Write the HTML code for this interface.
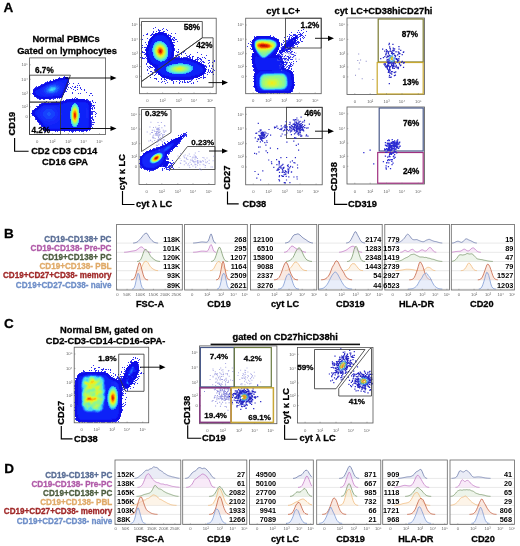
<!DOCTYPE html>
<html><head><meta charset="utf-8"><style>
html,body{margin:0;padding:0;background:#fff;}
svg{display:block;font-family:"Liberation Sans", sans-serif;will-change:transform;}
</style></head><body>
<svg width="520" height="546" viewBox="0 0 520 546">
<rect width="520" height="546" fill="#fff"/>
<text x="3.40" y="12.20" font-size="13.5" text-anchor="start" fill="#000" stroke="#000" stroke-width="0.28" font-weight="bold">A</text>
<text x="66.00" y="42.30" font-size="9.3" text-anchor="middle" fill="#000" stroke="#000" stroke-width="0.28" font-weight="bold">Normal PBMCs</text>
<text x="67.00" y="53.60" font-size="9.3" text-anchor="middle" fill="#000" stroke="#000" stroke-width="0.28" font-weight="bold">Gated on lymphocytes</text>
<defs><clipPath id="d1"><rect x="29.6" y="57.9" width="76.0" height="76.5"/></clipPath><filter id="blurd1" x="-5%" y="-5%" width="110%" height="110%"><feGaussianBlur stdDeviation="0.35"/></filter></defs><g clip-path="url(#d1)"><g filter="url(#blurd1)"><path fill="#3030ee" d="M64 76h1v1h-1zM59 77h1v1h-1zM53 79h1v1h-1zM55 79h1v1h-1zM50 80h1v1h-1zM47 81h1v1h-1zM49 81h1v1h-1zM45 82h2v1h-2zM44 83h1v1h-1zM69 83h1v1h-1zM73 83h1v1h-1zM78 83h1v1h-1zM41 84h2v1h-2zM68 84h1v1h-1zM40 85h1v1h-1zM77 85h1v1h-1zM79 85h1v1h-1zM36 86h1v1h-1zM38 86h1v1h-1zM67 86h1v1h-1zM72 86h1v1h-1zM75 86h1v1h-1zM35 87h2v1h-2zM68 87h1v1h-1zM70 87h1v1h-1zM74 87h2v1h-2zM77 87h1v1h-1zM80 87h1v1h-1zM34 88h1v1h-1zM71 88h1v1h-1zM80 88h1v1h-1zM33 89h1v1h-1zM67 89h1v1h-1zM73 89h1v1h-1zM77 89h1v1h-1zM81 89h1v1h-1zM84 89h1v1h-1zM75 90h1v1h-1zM84 90h1v1h-1zM65 91h2v1h-2zM72 92h1v1h-1zM86 92h1v1h-1zM32 93h1v1h-1zM72 93h1v1h-1zM78 93h1v1h-1zM80 93h1v1h-1zM90 93h2v1h-2zM89 95h1v1h-1zM92 95h1v1h-1zM34 96h1v1h-1zM36 97h1v1h-1zM75 97h1v1h-1zM37 98h2v1h-2zM52 98h4v1h-4zM57 98h1v1h-1zM59 98h1v1h-1zM72 98h1v1h-1zM74 98h1v1h-1zM76 98h2v1h-2zM39 99h2v1h-2zM43 99h2v1h-2zM49 99h2v1h-2zM53 99h1v1h-1zM66 99h3v1h-3zM86 99h2v1h-2zM63 100h1v1h-1zM87 100h2v1h-2zM92 100h1v1h-1zM46 101h1v1h-1zM56 101h1v1h-1zM60 101h2v1h-2zM89 101h2v1h-2zM92 101h1v1h-1zM44 102h2v1h-2zM48 102h1v1h-1zM90 102h1v1h-1zM93 102h1v1h-1zM95 102h1v1h-1zM41 103h1v1h-1zM91 103h1v1h-1zM39 104h1v1h-1zM91 104h1v1h-1zM91 105h4v1h-4zM36 106h2v1h-2zM91 106h1v1h-1zM93 106h1v1h-1zM92 107h1v1h-1zM94 107h1v1h-1zM91 108h2v1h-2zM94 108h1v1h-1zM92 109h1v1h-1zM32 110h1v1h-1zM91 111h4v1h-4zM91 112h2v1h-2zM95 112h1v1h-1zM31 113h1v1h-1zM91 113h2v1h-2zM96 113h1v1h-1zM91 114h2v1h-2zM95 114h1v1h-1zM32 115h1v1h-1zM92 116h1v1h-1zM95 116h1v1h-1zM91 117h2v1h-2zM35 118h1v1h-1zM91 118h2v1h-2zM35 119h1v1h-1zM92 119h2v1h-2zM91 120h1v1h-1zM93 120h1v1h-1zM37 121h1v1h-1zM91 121h1v1h-1zM38 122h1v1h-1zM91 122h4v1h-4zM39 123h1v1h-1zM91 123h1v1h-1zM39 124h2v1h-2zM91 124h3v1h-3zM91 125h1v1h-1zM41 126h1v1h-1zM91 126h1v1h-1zM92 127h1v1h-1zM42 128h1v1h-1zM91 128h1v1h-1zM43 129h1v1h-1zM90 129h1v1h-1zM89 130h1v1h-1zM44 131h2v1h-2zM47 131h1v1h-1zM55 131h1v1h-1zM57 131h1v1h-1zM64 131h1v1h-1zM69 131h1v1h-1zM71 131h3v1h-3zM75 131h1v1h-1zM79 131h1v1h-1zM81 131h3v1h-3zM86 131h1v1h-1zM72 132h1v1h-1z"/><path fill="#0c0ce8" d="M63 77h5v1h-5zM58 78h11v1h-11zM56 79h13v1h-13zM53 80h16v1h-16zM50 81h19v1h-19zM47 82h22v1h-22zM45 83h23v1h-23zM43 84h25v1h-25zM41 85h27v1h-27zM39 86h28v1h-28zM37 87h30v1h-30zM35 88h32v1h-32zM34 89h32v1h-32zM33 90h33v1h-33zM33 91h32v1h-32zM33 92h32v1h-32zM33 93h31v1h-31zM33 94h31v1h-31zM34 95h29v1h-29zM35 96h28v1h-28zM37 97h25v1h-25zM39 98h13v1h-13zM69 99h16v1h-16zM65 100h22v1h-22zM62 101h27v1h-27zM51 102h39v1h-39zM42 103h49v1h-49zM40 104h51v1h-51zM39 105h52v1h-52zM38 106h53v1h-53zM37 107h54v1h-54zM35 108h56v1h-56zM34 109h57v1h-57zM33 110h58v1h-58zM32 111h59v1h-59zM32 112h59v1h-59zM32 113h59v1h-59zM32 114h59v1h-59zM33 115h58v1h-58zM34 116h57v1h-57zM35 117h56v1h-56zM36 118h55v1h-55zM36 119h55v1h-55zM37 120h54v1h-54zM38 121h53v1h-53zM39 122h52v1h-52zM40 123h51v1h-51zM41 124h50v1h-50zM41 125h50v1h-50zM42 126h49v1h-49zM43 127h48v1h-48zM43 128h48v1h-48zM44 129h46v1h-46zM45 130h43v1h-43z"/><path fill="#101af6" d="M65 79h1v1h-1zM59 80h8v1h-8zM56 81h11v1h-11zM53 82h13v1h-13zM50 83h16v1h-16zM47 84h19v1h-19zM45 85h20v1h-20zM43 86h22v1h-22zM41 87h24v1h-24zM40 88h24v1h-24zM38 89h26v1h-26zM36 90h27v1h-27zM35 91h28v1h-28zM35 92h27v1h-27zM36 93h26v1h-26zM36 94h25v1h-25zM38 95h22v1h-22zM40 96h13v1h-13zM67 102h19v1h-19zM63 103h25v1h-25zM59 104h29v1h-29zM43 105h46v1h-46zM41 106h48v1h-48zM40 107h49v1h-49zM39 108h50v1h-50zM38 109h51v1h-51zM36 110h53v1h-53zM35 111h54v1h-54zM35 112h54v1h-54zM35 113h54v1h-54zM35 114h54v1h-54zM36 115h53v1h-53zM37 116h52v1h-52zM38 117h51v1h-51zM38 118h51v1h-51zM39 119h50v1h-50zM40 120h49v1h-49zM41 121h48v1h-48zM42 122h47v1h-47zM43 123h46v1h-46zM43 124h46v1h-46zM44 125h45v1h-45zM45 126h44v1h-44zM45 127h43v1h-43zM47 128h14v1h-14zM64 128h23v1h-23z"/><path fill="#1121f8" d="M62 80h4v1h-4zM57 81h9v1h-9zM54 82h12v1h-12zM51 83h15v1h-15zM48 84h17v1h-17zM46 85h19v1h-19zM44 86h21v1h-21zM42 87h22v1h-22zM40 88h24v1h-24zM39 89h25v1h-25zM37 90h26v1h-26zM36 91h27v1h-27zM36 92h26v1h-26zM36 93h25v1h-25zM37 94h24v1h-24zM39 95h19v1h-19zM44 96h4v1h-4zM66 103h21v1h-21zM63 104h25v1h-25zM44 105h44v1h-44zM42 106h46v1h-46zM41 107h47v1h-47zM39 108h49v1h-49zM38 109h50v1h-50zM37 110h52v1h-52zM36 111h53v1h-53zM35 112h54v1h-54zM35 113h54v1h-54zM36 114h53v1h-53zM37 115h52v1h-52zM37 116h52v1h-52zM38 117h51v1h-51zM39 118h50v1h-50zM40 119h48v1h-48zM41 120h47v1h-47zM42 121h46v1h-46zM42 122h46v1h-46zM43 123h45v1h-45zM44 124h44v1h-44zM45 125h43v1h-43zM46 126h42v1h-42zM47 127h16v1h-16zM65 127h22v1h-22z"/><path fill="#1228fa" d="M56 82h6v1h-6zM52 83h12v1h-12zM49 84h15v1h-15zM46 85h18v1h-18zM45 86h19v1h-19zM43 87h21v1h-21zM42 88h21v1h-21zM41 89h22v1h-22zM40 90h22v1h-22zM40 91h22v1h-22zM40 92h21v1h-21zM40 93h20v1h-20zM41 94h17v1h-17zM43 95h10v1h-10zM74 103h2v1h-2zM73 104h4v1h-4zM72 105h6v1h-6zM43 106h14v1h-14zM72 106h6v1h-6zM42 107h17v1h-17zM71 107h8v1h-8zM41 108h19v1h-19zM71 108h8v1h-8zM86 108h1v1h-1zM39 109h21v1h-21zM71 109h8v1h-8zM86 109h1v1h-1zM38 110h23v1h-23zM71 110h8v1h-8zM86 110h2v1h-2zM38 111h23v1h-23zM70 111h9v1h-9zM86 111h2v1h-2zM37 112h24v1h-24zM70 112h9v1h-9zM86 112h2v1h-2zM37 113h25v1h-25zM70 113h10v1h-10zM86 113h2v1h-2zM37 114h25v1h-25zM70 114h10v1h-10zM86 114h2v1h-2zM38 115h23v1h-23zM70 115h10v1h-10zM86 115h2v1h-2zM38 116h23v1h-23zM70 116h10v1h-10zM86 116h2v1h-2zM39 117h22v1h-22zM70 117h10v1h-10zM86 117h2v1h-2zM40 118h20v1h-20zM70 118h9v1h-9zM41 119h19v1h-19zM71 119h8v1h-8zM42 120h17v1h-17zM71 120h8v1h-8zM43 121h15v1h-15zM71 121h8v1h-8zM44 122h13v1h-13zM71 122h8v1h-8zM45 123h10v1h-10zM71 123h7v1h-7zM47 124h5v1h-5zM72 124h6v1h-6zM72 125h5v1h-5zM73 126h4v1h-4z"/><path fill="#142ffc" d="M54 83h4v1h-4zM50 84h10v1h-10zM48 85h13v1h-13zM46 86h16v1h-16zM44 87h18v1h-18zM43 88h19v1h-19zM43 89h19v1h-19zM42 90h19v1h-19zM42 91h18v1h-18zM43 92h16v1h-16zM44 93h13v1h-13zM45 94h9v1h-9zM74 103h2v1h-2zM73 104h4v1h-4zM72 105h6v1h-6zM72 106h6v1h-6zM45 107h9v1h-9zM71 107h8v1h-8zM43 108h12v1h-12zM71 108h8v1h-8zM42 109h14v1h-14zM71 109h8v1h-8zM41 110h16v1h-16zM71 110h8v1h-8zM41 111h16v1h-16zM70 111h9v1h-9zM40 112h18v1h-18zM70 112h9v1h-9zM40 113h18v1h-18zM70 113h10v1h-10zM40 114h18v1h-18zM70 114h10v1h-10zM40 115h18v1h-18zM70 115h10v1h-10zM41 116h16v1h-16zM70 116h10v1h-10zM41 117h16v1h-16zM70 117h10v1h-10zM42 118h14v1h-14zM70 118h9v1h-9zM43 119h12v1h-12zM71 119h8v1h-8zM44 120h10v1h-10zM71 120h8v1h-8zM48 121h2v1h-2zM71 121h8v1h-8zM71 122h8v1h-8zM71 123h7v1h-7zM72 124h6v1h-6zM72 125h5v1h-5zM73 126h4v1h-4z"/><path fill="#1742fd" d="M53 84h3v1h-3zM49 85h10v1h-10zM47 86h13v1h-13zM46 87h14v1h-14zM45 88h15v1h-15zM44 89h16v1h-16zM44 90h15v1h-15zM44 91h14v1h-14zM45 92h12v1h-12zM46 93h8v1h-8zM74 103h2v1h-2zM73 104h4v1h-4zM72 105h6v1h-6zM72 106h6v1h-6zM71 107h8v1h-8zM71 108h8v1h-8zM46 109h6v1h-6zM71 109h8v1h-8zM45 110h8v1h-8zM71 110h8v1h-8zM44 111h10v1h-10zM70 111h9v1h-9zM43 112h12v1h-12zM70 112h9v1h-9zM43 113h12v1h-12zM70 113h10v1h-10zM43 114h12v1h-12zM70 114h10v1h-10zM43 115h12v1h-12zM70 115h10v1h-10zM44 116h10v1h-10zM70 116h10v1h-10zM45 117h8v1h-8zM70 117h10v1h-10zM46 118h6v1h-6zM70 118h9v1h-9zM71 119h8v1h-8zM71 120h8v1h-8zM71 121h8v1h-8zM71 122h8v1h-8zM71 123h7v1h-7zM72 124h6v1h-6zM72 125h5v1h-5zM73 126h4v1h-4z"/><path fill="#1c58fe" d="M51 85h5v1h-5zM49 86h9v1h-9zM47 87h12v1h-12zM46 88h13v1h-13zM46 89h12v1h-12zM46 90h12v1h-12zM46 91h11v1h-11zM47 92h8v1h-8zM74 103h2v1h-2zM73 104h4v1h-4zM72 105h6v1h-6zM72 106h6v1h-6zM71 107h8v1h-8zM71 108h8v1h-8zM71 109h8v1h-8zM71 110h8v1h-8zM70 111h9v1h-9zM48 112h2v1h-2zM70 112h9v1h-9zM47 113h4v1h-4zM70 113h10v1h-10zM47 114h4v1h-4zM70 114h10v1h-10zM48 115h2v1h-2zM70 115h10v1h-10zM70 116h10v1h-10zM70 117h10v1h-10zM70 118h9v1h-9zM71 119h8v1h-8zM71 120h8v1h-8zM71 121h8v1h-8zM71 122h8v1h-8zM71 123h7v1h-7zM72 124h6v1h-6zM72 125h5v1h-5zM73 126h4v1h-4z"/><path fill="#206eff" d="M50 86h6v1h-6zM49 87h8v1h-8zM48 88h10v1h-10zM47 89h10v1h-10zM47 90h9v1h-9zM47 91h8v1h-8zM49 92h4v1h-4zM74 103h2v1h-2zM73 104h4v1h-4zM72 105h6v1h-6zM72 106h6v1h-6zM71 107h8v1h-8zM71 108h8v1h-8zM71 109h8v1h-8zM71 110h8v1h-8zM70 111h9v1h-9zM70 112h9v1h-9zM70 113h10v1h-10zM70 114h10v1h-10zM70 115h10v1h-10zM70 116h10v1h-10zM70 117h10v1h-10zM70 118h9v1h-9zM71 119h8v1h-8zM71 120h8v1h-8zM71 121h8v1h-8zM71 122h8v1h-8zM71 123h7v1h-7zM72 124h6v1h-6zM72 125h5v1h-5zM73 126h4v1h-4z"/><path fill="#278dfe" d="M50 87h6v1h-6zM49 88h7v1h-7zM48 89h8v1h-8zM48 90h7v1h-7zM49 91h5v1h-5zM74 103h2v1h-2zM73 104h4v1h-4zM72 105h6v1h-6zM72 106h6v1h-6zM71 107h8v1h-8zM71 108h8v1h-8zM71 109h8v1h-8zM71 110h8v1h-8zM70 111h9v1h-9zM70 112h9v1h-9zM70 113h10v1h-10zM70 114h10v1h-10zM70 115h10v1h-10zM70 116h10v1h-10zM70 117h10v1h-10zM70 118h9v1h-9zM71 119h8v1h-8zM71 120h8v1h-8zM71 121h8v1h-8zM71 122h8v1h-8zM71 123h7v1h-7zM72 124h6v1h-6zM72 125h5v1h-5zM73 126h4v1h-4z"/><path fill="#2facfc" d="M51 87h4v1h-4zM50 88h6v1h-6zM49 89h6v1h-6zM49 90h5v1h-5zM74 103h2v1h-2zM73 104h4v1h-4zM72 105h6v1h-6zM72 106h6v1h-6zM71 107h8v1h-8zM71 108h8v1h-8zM71 109h8v1h-8zM71 110h8v1h-8zM70 111h9v1h-9zM70 112h9v1h-9zM70 113h10v1h-10zM70 114h10v1h-10zM70 115h10v1h-10zM70 116h10v1h-10zM70 117h10v1h-10zM70 118h9v1h-9zM71 119h8v1h-8zM71 120h8v1h-8zM71 121h8v1h-8zM71 122h8v1h-8zM71 123h7v1h-7zM72 124h6v1h-6zM72 125h5v1h-5zM73 126h4v1h-4z"/><path fill="#3bc6f7" d="M51 88h4v1h-4zM50 89h5v1h-5zM50 90h3v1h-3zM74 103h1v1h-1zM73 104h4v1h-4zM72 105h5v1h-5zM72 106h6v1h-6zM72 107h6v1h-6zM71 108h8v1h-8zM71 109h8v1h-8zM71 110h8v1h-8zM71 111h8v1h-8zM71 112h8v1h-8zM70 113h9v1h-9zM70 114h9v1h-9zM70 115h9v1h-9zM70 116h9v1h-9zM71 117h8v1h-8zM71 118h8v1h-8zM71 119h8v1h-8zM71 120h8v1h-8zM71 121h8v1h-8zM71 122h7v1h-7zM72 123h6v1h-6zM72 124h6v1h-6zM73 125h4v1h-4zM74 126h2v1h-2z"/><path fill="#4adbef" d="M51 89h2v1h-2zM74 104h2v1h-2zM73 105h4v1h-4zM72 106h6v1h-6zM72 107h6v1h-6zM71 108h7v1h-7zM71 109h8v1h-8zM71 110h8v1h-8zM71 111h8v1h-8zM71 112h8v1h-8zM71 113h8v1h-8zM71 114h8v1h-8zM71 115h8v1h-8zM71 116h8v1h-8zM71 117h8v1h-8zM71 118h8v1h-8zM71 119h8v1h-8zM71 120h8v1h-8zM71 121h7v1h-7zM72 122h6v1h-6zM72 123h6v1h-6zM73 124h4v1h-4zM73 125h3v1h-3z"/><path fill="#5be8dc" d="M73 105h4v1h-4zM73 106h4v1h-4zM72 107h6v1h-6zM72 108h6v1h-6zM71 109h7v1h-7zM71 110h8v1h-8zM71 111h8v1h-8zM71 112h8v1h-8zM71 113h8v1h-8zM71 114h8v1h-8zM71 115h8v1h-8zM71 116h8v1h-8zM71 117h8v1h-8zM71 118h8v1h-8zM71 119h8v1h-8zM71 120h7v1h-7zM72 121h6v1h-6zM72 122h6v1h-6zM72 123h5v1h-5zM73 124h4v1h-4zM74 125h2v1h-2z"/><path fill="#6deec1" d="M74 105h2v1h-2zM73 106h4v1h-4zM72 107h5v1h-5zM72 108h6v1h-6zM72 109h6v1h-6zM72 110h6v1h-6zM71 111h7v1h-7zM71 112h8v1h-8zM71 113h8v1h-8zM71 114h8v1h-8zM71 115h8v1h-8zM71 116h8v1h-8zM71 117h8v1h-8zM71 118h8v1h-8zM71 119h7v1h-7zM72 120h6v1h-6zM72 121h6v1h-6zM72 122h6v1h-6zM73 123h4v1h-4zM74 124h2v1h-2z"/><path fill="#7ef4a5" d="M73 106h3v1h-3zM73 107h4v1h-4zM72 108h5v1h-5zM72 109h6v1h-6zM72 110h6v1h-6zM72 111h6v1h-6zM71 112h7v1h-7zM71 113h7v1h-7zM71 114h8v1h-8zM71 115h8v1h-8zM71 116h7v1h-7zM71 117h7v1h-7zM72 118h6v1h-6zM72 119h6v1h-6zM72 120h6v1h-6zM72 121h6v1h-6zM73 122h4v1h-4zM73 123h4v1h-4zM74 124h1v1h-1z"/><path fill="#92f68c" d="M74 106h2v1h-2zM73 107h4v1h-4zM73 108h4v1h-4zM72 109h6v1h-6zM72 110h6v1h-6zM72 111h6v1h-6zM72 112h6v1h-6zM72 113h6v1h-6zM72 114h6v1h-6zM72 115h6v1h-6zM72 116h6v1h-6zM72 117h6v1h-6zM72 118h6v1h-6zM72 119h6v1h-6zM72 120h6v1h-6zM73 121h4v1h-4zM73 122h4v1h-4zM74 123h2v1h-2z"/><path fill="#a5f873" d="M74 107h2v1h-2zM73 108h4v1h-4zM73 109h4v1h-4zM72 110h6v1h-6zM72 111h6v1h-6zM72 112h6v1h-6zM72 113h6v1h-6zM72 114h6v1h-6zM72 115h6v1h-6zM72 116h6v1h-6zM72 117h6v1h-6zM72 118h6v1h-6zM72 119h6v1h-6zM72 120h5v1h-5zM73 121h4v1h-4zM73 122h3v1h-3z"/><path fill="#b9fa5a" d="M73 108h3v1h-3zM73 109h4v1h-4zM73 110h4v1h-4zM72 111h5v1h-5zM72 112h6v1h-6zM72 113h6v1h-6zM72 114h6v1h-6zM72 115h6v1h-6zM72 116h6v1h-6zM72 117h6v1h-6zM72 118h6v1h-6zM72 119h5v1h-5zM73 120h4v1h-4zM73 121h4v1h-4zM74 122h2v1h-2z"/><path fill="#cdf645" d="M74 108h2v1h-2zM73 109h4v1h-4zM73 110h4v1h-4zM73 111h4v1h-4zM72 112h5v1h-5zM72 113h6v1h-6zM72 114h6v1h-6zM72 115h6v1h-6zM72 116h6v1h-6zM72 117h5v1h-5zM72 118h5v1h-5zM73 119h4v1h-4zM73 120h4v1h-4zM74 121h2v1h-2z"/><path fill="#e0f32f" d="M74 109h2v1h-2zM73 110h4v1h-4zM73 111h4v1h-4zM73 112h4v1h-4zM72 113h5v1h-5zM72 114h5v1h-5zM72 115h5v1h-5zM72 116h5v1h-5zM73 117h4v1h-4zM73 118h4v1h-4zM73 119h4v1h-4zM73 120h3v1h-3zM74 121h2v1h-2z"/><path fill="#f1eb1c" d="M74 109h2v1h-2zM74 110h2v1h-2zM73 111h4v1h-4zM73 112h4v1h-4zM73 113h4v1h-4zM73 114h4v1h-4zM73 115h4v1h-4zM73 116h4v1h-4zM73 117h4v1h-4zM73 118h4v1h-4zM73 119h3v1h-3zM74 120h2v1h-2z"/><path fill="#f6d213" d="M74 110h2v1h-2zM73 111h3v1h-3zM73 112h4v1h-4zM73 113h4v1h-4zM73 114h4v1h-4zM73 115h4v1h-4zM73 116h4v1h-4zM73 117h4v1h-4zM73 118h4v1h-4zM74 119h2v1h-2z"/><path fill="#fab909" d="M74 111h2v1h-2zM73 112h3v1h-3zM73 113h4v1h-4zM73 114h4v1h-4zM73 115h4v1h-4zM73 116h4v1h-4zM73 117h3v1h-3zM74 118h2v1h-2zM74 119h2v1h-2z"/><path fill="#ffa000" d="M74 111h2v1h-2zM74 112h2v1h-2zM73 113h3v1h-3zM73 114h3v1h-3zM73 115h3v1h-3zM73 116h3v1h-3zM74 117h2v1h-2zM74 118h2v1h-2z"/><path fill="#fa7c00" d="M74 112h2v1h-2zM74 113h2v1h-2zM74 114h2v1h-2zM74 115h2v1h-2zM74 116h2v1h-2zM74 117h2v1h-2zM74 118h1v1h-1z"/><path fill="#f45900" d="M74 113h2v1h-2zM74 114h2v1h-2zM74 115h2v1h-2zM74 116h2v1h-2zM74 117h2v1h-2z"/><path fill="#ed3900" d="M74 113h1v1h-1zM74 114h2v1h-2zM74 115h2v1h-2zM74 116h2v1h-2z"/><path fill="#db2b00" d="M74 114h1v1h-1zM74 115h1v1h-1z"/></g></g>
<defs><clipPath id="d2"><rect x="139.6" y="18.2" width="76.6" height="75.5"/></clipPath><filter id="blurd2" x="-5%" y="-5%" width="110%" height="110%"><feGaussianBlur stdDeviation="0.35"/></filter></defs><g clip-path="url(#d2)"><g filter="url(#blurd2)"><path fill="#3030ee" d="M155 27h1v1h-1zM153 28h1v1h-1zM163 28h1v1h-1zM158 29h1v1h-1zM162 29h1v1h-1zM166 29h1v1h-1zM158 30h3v1h-3zM167 30h1v1h-1zM153 31h1v1h-1zM156 31h1v1h-1zM159 31h1v1h-1zM163 31h2v1h-2zM153 32h1v1h-1zM163 32h1v1h-1zM147 33h1v1h-1zM152 33h1v1h-1zM166 33h1v1h-1zM171 33h1v1h-1zM175 33h1v1h-1zM146 34h2v1h-2zM151 34h3v1h-3zM168 34h1v1h-1zM143 35h1v1h-1zM150 35h2v1h-2zM168 35h3v1h-3zM170 36h2v1h-2zM170 37h1v1h-1zM173 37h2v1h-2zM147 38h1v1h-1zM172 38h1v1h-1zM174 38h1v1h-1zM142 39h1v1h-1zM149 39h1v1h-1zM171 39h3v1h-3zM175 39h2v1h-2zM173 40h2v1h-2zM148 41h1v1h-1zM177 41h1v1h-1zM145 42h1v1h-1zM173 42h2v1h-2zM146 44h1v1h-1zM173 44h1v1h-1zM142 45h1v1h-1zM174 45h1v1h-1zM142 47h1v1h-1zM144 47h3v1h-3zM141 48h1v1h-1zM174 48h1v1h-1zM145 49h1v1h-1zM174 49h1v1h-1zM178 49h1v1h-1zM145 50h1v1h-1zM174 50h1v1h-1zM142 51h1v1h-1zM176 51h1v1h-1zM178 51h1v1h-1zM184 51h1v1h-1zM142 52h3v1h-3zM177 52h2v1h-2zM181 52h1v1h-1zM183 52h1v1h-1zM197 52h1v1h-1zM145 53h1v1h-1zM181 53h1v1h-1zM185 53h1v1h-1zM144 54h2v1h-2zM177 54h1v1h-1zM181 54h1v1h-1zM190 54h1v1h-1zM201 54h1v1h-1zM141 55h1v1h-1zM175 55h2v1h-2zM186 55h1v1h-1zM189 55h1v1h-1zM206 55h1v1h-1zM146 56h1v1h-1zM173 56h1v1h-1zM178 56h2v1h-2zM187 56h3v1h-3zM192 56h2v1h-2zM140 57h1v1h-1zM142 57h1v1h-1zM145 57h1v1h-1zM173 57h7v1h-7zM181 57h1v1h-1zM183 57h5v1h-5zM189 57h2v1h-2zM192 57h1v1h-1zM197 57h2v1h-2zM202 57h1v1h-1zM204 57h1v1h-1zM142 58h3v1h-3zM146 58h1v1h-1zM189 58h2v1h-2zM192 58h1v1h-1zM197 58h1v1h-1zM199 58h2v1h-2zM205 58h1v1h-1zM195 59h4v1h-4zM200 59h2v1h-2zM147 60h1v1h-1zM197 60h1v1h-1zM201 60h1v1h-1zM208 60h2v1h-2zM214 60h1v1h-1zM147 61h1v1h-1zM200 61h1v1h-1zM202 61h2v1h-2zM214 61h1v1h-1zM147 62h2v1h-2zM201 62h1v1h-1zM203 62h2v1h-2zM209 62h1v1h-1zM212 62h1v1h-1zM146 63h1v1h-1zM149 63h1v1h-1zM201 63h1v1h-1zM208 63h1v1h-1zM146 64h1v1h-1zM150 64h1v1h-1zM203 64h1v1h-1zM204 65h2v1h-2zM209 65h1v1h-1zM212 65h1v1h-1zM147 66h1v1h-1zM149 66h2v1h-2zM205 66h2v1h-2zM209 66h1v1h-1zM212 66h1v1h-1zM148 67h1v1h-1zM150 67h3v1h-3zM154 67h1v1h-1zM206 67h1v1h-1zM149 68h1v1h-1zM211 68h1v1h-1zM147 69h1v1h-1zM154 69h1v1h-1zM206 69h1v1h-1zM208 69h1v1h-1zM213 69h1v1h-1zM147 70h1v1h-1zM154 70h1v1h-1zM208 70h1v1h-1zM210 70h1v1h-1zM214 70h1v1h-1zM150 71h2v1h-2zM208 71h1v1h-1zM210 71h1v1h-1zM212 71h1v1h-1zM152 72h1v1h-1zM155 72h2v1h-2zM207 72h1v1h-1zM209 72h1v1h-1zM211 72h2v1h-2zM148 73h1v1h-1zM156 73h1v1h-1zM204 73h2v1h-2zM151 74h2v1h-2zM155 74h1v1h-1zM158 74h1v1h-1zM203 74h1v1h-1zM207 74h1v1h-1zM213 74h1v1h-1zM150 75h1v1h-1zM154 75h1v1h-1zM203 75h1v1h-1zM203 76h1v1h-1zM150 77h1v1h-1zM162 77h1v1h-1zM200 77h2v1h-2zM203 77h3v1h-3zM154 78h3v1h-3zM161 78h1v1h-1zM164 78h1v1h-1zM166 78h1v1h-1zM198 78h2v1h-2zM203 78h1v1h-1zM156 79h1v1h-1zM161 79h1v1h-1zM164 79h2v1h-2zM169 79h2v1h-2zM190 79h3v1h-3zM196 79h1v1h-1zM166 80h1v1h-1zM171 80h2v1h-2zM179 80h1v1h-1zM184 80h1v1h-1zM191 80h1v1h-1zM158 81h1v1h-1zM162 81h1v1h-1zM164 81h1v1h-1zM173 81h1v1h-1zM176 81h1v1h-1zM180 81h1v1h-1zM182 81h1v1h-1zM184 81h1v1h-1zM187 81h1v1h-1zM189 81h2v1h-2zM197 81h1v1h-1zM161 82h1v1h-1zM167 82h1v1h-1zM173 82h1v1h-1zM179 82h1v1h-1zM182 82h1v1h-1zM184 82h2v1h-2zM187 82h2v1h-2zM193 82h1v1h-1zM165 83h1v1h-1zM173 83h1v1h-1zM179 83h1v1h-1zM191 83h1v1h-1zM193 83h1v1h-1z"/><path fill="#0c0ce8" d="M158 32h5v1h-5zM155 33h11v1h-11zM154 34h13v1h-13zM153 35h15v1h-15zM152 36h17v1h-17zM151 37h19v1h-19zM150 38h21v1h-21zM150 39h21v1h-21zM149 40h23v1h-23zM149 41h23v1h-23zM148 42h25v1h-25zM148 43h25v1h-25zM148 44h25v1h-25zM147 45h27v1h-27zM147 46h27v1h-27zM147 47h27v1h-27zM146 48h28v1h-28zM146 49h28v1h-28zM146 50h28v1h-28zM146 51h28v1h-28zM146 52h28v1h-28zM146 53h28v1h-28zM146 54h28v1h-28zM146 55h28v1h-28zM147 56h26v1h-26zM147 57h26v1h-26zM147 58h42v1h-42zM147 59h46v1h-46zM148 60h48v1h-48zM148 61h50v1h-50zM149 62h51v1h-51zM150 63h51v1h-51zM151 64h52v1h-52zM152 65h52v1h-52zM153 66h52v1h-52zM155 67h50v1h-50zM155 68h51v1h-51zM155 69h51v1h-51zM155 70h51v1h-51zM156 71h50v1h-50zM157 72h48v1h-48zM158 73h46v1h-46zM159 74h44v1h-44zM160 75h42v1h-42zM161 76h39v1h-39zM163 77h35v1h-35zM167 78h27v1h-27zM171 79h19v1h-19z"/><path fill="#101af6" d="M157 35h7v1h-7zM155 36h11v1h-11zM154 37h13v1h-13zM153 38h15v1h-15zM152 39h17v1h-17zM152 40h17v1h-17zM152 41h18v1h-18zM151 42h19v1h-19zM151 43h19v1h-19zM150 44h21v1h-21zM150 45h21v1h-21zM150 46h21v1h-21zM149 47h23v1h-23zM149 48h23v1h-23zM149 49h23v1h-23zM149 50h23v1h-23zM148 51h24v1h-24zM148 52h23v1h-23zM148 53h23v1h-23zM149 54h22v1h-22zM149 55h22v1h-22zM149 56h22v1h-22zM149 57h21v1h-21zM150 58h19v1h-19zM150 59h18v1h-18zM151 60h17v1h-17zM170 60h17v1h-17zM151 61h40v1h-40zM152 62h42v1h-42zM153 63h44v1h-44zM156 64h42v1h-42zM158 65h42v1h-42zM158 66h43v1h-43zM158 67h44v1h-44zM158 68h45v1h-45zM158 69h45v1h-45zM158 70h45v1h-45zM159 71h44v1h-44zM160 72h42v1h-42zM161 73h39v1h-39zM162 74h37v1h-37zM165 75h30v1h-30zM169 76h22v1h-22z"/><path fill="#1121f8" d="M157 36h7v1h-7zM156 37h9v1h-9zM155 38h11v1h-11zM154 39h13v1h-13zM153 40h15v1h-15zM153 41h15v1h-15zM152 42h17v1h-17zM152 43h17v1h-17zM151 44h18v1h-18zM151 45h19v1h-19zM151 46h19v1h-19zM150 47h20v1h-20zM150 48h21v1h-21zM150 49h21v1h-21zM150 50h21v1h-21zM149 51h21v1h-21zM149 52h21v1h-21zM150 53h20v1h-20zM150 54h20v1h-20zM150 55h20v1h-20zM150 56h19v1h-19zM150 57h19v1h-19zM151 58h17v1h-17zM151 59h16v1h-16zM152 60h14v1h-14zM153 61h12v1h-12zM171 61h16v1h-16zM154 62h9v1h-9zM166 62h24v1h-24zM157 63h2v1h-2zM163 63h31v1h-31zM161 64h35v1h-35zM160 65h38v1h-38zM159 66h40v1h-40zM159 67h42v1h-42zM159 68h43v1h-43zM159 69h43v1h-43zM160 70h42v1h-42zM161 71h40v1h-40zM162 72h38v1h-38zM163 73h35v1h-35zM165 74h30v1h-30zM169 75h22v1h-22z"/><path fill="#1228fa" d="M157 41h5v1h-5zM155 42h9v1h-9zM154 43h11v1h-11zM154 44h12v1h-12zM153 45h14v1h-14zM153 46h14v1h-14zM153 47h15v1h-15zM152 48h16v1h-16zM152 49h16v1h-16zM152 50h16v1h-16zM152 51h16v1h-16zM153 52h15v1h-15zM153 53h15v1h-15zM153 54h15v1h-15zM153 55h15v1h-15zM154 56h14v1h-14zM154 57h13v1h-13zM155 58h12v1h-12zM156 59h10v1h-10zM158 60h7v1h-7zM160 61h2v1h-2zM178 63h5v1h-5zM172 64h17v1h-17zM169 65h22v1h-22zM167 66h26v1h-26zM166 67h27v1h-27zM166 68h27v1h-27zM166 69h27v1h-27zM166 70h26v1h-26zM167 71h24v1h-24zM169 72h20v1h-20zM172 73h14v1h-14z"/><path fill="#142ffc" d="M157 41h5v1h-5zM155 42h9v1h-9zM154 43h11v1h-11zM154 44h12v1h-12zM153 45h14v1h-14zM153 46h14v1h-14zM153 47h15v1h-15zM152 48h16v1h-16zM152 49h16v1h-16zM152 50h16v1h-16zM152 51h16v1h-16zM153 52h15v1h-15zM153 53h15v1h-15zM153 54h15v1h-15zM153 55h15v1h-15zM154 56h14v1h-14zM154 57h13v1h-13zM155 58h12v1h-12zM156 59h10v1h-10zM158 60h7v1h-7zM160 61h2v1h-2zM178 63h5v1h-5zM172 64h17v1h-17zM169 65h22v1h-22zM167 66h26v1h-26zM166 67h27v1h-27zM166 68h27v1h-27zM166 69h27v1h-27zM166 70h26v1h-26zM167 71h24v1h-24zM169 72h20v1h-20zM172 73h14v1h-14z"/><path fill="#1742fd" d="M157 41h5v1h-5zM155 42h9v1h-9zM154 43h11v1h-11zM154 44h12v1h-12zM153 45h14v1h-14zM153 46h14v1h-14zM153 47h15v1h-15zM152 48h16v1h-16zM152 49h16v1h-16zM152 50h16v1h-16zM152 51h16v1h-16zM153 52h15v1h-15zM153 53h15v1h-15zM153 54h15v1h-15zM153 55h15v1h-15zM154 56h14v1h-14zM154 57h13v1h-13zM155 58h12v1h-12zM156 59h10v1h-10zM158 60h7v1h-7zM160 61h2v1h-2zM178 63h5v1h-5zM172 64h17v1h-17zM169 65h22v1h-22zM167 66h26v1h-26zM166 67h27v1h-27zM166 68h27v1h-27zM166 69h27v1h-27zM166 70h26v1h-26zM167 71h24v1h-24zM169 72h20v1h-20zM172 73h14v1h-14z"/><path fill="#1c58fe" d="M157 41h5v1h-5zM155 42h9v1h-9zM154 43h11v1h-11zM154 44h12v1h-12zM153 45h14v1h-14zM153 46h14v1h-14zM153 47h15v1h-15zM152 48h16v1h-16zM152 49h16v1h-16zM152 50h16v1h-16zM152 51h16v1h-16zM153 52h15v1h-15zM153 53h15v1h-15zM153 54h15v1h-15zM153 55h15v1h-15zM154 56h14v1h-14zM154 57h13v1h-13zM155 58h12v1h-12zM156 59h10v1h-10zM158 60h7v1h-7zM160 61h2v1h-2zM178 63h5v1h-5zM172 64h17v1h-17zM169 65h22v1h-22zM167 66h26v1h-26zM166 67h27v1h-27zM166 68h27v1h-27zM166 69h27v1h-27zM166 70h26v1h-26zM167 71h24v1h-24zM169 72h20v1h-20zM172 73h14v1h-14z"/><path fill="#206eff" d="M157 41h5v1h-5zM155 42h9v1h-9zM154 43h11v1h-11zM154 44h12v1h-12zM153 45h14v1h-14zM153 46h14v1h-14zM153 47h15v1h-15zM152 48h16v1h-16zM152 49h16v1h-16zM152 50h16v1h-16zM152 51h16v1h-16zM153 52h15v1h-15zM153 53h15v1h-15zM153 54h15v1h-15zM153 55h15v1h-15zM154 56h14v1h-14zM154 57h13v1h-13zM155 58h12v1h-12zM156 59h10v1h-10zM158 60h7v1h-7zM160 61h2v1h-2zM178 63h5v1h-5zM172 64h17v1h-17zM169 65h22v1h-22zM167 66h26v1h-26zM166 67h27v1h-27zM166 68h27v1h-27zM166 69h27v1h-27zM166 70h26v1h-26zM167 71h24v1h-24zM169 72h20v1h-20zM172 73h14v1h-14z"/><path fill="#278dfe" d="M157 41h5v1h-5zM155 42h9v1h-9zM154 43h11v1h-11zM154 44h12v1h-12zM153 45h14v1h-14zM153 46h14v1h-14zM153 47h15v1h-15zM152 48h16v1h-16zM152 49h16v1h-16zM152 50h16v1h-16zM152 51h16v1h-16zM153 52h15v1h-15zM153 53h15v1h-15zM153 54h15v1h-15zM153 55h15v1h-15zM154 56h14v1h-14zM154 57h13v1h-13zM155 58h12v1h-12zM156 59h10v1h-10zM158 60h7v1h-7zM160 61h2v1h-2zM178 63h5v1h-5zM172 64h17v1h-17zM169 65h22v1h-22zM167 66h26v1h-26zM166 67h27v1h-27zM166 68h27v1h-27zM166 69h27v1h-27zM166 70h26v1h-26zM167 71h24v1h-24zM169 72h20v1h-20zM172 73h14v1h-14z"/><path fill="#2facfc" d="M157 41h5v1h-5zM155 42h9v1h-9zM154 43h11v1h-11zM154 44h12v1h-12zM153 45h14v1h-14zM153 46h14v1h-14zM153 47h15v1h-15zM152 48h16v1h-16zM152 49h16v1h-16zM152 50h16v1h-16zM152 51h16v1h-16zM153 52h15v1h-15zM153 53h15v1h-15zM153 54h15v1h-15zM153 55h15v1h-15zM154 56h14v1h-14zM154 57h13v1h-13zM155 58h12v1h-12zM156 59h10v1h-10zM158 60h7v1h-7zM160 61h2v1h-2zM178 63h5v1h-5zM172 64h17v1h-17zM169 65h22v1h-22zM167 66h26v1h-26zM166 67h27v1h-27zM166 68h27v1h-27zM166 69h27v1h-27zM166 70h26v1h-26zM167 71h24v1h-24zM169 72h20v1h-20zM172 73h14v1h-14z"/><path fill="#3bc6f7" d="M158 41h3v1h-3zM156 42h7v1h-7zM155 43h10v1h-10zM154 44h12v1h-12zM154 45h12v1h-12zM153 46h14v1h-14zM153 47h14v1h-14zM153 48h15v1h-15zM153 49h15v1h-15zM153 50h15v1h-15zM153 51h15v1h-15zM153 52h15v1h-15zM153 53h15v1h-15zM153 54h15v1h-15zM154 55h14v1h-14zM154 56h13v1h-13zM155 57h12v1h-12zM156 58h10v1h-10zM157 59h8v1h-8zM159 60h5v1h-5zM174 64h13v1h-13zM170 65h20v1h-20zM169 66h22v1h-22zM167 67h25v1h-25zM167 68h25v1h-25zM167 69h25v1h-25zM167 70h24v1h-24zM168 71h22v1h-22zM170 72h17v1h-17zM174 73h9v1h-9z"/><path fill="#4adbef" d="M157 42h5v1h-5zM156 43h8v1h-8zM155 44h10v1h-10zM154 45h12v1h-12zM154 46h12v1h-12zM153 47h14v1h-14zM153 48h14v1h-14zM153 49h14v1h-14zM153 50h15v1h-15zM153 51h15v1h-15zM153 52h15v1h-15zM154 53h14v1h-14zM154 54h13v1h-13zM154 55h13v1h-13zM155 56h12v1h-12zM155 57h11v1h-11zM156 58h9v1h-9zM158 59h6v1h-6zM160 60h2v1h-2zM176 64h8v1h-8zM172 65h16v1h-16zM170 66h20v1h-20zM168 67h23v1h-23zM168 68h23v1h-23zM168 69h23v1h-23zM168 70h22v1h-22zM169 71h20v1h-20zM172 72h14v1h-14z"/><path fill="#5be8dc" d="M159 42h2v1h-2zM156 43h7v1h-7zM155 44h9v1h-9zM155 45h10v1h-10zM154 46h12v1h-12zM154 47h12v1h-12zM154 48h13v1h-13zM154 49h13v1h-13zM153 50h14v1h-14zM154 51h13v1h-13zM154 52h13v1h-13zM154 53h13v1h-13zM154 54h13v1h-13zM155 55h12v1h-12zM155 56h11v1h-11zM156 57h10v1h-10zM157 58h8v1h-8zM159 59h4v1h-4zM174 65h13v1h-13zM171 66h18v1h-18zM170 67h20v1h-20zM169 68h21v1h-21zM169 69h21v1h-21zM169 70h20v1h-20zM171 71h16v1h-16zM174 72h10v1h-10z"/><path fill="#6deec1" d="M157 43h5v1h-5zM156 44h8v1h-8zM155 45h10v1h-10zM155 46h10v1h-10zM154 47h12v1h-12zM154 48h12v1h-12zM154 49h13v1h-13zM154 50h13v1h-13zM154 51h13v1h-13zM154 52h13v1h-13zM154 53h13v1h-13zM155 54h12v1h-12zM155 55h11v1h-11zM156 56h10v1h-10zM157 57h8v1h-8zM158 58h6v1h-6zM160 59h2v1h-2zM176 65h9v1h-9zM172 66h16v1h-16zM171 67h18v1h-18zM170 68h19v1h-19zM170 69h19v1h-19zM171 70h17v1h-17zM172 71h14v1h-14zM177 72h3v1h-3z"/><path fill="#7ef4a5" d="M159 43h2v1h-2zM157 44h6v1h-6zM156 45h8v1h-8zM155 46h10v1h-10zM155 47h11v1h-11zM154 48h12v1h-12zM154 49h12v1h-12zM154 50h12v1h-12zM154 51h13v1h-13zM154 52h13v1h-13zM155 53h11v1h-11zM155 54h11v1h-11zM156 55h10v1h-10zM156 56h9v1h-9zM157 57h7v1h-7zM159 58h4v1h-4zM179 65h2v1h-2zM174 66h12v1h-12zM172 67h16v1h-16zM171 68h17v1h-17zM171 69h17v1h-17zM172 70h15v1h-15zM174 71h10v1h-10z"/><path fill="#92f68c" d="M158 44h4v1h-4zM156 45h8v1h-8zM156 46h8v1h-8zM155 47h10v1h-10zM155 48h11v1h-11zM155 49h11v1h-11zM155 50h11v1h-11zM155 51h11v1h-11zM155 52h11v1h-11zM155 53h11v1h-11zM156 54h10v1h-10zM156 55h9v1h-9zM157 56h8v1h-8zM158 57h6v1h-6zM160 58h2v1h-2zM175 66h9v1h-9zM173 67h13v1h-13zM172 68h15v1h-15zM172 69h15v1h-15zM173 70h12v1h-12zM176 71h6v1h-6z"/><path fill="#a5f873" d="M159 44h2v1h-2zM157 45h6v1h-6zM156 46h8v1h-8zM156 47h9v1h-9zM155 48h10v1h-10zM155 49h10v1h-10zM155 50h11v1h-11zM155 51h11v1h-11zM155 52h11v1h-11zM156 53h10v1h-10zM156 54h9v1h-9zM157 55h8v1h-8zM157 56h7v1h-7zM159 57h4v1h-4zM178 66h4v1h-4zM174 67h11v1h-11zM173 68h13v1h-13zM173 69h12v1h-12zM175 70h9v1h-9z"/><path fill="#b9fa5a" d="M158 45h4v1h-4zM157 46h6v1h-6zM156 47h8v1h-8zM156 48h9v1h-9zM156 49h9v1h-9zM155 50h10v1h-10zM155 51h10v1h-10zM156 52h9v1h-9zM156 53h9v1h-9zM156 54h9v1h-9zM157 55h7v1h-7zM158 56h6v1h-6zM160 57h2v1h-2zM176 67h8v1h-8zM174 68h11v1h-11zM175 69h9v1h-9zM176 70h6v1h-6z"/><path fill="#cdf645" d="M159 45h2v1h-2zM157 46h6v1h-6zM157 47h7v1h-7zM156 48h8v1h-8zM156 49h9v1h-9zM156 50h9v1h-9zM156 51h9v1h-9zM156 52h9v1h-9zM156 53h9v1h-9zM157 54h7v1h-7zM158 55h6v1h-6zM159 56h4v1h-4zM178 67h4v1h-4zM176 68h7v1h-7zM176 69h7v1h-7z"/><path fill="#e0f32f" d="M158 46h4v1h-4zM157 47h6v1h-6zM157 48h7v1h-7zM156 49h8v1h-8zM156 50h8v1h-8zM156 51h9v1h-9zM156 52h9v1h-9zM157 53h7v1h-7zM157 54h7v1h-7zM158 55h5v1h-5zM160 56h1v1h-1zM177 68h5v1h-5zM177 69h4v1h-4z"/><path fill="#f1eb1c" d="M159 46h2v1h-2zM158 47h5v1h-5zM157 48h6v1h-6zM157 49h7v1h-7zM157 50h7v1h-7zM157 51h7v1h-7zM157 52h7v1h-7zM157 53h7v1h-7zM158 54h5v1h-5zM159 55h3v1h-3zM178 68h3v1h-3z"/><path fill="#f6d213" d="M158 47h4v1h-4zM158 48h5v1h-5zM157 49h6v1h-6zM157 50h7v1h-7zM157 51h7v1h-7zM157 52h7v1h-7zM158 53h5v1h-5zM158 54h5v1h-5zM160 55h1v1h-1z"/><path fill="#fab909" d="M159 47h2v1h-2zM158 48h4v1h-4zM158 49h5v1h-5zM157 50h6v1h-6zM157 51h6v1h-6zM158 52h5v1h-5zM158 53h5v1h-5zM159 54h3v1h-3z"/><path fill="#ffa000" d="M159 48h3v1h-3zM158 49h5v1h-5zM158 50h5v1h-5zM158 51h5v1h-5zM158 52h5v1h-5zM159 53h3v1h-3zM160 54h1v1h-1z"/><path fill="#fa7c00" d="M159 48h2v1h-2zM158 49h4v1h-4zM158 50h5v1h-5zM158 51h5v1h-5zM158 52h4v1h-4zM159 53h3v1h-3z"/><path fill="#f45900" d="M159 49h3v1h-3zM159 50h3v1h-3zM159 51h3v1h-3zM159 52h3v1h-3zM160 53h1v1h-1z"/><path fill="#ed3900" d="M160 49h1v1h-1zM159 50h3v1h-3zM159 51h3v1h-3zM159 52h3v1h-3z"/><path fill="#db2b00" d="M159 50h2v1h-2zM159 51h2v1h-2zM160 52h1v1h-1z"/><path fill="#ca1d00" d="M160 50h1v1h-1zM160 51h1v1h-1z"/><path fill="#b90f00" d="M160 51h1v1h-1z"/></g></g>
<defs><clipPath id="d3"><rect x="139.0" y="107.5" width="76.0" height="77.0"/></clipPath><filter id="blurd3" x="-5%" y="-5%" width="110%" height="110%"><feGaussianBlur stdDeviation="0.35"/></filter></defs><g clip-path="url(#d3)"><g filter="url(#blurd3)"><path fill="#3030ee" d="M186 132h1v1h-1zM183 133h3v1h-3zM181 134h1v1h-1zM183 134h4v1h-4zM178 135h1v1h-1zM180 135h1v1h-1zM184 135h3v1h-3zM183 136h2v1h-2zM186 136h1v1h-1zM183 137h1v1h-1zM175 138h1v1h-1zM182 138h1v1h-1zM171 139h1v1h-1zM173 139h1v1h-1zM181 139h1v1h-1zM171 140h1v1h-1zM180 140h1v1h-1zM167 141h1v1h-1zM180 141h1v1h-1zM164 142h1v1h-1zM179 142h1v1h-1zM164 143h2v1h-2zM178 143h2v1h-2zM162 144h1v1h-1zM162 145h1v1h-1zM160 146h1v1h-1zM176 146h2v1h-2zM156 147h2v1h-2zM153 148h2v1h-2zM150 149h1v1h-1zM172 150h1v1h-1zM146 151h1v1h-1zM170 151h2v1h-2zM169 152h1v1h-1zM143 153h1v1h-1zM168 153h2v1h-2zM168 154h1v1h-1zM140 156h1v1h-1zM167 156h1v1h-1zM166 157h2v1h-2zM166 158h3v1h-3zM139 159h1v1h-1zM166 159h3v1h-3zM172 160h1v1h-1zM168 161h1v1h-1zM169 162h2v1h-2zM173 162h1v1h-1zM139 163h1v1h-1zM168 163h1v1h-1zM170 163h3v1h-3zM174 163h1v1h-1zM171 164h1v1h-1zM173 164h1v1h-1zM140 165h1v1h-1zM162 165h1v1h-1zM167 165h1v1h-1zM169 165h4v1h-4zM140 166h2v1h-2zM161 166h2v1h-2zM166 166h1v1h-1zM168 166h3v1h-3zM172 166h1v1h-1zM140 167h2v1h-2zM165 167h5v1h-5zM171 167h2v1h-2zM141 168h1v1h-1zM143 168h1v1h-1zM157 168h1v1h-1zM162 168h1v1h-1zM164 168h1v1h-1zM166 168h1v1h-1zM169 168h2v1h-2zM173 168h1v1h-1zM144 169h2v1h-2zM155 169h1v1h-1zM162 169h1v1h-1zM166 169h3v1h-3zM147 170h1v1h-1zM149 170h5v1h-5zM162 170h1v1h-1zM169 170h1v1h-1zM149 171h1v1h-1z"/><path fill="#0c0ce8" d="M182 135h2v1h-2zM180 136h3v1h-3zM178 137h4v1h-4zM176 138h6v1h-6zM174 139h7v1h-7zM172 140h8v1h-8zM170 141h10v1h-10zM168 142h11v1h-11zM167 143h11v1h-11zM165 144h13v1h-13zM163 145h14v1h-14zM161 146h15v1h-15zM158 147h17v1h-17zM155 148h19v1h-19zM152 149h21v1h-21zM149 150h22v1h-22zM147 151h23v1h-23zM145 152h24v1h-24zM144 153h24v1h-24zM143 154h24v1h-24zM142 155h25v1h-25zM141 156h26v1h-26zM140 157h26v1h-26zM140 158h26v1h-26zM140 159h26v1h-26zM140 160h26v1h-26zM140 161h28v1h-28zM140 162h29v1h-29zM140 163h28v1h-28zM140 164h28v1h-28zM141 165h21v1h-21zM163 165h4v1h-4zM142 166h19v1h-19zM163 166h3v1h-3zM142 167h17v1h-17zM144 168h13v1h-13zM146 169h9v1h-9z"/><path fill="#101af6" d="M171 143h3v1h-3zM169 144h5v1h-5zM167 145h6v1h-6zM165 146h7v1h-7zM163 147h8v1h-8zM161 148h9v1h-9zM158 149h11v1h-11zM155 150h13v1h-13zM152 151h14v1h-14zM149 152h16v1h-16zM147 153h18v1h-18zM145 154h20v1h-20zM144 155h21v1h-21zM143 156h22v1h-22zM142 157h22v1h-22zM142 158h22v1h-22zM142 159h22v1h-22zM142 160h21v1h-21zM142 161h21v1h-21zM142 162h20v1h-20zM142 163h19v1h-19zM143 164h17v1h-17zM143 165h16v1h-16zM144 166h13v1h-13zM146 167h9v1h-9z"/><path fill="#1121f8" d="M172 143h1v1h-1zM170 144h3v1h-3zM168 145h5v1h-5zM166 146h6v1h-6zM164 147h7v1h-7zM162 148h8v1h-8zM159 149h10v1h-10zM156 150h11v1h-11zM153 151h13v1h-13zM150 152h15v1h-15zM148 153h17v1h-17zM146 154h19v1h-19zM145 155h19v1h-19zM144 156h20v1h-20zM143 157h21v1h-21zM142 158h22v1h-22zM142 159h22v1h-22zM142 160h21v1h-21zM142 161h20v1h-20zM142 162h19v1h-19zM143 163h18v1h-18zM143 164h17v1h-17zM144 165h14v1h-14zM145 166h11v1h-11zM148 167h6v1h-6z"/><path fill="#1228fa" d="M170 144h2v1h-2zM168 145h4v1h-4zM167 146h4v1h-4zM165 147h6v1h-6zM164 148h6v1h-6zM161 149h7v1h-7zM158 150h9v1h-9zM155 151h10v1h-10zM152 152h12v1h-12zM149 153h15v1h-15zM147 154h17v1h-17zM146 155h18v1h-18zM145 156h19v1h-19zM144 157h19v1h-19zM143 158h20v1h-20zM143 159h20v1h-20zM143 160h19v1h-19zM143 161h18v1h-18zM143 162h18v1h-18zM143 163h17v1h-17zM144 164h15v1h-15zM144 165h13v1h-13zM146 166h8v1h-8z"/><path fill="#142ffc" d="M169 145h2v1h-2zM167 146h4v1h-4zM166 147h4v1h-4zM165 148h4v1h-4zM164 149h4v1h-4zM163 150h4v1h-4zM162 151h3v1h-3zM158 152h4v1h-4zM155 153h8v1h-8zM154 154h9v1h-9zM152 155h11v1h-11zM151 156h12v1h-12zM151 157h12v1h-12zM150 158h12v1h-12zM149 159h12v1h-12zM149 160h11v1h-11zM149 161h10v1h-10zM149 162h8v1h-8zM151 163h4v1h-4z"/><path fill="#1742fd" d="M168 146h2v1h-2zM166 147h4v1h-4zM165 148h4v1h-4zM164 149h3v1h-3zM164 150h2v1h-2zM158 152h3v1h-3zM156 153h7v1h-7zM154 154h9v1h-9zM153 155h10v1h-10zM152 156h11v1h-11zM151 157h11v1h-11zM150 158h12v1h-12zM150 159h11v1h-11zM149 160h11v1h-11zM149 161h10v1h-10zM150 162h7v1h-7zM151 163h4v1h-4z"/><path fill="#1c58fe" d="M167 147h2v1h-2zM166 148h2v1h-2zM165 149h2v1h-2zM159 152h1v1h-1zM156 153h6v1h-6zM154 154h9v1h-9zM153 155h10v1h-10zM152 156h11v1h-11zM151 157h11v1h-11zM150 158h12v1h-12zM150 159h11v1h-11zM150 160h10v1h-10zM150 161h9v1h-9zM150 162h7v1h-7zM152 163h2v1h-2z"/><path fill="#206eff" d="M156 153h6v1h-6zM154 154h9v1h-9zM153 155h10v1h-10zM152 156h11v1h-11zM151 157h11v1h-11zM150 158h11v1h-11zM150 159h11v1h-11zM150 160h10v1h-10zM150 161h8v1h-8zM150 162h6v1h-6z"/><path fill="#278dfe" d="M157 153h5v1h-5zM155 154h7v1h-7zM153 155h10v1h-10zM152 156h10v1h-10zM151 157h11v1h-11zM151 158h10v1h-10zM150 159h10v1h-10zM150 160h9v1h-9zM150 161h8v1h-8zM151 162h5v1h-5z"/><path fill="#2facfc" d="M157 153h4v1h-4zM155 154h7v1h-7zM153 155h9v1h-9zM152 156h10v1h-10zM151 157h11v1h-11zM151 158h10v1h-10zM150 159h10v1h-10zM150 160h9v1h-9zM150 161h8v1h-8zM151 162h5v1h-5z"/><path fill="#3bc6f7" d="M157 153h4v1h-4zM155 154h7v1h-7zM154 155h8v1h-8zM153 156h9v1h-9zM152 157h10v1h-10zM151 158h10v1h-10zM151 159h9v1h-9zM150 160h9v1h-9zM151 161h7v1h-7zM152 162h3v1h-3z"/><path fill="#4adbef" d="M158 153h2v1h-2zM155 154h7v1h-7zM154 155h8v1h-8zM153 156h9v1h-9zM152 157h9v1h-9zM151 158h10v1h-10zM151 159h9v1h-9zM151 160h8v1h-8zM151 161h6v1h-6zM152 162h3v1h-3z"/><path fill="#5be8dc" d="M156 154h5v1h-5zM154 155h8v1h-8zM153 156h9v1h-9zM152 157h9v1h-9zM151 158h10v1h-10zM151 159h9v1h-9zM151 160h7v1h-7zM151 161h6v1h-6z"/><path fill="#6deec1" d="M156 154h5v1h-5zM154 155h7v1h-7zM153 156h8v1h-8zM152 157h9v1h-9zM152 158h8v1h-8zM151 159h8v1h-8zM151 160h7v1h-7zM152 161h5v1h-5z"/><path fill="#7ef4a5" d="M156 154h5v1h-5zM155 155h6v1h-6zM153 156h8v1h-8zM152 157h9v1h-9zM152 158h8v1h-8zM151 159h8v1h-8zM151 160h7v1h-7zM152 161h4v1h-4z"/><path fill="#92f68c" d="M157 154h3v1h-3zM155 155h6v1h-6zM154 156h7v1h-7zM153 157h8v1h-8zM152 158h8v1h-8zM152 159h7v1h-7zM152 160h6v1h-6zM152 161h4v1h-4z"/><path fill="#a5f873" d="M157 154h2v1h-2zM155 155h6v1h-6zM154 156h7v1h-7zM153 157h7v1h-7zM152 158h8v1h-8zM152 159h7v1h-7zM152 160h5v1h-5zM153 161h2v1h-2z"/><path fill="#b9fa5a" d="M155 155h5v1h-5zM154 156h6v1h-6zM153 157h7v1h-7zM152 158h7v1h-7zM152 159h7v1h-7zM152 160h5v1h-5z"/><path fill="#cdf645" d="M156 155h4v1h-4zM154 156h6v1h-6zM153 157h7v1h-7zM153 158h6v1h-6zM152 159h6v1h-6zM153 160h4v1h-4z"/><path fill="#e0f32f" d="M156 155h4v1h-4zM155 156h5v1h-5zM154 157h6v1h-6zM153 158h6v1h-6zM153 159h5v1h-5zM153 160h4v1h-4z"/><path fill="#f1eb1c" d="M157 155h2v1h-2zM155 156h5v1h-5zM154 157h5v1h-5zM153 158h6v1h-6zM153 159h5v1h-5zM153 160h3v1h-3z"/><path fill="#f6d213" d="M157 155h1v1h-1zM155 156h4v1h-4zM154 157h5v1h-5zM153 158h6v1h-6zM153 159h5v1h-5zM154 160h2v1h-2z"/><path fill="#fab909" d="M155 156h4v1h-4zM154 157h5v1h-5zM154 158h4v1h-4zM153 159h4v1h-4z"/><path fill="#ffa000" d="M156 156h3v1h-3zM154 157h5v1h-5zM154 158h4v1h-4zM154 159h3v1h-3z"/><path fill="#fa7c00" d="M156 156h2v1h-2zM155 157h3v1h-3zM154 158h4v1h-4zM154 159h3v1h-3z"/><path fill="#f45900" d="M157 156h1v1h-1zM155 157h3v1h-3zM154 158h4v1h-4zM155 159h1v1h-1z"/><path fill="#ed3900" d="M155 157h3v1h-3zM155 158h2v1h-2z"/><path fill="#db2b00" d="M156 157h2v1h-2zM155 158h2v1h-2z"/><path fill="#ca1d00" d="M156 157h1v1h-1zM155 158h2v1h-2z"/></g></g>
<defs><clipPath id="d4"><rect x="245.7" y="18.2" width="75.5" height="75.5"/></clipPath><filter id="blurd4" x="-5%" y="-5%" width="110%" height="110%"><feGaussianBlur stdDeviation="0.35"/></filter></defs><g clip-path="url(#d4)"><g filter="url(#blurd4)"><path fill="#3030ee" d="M303 29h1v1h-1zM298 30h1v1h-1zM301 30h1v1h-1zM306 31h1v1h-1zM291 32h1v1h-1zM297 32h1v1h-1zM299 32h1v1h-1zM303 32h1v1h-1zM300 33h1v1h-1zM302 33h1v1h-1zM289 34h1v1h-1zM293 34h3v1h-3zM298 34h4v1h-4zM270 35h1v1h-1zM290 35h2v1h-2zM293 35h5v1h-5zM300 35h3v1h-3zM305 35h1v1h-1zM254 36h1v1h-1zM256 36h1v1h-1zM270 36h1v1h-1zM273 36h1v1h-1zM287 36h1v1h-1zM289 36h1v1h-1zM292 36h1v1h-1zM297 36h1v1h-1zM299 36h2v1h-2zM303 36h1v1h-1zM254 37h1v1h-1zM273 37h2v1h-2zM284 37h1v1h-1zM289 37h1v1h-1zM291 37h1v1h-1zM297 37h2v1h-2zM302 37h1v1h-1zM304 37h1v1h-1zM276 38h1v1h-1zM288 38h2v1h-2zM291 38h1v1h-1zM297 38h1v1h-1zM300 38h1v1h-1zM303 38h1v1h-1zM278 39h1v1h-1zM288 39h3v1h-3zM297 39h1v1h-1zM300 39h1v1h-1zM283 40h1v1h-1zM286 40h3v1h-3zM296 40h1v1h-1zM300 40h1v1h-1zM250 41h1v1h-1zM284 41h1v1h-1zM286 41h2v1h-2zM297 41h2v1h-2zM301 41h2v1h-2zM251 42h1v1h-1zM283 42h1v1h-1zM286 42h1v1h-1zM295 42h5v1h-5zM248 43h1v1h-1zM281 43h1v1h-1zM285 43h1v1h-1zM295 43h2v1h-2zM298 43h1v1h-1zM250 44h2v1h-2zM281 44h2v1h-2zM284 44h1v1h-1zM295 44h3v1h-3zM251 45h1v1h-1zM281 45h1v1h-1zM293 45h2v1h-2zM247 46h1v1h-1zM251 46h1v1h-1zM282 46h1v1h-1zM292 46h2v1h-2zM297 46h1v1h-1zM281 47h1v1h-1zM292 47h3v1h-3zM250 48h1v1h-1zM281 48h1v1h-1zM290 48h2v1h-2zM251 49h1v1h-1zM289 49h2v1h-2zM279 50h1v1h-1zM287 50h1v1h-1zM290 50h1v1h-1zM286 51h4v1h-4zM291 51h2v1h-2zM282 52h1v1h-1zM285 52h1v1h-1zM287 52h1v1h-1zM290 52h2v1h-2zM294 52h1v1h-1zM252 53h1v1h-1zM278 53h1v1h-1zM281 53h1v1h-1zM290 53h1v1h-1zM277 54h3v1h-3zM281 54h2v1h-2zM291 54h3v1h-3zM279 55h2v1h-2zM285 55h1v1h-1zM294 55h2v1h-2zM251 56h1v1h-1zM281 56h2v1h-2zM284 56h1v1h-1zM287 56h2v1h-2zM290 56h1v1h-1zM293 56h1v1h-1zM288 57h3v1h-3zM292 57h1v1h-1zM283 58h4v1h-4zM288 58h2v1h-2zM251 59h1v1h-1zM284 59h2v1h-2zM287 59h2v1h-2zM290 59h3v1h-3zM288 60h1v1h-1zM283 61h1v1h-1zM285 61h1v1h-1zM293 61h1v1h-1zM296 61h1v1h-1zM284 62h4v1h-4zM289 62h1v1h-1zM291 62h1v1h-1zM286 63h1v1h-1zM290 63h1v1h-1zM293 63h1v1h-1zM284 64h3v1h-3zM290 64h2v1h-2zM252 65h1v1h-1zM285 65h1v1h-1zM288 65h3v1h-3zM292 65h1v1h-1zM252 66h1v1h-1zM284 66h1v1h-1zM287 66h1v1h-1zM289 66h3v1h-3zM286 67h1v1h-1zM288 67h2v1h-2zM288 68h2v1h-2zM291 68h1v1h-1zM253 69h1v1h-1zM288 69h1v1h-1zM291 69h1v1h-1zM253 70h2v1h-2zM290 70h1v1h-1zM254 71h1v1h-1zM293 71h1v1h-1zM254 73h1v1h-1zM293 74h1v1h-1zM293 75h1v1h-1zM253 76h1v1h-1zM293 76h1v1h-1zM253 78h1v1h-1zM253 81h1v1h-1zM294 82h1v1h-1zM294 84h1v1h-1zM294 85h1v1h-1zM253 86h1v1h-1zM254 87h1v1h-1zM293 88h1v1h-1zM255 89h1v1h-1zM255 90h1v1h-1zM292 90h1v1h-1zM256 91h1v1h-1zM292 91h1v1h-1zM260 93h6v1h-6zM267 93h1v1h-1zM270 93h2v1h-2zM273 93h1v1h-1zM277 93h1v1h-1zM279 93h1v1h-1zM284 93h1v1h-1zM287 93h1v1h-1z"/><path fill="#0c0ce8" d="M257 36h13v1h-13zM295 36h2v1h-2zM255 37h18v1h-18zM293 37h4v1h-4zM254 38h22v1h-22zM292 38h5v1h-5zM253 39h25v1h-25zM291 39h5v1h-5zM252 40h27v1h-27zM289 40h7v1h-7zM252 41h27v1h-27zM288 41h8v1h-8zM252 42h28v1h-28zM287 42h8v1h-8zM252 43h28v1h-28zM286 43h9v1h-9zM252 44h28v1h-28zM285 44h9v1h-9zM252 45h28v1h-28zM284 45h9v1h-9zM252 46h28v1h-28zM283 46h9v1h-9zM252 47h27v1h-27zM282 47h9v1h-9zM252 48h27v1h-27zM282 48h8v1h-8zM252 49h27v1h-27zM281 49h8v1h-8zM253 50h25v1h-25zM280 50h7v1h-7zM253 51h25v1h-25zM279 51h6v1h-6zM254 52h23v1h-23zM279 52h3v1h-3zM253 53h24v1h-24zM280 53h1v1h-1zM252 54h24v1h-24zM252 55h27v1h-27zM252 56h29v1h-29zM252 57h30v1h-30zM252 58h31v1h-31zM252 59h31v1h-31zM252 60h31v1h-31zM252 61h31v1h-31zM252 62h32v1h-32zM252 63h32v1h-32zM253 64h31v1h-31zM253 65h31v1h-31zM253 66h31v1h-31zM253 67h31v1h-31zM254 68h32v1h-32zM254 69h34v1h-34zM255 70h35v1h-35zM255 71h37v1h-37zM255 72h38v1h-38zM255 73h38v1h-38zM254 74h39v1h-39zM254 75h39v1h-39zM254 76h39v1h-39zM254 77h40v1h-40zM254 78h40v1h-40zM254 79h40v1h-40zM254 80h40v1h-40zM254 81h40v1h-40zM254 82h40v1h-40zM254 83h40v1h-40zM254 84h40v1h-40zM254 85h40v1h-40zM254 86h40v1h-40zM255 87h39v1h-39zM255 88h38v1h-38zM256 89h37v1h-37zM256 90h36v1h-36zM257 91h35v1h-35zM258 92h33v1h-33z"/><path fill="#101af6" d="M259 38h11v1h-11zM256 39h18v1h-18zM255 40h21v1h-21zM254 41h23v1h-23zM254 42h23v1h-23zM254 43h24v1h-24zM254 44h24v1h-24zM254 45h24v1h-24zM254 46h23v1h-23zM254 47h23v1h-23zM254 48h22v1h-22zM255 49h21v1h-21zM255 50h21v1h-21zM256 51h19v1h-19zM256 52h18v1h-18zM257 53h16v1h-16zM258 54h14v1h-14zM258 55h13v1h-13zM256 56h1v1h-1zM259 56h11v1h-11zM255 57h13v1h-13zM255 58h23v1h-23zM255 59h24v1h-24zM255 60h25v1h-25zM255 61h25v1h-25zM255 62h25v1h-25zM255 63h26v1h-26zM256 64h25v1h-25zM256 65h25v1h-25zM256 66h25v1h-25zM257 67h24v1h-24zM257 68h23v1h-23zM258 69h22v1h-22zM272 70h13v1h-13zM260 71h27v1h-27zM259 72h30v1h-30zM258 73h32v1h-32zM257 74h34v1h-34zM256 75h35v1h-35zM256 76h35v1h-35zM256 77h35v1h-35zM256 78h35v1h-35zM256 79h35v1h-35zM256 80h36v1h-36zM256 81h36v1h-36zM256 82h36v1h-36zM256 83h36v1h-36zM256 84h36v1h-36zM256 85h36v1h-36zM257 86h34v1h-34zM257 87h34v1h-34zM258 88h33v1h-33zM258 89h32v1h-32zM259 90h30v1h-30z"/><path fill="#1121f8" d="M260 38h9v1h-9zM256 39h17v1h-17zM255 40h20v1h-20zM254 41h23v1h-23zM254 42h23v1h-23zM254 43h23v1h-23zM254 44h24v1h-24zM254 45h24v1h-24zM254 46h23v1h-23zM254 47h23v1h-23zM255 48h21v1h-21zM255 49h20v1h-20zM255 50h19v1h-19zM256 51h18v1h-18zM256 52h17v1h-17zM257 53h15v1h-15zM258 54h13v1h-13zM259 55h11v1h-11zM260 56h8v1h-8zM260 57h7v1h-7zM262 58h3v1h-3zM272 71h12v1h-12zM260 72h27v1h-27zM259 73h30v1h-30zM258 74h32v1h-32zM257 75h33v1h-33zM257 76h33v1h-33zM257 77h33v1h-33zM257 78h33v1h-33zM257 79h33v1h-33zM257 80h34v1h-34zM257 81h34v1h-34zM257 82h34v1h-34zM257 83h34v1h-34zM257 84h34v1h-34zM257 85h34v1h-34zM258 86h32v1h-32zM258 87h32v1h-32zM259 88h31v1h-31zM260 89h29v1h-29zM262 90h22v1h-22z"/><path fill="#1228fa" d="M256 39h17v1h-17zM255 40h20v1h-20zM254 41h22v1h-22zM254 42h23v1h-23zM254 43h23v1h-23zM254 44h23v1h-23zM254 45h23v1h-23zM254 46h23v1h-23zM254 47h23v1h-23zM255 48h21v1h-21zM255 49h20v1h-20zM255 50h19v1h-19zM256 51h17v1h-17zM257 52h15v1h-15zM257 53h14v1h-14zM258 54h12v1h-12zM259 55h10v1h-10zM260 56h8v1h-8zM261 57h6v1h-6zM263 58h2v1h-2zM274 72h8v1h-8zM262 73h23v1h-23zM261 74h25v1h-25zM260 75h27v1h-27zM260 76h28v1h-28zM259 77h29v1h-29zM259 78h29v1h-29zM259 79h29v1h-29zM259 80h29v1h-29zM259 81h29v1h-29zM259 82h29v1h-29zM259 83h29v1h-29zM259 84h29v1h-29zM259 85h29v1h-29zM259 86h29v1h-29zM260 87h27v1h-27zM260 88h27v1h-27zM261 89h24v1h-24zM263 90h20v1h-20z"/><path fill="#142ffc" d="M257 39h15v1h-15zM255 40h20v1h-20zM255 41h21v1h-21zM254 42h23v1h-23zM254 43h23v1h-23zM254 44h23v1h-23zM254 45h23v1h-23zM254 46h23v1h-23zM255 47h21v1h-21zM255 48h21v1h-21zM255 49h20v1h-20zM256 50h18v1h-18zM256 51h17v1h-17zM257 52h15v1h-15zM258 53h13v1h-13zM258 54h12v1h-12zM259 55h10v1h-10zM260 56h8v1h-8zM261 57h5v1h-5zM263 73h22v1h-22zM261 74h25v1h-25zM260 75h27v1h-27zM260 76h27v1h-27zM259 77h29v1h-29zM259 78h29v1h-29zM259 79h29v1h-29zM259 80h29v1h-29zM259 81h29v1h-29zM259 82h29v1h-29zM259 83h29v1h-29zM259 84h29v1h-29zM259 85h29v1h-29zM259 86h29v1h-29zM260 87h27v1h-27zM260 88h26v1h-26zM261 89h24v1h-24zM264 90h11v1h-11z"/><path fill="#1742fd" d="M257 39h15v1h-15zM256 40h18v1h-18zM255 41h21v1h-21zM254 42h23v1h-23zM254 43h23v1h-23zM254 44h23v1h-23zM254 45h23v1h-23zM254 46h23v1h-23zM255 47h21v1h-21zM255 48h20v1h-20zM255 49h20v1h-20zM256 50h18v1h-18zM256 51h17v1h-17zM257 52h15v1h-15zM258 53h13v1h-13zM259 54h11v1h-11zM259 55h10v1h-10zM260 56h7v1h-7zM261 57h5v1h-5zM263 73h21v1h-21zM262 74h24v1h-24zM261 75h26v1h-26zM260 76h27v1h-27zM260 77h27v1h-27zM259 78h29v1h-29zM259 79h29v1h-29zM259 80h29v1h-29zM259 81h29v1h-29zM259 82h29v1h-29zM259 83h29v1h-29zM259 84h29v1h-29zM259 85h29v1h-29zM260 86h27v1h-27zM260 87h27v1h-27zM261 88h25v1h-25zM262 89h23v1h-23z"/><path fill="#1c58fe" d="M258 39h13v1h-13zM256 40h18v1h-18zM255 41h21v1h-21zM255 42h21v1h-21zM254 43h23v1h-23zM254 44h23v1h-23zM254 45h23v1h-23zM255 46h22v1h-22zM255 47h21v1h-21zM255 48h20v1h-20zM256 49h18v1h-18zM256 50h18v1h-18zM257 51h16v1h-16zM257 52h15v1h-15zM258 53h13v1h-13zM259 54h11v1h-11zM260 55h8v1h-8zM260 56h7v1h-7zM262 57h4v1h-4zM264 73h20v1h-20zM262 74h23v1h-23zM261 75h25v1h-25zM260 76h27v1h-27zM260 77h27v1h-27zM259 78h28v1h-28zM259 79h29v1h-29zM259 80h29v1h-29zM259 81h29v1h-29zM259 82h29v1h-29zM259 83h29v1h-29zM259 84h29v1h-29zM259 85h29v1h-29zM260 86h27v1h-27zM260 87h27v1h-27zM261 88h25v1h-25zM262 89h22v1h-22z"/><path fill="#206eff" d="M258 39h13v1h-13zM256 40h18v1h-18zM255 41h20v1h-20zM255 42h21v1h-21zM255 43h22v1h-22zM255 44h22v1h-22zM255 45h22v1h-22zM255 46h21v1h-21zM255 47h21v1h-21zM255 48h20v1h-20zM256 49h18v1h-18zM256 50h17v1h-17zM257 51h16v1h-16zM257 52h15v1h-15zM258 53h13v1h-13zM259 54h10v1h-10zM260 55h8v1h-8zM261 56h6v1h-6zM262 57h3v1h-3zM266 73h17v1h-17zM262 74h23v1h-23zM261 75h25v1h-25zM260 76h27v1h-27zM260 77h27v1h-27zM260 78h27v1h-27zM260 79h27v1h-27zM259 80h28v1h-28zM259 81h29v1h-29zM259 82h29v1h-29zM259 83h29v1h-29zM260 84h28v1h-28zM260 85h27v1h-27zM260 86h27v1h-27zM260 87h26v1h-26zM261 88h24v1h-24zM263 89h20v1h-20z"/><path fill="#278dfe" d="M259 39h11v1h-11zM256 40h17v1h-17zM255 41h20v1h-20zM255 42h21v1h-21zM255 43h21v1h-21zM255 44h22v1h-22zM255 45h22v1h-22zM255 46h21v1h-21zM255 47h21v1h-21zM255 48h20v1h-20zM256 49h18v1h-18zM256 50h17v1h-17zM257 51h15v1h-15zM258 52h13v1h-13zM258 53h12v1h-12zM259 54h10v1h-10zM260 55h8v1h-8zM261 56h6v1h-6zM262 57h3v1h-3zM274 73h8v1h-8zM263 74h22v1h-22zM261 75h25v1h-25zM261 76h25v1h-25zM260 77h27v1h-27zM260 78h27v1h-27zM260 79h27v1h-27zM260 80h27v1h-27zM260 81h27v1h-27zM260 82h27v1h-27zM260 83h27v1h-27zM260 84h27v1h-27zM260 85h27v1h-27zM260 86h27v1h-27zM261 87h25v1h-25zM262 88h23v1h-23zM263 89h19v1h-19z"/><path fill="#2facfc" d="M261 39h5v1h-5zM257 40h16v1h-16zM255 41h20v1h-20zM255 42h21v1h-21zM255 43h21v1h-21zM255 44h21v1h-21zM255 45h21v1h-21zM255 46h21v1h-21zM255 47h20v1h-20zM256 48h19v1h-19zM256 49h18v1h-18zM257 50h16v1h-16zM257 51h15v1h-15zM258 52h13v1h-13zM259 53h11v1h-11zM259 54h10v1h-10zM260 55h8v1h-8zM261 56h5v1h-5zM263 74h21v1h-21zM262 75h23v1h-23zM261 76h25v1h-25zM260 77h27v1h-27zM260 78h27v1h-27zM260 79h27v1h-27zM260 80h27v1h-27zM260 81h27v1h-27zM260 82h27v1h-27zM260 83h27v1h-27zM260 84h27v1h-27zM260 85h27v1h-27zM260 86h26v1h-26zM261 87h25v1h-25zM262 88h23v1h-23zM264 89h11v1h-11z"/><path fill="#3bc6f7" d="M257 40h15v1h-15zM256 41h18v1h-18zM255 42h21v1h-21zM255 43h21v1h-21zM255 44h21v1h-21zM255 45h21v1h-21zM255 46h21v1h-21zM255 47h20v1h-20zM256 48h18v1h-18zM256 49h18v1h-18zM257 50h16v1h-16zM257 51h15v1h-15zM258 52h13v1h-13zM259 53h11v1h-11zM260 54h8v1h-8zM261 55h6v1h-6zM262 56h4v1h-4zM264 74h20v1h-20zM262 75h23v1h-23zM261 76h25v1h-25zM261 77h25v1h-25zM260 78h27v1h-27zM260 79h27v1h-27zM260 80h27v1h-27zM260 81h27v1h-27zM260 82h27v1h-27zM260 83h27v1h-27zM260 84h27v1h-27zM260 85h27v1h-27zM261 86h25v1h-25zM261 87h24v1h-24zM262 88h22v1h-22z"/><path fill="#4adbef" d="M257 40h15v1h-15zM256 41h18v1h-18zM255 42h20v1h-20zM255 43h21v1h-21zM255 44h21v1h-21zM255 45h21v1h-21zM255 46h21v1h-21zM256 47h19v1h-19zM256 48h18v1h-18zM256 49h17v1h-17zM257 50h15v1h-15zM258 51h13v1h-13zM258 52h12v1h-12zM259 53h10v1h-10zM260 54h8v1h-8zM261 55h6v1h-6zM262 56h3v1h-3zM266 74h17v1h-17zM263 75h22v1h-22zM262 76h23v1h-23zM261 77h25v1h-25zM261 78h25v1h-25zM261 79h25v1h-25zM260 80h26v1h-26zM260 81h27v1h-27zM260 82h27v1h-27zM260 83h27v1h-27zM260 84h26v1h-26zM261 85h25v1h-25zM261 86h25v1h-25zM262 87h23v1h-23zM263 88h20v1h-20z"/><path fill="#5be8dc" d="M258 40h13v1h-13zM256 41h18v1h-18zM256 42h19v1h-19zM255 43h21v1h-21zM255 44h21v1h-21zM255 45h21v1h-21zM255 46h20v1h-20zM256 47h19v1h-19zM256 48h18v1h-18zM257 49h16v1h-16zM257 50h15v1h-15zM258 51h13v1h-13zM259 52h11v1h-11zM260 53h9v1h-9zM260 54h8v1h-8zM261 55h5v1h-5zM263 56h2v1h-2zM263 75h21v1h-21zM262 76h23v1h-23zM261 77h25v1h-25zM261 78h25v1h-25zM261 79h25v1h-25zM261 80h25v1h-25zM261 81h25v1h-25zM261 82h25v1h-25zM261 83h25v1h-25zM261 84h25v1h-25zM261 85h25v1h-25zM261 86h24v1h-24zM262 87h22v1h-22zM264 88h17v1h-17z"/><path fill="#6deec1" d="M258 40h12v1h-12zM256 41h17v1h-17zM256 42h19v1h-19zM255 43h20v1h-20zM255 44h21v1h-21zM255 45h21v1h-21zM256 46h19v1h-19zM256 47h19v1h-19zM256 48h18v1h-18zM257 49h16v1h-16zM257 50h15v1h-15zM258 51h13v1h-13zM259 52h11v1h-11zM260 53h8v1h-8zM261 54h6v1h-6zM262 55h4v1h-4zM264 75h19v1h-19zM263 76h21v1h-21zM262 77h23v1h-23zM261 78h24v1h-24zM261 79h25v1h-25zM261 80h25v1h-25zM261 81h25v1h-25zM261 82h25v1h-25zM261 83h25v1h-25zM261 84h25v1h-25zM261 85h24v1h-24zM262 86h23v1h-23zM263 87h21v1h-21zM266 88h8v1h-8z"/><path fill="#7ef4a5" d="M260 40h6v1h-6zM257 41h15v1h-15zM256 42h18v1h-18zM256 43h19v1h-19zM256 44h19v1h-19zM256 45h19v1h-19zM256 46h19v1h-19zM256 47h18v1h-18zM256 48h17v1h-17zM257 49h15v1h-15zM258 50h13v1h-13zM259 51h11v1h-11zM260 52h9v1h-9zM261 53h6v1h-6zM262 54h4v1h-4zM274 75h6v1h-6zM263 76h21v1h-21zM263 77h21v1h-21zM262 78h23v1h-23zM262 79h23v1h-23zM262 80h23v1h-23zM262 81h23v1h-23zM261 82h24v1h-24zM262 83h23v1h-23zM262 84h23v1h-23zM262 85h23v1h-23zM262 86h22v1h-22zM264 87h18v1h-18z"/><path fill="#92f68c" d="M257 41h14v1h-14zM256 42h18v1h-18zM256 43h19v1h-19zM256 44h19v1h-19zM256 45h19v1h-19zM256 46h19v1h-19zM256 47h18v1h-18zM257 48h16v1h-16zM257 49h15v1h-15zM258 50h13v1h-13zM259 51h10v1h-10zM261 52h6v1h-6zM263 53h2v1h-2zM267 76h14v1h-14zM264 77h19v1h-19zM263 78h21v1h-21zM262 79h22v1h-22zM262 80h22v1h-22zM262 81h22v1h-22zM262 82h22v1h-22zM262 83h22v1h-22zM262 84h22v1h-22zM263 85h21v1h-21zM263 86h19v1h-19zM266 87h11v1h-11z"/><path fill="#a5f873" d="M258 41h12v1h-12zM256 42h17v1h-17zM256 43h18v1h-18zM256 44h19v1h-19zM256 45h19v1h-19zM256 46h18v1h-18zM256 47h18v1h-18zM257 48h16v1h-16zM258 49h13v1h-13zM259 50h11v1h-11zM260 51h7v1h-7zM269 77h6v1h-6zM265 78h14v1h-14zM264 79h16v1h-16zM264 80h17v1h-17zM263 81h19v1h-19zM263 82h19v1h-19zM263 83h19v1h-19zM263 84h19v1h-19zM264 85h17v1h-17zM265 86h13v1h-13z"/><path fill="#b9fa5a" d="M259 41h9v1h-9zM257 42h14v1h-14zM256 43h17v1h-17zM256 44h18v1h-18zM256 45h18v1h-18zM256 46h18v1h-18zM257 47h16v1h-16zM257 48h15v1h-15zM258 49h13v1h-13zM260 50h7v1h-7zM267 79h10v1h-10zM266 80h12v1h-12zM265 81h14v1h-14zM265 82h14v1h-14zM265 83h14v1h-14zM265 84h14v1h-14zM266 85h12v1h-12zM269 86h6v1h-6z"/><path fill="#cdf645" d="M261 41h3v1h-3zM257 42h13v1h-13zM256 43h16v1h-16zM256 44h17v1h-17zM256 45h18v1h-18zM256 46h18v1h-18zM257 47h16v1h-16zM257 48h15v1h-15zM259 49h10v1h-10zM268 80h8v1h-8zM267 81h10v1h-10zM267 82h10v1h-10zM267 83h10v1h-10zM267 84h10v1h-10zM269 85h6v1h-6z"/><path fill="#e0f32f" d="M258 42h10v1h-10zM257 43h14v1h-14zM256 44h17v1h-17zM256 45h17v1h-17zM257 46h16v1h-16zM257 47h15v1h-15zM258 48h13v1h-13zM260 49h7v1h-7zM269 81h6v1h-6zM268 82h8v1h-8zM268 83h8v1h-8zM269 84h6v1h-6z"/><path fill="#f1eb1c" d="M259 42h8v1h-8zM257 43h13v1h-13zM257 44h15v1h-15zM257 45h16v1h-16zM257 46h16v1h-16zM257 47h15v1h-15zM258 48h12v1h-12zM271 82h2v1h-2zM271 83h2v1h-2z"/><path fill="#f6d213" d="M261 42h3v1h-3zM258 43h11v1h-11zM257 44h14v1h-14zM257 45h15v1h-15zM257 46h15v1h-15zM258 47h13v1h-13zM259 48h9v1h-9z"/><path fill="#fab909" d="M258 43h10v1h-10zM257 44h13v1h-13zM257 45h14v1h-14zM257 46h15v1h-15zM258 47h12v1h-12zM261 48h5v1h-5z"/><path fill="#ffa000" d="M259 43h7v1h-7zM258 44h12v1h-12zM257 45h14v1h-14zM258 46h13v1h-13zM259 47h11v1h-11z"/><path fill="#fa7c00" d="M261 43h3v1h-3zM258 44h11v1h-11zM258 45h12v1h-12zM258 46h12v1h-12zM260 47h9v1h-9z"/><path fill="#f45900" d="M259 44h9v1h-9zM258 45h12v1h-12zM259 46h11v1h-11zM261 47h7v1h-7z"/><path fill="#ed3900" d="M260 44h7v1h-7zM259 45h10v1h-10zM260 46h9v1h-9z"/><path fill="#db2b00" d="M261 44h4v1h-4zM260 45h8v1h-8zM260 46h8v1h-8z"/><path fill="#ca1d00" d="M260 45h7v1h-7zM262 46h5v1h-5z"/><path fill="#b90f00" d="M261 45h4v1h-4z"/></g></g>
<defs><clipPath id="d5"><rect x="74.2" y="347.2" width="74.49999999999999" height="75.60000000000002"/></clipPath><filter id="blurd5" x="-5%" y="-5%" width="110%" height="110%"><feGaussianBlur stdDeviation="0.35"/></filter></defs><g clip-path="url(#d5)"><g filter="url(#blurd5)"><path fill="#3030ee" d="M133 357h1v1h-1zM135 357h1v1h-1zM135 358h1v1h-1zM137 358h1v1h-1zM132 359h2v1h-2zM139 359h1v1h-1zM131 360h1v1h-1zM138 360h1v1h-1zM130 361h2v1h-2zM128 362h1v1h-1zM130 362h1v1h-1zM138 362h1v1h-1zM129 364h2v1h-2zM138 364h1v1h-1zM93 365h1v1h-1zM127 365h1v1h-1zM138 365h1v1h-1zM91 367h1v1h-1zM98 367h2v1h-2zM122 367h1v1h-1zM124 367h1v1h-1zM140 367h1v1h-1zM94 368h2v1h-2zM103 368h1v1h-1zM94 369h1v1h-1zM101 369h3v1h-3zM105 369h2v1h-2zM108 369h1v1h-1zM110 369h1v1h-1zM124 369h1v1h-1zM83 370h1v1h-1zM89 370h1v1h-1zM91 370h1v1h-1zM95 370h2v1h-2zM98 370h1v1h-1zM102 370h1v1h-1zM110 370h1v1h-1zM125 370h1v1h-1zM139 370h1v1h-1zM83 371h2v1h-2zM95 371h1v1h-1zM98 371h1v1h-1zM101 371h1v1h-1zM104 371h2v1h-2zM121 371h1v1h-1zM124 371h2v1h-2zM138 371h1v1h-1zM81 372h4v1h-4zM105 372h1v1h-1zM110 372h1v1h-1zM121 372h1v1h-1zM125 372h1v1h-1zM138 372h1v1h-1zM141 372h1v1h-1zM79 373h1v1h-1zM113 373h1v1h-1zM123 373h2v1h-2zM140 373h2v1h-2zM143 373h1v1h-1zM115 374h1v1h-1zM118 374h1v1h-1zM120 374h1v1h-1zM137 374h2v1h-2zM77 375h1v1h-1zM111 375h1v1h-1zM115 375h1v1h-1zM113 376h1v1h-1zM117 376h1v1h-1zM120 376h3v1h-3zM138 376h2v1h-2zM112 377h1v1h-1zM117 377h2v1h-2zM121 377h1v1h-1zM136 377h2v1h-2zM75 378h1v1h-1zM114 378h1v1h-1zM116 378h7v1h-7zM138 378h1v1h-1zM118 379h4v1h-4zM137 379h1v1h-1zM75 380h1v1h-1zM133 380h1v1h-1zM135 380h2v1h-2zM133 381h2v1h-2zM135 382h1v1h-1zM133 383h2v1h-2zM137 383h1v1h-1zM131 384h1v1h-1zM134 384h1v1h-1zM74 385h1v1h-1zM74 386h1v1h-1zM130 386h1v1h-1zM122 387h3v1h-3zM133 387h1v1h-1zM74 388h1v1h-1zM122 388h1v1h-1zM124 388h4v1h-4zM130 388h1v1h-1zM122 389h3v1h-3zM127 389h1v1h-1zM122 390h1v1h-1zM125 390h1v1h-1zM127 390h1v1h-1zM74 391h1v1h-1zM123 391h1v1h-1zM74 392h1v1h-1zM122 392h1v1h-1zM74 393h1v1h-1zM122 393h2v1h-2zM125 393h1v1h-1zM122 394h1v1h-1zM74 395h1v1h-1zM122 395h2v1h-2zM126 397h1v1h-1zM122 398h1v1h-1zM125 399h1v1h-1zM74 402h1v1h-1zM125 402h1v1h-1zM123 403h1v1h-1zM122 404h1v1h-1zM125 404h1v1h-1zM124 405h1v1h-1zM122 406h2v1h-2zM74 407h1v1h-1zM122 409h1v1h-1zM74 410h1v1h-1zM122 410h1v1h-1zM120 416h1v1h-1zM75 418h1v1h-1zM75 419h1v1h-1zM76 420h1v1h-1zM115 421h2v1h-2zM118 421h1v1h-1zM79 422h1v1h-1zM82 422h1v1h-1zM84 422h1v1h-1zM87 422h6v1h-6zM94 422h4v1h-4zM99 422h1v1h-1zM101 422h4v1h-4zM107 422h4v1h-4zM112 422h1v1h-1zM115 422h1v1h-1z"/><path fill="#0c0ce8" d="M134 361h3v1h-3zM131 362h7v1h-7zM131 363h7v1h-7zM131 364h7v1h-7zM129 365h9v1h-9zM128 366h11v1h-11zM127 367h12v1h-12zM126 368h13v1h-13zM126 369h13v1h-13zM126 370h13v1h-13zM126 371h12v1h-12zM85 372h20v1h-20zM126 372h12v1h-12zM80 373h28v1h-28zM125 373h13v1h-13zM78 374h31v1h-31zM124 374h13v1h-13zM78 375h32v1h-32zM124 375h13v1h-13zM77 376h34v1h-34zM123 376h14v1h-14zM77 377h35v1h-35zM123 377h13v1h-13zM76 378h38v1h-38zM123 378h13v1h-13zM76 379h41v1h-41zM122 379h13v1h-13zM76 380h57v1h-57zM75 381h58v1h-58zM75 382h58v1h-58zM75 383h58v1h-58zM75 384h56v1h-56zM75 385h55v1h-55zM75 386h47v1h-47zM123 386h7v1h-7zM75 387h47v1h-47zM125 387h4v1h-4zM75 388h47v1h-47zM75 389h47v1h-47zM75 390h47v1h-47zM75 391h47v1h-47zM75 392h47v1h-47zM75 393h47v1h-47zM75 394h47v1h-47zM75 395h47v1h-47zM75 396h47v1h-47zM75 397h47v1h-47zM75 398h47v1h-47zM75 399h47v1h-47zM75 400h47v1h-47zM75 401h47v1h-47zM75 402h47v1h-47zM75 403h47v1h-47zM75 404h47v1h-47zM75 405h47v1h-47zM75 406h47v1h-47zM75 407h47v1h-47zM75 408h47v1h-47zM75 409h47v1h-47zM75 410h47v1h-47zM75 411h47v1h-47zM75 412h47v1h-47zM75 413h46v1h-46zM75 414h46v1h-46zM75 415h46v1h-46zM75 416h45v1h-45zM76 417h44v1h-44zM76 418h44v1h-44zM76 419h43v1h-43zM77 420h41v1h-41zM78 421h37v1h-37z"/><path fill="#101af6" d="M132 366h2v1h-2zM131 367h3v1h-3zM130 368h5v1h-5zM130 369h5v1h-5zM129 370h8v1h-8zM127 371h9v1h-9zM128 372h5v1h-5zM128 373h5v1h-5zM87 374h10v1h-10zM128 374h4v1h-4zM83 375h23v1h-23zM128 375h3v1h-3zM80 376h27v1h-27zM127 376h1v1h-1zM131 376h2v1h-2zM79 377h29v1h-29zM126 377h2v1h-2zM132 377h1v1h-1zM79 378h30v1h-30zM128 378h1v1h-1zM78 379h33v1h-33zM126 379h3v1h-3zM78 380h35v1h-35zM126 380h2v1h-2zM78 381h38v1h-38zM126 381h2v1h-2zM78 382h39v1h-39zM126 382h3v1h-3zM130 382h1v1h-1zM78 383h40v1h-40zM126 383h4v1h-4zM78 384h41v1h-41zM128 384h1v1h-1zM78 385h41v1h-41zM78 386h41v1h-41zM78 387h41v1h-41zM78 388h41v1h-41zM78 389h42v1h-42zM78 390h42v1h-42zM78 391h42v1h-42zM78 392h42v1h-42zM78 393h42v1h-42zM78 394h42v1h-42zM78 395h42v1h-42zM78 396h42v1h-42zM78 397h42v1h-42zM78 398h42v1h-42zM78 399h42v1h-42zM78 400h42v1h-42zM78 401h42v1h-42zM78 402h42v1h-42zM78 403h41v1h-41zM78 404h41v1h-41zM77 405h42v1h-42zM77 406h42v1h-42zM77 407h42v1h-42zM77 408h42v1h-42zM77 409h42v1h-42zM77 410h42v1h-42zM77 411h42v1h-42zM77 412h42v1h-42zM77 413h42v1h-42zM77 414h41v1h-41zM78 415h40v1h-40zM78 416h40v1h-40zM78 417h39v1h-39zM79 418h37v1h-37zM80 419h32v1h-32z"/><path fill="#1121f8" d="M132 366h1v1h-1zM131 367h3v1h-3zM131 368h3v1h-3zM130 369h5v1h-5zM129 370h7v1h-7zM129 371h7v1h-7zM129 372h4v1h-4zM129 373h3v1h-3zM90 374h2v1h-2zM128 374h3v1h-3zM85 375h17v1h-17zM128 375h3v1h-3zM83 376h23v1h-23zM81 377h26v1h-26zM127 377h1v1h-1zM132 377h1v1h-1zM80 378h28v1h-28zM80 379h30v1h-30zM127 379h1v1h-1zM79 380h33v1h-33zM126 380h2v1h-2zM79 381h36v1h-36zM126 381h2v1h-2zM79 382h38v1h-38zM126 382h3v1h-3zM130 382h1v1h-1zM79 383h39v1h-39zM126 383h4v1h-4zM79 384h39v1h-39zM128 384h1v1h-1zM79 385h39v1h-39zM79 386h40v1h-40zM79 387h40v1h-40zM79 388h40v1h-40zM79 389h40v1h-40zM79 390h40v1h-40zM79 391h41v1h-41zM79 392h41v1h-41zM79 393h41v1h-41zM79 394h40v1h-40zM79 395h40v1h-40zM79 396h40v1h-40zM79 397h40v1h-40zM79 398h40v1h-40zM79 399h40v1h-40zM79 400h40v1h-40zM79 401h40v1h-40zM79 402h40v1h-40zM79 403h39v1h-39zM79 404h39v1h-39zM79 405h39v1h-39zM79 406h39v1h-39zM78 407h40v1h-40zM78 408h40v1h-40zM78 409h40v1h-40zM78 410h40v1h-40zM78 411h40v1h-40zM78 412h40v1h-40zM78 413h40v1h-40zM79 414h38v1h-38zM79 415h38v1h-38zM79 416h37v1h-37zM80 417h36v1h-36zM80 418h31v1h-31z"/><path fill="#1228fa" d="M132 367h2v1h-2zM131 368h3v1h-3zM130 369h4v1h-4zM130 370h6v1h-6zM129 371h6v1h-6zM129 372h4v1h-4zM129 373h3v1h-3zM128 374h3v1h-3zM85 375h17v1h-17zM128 375h2v1h-2zM83 376h20v1h-20zM82 377h22v1h-22zM82 378h23v1h-23zM81 379h24v1h-24zM81 380h24v1h-24zM127 380h1v1h-1zM81 381h24v1h-24zM126 381h2v1h-2zM81 382h24v1h-24zM111 382h5v1h-5zM126 382h2v1h-2zM130 382h1v1h-1zM81 383h24v1h-24zM111 383h6v1h-6zM126 383h3v1h-3zM80 384h26v1h-26zM111 384h7v1h-7zM128 384h1v1h-1zM80 385h26v1h-26zM111 385h7v1h-7zM80 386h26v1h-26zM111 386h7v1h-7zM80 387h26v1h-26zM110 387h9v1h-9zM81 388h25v1h-25zM109 388h10v1h-10zM81 389h25v1h-25zM109 389h10v1h-10zM81 390h25v1h-25zM108 390h11v1h-11zM81 391h25v1h-25zM108 391h11v1h-11zM81 392h25v1h-25zM108 392h11v1h-11zM81 393h25v1h-25zM108 393h11v1h-11zM81 394h25v1h-25zM107 394h11v1h-11zM81 395h25v1h-25zM107 395h11v1h-11zM81 396h25v1h-25zM107 396h11v1h-11zM81 397h25v1h-25zM107 397h11v1h-11zM81 398h25v1h-25zM107 398h11v1h-11zM81 399h25v1h-25zM107 399h11v1h-11zM81 400h24v1h-24zM107 400h11v1h-11zM81 401h24v1h-24zM107 401h11v1h-11zM81 402h24v1h-24zM108 402h10v1h-10zM81 403h24v1h-24zM108 403h10v1h-10zM81 404h24v1h-24zM108 404h10v1h-10zM81 405h24v1h-24zM108 405h9v1h-9zM81 406h24v1h-24zM109 406h8v1h-8zM82 407h22v1h-22zM109 407h7v1h-7zM82 408h22v1h-22zM110 408h6v1h-6zM82 409h22v1h-22zM111 409h3v1h-3zM83 410h20v1h-20zM84 411h18v1h-18zM86 412h14v1h-14z"/><path fill="#142ffc" d="M132 367h2v1h-2zM131 368h3v1h-3zM131 369h3v1h-3zM130 370h3v1h-3zM130 371h3v1h-3zM129 372h3v1h-3zM129 373h3v1h-3zM128 374h2v1h-2zM86 375h15v1h-15zM84 376h19v1h-19zM83 377h21v1h-21zM82 378h23v1h-23zM81 379h24v1h-24zM81 380h24v1h-24zM81 381h24v1h-24zM127 381h1v1h-1zM81 382h24v1h-24zM126 382h2v1h-2zM81 383h24v1h-24zM114 383h3v1h-3zM127 383h2v1h-2zM81 384h24v1h-24zM114 384h3v1h-3zM128 384h1v1h-1zM81 385h25v1h-25zM114 385h4v1h-4zM81 386h25v1h-25zM111 386h7v1h-7zM81 387h25v1h-25zM110 387h8v1h-8zM81 388h25v1h-25zM109 388h9v1h-9zM81 389h25v1h-25zM109 389h9v1h-9zM81 390h25v1h-25zM108 390h9v1h-9zM81 391h25v1h-25zM108 391h10v1h-10zM81 392h25v1h-25zM108 392h10v1h-10zM81 393h25v1h-25zM108 393h10v1h-10zM81 394h25v1h-25zM107 394h11v1h-11zM81 395h25v1h-25zM107 395h11v1h-11zM81 396h25v1h-25zM107 396h11v1h-11zM81 397h25v1h-25zM107 397h11v1h-11zM81 398h25v1h-25zM107 398h11v1h-11zM81 399h24v1h-24zM107 399h11v1h-11zM81 400h24v1h-24zM107 400h11v1h-11zM81 401h24v1h-24zM107 401h11v1h-11zM81 402h24v1h-24zM108 402h10v1h-10zM81 403h24v1h-24zM108 403h10v1h-10zM81 404h24v1h-24zM108 404h10v1h-10zM81 405h23v1h-23zM108 405h9v1h-9zM81 406h23v1h-23zM109 406h8v1h-8zM82 407h22v1h-22zM109 407h7v1h-7zM82 408h22v1h-22zM110 408h6v1h-6zM83 409h20v1h-20zM111 409h3v1h-3zM83 410h20v1h-20zM84 411h18v1h-18zM87 412h13v1h-13z"/><path fill="#1742fd" d="M132 367h2v1h-2zM132 368h1v1h-1zM131 369h2v1h-2zM130 370h3v1h-3zM130 371h3v1h-3zM130 372h2v1h-2zM130 373h1v1h-1zM128 374h2v1h-2zM88 375h9v1h-9zM84 376h18v1h-18zM83 377h21v1h-21zM82 378h22v1h-22zM82 379h23v1h-23zM81 380h24v1h-24zM81 381h24v1h-24zM127 381h1v1h-1zM81 382h24v1h-24zM126 382h2v1h-2zM81 383h24v1h-24zM127 383h2v1h-2zM81 384h24v1h-24zM81 385h24v1h-24zM81 386h24v1h-24zM111 386h3v1h-3zM81 387h24v1h-24zM110 387h6v1h-6zM81 388h25v1h-25zM109 388h7v1h-7zM81 389h25v1h-25zM109 389h8v1h-8zM81 390h25v1h-25zM108 390h9v1h-9zM81 391h25v1h-25zM108 391h10v1h-10zM81 392h25v1h-25zM108 392h10v1h-10zM81 393h24v1h-24zM108 393h10v1h-10zM81 394h24v1h-24zM107 394h11v1h-11zM81 395h24v1h-24zM107 395h11v1h-11zM81 396h25v1h-25zM107 396h11v1h-11zM81 397h25v1h-25zM107 397h11v1h-11zM81 398h25v1h-25zM107 398h11v1h-11zM81 399h24v1h-24zM107 399h11v1h-11zM81 400h24v1h-24zM107 400h11v1h-11zM81 401h24v1h-24zM107 401h11v1h-11zM81 402h23v1h-23zM108 402h10v1h-10zM81 403h23v1h-23zM108 403h10v1h-10zM81 404h23v1h-23zM108 404h10v1h-10zM81 405h23v1h-23zM108 405h9v1h-9zM82 406h22v1h-22zM109 406h8v1h-8zM82 407h22v1h-22zM109 407h7v1h-7zM83 408h21v1h-21zM110 408h6v1h-6zM83 409h20v1h-20zM111 409h3v1h-3zM84 410h18v1h-18zM85 411h16v1h-16zM95 412h4v1h-4z"/><path fill="#1c58fe" d="M132 367h1v1h-1zM131 369h2v1h-2zM131 370h2v1h-2zM130 371h2v1h-2zM130 372h2v1h-2zM128 374h2v1h-2zM90 375h6v1h-6zM84 376h18v1h-18zM83 377h20v1h-20zM83 378h21v1h-21zM82 379h22v1h-22zM82 380h23v1h-23zM82 381h23v1h-23zM81 382h23v1h-23zM127 382h1v1h-1zM81 383h23v1h-23zM127 383h1v1h-1zM81 384h24v1h-24zM81 385h24v1h-24zM81 386h24v1h-24zM111 386h3v1h-3zM81 387h24v1h-24zM110 387h6v1h-6zM81 388h24v1h-24zM109 388h7v1h-7zM82 389h23v1h-23zM109 389h8v1h-8zM82 390h24v1h-24zM108 390h9v1h-9zM82 391h23v1h-23zM108 391h10v1h-10zM81 392h24v1h-24zM108 392h10v1h-10zM81 393h24v1h-24zM108 393h10v1h-10zM81 394h24v1h-24zM107 394h11v1h-11zM81 395h24v1h-24zM107 395h11v1h-11zM81 396h24v1h-24zM107 396h11v1h-11zM81 397h24v1h-24zM107 397h11v1h-11zM81 398h24v1h-24zM107 398h11v1h-11zM81 399h24v1h-24zM107 399h11v1h-11zM82 400h23v1h-23zM107 400h11v1h-11zM82 401h22v1h-22zM107 401h11v1h-11zM82 402h22v1h-22zM108 402h10v1h-10zM81 403h23v1h-23zM108 403h10v1h-10zM81 404h23v1h-23zM108 404h10v1h-10zM82 405h22v1h-22zM108 405h9v1h-9zM82 406h21v1h-21zM109 406h8v1h-8zM83 407h20v1h-20zM109 407h7v1h-7zM83 408h20v1h-20zM110 408h6v1h-6zM83 409h20v1h-20zM111 409h3v1h-3zM84 410h18v1h-18zM86 411h14v1h-14zM97 412h1v1h-1z"/><path fill="#206eff" d="M131 370h1v1h-1zM131 371h1v1h-1zM129 374h1v1h-1zM91 375h1v1h-1zM85 376h16v1h-16zM83 377h20v1h-20zM83 378h21v1h-21zM82 379h22v1h-22zM82 380h22v1h-22zM82 381h22v1h-22zM82 382h22v1h-22zM127 382h1v1h-1zM82 383h22v1h-22zM127 383h1v1h-1zM81 384h23v1h-23zM81 385h24v1h-24zM81 386h24v1h-24zM111 386h3v1h-3zM82 387h23v1h-23zM110 387h6v1h-6zM82 388h23v1h-23zM109 388h7v1h-7zM82 389h23v1h-23zM109 389h8v1h-8zM82 390h23v1h-23zM108 390h9v1h-9zM82 391h23v1h-23zM108 391h10v1h-10zM82 392h23v1h-23zM108 392h10v1h-10zM82 393h23v1h-23zM108 393h10v1h-10zM82 394h23v1h-23zM107 394h11v1h-11zM82 395h23v1h-23zM107 395h11v1h-11zM82 396h23v1h-23zM107 396h11v1h-11zM82 397h23v1h-23zM107 397h11v1h-11zM82 398h23v1h-23zM107 398h11v1h-11zM82 399h23v1h-23zM107 399h11v1h-11zM82 400h22v1h-22zM107 400h11v1h-11zM82 401h22v1h-22zM107 401h11v1h-11zM82 402h22v1h-22zM108 402h10v1h-10zM82 403h22v1h-22zM108 403h10v1h-10zM82 404h22v1h-22zM108 404h10v1h-10zM82 405h21v1h-21zM108 405h9v1h-9zM82 406h21v1h-21zM109 406h8v1h-8zM83 407h20v1h-20zM109 407h7v1h-7zM83 408h20v1h-20zM110 408h6v1h-6zM84 409h18v1h-18zM111 409h3v1h-3zM85 410h17v1h-17zM87 411h5v1h-5zM95 411h5v1h-5z"/><path fill="#278dfe" d="M129 374h1v1h-1zM88 376h10v1h-10zM99 376h2v1h-2zM84 377h18v1h-18zM83 378h20v1h-20zM83 379h21v1h-21zM82 380h22v1h-22zM82 381h22v1h-22zM82 382h22v1h-22zM127 382h1v1h-1zM82 383h22v1h-22zM82 384h22v1h-22zM82 385h22v1h-22zM82 386h22v1h-22zM111 386h3v1h-3zM82 387h22v1h-22zM110 387h6v1h-6zM82 388h22v1h-22zM110 388h6v1h-6zM82 389h23v1h-23zM109 389h8v1h-8zM82 390h23v1h-23zM109 390h8v1h-8zM82 391h23v1h-23zM108 391h10v1h-10zM82 392h23v1h-23zM108 392h10v1h-10zM82 393h22v1h-22zM108 393h10v1h-10zM82 394h22v1h-22zM108 394h10v1h-10zM82 395h22v1h-22zM108 395h10v1h-10zM82 396h23v1h-23zM107 396h11v1h-11zM82 397h23v1h-23zM107 397h11v1h-11zM82 398h23v1h-23zM107 398h11v1h-11zM82 399h22v1h-22zM107 399h11v1h-11zM82 400h22v1h-22zM108 400h10v1h-10zM82 401h22v1h-22zM108 401h10v1h-10zM82 402h22v1h-22zM108 402h10v1h-10zM82 403h21v1h-21zM108 403h10v1h-10zM82 404h21v1h-21zM108 404h9v1h-9zM82 405h21v1h-21zM109 405h8v1h-8zM83 406h20v1h-20zM109 406h7v1h-7zM83 407h20v1h-20zM110 407h6v1h-6zM84 408h19v1h-19zM111 408h4v1h-4zM84 409h18v1h-18zM85 410h16v1h-16zM96 411h3v1h-3z"/><path fill="#2facfc" d="M89 376h7v1h-7zM84 377h18v1h-18zM83 378h20v1h-20zM83 379h20v1h-20zM83 380h21v1h-21zM82 381h22v1h-22zM82 382h22v1h-22zM82 383h22v1h-22zM82 384h22v1h-22zM82 385h22v1h-22zM82 386h22v1h-22zM112 386h2v1h-2zM82 387h22v1h-22zM111 387h5v1h-5zM83 388h21v1h-21zM110 388h6v1h-6zM83 389h21v1h-21zM109 389h8v1h-8zM83 390h22v1h-22zM109 390h8v1h-8zM82 391h23v1h-23zM109 391h8v1h-8zM82 392h22v1h-22zM108 392h10v1h-10zM82 393h22v1h-22zM108 393h10v1h-10zM82 394h22v1h-22zM108 394h10v1h-10zM82 395h22v1h-22zM108 395h10v1h-10zM82 396h23v1h-23zM108 396h10v1h-10zM82 397h23v1h-23zM108 397h10v1h-10zM82 398h23v1h-23zM108 398h10v1h-10zM82 399h22v1h-22zM108 399h10v1h-10zM82 400h22v1h-22zM108 400h10v1h-10zM82 401h22v1h-22zM108 401h10v1h-10zM82 402h21v1h-21zM108 402h10v1h-10zM82 403h21v1h-21zM108 403h9v1h-9zM82 404h21v1h-21zM109 404h8v1h-8zM82 405h20v1h-20zM109 405h8v1h-8zM83 406h19v1h-19zM110 406h6v1h-6zM84 407h18v1h-18zM110 407h5v1h-5zM84 408h18v1h-18zM111 408h3v1h-3zM85 409h17v1h-17zM86 410h7v1h-7zM95 410h5v1h-5z"/><path fill="#3bc6f7" d="M90 376h6v1h-6zM85 377h16v1h-16zM84 378h18v1h-18zM83 379h20v1h-20zM83 380h20v1h-20zM83 381h20v1h-20zM82 382h21v1h-21zM82 383h21v1h-21zM82 384h21v1h-21zM82 385h21v1h-21zM82 386h21v1h-21zM83 387h20v1h-20zM111 387h4v1h-4zM83 388h20v1h-20zM110 388h6v1h-6zM83 389h21v1h-21zM110 389h6v1h-6zM83 390h21v1h-21zM109 390h8v1h-8zM83 391h21v1h-21zM109 391h8v1h-8zM82 392h22v1h-22zM109 392h8v1h-8zM82 393h22v1h-22zM108 393h9v1h-9zM82 394h21v1h-21zM108 394h10v1h-10zM82 395h22v1h-22zM108 395h10v1h-10zM82 396h22v1h-22zM108 396h10v1h-10zM82 397h22v1h-22zM108 397h10v1h-10zM82 398h22v1h-22zM108 398h10v1h-10zM82 399h22v1h-22zM108 399h10v1h-10zM82 400h22v1h-22zM108 400h10v1h-10zM83 401h20v1h-20zM108 401h9v1h-9zM82 402h21v1h-21zM108 402h9v1h-9zM82 403h21v1h-21zM109 403h8v1h-8zM82 404h20v1h-20zM109 404h8v1h-8zM83 405h19v1h-19zM109 405h7v1h-7zM84 406h18v1h-18zM110 406h6v1h-6zM84 407h18v1h-18zM111 407h4v1h-4zM85 408h17v1h-17zM85 409h16v1h-16zM88 410h4v1h-4zM96 410h4v1h-4z"/><path fill="#4adbef" d="M90 376h4v1h-4zM85 377h1v1h-1zM89 377h8v1h-8zM99 377h2v1h-2zM84 378h17v1h-17zM84 379h18v1h-18zM83 380h20v1h-20zM83 381h20v1h-20zM83 382h20v1h-20zM83 383h20v1h-20zM83 384h20v1h-20zM83 385h20v1h-20zM83 386h20v1h-20zM83 387h20v1h-20zM112 387h2v1h-2zM84 388h19v1h-19zM111 388h4v1h-4zM83 389h20v1h-20zM110 389h6v1h-6zM83 390h21v1h-21zM110 390h6v1h-6zM83 391h21v1h-21zM109 391h8v1h-8zM83 392h21v1h-21zM109 392h8v1h-8zM82 393h21v1h-21zM109 393h8v1h-8zM82 394h21v1h-21zM108 394h9v1h-9zM82 395h21v1h-21zM108 395h9v1h-9zM83 396h21v1h-21zM108 396h10v1h-10zM83 397h21v1h-21zM108 397h10v1h-10zM83 398h21v1h-21zM108 398h10v1h-10zM83 399h21v1h-21zM108 399h9v1h-9zM83 400h20v1h-20zM108 400h9v1h-9zM83 401h20v1h-20zM108 401h9v1h-9zM83 402h20v1h-20zM109 402h8v1h-8zM83 403h20v1h-20zM109 403h8v1h-8zM83 404h19v1h-19zM109 404h7v1h-7zM83 405h18v1h-18zM110 405h6v1h-6zM84 406h17v1h-17zM110 406h5v1h-5zM85 407h16v1h-16zM111 407h3v1h-3zM85 408h16v1h-16zM86 409h14v1h-14z"/><path fill="#5be8dc" d="M89 377h6v1h-6zM85 378h16v1h-16zM85 379h1v1h-1zM88 379h14v1h-14zM84 380h2v1h-2zM88 380h14v1h-14zM83 381h19v1h-19zM83 382h20v1h-20zM83 383h20v1h-20zM83 384h19v1h-19zM83 385h19v1h-19zM84 386h19v1h-19zM84 387h19v1h-19zM84 388h19v1h-19zM112 388h3v1h-3zM84 389h19v1h-19zM111 389h5v1h-5zM83 390h20v1h-20zM110 390h6v1h-6zM83 391h20v1h-20zM109 391h7v1h-7zM83 392h20v1h-20zM109 392h8v1h-8zM83 393h20v1h-20zM109 393h8v1h-8zM83 394h20v1h-20zM109 394h8v1h-8zM83 395h20v1h-20zM109 395h8v1h-8zM83 396h20v1h-20zM108 396h9v1h-9zM83 397h21v1h-21zM108 397h9v1h-9zM83 398h20v1h-20zM108 398h9v1h-9zM83 399h20v1h-20zM108 399h9v1h-9zM83 400h20v1h-20zM109 400h8v1h-8zM83 401h20v1h-20zM109 401h8v1h-8zM83 402h19v1h-19zM109 402h8v1h-8zM83 403h19v1h-19zM109 403h7v1h-7zM83 404h18v1h-18zM110 404h6v1h-6zM83 405h18v1h-18zM110 405h6v1h-6zM84 406h17v1h-17zM111 406h4v1h-4zM85 407h5v1h-5zM91 407h9v1h-9zM86 408h3v1h-3zM92 408h8v1h-8zM87 409h1v1h-1zM94 409h6v1h-6z"/><path fill="#6deec1" d="M90 377h4v1h-4zM89 378h6v1h-6zM98 378h2v1h-2zM88 379h13v1h-13zM88 380h13v1h-13zM84 381h18v1h-18zM83 382h19v1h-19zM83 383h19v1h-19zM84 384h18v1h-18zM85 385h17v1h-17zM85 386h17v1h-17zM85 387h17v1h-17zM84 388h18v1h-18zM113 388h1v1h-1zM84 389h18v1h-18zM111 389h4v1h-4zM84 390h19v1h-19zM110 390h6v1h-6zM84 391h19v1h-19zM110 391h6v1h-6zM83 392h20v1h-20zM109 392h7v1h-7zM83 393h20v1h-20zM109 393h8v1h-8zM83 394h19v1h-19zM109 394h8v1h-8zM83 395h20v1h-20zM109 395h8v1h-8zM83 396h20v1h-20zM109 396h8v1h-8zM83 397h20v1h-20zM109 397h8v1h-8zM83 398h20v1h-20zM109 398h8v1h-8zM83 399h20v1h-20zM109 399h8v1h-8zM83 400h20v1h-20zM109 400h8v1h-8zM83 401h19v1h-19zM109 401h8v1h-8zM83 402h19v1h-19zM109 402h7v1h-7zM83 403h19v1h-19zM109 403h7v1h-7zM83 404h18v1h-18zM110 404h6v1h-6zM84 405h16v1h-16zM110 405h5v1h-5zM85 406h15v1h-15zM111 406h3v1h-3zM86 407h3v1h-3zM92 407h7v1h-7zM87 408h1v1h-1zM93 408h6v1h-6zM96 409h2v1h-2z"/><path fill="#7ef4a5" d="M90 377h3v1h-3zM89 378h5v1h-5zM89 379h6v1h-6zM97 379h3v1h-3zM89 380h11v1h-11zM84 381h3v1h-3zM88 381h12v1h-12zM84 382h16v1h-16zM84 383h18v1h-18zM84 384h18v1h-18zM86 385h16v1h-16zM86 386h16v1h-16zM85 387h17v1h-17zM85 388h17v1h-17zM84 389h18v1h-18zM112 389h2v1h-2zM84 390h18v1h-18zM111 390h4v1h-4zM84 391h19v1h-19zM110 391h6v1h-6zM84 392h19v1h-19zM110 392h6v1h-6zM83 393h19v1h-19zM109 393h7v1h-7zM83 394h19v1h-19zM109 394h8v1h-8zM83 395h19v1h-19zM109 395h8v1h-8zM84 396h18v1h-18zM109 396h8v1h-8zM84 397h18v1h-18zM109 397h8v1h-8zM84 398h19v1h-19zM109 398h8v1h-8zM83 399h20v1h-20zM109 399h8v1h-8zM83 400h19v1h-19zM109 400h8v1h-8zM84 401h18v1h-18zM109 401h7v1h-7zM84 402h18v1h-18zM109 402h7v1h-7zM83 403h5v1h-5zM89 403h12v1h-12zM110 403h6v1h-6zM83 404h5v1h-5zM90 404h11v1h-11zM110 404h5v1h-5zM84 405h16v1h-16zM111 405h4v1h-4zM86 406h4v1h-4zM92 406h8v1h-8zM87 407h1v1h-1zM92 407h7v1h-7zM93 408h5v1h-5z"/><path fill="#92f68c" d="M91 377h1v1h-1zM90 378h4v1h-4zM89 379h6v1h-6zM89 380h11v1h-11zM85 381h1v1h-1zM89 381h11v1h-11zM84 382h15v1h-15zM84 383h14v1h-14zM85 384h12v1h-12zM99 384h2v1h-2zM87 385h14v1h-14zM86 386h15v1h-15zM86 387h15v1h-15zM85 388h16v1h-16zM85 389h7v1h-7zM95 389h6v1h-6zM85 390h3v1h-3zM94 390h8v1h-8zM111 390h4v1h-4zM84 391h3v1h-3zM90 391h12v1h-12zM111 391h4v1h-4zM84 392h18v1h-18zM110 392h6v1h-6zM84 393h18v1h-18zM110 393h6v1h-6zM83 394h18v1h-18zM109 394h7v1h-7zM84 395h15v1h-15zM109 395h7v1h-7zM84 396h15v1h-15zM109 396h8v1h-8zM85 397h15v1h-15zM109 397h8v1h-8zM84 398h18v1h-18zM109 398h8v1h-8zM84 399h18v1h-18zM109 399h7v1h-7zM84 400h18v1h-18zM109 400h7v1h-7zM84 401h17v1h-17zM109 401h7v1h-7zM84 402h17v1h-17zM110 402h6v1h-6zM84 403h2v1h-2zM90 403h11v1h-11zM110 403h5v1h-5zM84 404h1v1h-1zM90 404h10v1h-10zM111 404h4v1h-4zM87 405h1v1h-1zM93 405h7v1h-7zM112 405h2v1h-2zM87 406h1v1h-1zM93 406h6v1h-6zM93 407h5v1h-5zM94 408h4v1h-4z"/><path fill="#a5f873" d="M90 378h3v1h-3zM90 379h4v1h-4zM90 380h6v1h-6zM98 380h1v1h-1zM89 381h10v1h-10zM84 382h14v1h-14zM85 383h12v1h-12zM86 384h10v1h-10zM87 385h13v1h-13zM87 386h13v1h-13zM86 387h14v1h-14zM86 388h7v1h-7zM94 388h6v1h-6zM85 389h4v1h-4zM95 389h5v1h-5zM85 390h2v1h-2zM95 390h6v1h-6zM112 390h2v1h-2zM94 391h8v1h-8zM111 391h4v1h-4zM85 392h1v1h-1zM90 392h12v1h-12zM110 392h5v1h-5zM84 393h9v1h-9zM95 393h6v1h-6zM110 393h6v1h-6zM84 394h8v1h-8zM95 394h4v1h-4zM110 394h6v1h-6zM84 395h8v1h-8zM94 395h4v1h-4zM110 395h6v1h-6zM85 396h13v1h-13zM109 396h7v1h-7zM85 397h14v1h-14zM109 397h7v1h-7zM85 398h16v1h-16zM109 398h7v1h-7zM84 399h18v1h-18zM109 399h7v1h-7zM84 400h14v1h-14zM100 400h1v1h-1zM110 400h6v1h-6zM84 401h13v1h-13zM110 401h6v1h-6zM84 402h4v1h-4zM89 402h5v1h-5zM110 402h6v1h-6zM90 403h3v1h-3zM96 403h1v1h-1zM110 403h5v1h-5zM95 404h4v1h-4zM111 404h3v1h-3zM95 405h4v1h-4zM94 406h4v1h-4zM94 407h3v1h-3z"/><path fill="#b9fa5a" d="M91 379h3v1h-3zM90 380h5v1h-5zM89 381h9v1h-9zM85 382h3v1h-3zM89 382h8v1h-8zM85 383h12v1h-12zM86 384h10v1h-10zM87 385h8v1h-8zM87 386h13v1h-13zM87 387h13v1h-13zM86 388h6v1h-6zM95 388h4v1h-4zM95 389h4v1h-4zM96 390h5v1h-5zM95 391h6v1h-6zM111 391h3v1h-3zM95 392h6v1h-6zM111 392h4v1h-4zM85 393h1v1h-1zM95 393h4v1h-4zM110 393h5v1h-5zM85 394h4v1h-4zM95 394h3v1h-3zM110 394h6v1h-6zM85 395h6v1h-6zM95 395h2v1h-2zM110 395h6v1h-6zM86 396h11v1h-11zM110 396h6v1h-6zM86 397h12v1h-12zM110 397h6v1h-6zM85 398h14v1h-14zM110 398h6v1h-6zM85 399h13v1h-13zM110 399h6v1h-6zM85 400h12v1h-12zM110 400h6v1h-6zM85 401h10v1h-10zM110 401h6v1h-6zM90 402h3v1h-3zM110 402h5v1h-5zM91 403h1v1h-1zM111 403h4v1h-4zM112 404h2v1h-2zM96 405h2v1h-2zM95 406h2v1h-2z"/><path fill="#cdf645" d="M91 379h3v1h-3zM90 380h4v1h-4zM90 381h6v1h-6zM85 382h2v1h-2zM89 382h8v1h-8zM85 383h11v1h-11zM87 384h8v1h-8zM88 385h6v1h-6zM88 386h6v1h-6zM97 386h2v1h-2zM87 387h5v1h-5zM95 387h4v1h-4zM87 388h4v1h-4zM96 388h3v1h-3zM96 389h2v1h-2zM96 390h2v1h-2zM96 391h5v1h-5zM112 391h2v1h-2zM96 392h4v1h-4zM111 392h4v1h-4zM96 393h2v1h-2zM111 393h4v1h-4zM96 394h2v1h-2zM110 394h5v1h-5zM86 395h3v1h-3zM110 395h6v1h-6zM86 396h5v1h-5zM110 396h6v1h-6zM86 397h11v1h-11zM110 397h6v1h-6zM86 398h12v1h-12zM110 398h6v1h-6zM85 399h12v1h-12zM110 399h6v1h-6zM85 400h12v1h-12zM110 400h6v1h-6zM86 401h8v1h-8zM110 401h5v1h-5zM91 402h1v1h-1zM111 402h4v1h-4zM111 403h3v1h-3z"/><path fill="#e0f32f" d="M92 379h1v1h-1zM91 380h3v1h-3zM90 381h5v1h-5zM90 382h6v1h-6zM86 383h9v1h-9zM88 384h3v1h-3zM88 385h2v1h-2zM88 386h3v1h-3zM88 387h3v1h-3zM96 387h3v1h-3zM96 388h2v1h-2zM97 392h1v1h-1zM112 392h2v1h-2zM96 393h2v1h-2zM111 393h4v1h-4zM111 394h4v1h-4zM110 395h5v1h-5zM87 396h4v1h-4zM110 396h6v1h-6zM87 397h10v1h-10zM110 397h6v1h-6zM86 398h11v1h-11zM110 398h6v1h-6zM86 399h11v1h-11zM110 399h5v1h-5zM86 400h10v1h-10zM110 400h5v1h-5zM87 401h1v1h-1zM90 401h3v1h-3zM111 401h4v1h-4zM111 402h4v1h-4zM112 403h2v1h-2z"/><path fill="#f1eb1c" d="M92 380h2v1h-2zM91 381h3v1h-3zM90 382h5v1h-5zM90 383h3v1h-3zM88 384h1v1h-1zM89 386h1v1h-1zM89 387h1v1h-1zM112 392h1v1h-1zM111 393h3v1h-3zM111 394h4v1h-4zM111 395h4v1h-4zM110 396h5v1h-5zM87 397h5v1h-5zM94 397h2v1h-2zM110 397h5v1h-5zM86 398h11v1h-11zM110 398h5v1h-5zM86 399h10v1h-10zM110 399h5v1h-5zM86 400h8v1h-8zM111 400h4v1h-4zM111 401h4v1h-4zM111 402h3v1h-3z"/><path fill="#f6d213" d="M91 381h3v1h-3zM91 382h2v1h-2zM112 393h2v1h-2zM111 394h4v1h-4zM111 395h4v1h-4zM111 396h4v1h-4zM87 397h4v1h-4zM111 397h4v1h-4zM87 398h9v1h-9zM111 398h4v1h-4zM86 399h10v1h-10zM111 399h4v1h-4zM87 400h6v1h-6zM111 400h4v1h-4zM111 401h3v1h-3zM112 402h2v1h-2z"/><path fill="#fab909" d="M112 394h2v1h-2zM111 395h4v1h-4zM111 396h4v1h-4zM88 397h3v1h-3zM111 397h4v1h-4zM87 398h5v1h-5zM94 398h2v1h-2zM111 398h4v1h-4zM87 399h8v1h-8zM111 399h4v1h-4zM111 400h3v1h-3zM112 401h2v1h-2z"/><path fill="#ffa000" d="M112 394h2v1h-2zM111 395h3v1h-3zM111 396h3v1h-3zM111 397h4v1h-4zM87 398h4v1h-4zM111 398h4v1h-4zM87 399h5v1h-5zM111 399h3v1h-3zM112 400h2v1h-2zM112 401h1v1h-1z"/><path fill="#fa7c00" d="M112 395h2v1h-2zM111 396h3v1h-3zM111 397h3v1h-3zM88 398h3v1h-3zM111 398h3v1h-3zM88 399h3v1h-3zM112 399h2v1h-2zM112 400h2v1h-2z"/><path fill="#f45900" d="M112 395h1v1h-1zM112 396h2v1h-2zM112 397h2v1h-2zM88 398h2v1h-2zM112 398h2v1h-2zM112 399h2v1h-2z"/><path fill="#ed3900" d="M112 396h1v1h-1zM112 397h2v1h-2zM112 398h2v1h-2zM112 399h1v1h-1z"/><path fill="#db2b00" d="M112 397h1v1h-1zM112 398h1v1h-1z"/></g></g>
<rect x="29.60" y="57.90" width="76.00" height="76.50" fill="none" stroke="#555" stroke-width="0.8"/>
<rect x="139.60" y="18.20" width="76.60" height="75.50" fill="none" stroke="#555" stroke-width="0.8"/>
<rect x="139.00" y="107.50" width="76.00" height="77.00" fill="none" stroke="#555" stroke-width="0.8"/>
<rect x="245.70" y="18.20" width="75.50" height="75.50" fill="none" stroke="#555" stroke-width="0.8"/>
<rect x="245.70" y="107.30" width="76.50" height="77.50" fill="none" stroke="#555" stroke-width="0.8"/>
<rect x="347.00" y="18.00" width="77.50" height="76.50" fill="none" stroke="#555" stroke-width="0.8"/>
<rect x="347.00" y="107.00" width="77.50" height="77.00" fill="none" stroke="#555" stroke-width="0.8"/>
<text x="283.20" y="13.50" font-size="9.3" text-anchor="middle" fill="#000" stroke="#000" stroke-width="0.28" font-weight="bold">cyt LC+</text>
<text x="334.50" y="13.50" font-size="9.3" text-anchor="start" fill="#000" stroke="#000" stroke-width="0.28" font-weight="bold">cyt LC+CD38hiCD27hi</text>
<text x="14.90" y="123.60" font-size="9.3" text-anchor="middle" fill="#000" stroke="#000" stroke-width="0.28" font-weight="bold" transform="rotate(-90 14.9 123.6)">CD19</text>
<polyline points="14.60,138.00 14.60,151.20 28.60,151.20" fill="none" stroke="#000" stroke-width="1.15"/>
<text x="64.20" y="153.80" font-size="9.3" text-anchor="middle" fill="#000" stroke="#000" stroke-width="0.28" font-weight="bold">CD2 CD3 CD14</text>
<text x="65.00" y="164.90" font-size="9.3" text-anchor="middle" fill="#000" stroke="#000" stroke-width="0.28" font-weight="bold">CD16 GPA</text>
<text x="125.50" y="172.20" font-size="9.3" text-anchor="middle" fill="#000" stroke="#000" stroke-width="0.28" font-weight="bold" transform="rotate(-90 125.5 172.2)">cyt κ LC</text>
<polyline points="122.50,191.00 122.50,204.50 134.50,204.50" fill="none" stroke="#000" stroke-width="1.15"/>
<text x="136.00" y="207.10" font-size="9.3" text-anchor="start" fill="#000" stroke="#000" stroke-width="0.28" font-weight="bold">cyt λ LC</text>
<text x="230.00" y="177.50" font-size="9.3" text-anchor="middle" fill="#000" stroke="#000" stroke-width="0.28" font-weight="bold" transform="rotate(-90 230 177.5)">CD27</text>
<polyline points="227.50,191.50 227.50,203.80 238.70,203.80" fill="none" stroke="#000" stroke-width="1.15"/>
<text x="242.50" y="206.90" font-size="9.3" text-anchor="start" fill="#000" stroke="#000" stroke-width="0.28" font-weight="bold">CD38</text>
<text x="336.80" y="176.60" font-size="9.3" text-anchor="middle" fill="#000" stroke="#000" stroke-width="0.28" font-weight="bold" transform="rotate(-90 336.8 176.6)">CD138</text>
<polyline points="334.60,191.50 334.60,204.30 347.30,204.30" fill="none" stroke="#000" stroke-width="1.15"/>
<text x="348.00" y="206.90" font-size="9.3" text-anchor="start" fill="#000" stroke="#000" stroke-width="0.28" font-weight="bold">CD319</text>
<polygon points="29.60,75.20 70.40,75.20 60.40,102.10 29.60,102.10" fill="none" stroke="#333" stroke-width="0.8"/>
<rect x="29.60" y="102.10" width="30.80" height="32.30" fill="none" stroke="#333" stroke-width="0.8"/>
<text x="35.00" y="72.60" font-size="8.2" text-anchor="start" fill="#000" stroke="#000" stroke-width="0.28" font-weight="bold">6.7%</text>
<text x="31.40" y="133.00" font-size="8.2" text-anchor="start" fill="#000" stroke="#000" stroke-width="0.28" font-weight="bold">4.2%</text>
<line x1="65.20" y1="78.00" x2="112.50" y2="78.00" stroke="#000" stroke-width="0.9"/>
<polygon points="116.50,78.00 110.50,75.40 110.50,80.60" fill="#000"/>
<line x1="60.40" y1="128.50" x2="112.50" y2="128.50" stroke="#000" stroke-width="0.9"/>
<polygon points="116.50,128.50 110.50,125.90 110.50,131.10" fill="#000"/>
<polygon points="141.50,21.50 202.30,21.50 202.30,37.80 141.50,81.50" fill="none" stroke="#333" stroke-width="0.8"/>
<polygon points="202.30,37.80 213.10,37.80 213.10,87.20 141.50,87.20 141.50,81.50" fill="none" stroke="#333" stroke-width="0.8"/>
<text x="183.70" y="30.40" font-size="8.2" text-anchor="start" fill="#000" stroke="#000" stroke-width="0.28" font-weight="bold">58%</text>
<text x="196.20" y="47.50" font-size="8.2" text-anchor="start" fill="#000" stroke="#000" stroke-width="0.28" font-weight="bold">42%</text>
<line x1="208.50" y1="82.60" x2="224.00" y2="82.60" stroke="#000" stroke-width="0.9"/>
<polygon points="228.00,82.60 222.00,80.00 222.00,85.20" fill="#000"/>
<polygon points="141.50,109.50 171.00,109.50 171.00,132.50 141.50,151.50" fill="none" stroke="#333" stroke-width="0.8"/>
<polygon points="187.50,146.50 215.00,146.50 215.00,169.50 169.50,169.50" fill="none" stroke="#333" stroke-width="0.8"/>
<text x="145.00" y="115.50" font-size="8" text-anchor="start" fill="#000" stroke="#000" stroke-width="0.28" font-weight="bold">0.32%</text>
<text x="214.00" y="145.20" font-size="8" text-anchor="end" fill="#000" stroke="#000" stroke-width="0.28" font-weight="bold">0.23%</text>
<line x1="209.00" y1="151.00" x2="224.00" y2="151.00" stroke="#000" stroke-width="0.9"/>
<polygon points="228.00,151.00 222.00,148.40 222.00,153.60" fill="#000"/>
<rect x="285.40" y="18.20" width="35.80" height="29.80" fill="none" stroke="#333" stroke-width="0.8"/>
<text x="300.60" y="27.50" font-size="8.2" text-anchor="start" fill="#000" stroke="#000" stroke-width="0.28" font-weight="bold">1.2%</text>
<line x1="315.00" y1="38.30" x2="330.00" y2="38.30" stroke="#000" stroke-width="0.9"/>
<polygon points="334.00,38.30 328.00,35.70 328.00,40.90" fill="#000"/>
<rect x="286.40" y="107.30" width="35.80" height="31.10" fill="none" stroke="#333" stroke-width="0.8"/>
<text x="304.50" y="116.30" font-size="8.2" text-anchor="start" fill="#000" stroke="#000" stroke-width="0.28" font-weight="bold">46%</text>
<line x1="315.00" y1="131.20" x2="330.00" y2="131.20" stroke="#000" stroke-width="0.9"/>
<polygon points="334.00,131.20 328.00,128.60 328.00,133.80" fill="#000"/>
<rect x="378.20" y="19.00" width="45.00" height="43.00" fill="none" stroke="#7a7a30" stroke-width="1.2"/>
<rect x="377.20" y="62.50" width="46.00" height="31.50" fill="none" stroke="#c8a830" stroke-width="1.2"/>
<text x="401.70" y="37.00" font-size="8.2" text-anchor="start" fill="#000" stroke="#000" stroke-width="0.28" font-weight="bold">87%</text>
<text x="402.40" y="85.00" font-size="8.2" text-anchor="start" fill="#000" stroke="#000" stroke-width="0.28" font-weight="bold">13%</text>
<rect x="379.20" y="108.00" width="44.00" height="43.00" fill="none" stroke="#4a5a8a" stroke-width="1.2"/>
<rect x="377.70" y="152.50" width="45.50" height="30.70" fill="none" stroke="#a03080" stroke-width="1.2"/>
<text x="403.00" y="126.30" font-size="8.2" text-anchor="start" fill="#000" stroke="#000" stroke-width="0.28" font-weight="bold">76%</text>
<text x="403.00" y="173.70" font-size="8.2" text-anchor="start" fill="#000" stroke="#000" stroke-width="0.28" font-weight="bold">24%</text>
<text x="4.00" y="238.30" font-size="13.5" text-anchor="start" fill="#000" stroke="#000" stroke-width="0.28" font-weight="bold">B</text>
<text transform="translate(111.50 241.60) scale(1.0 1.15)" font-size="8.15" text-anchor="end" fill="#5a6e96" stroke="#5a6e96" stroke-width="0.28" font-weight="bold">CD19-CD138+ PC</text>
<text transform="translate(111.50 250.80) scale(1.0 1.15)" font-size="8.15" text-anchor="end" fill="#b05aa8" stroke="#b05aa8" stroke-width="0.28" font-weight="bold">CD19-CD138- Pre-PC</text>
<text transform="translate(111.50 260.00) scale(1.0 1.15)" font-size="8.15" text-anchor="end" fill="#4e5e40" stroke="#4e5e40" stroke-width="0.28" font-weight="bold">CD19+CD138+ PC</text>
<text transform="translate(111.50 269.20) scale(1.0 1.15)" font-size="8.15" text-anchor="end" fill="#e0aa68" stroke="#e0aa68" stroke-width="0.28" font-weight="bold">CD19+CD138- PBL</text>
<text transform="translate(111.50 278.40) scale(1.0 1.15)" font-size="8.15" text-anchor="end" fill="#a02828" stroke="#a02828" stroke-width="0.28" font-weight="bold">CD19+CD27+CD38- memory</text>
<text transform="translate(111.50 287.60) scale(1.0 1.15)" font-size="8.15" text-anchor="end" fill="#6e8ec8" stroke="#6e8ec8" stroke-width="0.28" font-weight="bold">CD19+CD27-CD38- naive</text>
<line x1="116.6" y1="243.10" x2="182.3" y2="243.10" stroke="#d8d8d8" stroke-width="0.6"/>
<line x1="116.6" y1="252.30" x2="182.3" y2="252.30" stroke="#d8d8d8" stroke-width="0.6"/>
<line x1="116.6" y1="261.50" x2="182.3" y2="261.50" stroke="#d8d8d8" stroke-width="0.6"/>
<line x1="116.6" y1="270.70" x2="182.3" y2="270.70" stroke="#d8d8d8" stroke-width="0.6"/>
<line x1="116.6" y1="279.90" x2="182.3" y2="279.90" stroke="#d8d8d8" stroke-width="0.6"/>
<line x1="116.6" y1="289.10" x2="182.3" y2="289.10" stroke="#d8d8d8" stroke-width="0.6"/>
<polygon points="133.1,243.10 133.1,243.05 134.1,242.98 135.1,242.81 136.1,242.51 137.1,242.04 138.1,241.30 139.1,240.26 140.1,239.18 141.1,238.13 142.1,236.83 143.1,235.43 144.1,234.29 145.1,233.58 146.1,233.12 147.1,233.51 148.1,235.15 149.1,236.95 150.1,238.34 151.1,239.48 152.1,240.59 153.1,241.55 154.1,242.21 155.1,242.59 156.1,242.83 157.1,242.97 158.1,243.05 158.1,243.10" fill="#d6daee" fill-opacity="0.5" stroke="none"/>
<polyline points="133.1,243.05 134.1,242.98 135.1,242.81 136.1,242.51 137.1,242.04 138.1,241.30 139.1,240.26 140.1,239.18 141.1,238.13 142.1,236.83 143.1,235.43 144.1,234.29 145.1,233.58 146.1,233.12 147.1,233.51 148.1,235.15 149.1,236.95 150.1,238.34 151.1,239.48 152.1,240.59 153.1,241.55 154.1,242.21 155.1,242.59 156.1,242.83 157.1,242.97 158.1,243.05" fill="none" stroke="#6a78a8" stroke-width="0.75"/>
<polygon points="124.1,252.30 124.1,252.24 125.1,252.19 126.1,252.11 127.1,252.00 128.1,251.86 129.1,251.68 130.1,251.47 131.1,251.28 132.1,251.10 133.1,250.96 134.1,250.81 135.1,250.61 136.1,250.26 137.1,249.66 138.1,248.93 139.1,248.09 140.1,247.29 141.1,246.89 142.1,247.08 143.1,247.86 144.1,248.87 145.1,249.94 146.1,250.88 147.1,251.51 148.1,251.89 149.1,252.11 150.1,252.22 151.1,252.27 151.1,252.30" fill="#f2d6f2" fill-opacity="0.5" stroke="none"/>
<polyline points="124.1,252.24 125.1,252.19 126.1,252.11 127.1,252.00 128.1,251.86 129.1,251.68 130.1,251.47 131.1,251.28 132.1,251.10 133.1,250.96 134.1,250.81 135.1,250.61 136.1,250.26 137.1,249.66 138.1,248.93 139.1,248.09 140.1,247.29 141.1,246.89 142.1,247.08 143.1,247.86 144.1,248.87 145.1,249.94 146.1,250.88 147.1,251.51 148.1,251.89 149.1,252.11 150.1,252.22 151.1,252.27" fill="none" stroke="#c27ac4" stroke-width="0.75"/>
<polygon points="137.1,261.50 137.1,261.46 138.1,261.36 139.1,261.09 140.1,260.41 141.1,258.95 142.1,256.53 143.1,253.59 144.1,250.84 145.1,249.40 146.1,249.52 147.1,250.49 148.1,251.69 149.1,253.36 150.1,255.34 151.1,256.80 152.1,257.82 153.1,258.62 154.1,259.40 155.1,260.11 156.1,260.64 157.1,261.00 158.1,261.23 159.1,261.37 160.1,261.44 160.1,261.50" fill="#dcead6" fill-opacity="0.5" stroke="none"/>
<polyline points="137.1,261.46 138.1,261.36 139.1,261.09 140.1,260.41 141.1,258.95 142.1,256.53 143.1,253.59 144.1,250.84 145.1,249.40 146.1,249.52 147.1,250.49 148.1,251.69 149.1,253.36 150.1,255.34 151.1,256.80 152.1,257.82 153.1,258.62 154.1,259.40 155.1,260.11 156.1,260.64 157.1,261.00 158.1,261.23 159.1,261.37 160.1,261.44" fill="none" stroke="#78966a" stroke-width="0.75"/>
<polygon points="137.1,270.70 137.1,270.64 138.1,270.50 139.1,270.14 140.1,269.42 141.1,268.19 142.1,266.27 143.1,263.92 144.1,262.11 145.1,261.34 146.1,261.26 147.1,261.73 148.1,262.74 149.1,264.48 150.1,266.22 151.1,267.41 152.1,268.32 153.1,269.02 154.1,269.58 155.1,270.06 156.1,270.39 157.1,270.57 158.1,270.65 158.1,270.70" fill="#fbe9d2" fill-opacity="0.5" stroke="none"/>
<polyline points="137.1,270.64 138.1,270.50 139.1,270.14 140.1,269.42 141.1,268.19 142.1,266.27 143.1,263.92 144.1,262.11 145.1,261.34 146.1,261.26 147.1,261.73 148.1,262.74 149.1,264.48 150.1,266.22 151.1,267.41 152.1,268.32 153.1,269.02 154.1,269.58 155.1,270.06 156.1,270.39 157.1,270.57 158.1,270.65" fill="none" stroke="#f0b878" stroke-width="0.75"/>
<polygon points="131.1,279.90 131.1,279.86 132.1,279.75 133.1,279.43 134.1,278.57 135.1,276.61 136.1,273.35 137.1,269.56 138.1,265.92 139.1,262.77 140.1,263.02 141.1,266.67 142.1,270.63 143.1,274.31 144.1,277.16 145.1,278.78 146.1,279.51 147.1,279.79 148.1,279.87 148.1,279.90" fill="#f5d3c6" fill-opacity="0.5" stroke="none"/>
<polyline points="131.1,279.86 132.1,279.75 133.1,279.43 134.1,278.57 135.1,276.61 136.1,273.35 137.1,269.56 138.1,265.92 139.1,262.77 140.1,263.02 141.1,266.67 142.1,270.63 143.1,274.31 144.1,277.16 145.1,278.78 146.1,279.51 147.1,279.79 148.1,279.87" fill="none" stroke="#c25a3a" stroke-width="0.75"/>
<polygon points="132.1,289.10 132.1,289.05 133.1,288.81 134.1,287.84 135.1,285.17 136.1,280.46 137.1,276.07 138.1,273.30 139.1,274.70 140.1,279.77 141.1,284.43 142.1,287.43 143.1,288.68 144.1,289.02 144.1,289.10" fill="#d3def5" fill-opacity="0.5" stroke="none"/>
<polyline points="132.1,289.05 133.1,288.81 134.1,287.84 135.1,285.17 136.1,280.46 137.1,276.07 138.1,273.30 139.1,274.70 140.1,279.77 141.1,284.43 142.1,287.43 143.1,288.68 144.1,289.02" fill="none" stroke="#7896d2" stroke-width="0.75"/>
<rect x="116.60" y="224.50" width="65.70" height="65.50" fill="none" stroke="#666" stroke-width="0.8"/>
<text x="180.30" y="241.50" font-size="7.3" font-weight="bold" text-anchor="end">118K</text>
<text x="180.30" y="250.70" font-size="7.3" font-weight="bold" text-anchor="end">101K</text>
<text x="180.30" y="259.90" font-size="7.3" font-weight="bold" text-anchor="end">120K</text>
<text x="180.30" y="269.10" font-size="7.3" font-weight="bold" text-anchor="end">113K</text>
<text x="180.30" y="278.30" font-size="7.3" font-weight="bold" text-anchor="end">93K</text>
<text x="180.30" y="287.50" font-size="7.3" font-weight="bold" text-anchor="end">89K</text>
<text x="150.00" y="307.30" font-size="9.2" font-weight="bold" text-anchor="middle" stroke="#000" stroke-width="0.28">FSC-A</text>
<text x="117.3" y="295.5" font-size="4.2" fill="#666" text-anchor="middle" font-weight="normal">0</text>
<line x1="117.3" y1="290.0" x2="117.3" y2="288.8" stroke="#777" stroke-width="0.5"/>
<text x="127.1" y="295.5" font-size="4.2" fill="#666" text-anchor="middle" font-weight="normal">50K</text>
<line x1="127.1" y1="290.0" x2="127.1" y2="288.8" stroke="#777" stroke-width="0.5"/>
<text x="140.3" y="295.5" font-size="4.2" fill="#666" text-anchor="middle" font-weight="normal">100K</text>
<line x1="140.3" y1="290.0" x2="140.3" y2="288.8" stroke="#777" stroke-width="0.5"/>
<text x="153.4" y="295.5" font-size="4.2" fill="#666" text-anchor="middle" font-weight="normal">150K</text>
<line x1="153.4" y1="290.0" x2="153.4" y2="288.8" stroke="#777" stroke-width="0.5"/>
<text x="165.2" y="295.5" font-size="4.2" fill="#666" text-anchor="middle" font-weight="normal">200K</text>
<line x1="165.2" y1="290.0" x2="165.2" y2="288.8" stroke="#777" stroke-width="0.5"/>
<text x="176.4" y="295.5" font-size="4.2" fill="#666" text-anchor="middle" font-weight="normal">250K</text>
<line x1="176.4" y1="290.0" x2="176.4" y2="288.8" stroke="#777" stroke-width="0.5"/>
<line x1="184.6" y1="243.10" x2="247.3" y2="243.10" stroke="#d8d8d8" stroke-width="0.6"/>
<line x1="184.6" y1="252.30" x2="247.3" y2="252.30" stroke="#d8d8d8" stroke-width="0.6"/>
<line x1="184.6" y1="261.50" x2="247.3" y2="261.50" stroke="#d8d8d8" stroke-width="0.6"/>
<line x1="184.6" y1="270.70" x2="247.3" y2="270.70" stroke="#d8d8d8" stroke-width="0.6"/>
<line x1="184.6" y1="279.90" x2="247.3" y2="279.90" stroke="#d8d8d8" stroke-width="0.6"/>
<line x1="184.6" y1="289.10" x2="247.3" y2="289.10" stroke="#d8d8d8" stroke-width="0.6"/>
<polygon points="193.1,243.10 193.1,243.04 194.1,243.00 195.1,242.93 196.1,242.82 197.1,242.69 198.1,242.53 199.1,242.35 200.1,242.18 201.1,242.02 202.1,241.94 203.1,241.99 204.1,242.07 205.1,242.17 206.1,242.28 207.1,242.15 208.1,241.24 209.1,238.89 210.1,235.60 211.1,233.90 212.1,236.09 213.1,239.72 214.1,242.02 215.1,242.88 216.1,243.07 216.1,243.10" fill="#d6daee" fill-opacity="0.5" stroke="none"/>
<polyline points="193.1,243.04 194.1,243.00 195.1,242.93 196.1,242.82 197.1,242.69 198.1,242.53 199.1,242.35 200.1,242.18 201.1,242.02 202.1,241.94 203.1,241.99 204.1,242.07 205.1,242.17 206.1,242.28 207.1,242.15 208.1,241.24 209.1,238.89 210.1,235.60 211.1,233.90 212.1,236.09 213.1,239.72 214.1,242.02 215.1,242.88 216.1,243.07" fill="none" stroke="#6a78a8" stroke-width="0.75"/>
<polygon points="193.1,252.30 193.1,252.24 194.1,252.20 195.1,252.15 196.1,252.06 197.1,251.93 198.1,251.76 199.1,251.54 200.1,251.30 201.1,251.17 202.1,251.14 203.1,251.11 204.1,251.16 205.1,251.26 206.1,251.35 207.1,251.27 208.1,250.42 209.1,248.23 210.1,245.69 211.1,244.52 212.1,246.24 213.1,249.49 214.1,251.46 215.1,252.13 216.1,252.28 216.1,252.30" fill="#f2d6f2" fill-opacity="0.5" stroke="none"/>
<polyline points="193.1,252.24 194.1,252.20 195.1,252.15 196.1,252.06 197.1,251.93 198.1,251.76 199.1,251.54 200.1,251.30 201.1,251.17 202.1,251.14 203.1,251.11 204.1,251.16 205.1,251.26 206.1,251.35 207.1,251.27 208.1,250.42 209.1,248.23 210.1,245.69 211.1,244.52 212.1,246.24 213.1,249.49 214.1,251.46 215.1,252.13 216.1,252.28" fill="none" stroke="#c27ac4" stroke-width="0.75"/>
<polygon points="211.1,261.50 211.1,261.44 212.1,261.29 213.1,260.86 214.1,259.90 215.1,258.14 216.1,255.37 217.1,252.12 218.1,249.27 219.1,247.28 220.1,247.64 221.1,250.32 222.1,253.79 223.1,256.84 224.1,259.12 225.1,260.52 226.1,261.16 227.1,261.40 228.1,261.47 228.1,261.50" fill="#dcead6" fill-opacity="0.5" stroke="none"/>
<polyline points="211.1,261.44 212.1,261.29 213.1,260.86 214.1,259.90 215.1,258.14 216.1,255.37 217.1,252.12 218.1,249.27 219.1,247.28 220.1,247.64 221.1,250.32 222.1,253.79 223.1,256.84 224.1,259.12 225.1,260.52 226.1,261.16 227.1,261.40 228.1,261.47" fill="none" stroke="#78966a" stroke-width="0.75"/>
<polygon points="210.1,270.70 210.1,270.64 211.1,270.50 212.1,270.16 213.1,269.44 214.1,268.04 215.1,266.00 216.1,264.06 217.1,262.61 218.1,261.58 219.1,261.53 220.1,262.27 221.1,263.30 222.1,264.56 223.1,266.36 224.1,268.07 225.1,269.33 226.1,270.16 227.1,270.53 228.1,270.66 228.1,270.70" fill="#fbe9d2" fill-opacity="0.5" stroke="none"/>
<polyline points="210.1,270.64 211.1,270.50 212.1,270.16 213.1,269.44 214.1,268.04 215.1,266.00 216.1,264.06 217.1,262.61 218.1,261.58 219.1,261.53 220.1,262.27 221.1,263.30 222.1,264.56 223.1,266.36 224.1,268.07 225.1,269.33 226.1,270.16 227.1,270.53 228.1,270.66" fill="none" stroke="#f0b878" stroke-width="0.75"/>
<polygon points="216.1,279.90 216.1,279.87 217.1,279.71 218.1,279.15 219.1,277.70 220.1,274.62 221.1,269.46 222.1,263.87 223.1,261.25 224.1,263.95 225.1,269.40 226.1,274.30 227.1,277.52 228.1,279.11 229.1,279.70 230.1,279.86 230.1,279.90" fill="#f5d3c6" fill-opacity="0.5" stroke="none"/>
<polyline points="216.1,279.87 217.1,279.71 218.1,279.15 219.1,277.70 220.1,274.62 221.1,269.46 222.1,263.87 223.1,261.25 224.1,263.95 225.1,269.40 226.1,274.30 227.1,277.52 228.1,279.11 229.1,279.70 230.1,279.86" fill="none" stroke="#c25a3a" stroke-width="0.75"/>
<polygon points="217.1,289.10 217.1,289.02 218.1,288.75 219.1,287.85 220.1,285.55 221.1,281.25 222.1,276.22 223.1,273.74 224.1,273.48 225.1,275.18 226.1,280.23 227.1,285.17 228.1,287.67 229.1,288.65 230.1,288.99 231.1,289.08 231.1,289.10" fill="#d3def5" fill-opacity="0.5" stroke="none"/>
<polyline points="217.1,289.02 218.1,288.75 219.1,287.85 220.1,285.55 221.1,281.25 222.1,276.22 223.1,273.74 224.1,273.48 225.1,275.18 226.1,280.23 227.1,285.17 228.1,287.67 229.1,288.65 230.1,288.99 231.1,289.08" fill="none" stroke="#7896d2" stroke-width="0.75"/>
<rect x="184.60" y="224.50" width="62.70" height="65.50" fill="none" stroke="#666" stroke-width="0.8"/>
<text x="246.50" y="241.50" font-size="7.3" font-weight="bold" text-anchor="end">268</text>
<text x="246.50" y="250.70" font-size="7.3" font-weight="bold" text-anchor="end">295</text>
<text x="246.50" y="259.90" font-size="7.3" font-weight="bold" text-anchor="end">1207</text>
<text x="246.50" y="269.10" font-size="7.3" font-weight="bold" text-anchor="end">1164</text>
<text x="246.50" y="278.30" font-size="7.3" font-weight="bold" text-anchor="end">2509</text>
<text x="246.50" y="287.50" font-size="7.3" font-weight="bold" text-anchor="end">2621</text>
<text x="219.00" y="307.30" font-size="9.2" font-weight="bold" text-anchor="middle" stroke="#000" stroke-width="0.28">CD19</text>
<text x="192.1" y="295.5" font-size="4.2" fill="#666" text-anchor="middle" font-weight="normal">0</text>
<line x1="192.1" y1="290.0" x2="192.1" y2="288.8" stroke="#777" stroke-width="0.5"/>
<text x="207.2" y="295.5" font-size="4.2" fill="#666" text-anchor="middle" font-weight="normal">10²</text>
<line x1="207.2" y1="290.0" x2="207.2" y2="288.8" stroke="#777" stroke-width="0.5"/>
<text x="221.0" y="295.5" font-size="4.2" fill="#666" text-anchor="middle" font-weight="normal">10³</text>
<line x1="221.0" y1="290.0" x2="221.0" y2="288.8" stroke="#777" stroke-width="0.5"/>
<text x="233.5" y="295.5" font-size="4.2" fill="#666" text-anchor="middle" font-weight="normal">10⁴</text>
<line x1="233.5" y1="290.0" x2="233.5" y2="288.8" stroke="#777" stroke-width="0.5"/>
<text x="244.8" y="295.5" font-size="4.2" fill="#666" text-anchor="middle" font-weight="normal">10⁵</text>
<line x1="244.8" y1="290.0" x2="244.8" y2="288.8" stroke="#777" stroke-width="0.5"/>
<line x1="250.5" y1="243.10" x2="316.8" y2="243.10" stroke="#d8d8d8" stroke-width="0.6"/>
<line x1="250.5" y1="252.30" x2="316.8" y2="252.30" stroke="#d8d8d8" stroke-width="0.6"/>
<line x1="250.5" y1="261.50" x2="316.8" y2="261.50" stroke="#d8d8d8" stroke-width="0.6"/>
<line x1="250.5" y1="270.70" x2="316.8" y2="270.70" stroke="#d8d8d8" stroke-width="0.6"/>
<line x1="250.5" y1="279.90" x2="316.8" y2="279.90" stroke="#d8d8d8" stroke-width="0.6"/>
<line x1="250.5" y1="289.10" x2="316.8" y2="289.10" stroke="#d8d8d8" stroke-width="0.6"/>
<polygon points="285.0,243.10 285.0,243.03 286.0,242.92 287.0,242.68 288.0,242.28 289.0,241.65 290.0,240.67 291.0,239.26 292.0,237.61 293.0,236.01 294.0,234.90 295.0,234.60 296.0,234.48 297.0,234.04 298.0,233.83 299.0,234.32 300.0,235.08 301.0,235.94 302.0,237.01 303.0,237.89 304.0,238.53 305.0,239.16 306.0,239.78 307.0,240.51 308.0,241.29 309.0,241.85 310.0,242.33 311.0,242.71 312.0,242.93 313.0,243.02 313.0,243.10" fill="#d6daee" fill-opacity="0.5" stroke="none"/>
<polyline points="285.0,243.03 286.0,242.92 287.0,242.68 288.0,242.28 289.0,241.65 290.0,240.67 291.0,239.26 292.0,237.61 293.0,236.01 294.0,234.90 295.0,234.60 296.0,234.48 297.0,234.04 298.0,233.83 299.0,234.32 300.0,235.08 301.0,235.94 302.0,237.01 303.0,237.89 304.0,238.53 305.0,239.16 306.0,239.78 307.0,240.51 308.0,241.29 309.0,241.85 310.0,242.33 311.0,242.71 312.0,242.93 313.0,243.02" fill="none" stroke="#6a78a8" stroke-width="0.75"/>
<polygon points="284.0,252.30 284.0,252.26 285.0,252.16 286.0,251.90 287.0,251.35 288.0,250.41 289.0,249.19 290.0,247.81 291.0,246.57 292.0,245.96 293.0,246.26 294.0,247.09 295.0,247.80 296.0,248.51 297.0,249.12 298.0,249.36 299.0,249.48 300.0,249.89 301.0,250.49 302.0,251.06 303.0,251.53 304.0,251.89 305.0,252.11 306.0,252.22 306.0,252.30" fill="#f2d6f2" fill-opacity="0.5" stroke="none"/>
<polyline points="284.0,252.26 285.0,252.16 286.0,251.90 287.0,251.35 288.0,250.41 289.0,249.19 290.0,247.81 291.0,246.57 292.0,245.96 293.0,246.26 294.0,247.09 295.0,247.80 296.0,248.51 297.0,249.12 298.0,249.36 299.0,249.48 300.0,249.89 301.0,250.49 302.0,251.06 303.0,251.53 304.0,251.89 305.0,252.11 306.0,252.22" fill="none" stroke="#c27ac4" stroke-width="0.75"/>
<polygon points="286.0,261.50 286.0,261.43 287.0,261.35 288.0,261.19 289.0,260.88 290.0,260.38 291.0,259.65 292.0,258.67 293.0,257.41 294.0,255.59 295.0,253.25 296.0,251.19 297.0,249.59 298.0,248.35 299.0,247.80 300.0,248.20 301.0,249.74 302.0,251.70 303.0,253.98 304.0,256.08 305.0,257.71 306.0,259.11 307.0,259.95 308.0,260.47 309.0,260.93 310.0,261.22 311.0,261.36 312.0,261.43 312.0,261.50" fill="#dcead6" fill-opacity="0.5" stroke="none"/>
<polyline points="286.0,261.43 287.0,261.35 288.0,261.19 289.0,260.88 290.0,260.38 291.0,259.65 292.0,258.67 293.0,257.41 294.0,255.59 295.0,253.25 296.0,251.19 297.0,249.59 298.0,248.35 299.0,247.80 300.0,248.20 301.0,249.74 302.0,251.70 303.0,253.98 304.0,256.08 305.0,257.71 306.0,259.11 307.0,259.95 308.0,260.47 309.0,260.93 310.0,261.22 311.0,261.36 312.0,261.43" fill="none" stroke="#78966a" stroke-width="0.75"/>
<polygon points="285.0,270.70 285.0,270.62 286.0,270.53 287.0,270.32 288.0,269.97 289.0,269.37 290.0,268.46 291.0,267.34 292.0,266.09 293.0,264.56 294.0,263.05 295.0,262.18 296.0,261.91 297.0,262.41 298.0,263.56 299.0,264.89 300.0,266.49 301.0,267.88 302.0,268.87 303.0,269.69 304.0,270.19 305.0,270.45 306.0,270.58 307.0,270.65 307.0,270.70" fill="#fbe9d2" fill-opacity="0.5" stroke="none"/>
<polyline points="285.0,270.62 286.0,270.53 287.0,270.32 288.0,269.97 289.0,269.37 290.0,268.46 291.0,267.34 292.0,266.09 293.0,264.56 294.0,263.05 295.0,262.18 296.0,261.91 297.0,262.41 298.0,263.56 299.0,264.89 300.0,266.49 301.0,267.88 302.0,268.87 303.0,269.69 304.0,270.19 305.0,270.45 306.0,270.58 307.0,270.65" fill="none" stroke="#f0b878" stroke-width="0.75"/>
<polygon points="274.0,279.90 274.0,279.85 275.0,279.78 276.0,279.62 277.0,279.25 278.0,278.57 279.0,277.55 280.0,275.87 281.0,273.54 282.0,270.88 283.0,267.90 284.0,265.24 285.0,263.13 286.0,262.22 287.0,263.10 288.0,265.17 289.0,268.17 290.0,271.34 291.0,273.96 292.0,275.90 293.0,277.47 294.0,278.63 295.0,279.29 296.0,279.63 297.0,279.78 298.0,279.86 298.0,279.90" fill="#f5d3c6" fill-opacity="0.5" stroke="none"/>
<polyline points="274.0,279.85 275.0,279.78 276.0,279.62 277.0,279.25 278.0,278.57 279.0,277.55 280.0,275.87 281.0,273.54 282.0,270.88 283.0,267.90 284.0,265.24 285.0,263.13 286.0,262.22 287.0,263.10 288.0,265.17 289.0,268.17 290.0,271.34 291.0,273.96 292.0,275.90 293.0,277.47 294.0,278.63 295.0,279.29 296.0,279.63 297.0,279.78 298.0,279.86" fill="none" stroke="#c25a3a" stroke-width="0.75"/>
<polygon points="278.0,289.10 278.0,289.07 279.0,289.00 280.0,288.83 281.0,288.45 282.0,287.66 283.0,286.24 284.0,283.88 285.0,280.57 286.0,277.43 287.0,275.38 288.0,274.35 289.0,273.84 290.0,274.76 291.0,277.10 292.0,280.07 293.0,283.21 294.0,285.67 295.0,287.35 296.0,288.31 297.0,288.77 298.0,288.97 299.0,289.06 299.0,289.10" fill="#d3def5" fill-opacity="0.5" stroke="none"/>
<polyline points="278.0,289.07 279.0,289.00 280.0,288.83 281.0,288.45 282.0,287.66 283.0,286.24 284.0,283.88 285.0,280.57 286.0,277.43 287.0,275.38 288.0,274.35 289.0,273.84 290.0,274.76 291.0,277.10 292.0,280.07 293.0,283.21 294.0,285.67 295.0,287.35 296.0,288.31 297.0,288.77 298.0,288.97 299.0,289.06" fill="none" stroke="#7896d2" stroke-width="0.75"/>
<rect x="250.50" y="224.50" width="66.30" height="65.50" fill="none" stroke="#666" stroke-width="0.8"/>
<text x="273.30" y="241.50" font-size="7.3" font-weight="bold" text-anchor="end">12100</text>
<text x="273.30" y="250.70" font-size="7.3" font-weight="bold" text-anchor="end">6510</text>
<text x="273.30" y="259.90" font-size="7.3" font-weight="bold" text-anchor="end">15800</text>
<text x="273.30" y="269.10" font-size="7.3" font-weight="bold" text-anchor="end">9088</text>
<text x="273.30" y="278.30" font-size="7.3" font-weight="bold" text-anchor="end">2337</text>
<text x="273.30" y="287.50" font-size="7.3" font-weight="bold" text-anchor="end">3276</text>
<text x="285.00" y="307.30" font-size="9.2" font-weight="bold" text-anchor="middle" stroke="#000" stroke-width="0.28">cyt LC</text>
<text x="258.5" y="295.5" font-size="4.2" fill="#666" text-anchor="middle" font-weight="normal">0</text>
<line x1="258.5" y1="290.0" x2="258.5" y2="288.8" stroke="#777" stroke-width="0.5"/>
<text x="274.4" y="295.5" font-size="4.2" fill="#666" text-anchor="middle" font-weight="normal">10²</text>
<line x1="274.4" y1="290.0" x2="274.4" y2="288.8" stroke="#777" stroke-width="0.5"/>
<text x="289.0" y="295.5" font-size="4.2" fill="#666" text-anchor="middle" font-weight="normal">10³</text>
<line x1="289.0" y1="290.0" x2="289.0" y2="288.8" stroke="#777" stroke-width="0.5"/>
<text x="302.2" y="295.5" font-size="4.2" fill="#666" text-anchor="middle" font-weight="normal">10⁴</text>
<line x1="302.2" y1="290.0" x2="302.2" y2="288.8" stroke="#777" stroke-width="0.5"/>
<text x="314.1" y="295.5" font-size="4.2" fill="#666" text-anchor="middle" font-weight="normal">10⁵</text>
<line x1="314.1" y1="290.0" x2="314.1" y2="288.8" stroke="#777" stroke-width="0.5"/>
<line x1="318.6" y1="243.10" x2="382.2" y2="243.10" stroke="#d8d8d8" stroke-width="0.6"/>
<line x1="318.6" y1="252.30" x2="382.2" y2="252.30" stroke="#d8d8d8" stroke-width="0.6"/>
<line x1="318.6" y1="261.50" x2="382.2" y2="261.50" stroke="#d8d8d8" stroke-width="0.6"/>
<line x1="318.6" y1="270.70" x2="382.2" y2="270.70" stroke="#d8d8d8" stroke-width="0.6"/>
<line x1="318.6" y1="279.90" x2="382.2" y2="279.90" stroke="#d8d8d8" stroke-width="0.6"/>
<line x1="318.6" y1="289.10" x2="382.2" y2="289.10" stroke="#d8d8d8" stroke-width="0.6"/>
<polygon points="346.1,243.10 346.1,243.03 347.1,242.92 348.1,242.63 349.1,242.08 350.1,241.10 351.1,239.49 352.1,237.53 353.1,235.59 354.1,233.41 355.1,231.66 356.1,232.01 357.1,234.15 358.1,235.96 359.1,237.74 360.1,239.84 361.1,241.30 362.1,242.14 363.1,242.64 364.1,242.91 365.1,243.03 365.1,243.10" fill="#d6daee" fill-opacity="0.5" stroke="none"/>
<polyline points="346.1,243.03 347.1,242.92 348.1,242.63 349.1,242.08 350.1,241.10 351.1,239.49 352.1,237.53 353.1,235.59 354.1,233.41 355.1,231.66 356.1,232.01 357.1,234.15 358.1,235.96 359.1,237.74 360.1,239.84 361.1,241.30 362.1,242.14 363.1,242.64 364.1,242.91 365.1,243.03" fill="none" stroke="#6a78a8" stroke-width="0.75"/>
<polygon points="339.1,252.30 339.1,252.24 340.1,252.15 341.1,252.00 342.1,251.75 343.1,251.40 344.1,251.03 345.1,250.61 346.1,250.11 347.1,249.55 348.1,248.74 349.1,247.92 350.1,247.35 351.1,246.70 352.1,246.29 353.1,246.18 354.1,246.48 355.1,247.35 356.1,248.58 357.1,249.86 358.1,250.84 359.1,251.51 360.1,251.93 361.1,252.14 362.1,252.24 362.1,252.30" fill="#f2d6f2" fill-opacity="0.5" stroke="none"/>
<polyline points="339.1,252.24 340.1,252.15 341.1,252.00 342.1,251.75 343.1,251.40 344.1,251.03 345.1,250.61 346.1,250.11 347.1,249.55 348.1,248.74 349.1,247.92 350.1,247.35 351.1,246.70 352.1,246.29 353.1,246.18 354.1,246.48 355.1,247.35 356.1,248.58 357.1,249.86 358.1,250.84 359.1,251.51 360.1,251.93 361.1,252.14 362.1,252.24" fill="none" stroke="#c27ac4" stroke-width="0.75"/>
<polygon points="347.1,261.50 347.1,261.47 348.1,261.39 349.1,261.13 350.1,260.46 351.1,259.11 352.1,256.90 353.1,253.64 354.1,249.64 355.1,246.92 356.1,246.24 357.1,247.70 358.1,250.96 359.1,254.19 360.1,257.21 361.1,259.53 362.1,260.74 363.1,261.23 364.1,261.42 365.1,261.48 365.1,261.50" fill="#dcead6" fill-opacity="0.5" stroke="none"/>
<polyline points="347.1,261.47 348.1,261.39 349.1,261.13 350.1,260.46 351.1,259.11 352.1,256.90 353.1,253.64 354.1,249.64 355.1,246.92 356.1,246.24 357.1,247.70 358.1,250.96 359.1,254.19 360.1,257.21 361.1,259.53 362.1,260.74 363.1,261.23 364.1,261.42 365.1,261.48" fill="none" stroke="#78966a" stroke-width="0.75"/>
<polygon points="344.1,270.70 344.1,270.65 345.1,270.57 346.1,270.37 347.1,269.95 348.1,269.22 349.1,268.15 350.1,266.65 351.1,264.83 352.1,263.78 353.1,263.75 354.1,263.59 355.1,264.19 356.1,265.60 357.1,266.82 358.1,268.13 359.1,269.28 360.1,269.98 361.1,270.37 362.1,270.56 363.1,270.65 363.1,270.70" fill="#fbe9d2" fill-opacity="0.5" stroke="none"/>
<polyline points="344.1,270.65 345.1,270.57 346.1,270.37 347.1,269.95 348.1,269.22 349.1,268.15 350.1,266.65 351.1,264.83 352.1,263.78 353.1,263.75 354.1,263.59 355.1,264.19 356.1,265.60 357.1,266.82 358.1,268.13 359.1,269.28 360.1,269.98 361.1,270.37 362.1,270.56 363.1,270.65" fill="none" stroke="#f0b878" stroke-width="0.75"/>
<polygon points="321.1,279.90 321.1,279.84 322.1,279.77 323.1,279.65 324.1,279.43 325.1,279.03 326.1,278.41 327.1,277.58 328.1,276.47 329.1,275.00 330.1,273.04 331.1,270.45 332.1,267.70 333.1,265.86 334.1,264.29 335.1,262.13 336.1,260.86 337.1,261.01 338.1,262.11 339.1,264.15 340.1,266.31 341.1,268.31 342.1,270.00 343.1,271.41 344.1,273.18 345.1,275.26 346.1,276.93 347.1,277.89 348.1,278.61 349.1,279.21 350.1,279.56 351.1,279.74 352.1,279.83 352.1,279.90" fill="#f5d3c6" fill-opacity="0.5" stroke="none"/>
<polyline points="321.1,279.84 322.1,279.77 323.1,279.65 324.1,279.43 325.1,279.03 326.1,278.41 327.1,277.58 328.1,276.47 329.1,275.00 330.1,273.04 331.1,270.45 332.1,267.70 333.1,265.86 334.1,264.29 335.1,262.13 336.1,260.86 337.1,261.01 338.1,262.11 339.1,264.15 340.1,266.31 341.1,268.31 342.1,270.00 343.1,271.41 344.1,273.18 345.1,275.26 346.1,276.93 347.1,277.89 348.1,278.61 349.1,279.21 350.1,279.56 351.1,279.74 352.1,279.83" fill="none" stroke="#c25a3a" stroke-width="0.75"/>
<polygon points="319.1,289.10 319.1,289.02 320.1,288.94 321.1,288.79 322.1,288.55 323.1,288.24 324.1,287.71 325.1,286.82 326.1,285.76 327.1,284.49 328.1,282.88 329.1,280.91 330.1,278.90 331.1,277.01 332.1,275.19 333.1,273.91 334.1,272.55 335.1,271.89 336.1,272.44 337.1,273.34 338.1,275.00 339.1,276.92 340.1,278.80 341.1,280.67 342.1,282.47 343.1,284.12 344.1,285.50 345.1,286.68 346.1,287.52 347.1,288.05 348.1,288.42 349.1,288.71 350.1,288.88 351.1,288.99 352.1,289.04 352.1,289.10" fill="#d3def5" fill-opacity="0.5" stroke="none"/>
<polyline points="319.1,289.02 320.1,288.94 321.1,288.79 322.1,288.55 323.1,288.24 324.1,287.71 325.1,286.82 326.1,285.76 327.1,284.49 328.1,282.88 329.1,280.91 330.1,278.90 331.1,277.01 332.1,275.19 333.1,273.91 334.1,272.55 335.1,271.89 336.1,272.44 337.1,273.34 338.1,275.00 339.1,276.92 340.1,278.80 341.1,280.67 342.1,282.47 343.1,284.12 344.1,285.50 345.1,286.68 346.1,287.52 347.1,288.05 348.1,288.42 349.1,288.71 350.1,288.88 351.1,288.99 352.1,289.04" fill="none" stroke="#7896d2" stroke-width="0.75"/>
<rect x="318.60" y="224.50" width="63.60" height="65.50" fill="none" stroke="#666" stroke-width="0.8"/>
<text x="381.40" y="241.50" font-size="7.3" font-weight="bold" text-anchor="end">2174</text>
<text x="381.40" y="250.70" font-size="7.3" font-weight="bold" text-anchor="end">1283</text>
<text x="381.40" y="259.90" font-size="7.3" font-weight="bold" text-anchor="end">2348</text>
<text x="381.40" y="269.10" font-size="7.3" font-weight="bold" text-anchor="end">1443</text>
<text x="381.40" y="278.30" font-size="7.3" font-weight="bold" text-anchor="end">54</text>
<text x="381.40" y="287.50" font-size="7.3" font-weight="bold" text-anchor="end">44</text>
<text x="350.40" y="307.30" font-size="9.2" font-weight="bold" text-anchor="middle" stroke="#000" stroke-width="0.28">CD319</text>
<text x="326.2" y="295.5" font-size="4.2" fill="#666" text-anchor="middle" font-weight="normal">0</text>
<line x1="326.2" y1="290.0" x2="326.2" y2="288.8" stroke="#777" stroke-width="0.5"/>
<text x="341.5" y="295.5" font-size="4.2" fill="#666" text-anchor="middle" font-weight="normal">10²</text>
<line x1="341.5" y1="290.0" x2="341.5" y2="288.8" stroke="#777" stroke-width="0.5"/>
<text x="355.5" y="295.5" font-size="4.2" fill="#666" text-anchor="middle" font-weight="normal">10³</text>
<line x1="355.5" y1="290.0" x2="355.5" y2="288.8" stroke="#777" stroke-width="0.5"/>
<text x="368.2" y="295.5" font-size="4.2" fill="#666" text-anchor="middle" font-weight="normal">10⁴</text>
<line x1="368.2" y1="290.0" x2="368.2" y2="288.8" stroke="#777" stroke-width="0.5"/>
<text x="379.7" y="295.5" font-size="4.2" fill="#666" text-anchor="middle" font-weight="normal">10⁵</text>
<line x1="379.7" y1="290.0" x2="379.7" y2="288.8" stroke="#777" stroke-width="0.5"/>
<line x1="384.8" y1="243.10" x2="449.5" y2="243.10" stroke="#d8d8d8" stroke-width="0.6"/>
<line x1="384.8" y1="252.30" x2="449.5" y2="252.30" stroke="#d8d8d8" stroke-width="0.6"/>
<line x1="384.8" y1="261.50" x2="449.5" y2="261.50" stroke="#d8d8d8" stroke-width="0.6"/>
<line x1="384.8" y1="270.70" x2="449.5" y2="270.70" stroke="#d8d8d8" stroke-width="0.6"/>
<line x1="384.8" y1="279.90" x2="449.5" y2="279.90" stroke="#d8d8d8" stroke-width="0.6"/>
<line x1="384.8" y1="289.10" x2="449.5" y2="289.10" stroke="#d8d8d8" stroke-width="0.6"/>
<polygon points="395.3,243.10 395.3,243.06 396.3,242.99 397.3,242.85 398.3,242.61 399.3,242.26 400.3,241.74 401.3,241.02 402.3,240.24 403.3,239.39 404.3,238.29 405.3,236.85 406.3,235.22 407.3,234.24 408.3,234.46 409.3,235.36 410.3,236.69 411.3,238.18 412.3,239.22 413.3,239.65 414.3,239.75 415.3,239.70 416.3,239.58 417.3,239.76 418.3,240.25 419.3,240.65 420.3,241.05 421.3,241.42 422.3,241.67 423.3,241.72 424.3,241.44 425.3,240.81 426.3,240.22 427.3,239.89 428.3,239.47 429.3,239.33 430.3,239.71 431.3,240.19 432.3,240.64 433.3,241.00 434.3,241.33 435.3,241.52 436.3,241.66 437.3,241.97 438.3,242.31 439.3,242.60 440.3,242.81 441.3,242.94 442.3,243.02 442.3,243.10" fill="#d6daee" fill-opacity="0.5" stroke="none"/>
<polyline points="395.3,243.06 396.3,242.99 397.3,242.85 398.3,242.61 399.3,242.26 400.3,241.74 401.3,241.02 402.3,240.24 403.3,239.39 404.3,238.29 405.3,236.85 406.3,235.22 407.3,234.24 408.3,234.46 409.3,235.36 410.3,236.69 411.3,238.18 412.3,239.22 413.3,239.65 414.3,239.75 415.3,239.70 416.3,239.58 417.3,239.76 418.3,240.25 419.3,240.65 420.3,241.05 421.3,241.42 422.3,241.67 423.3,241.72 424.3,241.44 425.3,240.81 426.3,240.22 427.3,239.89 428.3,239.47 429.3,239.33 430.3,239.71 431.3,240.19 432.3,240.64 433.3,241.00 434.3,241.33 435.3,241.52 436.3,241.66 437.3,241.97 438.3,242.31 439.3,242.60 440.3,242.81 441.3,242.94 442.3,243.02" fill="none" stroke="#6a78a8" stroke-width="0.75"/>
<polygon points="400.3,252.30 400.3,252.28 401.3,252.20 402.3,251.91 403.3,251.28 404.3,250.52 405.3,250.31 406.3,250.84 407.3,251.45 408.3,251.54 409.3,251.00 410.3,250.20 411.3,249.58 412.3,249.27 413.3,249.73 414.3,250.71 415.3,251.55 416.3,251.98 417.3,252.05 418.3,251.82 419.3,251.26 420.3,250.54 421.3,250.01 422.3,249.80 423.3,250.18 424.3,250.84 425.3,251.10 426.3,250.73 427.3,249.78 428.3,248.50 429.3,247.62 430.3,247.56 431.3,248.27 432.3,249.58 433.3,250.89 434.3,251.71 435.3,252.08 436.3,252.23 436.3,252.30" fill="#f2d6f2" fill-opacity="0.5" stroke="none"/>
<polyline points="400.3,252.28 401.3,252.20 402.3,251.91 403.3,251.28 404.3,250.52 405.3,250.31 406.3,250.84 407.3,251.45 408.3,251.54 409.3,251.00 410.3,250.20 411.3,249.58 412.3,249.27 413.3,249.73 414.3,250.71 415.3,251.55 416.3,251.98 417.3,252.05 418.3,251.82 419.3,251.26 420.3,250.54 421.3,250.01 422.3,249.80 423.3,250.18 424.3,250.84 425.3,251.10 426.3,250.73 427.3,249.78 428.3,248.50 429.3,247.62 430.3,247.56 431.3,248.27 432.3,249.58 433.3,250.89 434.3,251.71 435.3,252.08 436.3,252.23" fill="none" stroke="#c27ac4" stroke-width="0.75"/>
<polygon points="395.3,261.50 395.3,261.45 396.3,261.41 397.3,261.31 398.3,261.17 399.3,260.96 400.3,260.68 401.3,260.33 402.3,259.86 403.3,259.23 404.3,258.58 405.3,258.09 406.3,257.65 407.3,257.21 408.3,256.68 409.3,255.92 410.3,255.08 411.3,254.60 412.3,254.44 413.3,254.18 414.3,254.23 415.3,254.68 416.3,255.25 417.3,255.72 418.3,256.20 419.3,256.77 420.3,256.99 421.3,257.00 422.3,256.99 423.3,257.14 424.3,257.46 425.3,257.38 426.3,257.43 427.3,257.85 428.3,258.10 429.3,258.24 430.3,258.53 431.3,258.91 432.3,259.17 433.3,259.30 434.3,259.61 435.3,260.00 436.3,260.33 437.3,260.65 438.3,260.91 439.3,261.11 440.3,261.27 441.3,261.36 442.3,261.43 442.3,261.50" fill="#dcead6" fill-opacity="0.5" stroke="none"/>
<polyline points="395.3,261.45 396.3,261.41 397.3,261.31 398.3,261.17 399.3,260.96 400.3,260.68 401.3,260.33 402.3,259.86 403.3,259.23 404.3,258.58 405.3,258.09 406.3,257.65 407.3,257.21 408.3,256.68 409.3,255.92 410.3,255.08 411.3,254.60 412.3,254.44 413.3,254.18 414.3,254.23 415.3,254.68 416.3,255.25 417.3,255.72 418.3,256.20 419.3,256.77 420.3,256.99 421.3,257.00 422.3,256.99 423.3,257.14 424.3,257.46 425.3,257.38 426.3,257.43 427.3,257.85 428.3,258.10 429.3,258.24 430.3,258.53 431.3,258.91 432.3,259.17 433.3,259.30 434.3,259.61 435.3,260.00 436.3,260.33 437.3,260.65 438.3,260.91 439.3,261.11 440.3,261.27 441.3,261.36 442.3,261.43" fill="none" stroke="#78966a" stroke-width="0.75"/>
<polygon points="395.3,270.70 395.3,270.64 396.3,270.60 397.3,270.55 398.3,270.46 399.3,270.36 400.3,270.25 401.3,270.10 402.3,269.94 403.3,269.76 404.3,269.57 405.3,269.40 406.3,269.27 407.3,269.25 408.3,269.27 409.3,269.31 410.3,269.37 411.3,269.45 412.3,269.59 413.3,269.75 414.3,269.96 415.3,270.18 416.3,270.34 417.3,270.45 418.3,270.53 419.3,270.59 420.3,270.61 421.3,270.60 422.3,270.51 423.3,270.26 424.3,269.79 425.3,269.02 426.3,268.06 427.3,267.41 428.3,267.30 429.3,267.47 430.3,267.93 431.3,268.78 432.3,269.66 433.3,270.21 434.3,270.49 435.3,270.62 435.3,270.70" fill="#fbe9d2" fill-opacity="0.5" stroke="none"/>
<polyline points="395.3,270.64 396.3,270.60 397.3,270.55 398.3,270.46 399.3,270.36 400.3,270.25 401.3,270.10 402.3,269.94 403.3,269.76 404.3,269.57 405.3,269.40 406.3,269.27 407.3,269.25 408.3,269.27 409.3,269.31 410.3,269.37 411.3,269.45 412.3,269.59 413.3,269.75 414.3,269.96 415.3,270.18 416.3,270.34 417.3,270.45 418.3,270.53 419.3,270.59 420.3,270.61 421.3,270.60 422.3,270.51 423.3,270.26 424.3,269.79 425.3,269.02 426.3,268.06 427.3,267.41 428.3,267.30 429.3,267.47 430.3,267.93 431.3,268.78 432.3,269.66 433.3,270.21 434.3,270.49 435.3,270.62" fill="none" stroke="#f0b878" stroke-width="0.75"/>
<polygon points="409.3,279.90 409.3,279.87 410.3,279.80 411.3,279.64 412.3,279.33 413.3,278.71 414.3,277.40 415.3,275.24 416.3,272.73 417.3,269.87 418.3,266.31 419.3,262.97 420.3,261.85 421.3,263.23 422.3,265.12 423.3,267.57 424.3,271.12 425.3,274.23 426.3,276.36 427.3,277.92 428.3,278.93 429.3,279.47 430.3,279.72 431.3,279.83 431.3,279.90" fill="#f5d3c6" fill-opacity="0.5" stroke="none"/>
<polyline points="409.3,279.87 410.3,279.80 411.3,279.64 412.3,279.33 413.3,278.71 414.3,277.40 415.3,275.24 416.3,272.73 417.3,269.87 418.3,266.31 419.3,262.97 420.3,261.85 421.3,263.23 422.3,265.12 423.3,267.57 424.3,271.12 425.3,274.23 426.3,276.36 427.3,277.92 428.3,278.93 429.3,279.47 430.3,279.72 431.3,279.83" fill="none" stroke="#c25a3a" stroke-width="0.75"/>
<polygon points="408.3,289.10 408.3,289.06 409.3,289.02 410.3,288.94 411.3,288.82 412.3,288.64 413.3,288.35 414.3,287.87 415.3,287.17 416.3,286.27 417.3,285.09 418.3,283.33 419.3,281.36 420.3,279.91 421.3,278.68 422.3,277.08 423.3,275.02 424.3,273.89 425.3,273.47 426.3,272.98 427.3,273.85 428.3,275.54 429.3,276.72 430.3,278.02 431.3,280.11 432.3,282.22 433.3,284.03 434.3,285.55 435.3,286.61 436.3,287.42 437.3,288.03 438.3,288.44 439.3,288.72 440.3,288.88 441.3,288.98 442.3,289.04 442.3,289.10" fill="#d3def5" fill-opacity="0.5" stroke="none"/>
<polyline points="408.3,289.06 409.3,289.02 410.3,288.94 411.3,288.82 412.3,288.64 413.3,288.35 414.3,287.87 415.3,287.17 416.3,286.27 417.3,285.09 418.3,283.33 419.3,281.36 420.3,279.91 421.3,278.68 422.3,277.08 423.3,275.02 424.3,273.89 425.3,273.47 426.3,272.98 427.3,273.85 428.3,275.54 429.3,276.72 430.3,278.02 431.3,280.11 432.3,282.22 433.3,284.03 434.3,285.55 435.3,286.61 436.3,287.42 437.3,288.03 438.3,288.44 439.3,288.72 440.3,288.88 441.3,288.98 442.3,289.04" fill="none" stroke="#7896d2" stroke-width="0.75"/>
<rect x="384.80" y="224.50" width="64.70" height="65.50" fill="none" stroke="#666" stroke-width="0.8"/>
<text x="399.60" y="241.50" font-size="7.3" font-weight="bold" text-anchor="end">779</text>
<text x="399.60" y="250.70" font-size="7.3" font-weight="bold" text-anchor="end">1573</text>
<text x="399.60" y="259.90" font-size="7.3" font-weight="bold" text-anchor="end">1419</text>
<text x="399.60" y="269.10" font-size="7.3" font-weight="bold" text-anchor="end">2739</text>
<text x="399.60" y="278.30" font-size="7.3" font-weight="bold" text-anchor="end">2927</text>
<text x="399.60" y="287.50" font-size="7.3" font-weight="bold" text-anchor="end">6523</text>
<text x="416.50" y="307.30" font-size="9.2" font-weight="bold" text-anchor="middle" stroke="#000" stroke-width="0.28">HLA-DR</text>
<text x="392.6" y="295.5" font-size="4.2" fill="#666" text-anchor="middle" font-weight="normal">0</text>
<line x1="392.6" y1="290.0" x2="392.6" y2="288.8" stroke="#777" stroke-width="0.5"/>
<text x="408.1" y="295.5" font-size="4.2" fill="#666" text-anchor="middle" font-weight="normal">10²</text>
<line x1="408.1" y1="290.0" x2="408.1" y2="288.8" stroke="#777" stroke-width="0.5"/>
<text x="422.3" y="295.5" font-size="4.2" fill="#666" text-anchor="middle" font-weight="normal">10³</text>
<line x1="422.3" y1="290.0" x2="422.3" y2="288.8" stroke="#777" stroke-width="0.5"/>
<text x="435.3" y="295.5" font-size="4.2" fill="#666" text-anchor="middle" font-weight="normal">10⁴</text>
<line x1="435.3" y1="290.0" x2="435.3" y2="288.8" stroke="#777" stroke-width="0.5"/>
<text x="446.9" y="295.5" font-size="4.2" fill="#666" text-anchor="middle" font-weight="normal">10⁵</text>
<line x1="446.9" y1="290.0" x2="446.9" y2="288.8" stroke="#777" stroke-width="0.5"/>
<line x1="451.3" y1="243.10" x2="514.6" y2="243.10" stroke="#d8d8d8" stroke-width="0.6"/>
<line x1="451.3" y1="252.30" x2="514.6" y2="252.30" stroke="#d8d8d8" stroke-width="0.6"/>
<line x1="451.3" y1="261.50" x2="514.6" y2="261.50" stroke="#d8d8d8" stroke-width="0.6"/>
<line x1="451.3" y1="270.70" x2="514.6" y2="270.70" stroke="#d8d8d8" stroke-width="0.6"/>
<line x1="451.3" y1="279.90" x2="514.6" y2="279.90" stroke="#d8d8d8" stroke-width="0.6"/>
<line x1="451.3" y1="289.10" x2="514.6" y2="289.10" stroke="#d8d8d8" stroke-width="0.6"/>
<polygon points="451.8,243.10 451.8,243.08 452.8,243.01 453.8,242.84 454.8,242.45 455.8,241.89 456.8,241.43 457.8,241.22 458.8,241.38 459.8,241.81 460.8,242.26 461.8,242.34 462.8,241.83 463.8,240.77 464.8,239.62 465.8,238.98 466.8,238.86 467.8,239.36 468.8,239.99 469.8,240.35 470.8,240.75 471.8,241.25 472.8,241.81 473.8,242.37 474.8,242.75 475.8,242.94 476.8,243.04 476.8,243.10" fill="#d6daee" fill-opacity="0.5" stroke="none"/>
<polyline points="451.8,243.08 452.8,243.01 453.8,242.84 454.8,242.45 455.8,241.89 456.8,241.43 457.8,241.22 458.8,241.38 459.8,241.81 460.8,242.26 461.8,242.34 462.8,241.83 463.8,240.77 464.8,239.62 465.8,238.98 466.8,238.86 467.8,239.36 468.8,239.99 469.8,240.35 470.8,240.75 471.8,241.25 472.8,241.81 473.8,242.37 474.8,242.75 475.8,242.94 476.8,243.04" fill="none" stroke="#6a78a8" stroke-width="0.75"/>
<polygon points="451.8,252.30 451.8,252.18 452.8,252.09 453.8,251.93 454.8,251.74 455.8,251.56 456.8,251.44 457.8,251.34 458.8,251.28 459.8,251.22 460.8,251.02 461.8,250.49 462.8,249.78 463.8,249.21 464.8,249.21 465.8,249.86 466.8,250.57 467.8,250.95 468.8,250.84 469.8,250.19 470.8,249.09 471.8,248.25 472.8,247.92 473.8,248.03 474.8,248.94 475.8,250.05 476.8,250.92 477.8,251.63 478.8,252.02 479.8,252.20 480.8,252.27 480.8,252.30" fill="#f2d6f2" fill-opacity="0.5" stroke="none"/>
<polyline points="451.8,252.18 452.8,252.09 453.8,251.93 454.8,251.74 455.8,251.56 456.8,251.44 457.8,251.34 458.8,251.28 459.8,251.22 460.8,251.02 461.8,250.49 462.8,249.78 463.8,249.21 464.8,249.21 465.8,249.86 466.8,250.57 467.8,250.95 468.8,250.84 469.8,250.19 470.8,249.09 471.8,248.25 472.8,247.92 473.8,248.03 474.8,248.94 475.8,250.05 476.8,250.92 477.8,251.63 478.8,252.02 479.8,252.20 480.8,252.27" fill="none" stroke="#c27ac4" stroke-width="0.75"/>
<polygon points="451.8,261.50 451.8,261.36 452.8,261.18 453.8,260.85 454.8,260.30 455.8,259.45 456.8,258.36 457.8,256.85 458.8,255.40 459.8,254.85 460.8,254.73 461.8,254.90 462.8,255.06 463.8,254.81 464.8,254.63 465.8,254.22 466.8,253.59 467.8,253.60 468.8,253.89 469.8,254.00 470.8,253.88 471.8,253.84 472.8,254.37 473.8,255.27 474.8,256.39 475.8,257.54 476.8,258.49 477.8,259.03 478.8,259.20 479.8,259.35 480.8,259.54 481.8,259.64 482.8,259.84 483.8,260.13 484.8,260.32 485.8,260.47 486.8,260.71 487.8,260.93 488.8,261.07 489.8,261.19 490.8,261.30 491.8,261.38 492.8,261.43 492.8,261.50" fill="#dcead6" fill-opacity="0.5" stroke="none"/>
<polyline points="451.8,261.36 452.8,261.18 453.8,260.85 454.8,260.30 455.8,259.45 456.8,258.36 457.8,256.85 458.8,255.40 459.8,254.85 460.8,254.73 461.8,254.90 462.8,255.06 463.8,254.81 464.8,254.63 465.8,254.22 466.8,253.59 467.8,253.60 468.8,253.89 469.8,254.00 470.8,253.88 471.8,253.84 472.8,254.37 473.8,255.27 474.8,256.39 475.8,257.54 476.8,258.49 477.8,259.03 478.8,259.20 479.8,259.35 480.8,259.54 481.8,259.64 482.8,259.84 483.8,260.13 484.8,260.32 485.8,260.47 486.8,260.71 487.8,260.93 488.8,261.07 489.8,261.19 490.8,261.30 491.8,261.38 492.8,261.43" fill="none" stroke="#78966a" stroke-width="0.75"/>
<polygon points="460.8,270.70 460.8,270.67 461.8,270.58 462.8,270.35 463.8,269.86 464.8,268.97 465.8,267.52 466.8,265.73 467.8,263.90 468.8,262.90 469.8,263.57 470.8,264.93 471.8,266.62 472.8,268.26 473.8,269.46 474.8,270.19 475.8,270.52 476.8,270.65 476.8,270.70" fill="#fbe9d2" fill-opacity="0.5" stroke="none"/>
<polyline points="460.8,270.67 461.8,270.58 462.8,270.35 463.8,269.86 464.8,268.97 465.8,267.52 466.8,265.73 467.8,263.90 468.8,262.90 469.8,263.57 470.8,264.93 471.8,266.62 472.8,268.26 473.8,269.46 474.8,270.19 475.8,270.52 476.8,270.65" fill="none" stroke="#f0b878" stroke-width="0.75"/>
<polygon points="477.8,279.90 477.8,279.85 478.8,279.75 479.8,279.51 480.8,278.97 481.8,277.90 482.8,276.07 483.8,273.50 484.8,270.75 485.8,267.85 486.8,265.05 487.8,263.97 488.8,264.85 489.8,266.66 490.8,269.43 491.8,272.57 492.8,275.50 493.8,277.64 494.8,278.81 495.8,279.41 496.8,279.71 497.8,279.84 497.8,279.90" fill="#f5d3c6" fill-opacity="0.5" stroke="none"/>
<polyline points="477.8,279.85 478.8,279.75 479.8,279.51 480.8,278.97 481.8,277.90 482.8,276.07 483.8,273.50 484.8,270.75 485.8,267.85 486.8,265.05 487.8,263.97 488.8,264.85 489.8,266.66 490.8,269.43 491.8,272.57 492.8,275.50 493.8,277.64 494.8,278.81 495.8,279.41 496.8,279.71 497.8,279.84" fill="none" stroke="#c25a3a" stroke-width="0.75"/>
<polygon points="478.8,289.10 478.8,289.02 479.8,288.83 480.8,288.28 481.8,287.03 482.8,284.77 483.8,281.74 484.8,278.31 485.8,274.40 486.8,272.17 487.8,273.08 488.8,275.58 489.8,279.50 490.8,283.86 491.8,286.72 492.8,288.01 493.8,288.66 494.8,288.97 495.8,289.07 495.8,289.10" fill="#d3def5" fill-opacity="0.5" stroke="none"/>
<polyline points="478.8,289.02 479.8,288.83 480.8,288.28 481.8,287.03 482.8,284.77 483.8,281.74 484.8,278.31 485.8,274.40 486.8,272.17 487.8,273.08 488.8,275.58 489.8,279.50 490.8,283.86 491.8,286.72 492.8,288.01 493.8,288.66 494.8,288.97 495.8,289.07" fill="none" stroke="#7896d2" stroke-width="0.75"/>
<rect x="451.30" y="224.50" width="63.30" height="65.50" fill="none" stroke="#666" stroke-width="0.8"/>
<text x="513.30" y="241.50" font-size="7.3" font-weight="bold" text-anchor="end">15</text>
<text x="513.30" y="250.70" font-size="7.3" font-weight="bold" text-anchor="end">89</text>
<text x="513.30" y="259.90" font-size="7.3" font-weight="bold" text-anchor="end">47</text>
<text x="513.30" y="269.10" font-size="7.3" font-weight="bold" text-anchor="end">79</text>
<text x="513.30" y="278.30" font-size="7.3" font-weight="bold" text-anchor="end">1527</text>
<text x="513.30" y="287.50" font-size="7.3" font-weight="bold" text-anchor="end">1203</text>
<text x="481.80" y="307.30" font-size="9.2" font-weight="bold" text-anchor="middle" stroke="#000" stroke-width="0.28">CD20</text>
<text x="458.9" y="295.5" font-size="4.2" fill="#666" text-anchor="middle" font-weight="normal">0</text>
<line x1="458.9" y1="290.0" x2="458.9" y2="288.8" stroke="#777" stroke-width="0.5"/>
<text x="474.1" y="295.5" font-size="4.2" fill="#666" text-anchor="middle" font-weight="normal">10²</text>
<line x1="474.1" y1="290.0" x2="474.1" y2="288.8" stroke="#777" stroke-width="0.5"/>
<text x="488.0" y="295.5" font-size="4.2" fill="#666" text-anchor="middle" font-weight="normal">10³</text>
<line x1="488.0" y1="290.0" x2="488.0" y2="288.8" stroke="#777" stroke-width="0.5"/>
<text x="500.7" y="295.5" font-size="4.2" fill="#666" text-anchor="middle" font-weight="normal">10⁴</text>
<line x1="500.7" y1="290.0" x2="500.7" y2="288.8" stroke="#777" stroke-width="0.5"/>
<text x="512.1" y="295.5" font-size="4.2" fill="#666" text-anchor="middle" font-weight="normal">10⁵</text>
<line x1="512.1" y1="290.0" x2="512.1" y2="288.8" stroke="#777" stroke-width="0.5"/>
<line x1="115.0" y1="478.40" x2="180.8" y2="478.40" stroke="#d8d8d8" stroke-width="0.6"/>
<line x1="115.0" y1="487.40" x2="180.8" y2="487.40" stroke="#d8d8d8" stroke-width="0.6"/>
<line x1="115.0" y1="496.40" x2="180.8" y2="496.40" stroke="#d8d8d8" stroke-width="0.6"/>
<line x1="115.0" y1="505.40" x2="180.8" y2="505.40" stroke="#d8d8d8" stroke-width="0.6"/>
<line x1="115.0" y1="514.40" x2="180.8" y2="514.40" stroke="#d8d8d8" stroke-width="0.6"/>
<line x1="115.0" y1="523.40" x2="180.8" y2="523.40" stroke="#d8d8d8" stroke-width="0.6"/>
<polygon points="134.5,478.40 134.5,478.32 135.5,478.21 136.5,478.00 137.5,477.62 138.5,476.97 139.5,476.13 140.5,475.37 141.5,474.60 142.5,473.64 143.5,472.72 144.5,471.60 145.5,470.66 146.5,470.23 147.5,470.22 148.5,470.01 149.5,469.23 150.5,468.78 151.5,468.60 152.5,467.77 153.5,466.90 154.5,467.03 155.5,467.38 156.5,467.43 157.5,467.79 158.5,469.01 159.5,470.16 160.5,470.43 161.5,470.93 162.5,471.94 163.5,472.81 164.5,473.42 165.5,473.98 166.5,474.66 167.5,475.27 168.5,475.69 169.5,476.00 170.5,476.27 171.5,476.61 172.5,476.89 173.5,477.06 174.5,477.30 175.5,477.56 176.5,477.81 177.5,478.03 178.5,478.19 179.5,478.28 179.5,478.40" fill="#d6daee" fill-opacity="0.5" stroke="none"/>
<polyline points="134.5,478.32 135.5,478.21 136.5,478.00 137.5,477.62 138.5,476.97 139.5,476.13 140.5,475.37 141.5,474.60 142.5,473.64 143.5,472.72 144.5,471.60 145.5,470.66 146.5,470.23 147.5,470.22 148.5,470.01 149.5,469.23 150.5,468.78 151.5,468.60 152.5,467.77 153.5,466.90 154.5,467.03 155.5,467.38 156.5,467.43 157.5,467.79 158.5,469.01 159.5,470.16 160.5,470.43 161.5,470.93 162.5,471.94 163.5,472.81 164.5,473.42 165.5,473.98 166.5,474.66 167.5,475.27 168.5,475.69 169.5,476.00 170.5,476.27 171.5,476.61 172.5,476.89 173.5,477.06 174.5,477.30 175.5,477.56 176.5,477.81 177.5,478.03 178.5,478.19 179.5,478.28" fill="none" stroke="#6a78a8" stroke-width="0.75"/>
<polygon points="137.5,487.40 137.5,487.34 138.5,487.25 139.5,487.01 140.5,486.50 141.5,485.69 142.5,484.40 143.5,482.33 144.5,479.85 145.5,477.17 146.5,475.13 147.5,474.13 148.5,473.70 149.5,474.49 150.5,476.01 151.5,477.62 152.5,479.08 153.5,480.07 154.5,480.94 155.5,481.74 156.5,482.31 157.5,482.64 158.5,482.78 159.5,483.24 160.5,483.76 161.5,483.95 162.5,483.98 163.5,484.12 164.5,484.53 165.5,484.73 166.5,484.66 167.5,484.85 168.5,485.25 169.5,485.52 170.5,485.79 171.5,486.14 172.5,486.38 173.5,486.50 174.5,486.66 175.5,486.85 176.5,487.00 177.5,487.09 178.5,487.18 179.5,487.26 179.5,487.40" fill="#f2d6f2" fill-opacity="0.5" stroke="none"/>
<polyline points="137.5,487.34 138.5,487.25 139.5,487.01 140.5,486.50 141.5,485.69 142.5,484.40 143.5,482.33 144.5,479.85 145.5,477.17 146.5,475.13 147.5,474.13 148.5,473.70 149.5,474.49 150.5,476.01 151.5,477.62 152.5,479.08 153.5,480.07 154.5,480.94 155.5,481.74 156.5,482.31 157.5,482.64 158.5,482.78 159.5,483.24 160.5,483.76 161.5,483.95 162.5,483.98 163.5,484.12 164.5,484.53 165.5,484.73 166.5,484.66 167.5,484.85 168.5,485.25 169.5,485.52 170.5,485.79 171.5,486.14 172.5,486.38 173.5,486.50 174.5,486.66 175.5,486.85 176.5,487.00 177.5,487.09 178.5,487.18 179.5,487.26" fill="none" stroke="#c27ac4" stroke-width="0.75"/>
<polygon points="136.5,496.40 136.5,496.35 137.5,496.31 138.5,496.22 139.5,496.09 140.5,495.90 141.5,495.62 142.5,495.22 143.5,494.77 144.5,494.43 145.5,494.19 146.5,493.92 147.5,493.63 148.5,493.35 149.5,492.98 150.5,492.38 151.5,491.26 152.5,489.58 153.5,487.50 154.5,485.68 155.5,485.44 156.5,486.54 157.5,487.85 158.5,488.68 159.5,488.91 160.5,489.15 161.5,489.64 162.5,490.35 163.5,491.18 164.5,491.72 165.5,492.29 166.5,492.83 167.5,493.21 168.5,493.64 169.5,493.98 170.5,494.30 171.5,494.69 172.5,495.07 173.5,495.41 174.5,495.69 175.5,495.94 176.5,496.13 177.5,496.25 178.5,496.32 178.5,496.40" fill="#dcead6" fill-opacity="0.5" stroke="none"/>
<polyline points="136.5,496.35 137.5,496.31 138.5,496.22 139.5,496.09 140.5,495.90 141.5,495.62 142.5,495.22 143.5,494.77 144.5,494.43 145.5,494.19 146.5,493.92 147.5,493.63 148.5,493.35 149.5,492.98 150.5,492.38 151.5,491.26 152.5,489.58 153.5,487.50 154.5,485.68 155.5,485.44 156.5,486.54 157.5,487.85 158.5,488.68 159.5,488.91 160.5,489.15 161.5,489.64 162.5,490.35 163.5,491.18 164.5,491.72 165.5,492.29 166.5,492.83 167.5,493.21 168.5,493.64 169.5,493.98 170.5,494.30 171.5,494.69 172.5,495.07 173.5,495.41 174.5,495.69 175.5,495.94 176.5,496.13 177.5,496.25 178.5,496.32" fill="none" stroke="#78966a" stroke-width="0.75"/>
<polygon points="130.5,505.40 130.5,505.32 131.5,505.27 132.5,505.18 133.5,505.03 134.5,504.82 135.5,504.55 136.5,504.21 137.5,503.80 138.5,503.21 139.5,502.49 140.5,501.99 141.5,501.64 142.5,500.89 143.5,500.08 144.5,499.98 145.5,499.77 146.5,498.92 147.5,498.42 148.5,498.25 149.5,497.60 150.5,496.74 151.5,496.05 152.5,495.27 153.5,494.90 154.5,495.13 155.5,495.61 156.5,496.15 157.5,496.90 158.5,498.19 159.5,499.10 160.5,499.37 161.5,499.80 162.5,500.40 163.5,501.02 164.5,501.58 165.5,502.07 166.5,502.66 167.5,503.24 168.5,503.64 169.5,504.05 170.5,504.47 171.5,504.77 172.5,504.98 173.5,505.13 174.5,505.23 175.5,505.30 176.5,505.34 176.5,505.40" fill="#fbe9d2" fill-opacity="0.5" stroke="none"/>
<polyline points="130.5,505.32 131.5,505.27 132.5,505.18 133.5,505.03 134.5,504.82 135.5,504.55 136.5,504.21 137.5,503.80 138.5,503.21 139.5,502.49 140.5,501.99 141.5,501.64 142.5,500.89 143.5,500.08 144.5,499.98 145.5,499.77 146.5,498.92 147.5,498.42 148.5,498.25 149.5,497.60 150.5,496.74 151.5,496.05 152.5,495.27 153.5,494.90 154.5,495.13 155.5,495.61 156.5,496.15 157.5,496.90 158.5,498.19 159.5,499.10 160.5,499.37 161.5,499.80 162.5,500.40 163.5,501.02 164.5,501.58 165.5,502.07 166.5,502.66 167.5,503.24 168.5,503.64 169.5,504.05 170.5,504.47 171.5,504.77 172.5,504.98 173.5,505.13 174.5,505.23 175.5,505.30 176.5,505.34" fill="none" stroke="#f0b878" stroke-width="0.75"/>
<polygon points="130.5,514.40 130.5,514.37 131.5,514.30 132.5,514.12 133.5,513.70 134.5,512.78 135.5,510.88 136.5,508.14 137.5,505.02 138.5,501.29 139.5,498.27 140.5,496.92 141.5,497.14 142.5,499.32 143.5,502.40 144.5,505.36 145.5,507.89 146.5,509.75 147.5,510.83 148.5,511.47 149.5,512.12 150.5,512.77 151.5,513.30 152.5,513.63 153.5,513.86 154.5,514.09 155.5,514.23 156.5,514.30 157.5,514.35 157.5,514.40" fill="#f5d3c6" fill-opacity="0.5" stroke="none"/>
<polyline points="130.5,514.37 131.5,514.30 132.5,514.12 133.5,513.70 134.5,512.78 135.5,510.88 136.5,508.14 137.5,505.02 138.5,501.29 139.5,498.27 140.5,496.92 141.5,497.14 142.5,499.32 143.5,502.40 144.5,505.36 145.5,507.89 146.5,509.75 147.5,510.83 148.5,511.47 149.5,512.12 150.5,512.77 151.5,513.30 152.5,513.63 153.5,513.86 154.5,514.09 155.5,514.23 156.5,514.30 157.5,514.35" fill="none" stroke="#c25a3a" stroke-width="0.75"/>
<polygon points="130.5,523.40 130.5,523.35 131.5,523.21 132.5,522.74 133.5,521.57 134.5,519.39 135.5,515.73 136.5,511.14 137.5,508.07 138.5,508.11 139.5,511.32 140.5,515.20 141.5,518.87 142.5,521.60 143.5,522.78 144.5,523.21 145.5,523.36 145.5,523.40" fill="#d3def5" fill-opacity="0.5" stroke="none"/>
<polyline points="130.5,523.35 131.5,523.21 132.5,522.74 133.5,521.57 134.5,519.39 135.5,515.73 136.5,511.14 137.5,508.07 138.5,508.11 139.5,511.32 140.5,515.20 141.5,518.87 142.5,521.60 143.5,522.78 144.5,523.21 145.5,523.36" fill="none" stroke="#7896d2" stroke-width="0.75"/>
<rect x="115.00" y="460.00" width="65.80" height="64.50" fill="none" stroke="#666" stroke-width="0.8"/>
<text x="117.10" y="476.80" font-size="7.3" font-weight="bold" text-anchor="start">152K</text>
<text x="117.10" y="485.80" font-size="7.3" font-weight="bold" text-anchor="start">138K</text>
<text x="117.10" y="494.80" font-size="7.3" font-weight="bold" text-anchor="start">165K</text>
<text x="117.10" y="503.80" font-size="7.3" font-weight="bold" text-anchor="start">156K</text>
<text x="117.10" y="512.80" font-size="7.3" font-weight="bold" text-anchor="start">103K</text>
<text x="117.10" y="521.80" font-size="7.3" font-weight="bold" text-anchor="start">88K</text>
<text x="150.00" y="541.80" font-size="9.2" font-weight="bold" text-anchor="middle" stroke="#000" stroke-width="0.28">FSC-A</text>
<text x="115.7" y="530.0" font-size="4.2" fill="#666" text-anchor="middle" font-weight="normal">0</text>
<line x1="115.7" y1="524.5" x2="115.7" y2="523.3" stroke="#777" stroke-width="0.5"/>
<text x="125.5" y="530.0" font-size="4.2" fill="#666" text-anchor="middle" font-weight="normal">50K</text>
<line x1="125.5" y1="524.5" x2="125.5" y2="523.3" stroke="#777" stroke-width="0.5"/>
<text x="138.7" y="530.0" font-size="4.2" fill="#666" text-anchor="middle" font-weight="normal">100K</text>
<line x1="138.7" y1="524.5" x2="138.7" y2="523.3" stroke="#777" stroke-width="0.5"/>
<text x="151.8" y="530.0" font-size="4.2" fill="#666" text-anchor="middle" font-weight="normal">150K</text>
<line x1="151.8" y1="524.5" x2="151.8" y2="523.3" stroke="#777" stroke-width="0.5"/>
<text x="163.7" y="530.0" font-size="4.2" fill="#666" text-anchor="middle" font-weight="normal">200K</text>
<line x1="163.7" y1="524.5" x2="163.7" y2="523.3" stroke="#777" stroke-width="0.5"/>
<text x="174.9" y="530.0" font-size="4.2" fill="#666" text-anchor="middle" font-weight="normal">250K</text>
<line x1="174.9" y1="524.5" x2="174.9" y2="523.3" stroke="#777" stroke-width="0.5"/>
<line x1="182.7" y1="478.40" x2="246.8" y2="478.40" stroke="#d8d8d8" stroke-width="0.6"/>
<line x1="182.7" y1="487.40" x2="246.8" y2="487.40" stroke="#d8d8d8" stroke-width="0.6"/>
<line x1="182.7" y1="496.40" x2="246.8" y2="496.40" stroke="#d8d8d8" stroke-width="0.6"/>
<line x1="182.7" y1="505.40" x2="246.8" y2="505.40" stroke="#d8d8d8" stroke-width="0.6"/>
<line x1="182.7" y1="514.40" x2="246.8" y2="514.40" stroke="#d8d8d8" stroke-width="0.6"/>
<line x1="182.7" y1="523.40" x2="246.8" y2="523.40" stroke="#d8d8d8" stroke-width="0.6"/>
<polygon points="185.2,478.40 185.2,478.37 186.2,478.28 187.2,478.07 188.2,477.59 189.2,476.69 190.2,475.42 191.2,474.08 192.2,472.85 193.2,472.02 194.2,471.49 195.2,470.96 196.2,470.33 197.2,469.10 198.2,467.90 199.2,467.61 200.2,467.60 201.2,468.11 202.2,468.73 203.2,468.34 204.2,468.10 205.2,468.47 206.2,469.07 207.2,470.23 208.2,471.40 209.2,472.36 210.2,473.67 211.2,475.28 212.2,476.67 213.2,477.64 214.2,478.14 215.2,478.32 215.2,478.40" fill="#d6daee" fill-opacity="0.5" stroke="none"/>
<polyline points="185.2,478.37 186.2,478.28 187.2,478.07 188.2,477.59 189.2,476.69 190.2,475.42 191.2,474.08 192.2,472.85 193.2,472.02 194.2,471.49 195.2,470.96 196.2,470.33 197.2,469.10 198.2,467.90 199.2,467.61 200.2,467.60 201.2,468.11 202.2,468.73 203.2,468.34 204.2,468.10 205.2,468.47 206.2,469.07 207.2,470.23 208.2,471.40 209.2,472.36 210.2,473.67 211.2,475.28 212.2,476.67 213.2,477.64 214.2,478.14 215.2,478.32" fill="none" stroke="#6a78a8" stroke-width="0.75"/>
<polygon points="186.2,487.40 186.2,487.36 187.2,487.29 188.2,487.12 189.2,486.76 190.2,486.12 191.2,485.24 192.2,484.03 193.2,482.23 194.2,480.28 195.2,479.08 196.2,478.64 197.2,478.02 198.2,476.89 199.2,476.21 200.2,475.64 201.2,474.65 202.2,474.03 203.2,474.05 204.2,474.60 205.2,475.12 206.2,475.81 207.2,477.23 208.2,478.43 209.2,479.89 210.2,482.30 211.2,484.74 212.2,486.34 213.2,487.01 214.2,487.25 215.2,487.34 215.2,487.40" fill="#f2d6f2" fill-opacity="0.5" stroke="none"/>
<polyline points="186.2,487.36 187.2,487.29 188.2,487.12 189.2,486.76 190.2,486.12 191.2,485.24 192.2,484.03 193.2,482.23 194.2,480.28 195.2,479.08 196.2,478.64 197.2,478.02 198.2,476.89 199.2,476.21 200.2,475.64 201.2,474.65 202.2,474.03 203.2,474.05 204.2,474.60 205.2,475.12 206.2,475.81 207.2,477.23 208.2,478.43 209.2,479.89 210.2,482.30 211.2,484.74 212.2,486.34 213.2,487.01 214.2,487.25 215.2,487.34" fill="none" stroke="#c27ac4" stroke-width="0.75"/>
<polygon points="209.2,496.40 209.2,496.36 210.2,496.30 211.2,496.17 212.2,495.91 213.2,495.40 214.2,494.51 215.2,493.10 216.2,491.36 217.2,489.57 218.2,487.65 219.2,486.51 220.2,486.87 221.2,487.72 222.2,488.85 223.2,490.72 224.2,492.60 225.2,494.08 226.2,495.13 227.2,495.74 228.2,496.08 229.2,496.26 230.2,496.34 230.2,496.40" fill="#dcead6" fill-opacity="0.5" stroke="none"/>
<polyline points="209.2,496.36 210.2,496.30 211.2,496.17 212.2,495.91 213.2,495.40 214.2,494.51 215.2,493.10 216.2,491.36 217.2,489.57 218.2,487.65 219.2,486.51 220.2,486.87 221.2,487.72 222.2,488.85 223.2,490.72 224.2,492.60 225.2,494.08 226.2,495.13 227.2,495.74 228.2,496.08 229.2,496.26 230.2,496.34" fill="none" stroke="#78966a" stroke-width="0.75"/>
<polygon points="208.2,505.40 208.2,505.37 209.2,505.32 210.2,505.19 211.2,504.94 212.2,504.39 213.2,503.38 214.2,501.71 215.2,499.81 216.2,497.73 217.2,494.23 218.2,490.44 219.2,488.41 220.2,488.82 221.2,490.88 222.2,493.22 223.2,496.05 224.2,498.95 225.2,501.35 226.2,503.04 227.2,504.08 228.2,504.72 229.2,505.09 230.2,505.28 231.2,505.36 231.2,505.40" fill="#fbe9d2" fill-opacity="0.5" stroke="none"/>
<polyline points="208.2,505.37 209.2,505.32 210.2,505.19 211.2,504.94 212.2,504.39 213.2,503.38 214.2,501.71 215.2,499.81 216.2,497.73 217.2,494.23 218.2,490.44 219.2,488.41 220.2,488.82 221.2,490.88 222.2,493.22 223.2,496.05 224.2,498.95 225.2,501.35 226.2,503.04 227.2,504.08 228.2,504.72 229.2,505.09 230.2,505.28 231.2,505.36" fill="none" stroke="#f0b878" stroke-width="0.75"/>
<polygon points="209.2,514.40 209.2,514.37 210.2,514.31 211.2,514.15 212.2,513.78 213.2,513.00 214.2,511.61 215.2,509.54 216.2,506.68 217.2,502.87 218.2,498.93 219.2,496.80 220.2,496.65 221.2,498.54 222.2,501.95 223.2,505.58 224.2,508.53 225.2,510.73 226.2,512.41 227.2,513.47 228.2,514.01 229.2,514.25 230.2,514.35 230.2,514.40" fill="#f5d3c6" fill-opacity="0.5" stroke="none"/>
<polyline points="209.2,514.37 210.2,514.31 211.2,514.15 212.2,513.78 213.2,513.00 214.2,511.61 215.2,509.54 216.2,506.68 217.2,502.87 218.2,498.93 219.2,496.80 220.2,496.65 221.2,498.54 222.2,501.95 223.2,505.58 224.2,508.53 225.2,510.73 226.2,512.41 227.2,513.47 228.2,514.01 229.2,514.25 230.2,514.35" fill="none" stroke="#c25a3a" stroke-width="0.75"/>
<polygon points="207.2,523.40 207.2,523.37 208.2,523.29 209.2,523.07 210.2,522.58 211.2,521.62 212.2,520.00 213.2,517.62 214.2,514.26 215.2,510.70 216.2,508.97 217.2,509.06 218.2,510.12 219.2,512.47 220.2,515.60 221.2,518.43 222.2,520.61 223.2,522.02 224.2,522.80 225.2,523.19 226.2,523.33 226.2,523.40" fill="#d3def5" fill-opacity="0.5" stroke="none"/>
<polyline points="207.2,523.37 208.2,523.29 209.2,523.07 210.2,522.58 211.2,521.62 212.2,520.00 213.2,517.62 214.2,514.26 215.2,510.70 216.2,508.97 217.2,509.06 218.2,510.12 219.2,512.47 220.2,515.60 221.2,518.43 222.2,520.61 223.2,522.02 224.2,522.80 225.2,523.19 226.2,523.33" fill="none" stroke="#7896d2" stroke-width="0.75"/>
<rect x="182.70" y="460.00" width="64.10" height="64.50" fill="none" stroke="#666" stroke-width="0.8"/>
<text x="245.20" y="476.80" font-size="7.3" font-weight="bold" text-anchor="end">27</text>
<text x="245.20" y="485.80" font-size="7.3" font-weight="bold" text-anchor="end">61</text>
<text x="245.20" y="494.80" font-size="7.3" font-weight="bold" text-anchor="end">2082</text>
<text x="245.20" y="503.80" font-size="7.3" font-weight="bold" text-anchor="end">2102</text>
<text x="245.20" y="512.80" font-size="7.3" font-weight="bold" text-anchor="end">1933</text>
<text x="245.20" y="521.80" font-size="7.3" font-weight="bold" text-anchor="end">1266</text>
<text x="218.80" y="541.80" font-size="9.2" font-weight="bold" text-anchor="middle" stroke="#000" stroke-width="0.28">CD19</text>
<text x="190.4" y="530.0" font-size="4.2" fill="#666" text-anchor="middle" font-weight="normal">0</text>
<line x1="190.4" y1="524.5" x2="190.4" y2="523.3" stroke="#777" stroke-width="0.5"/>
<text x="205.8" y="530.0" font-size="4.2" fill="#666" text-anchor="middle" font-weight="normal">10²</text>
<line x1="205.8" y1="524.5" x2="205.8" y2="523.3" stroke="#777" stroke-width="0.5"/>
<text x="219.9" y="530.0" font-size="4.2" fill="#666" text-anchor="middle" font-weight="normal">10³</text>
<line x1="219.9" y1="524.5" x2="219.9" y2="523.3" stroke="#777" stroke-width="0.5"/>
<text x="232.7" y="530.0" font-size="4.2" fill="#666" text-anchor="middle" font-weight="normal">10⁴</text>
<line x1="232.7" y1="524.5" x2="232.7" y2="523.3" stroke="#777" stroke-width="0.5"/>
<text x="244.2" y="530.0" font-size="4.2" fill="#666" text-anchor="middle" font-weight="normal">10⁵</text>
<line x1="244.2" y1="524.5" x2="244.2" y2="523.3" stroke="#777" stroke-width="0.5"/>
<line x1="249.5" y1="478.40" x2="313.3" y2="478.40" stroke="#d8d8d8" stroke-width="0.6"/>
<line x1="249.5" y1="487.40" x2="313.3" y2="487.40" stroke="#d8d8d8" stroke-width="0.6"/>
<line x1="249.5" y1="496.40" x2="313.3" y2="496.40" stroke="#d8d8d8" stroke-width="0.6"/>
<line x1="249.5" y1="505.40" x2="313.3" y2="505.40" stroke="#d8d8d8" stroke-width="0.6"/>
<line x1="249.5" y1="514.40" x2="313.3" y2="514.40" stroke="#d8d8d8" stroke-width="0.6"/>
<line x1="249.5" y1="523.40" x2="313.3" y2="523.40" stroke="#d8d8d8" stroke-width="0.6"/>
<polygon points="293.0,478.40 293.0,478.38 294.0,478.31 295.0,478.13 296.0,477.76 297.0,477.18 298.0,476.45 299.0,475.87 300.0,475.55 301.0,475.23 302.0,474.53 303.0,473.32 304.0,471.87 305.0,470.71 306.0,470.21 307.0,470.29 308.0,471.34 309.0,473.09 310.0,474.76 311.0,476.16 312.0,477.16 312.0,478.40" fill="#d6daee" fill-opacity="0.5" stroke="none"/>
<polyline points="293.0,478.38 294.0,478.31 295.0,478.13 296.0,477.76 297.0,477.18 298.0,476.45 299.0,475.87 300.0,475.55 301.0,475.23 302.0,474.53 303.0,473.32 304.0,471.87 305.0,470.71 306.0,470.21 307.0,470.29 308.0,471.34 309.0,473.09 310.0,474.76 311.0,476.16 312.0,477.16" fill="none" stroke="#6a78a8" stroke-width="0.75"/>
<polygon points="298.0,487.40 298.0,487.38 299.0,487.31 300.0,487.12 301.0,486.66 302.0,485.62 303.0,483.87 304.0,481.59 305.0,479.10 306.0,476.77 307.0,476.01 308.0,477.32 309.0,479.44 310.0,482.14 311.0,484.61 312.0,486.08 312.0,487.40" fill="#f2d6f2" fill-opacity="0.5" stroke="none"/>
<polyline points="298.0,487.38 299.0,487.31 300.0,487.12 301.0,486.66 302.0,485.62 303.0,483.87 304.0,481.59 305.0,479.10 306.0,476.77 307.0,476.01 308.0,477.32 309.0,479.44 310.0,482.14 311.0,484.61 312.0,486.08" fill="none" stroke="#c27ac4" stroke-width="0.75"/>
<polygon points="290.0,496.40 290.0,496.35 291.0,496.25 292.0,496.00 293.0,495.51 294.0,494.71 295.0,493.60 296.0,492.51 297.0,491.88 298.0,491.94 299.0,492.15 300.0,492.06 301.0,491.55 302.0,490.48 303.0,489.44 304.0,488.76 305.0,488.59 306.0,489.72 307.0,491.63 308.0,493.40 309.0,494.79 310.0,495.70 311.0,496.14 312.0,496.31 312.0,496.40" fill="#dcead6" fill-opacity="0.5" stroke="none"/>
<polyline points="290.0,496.35 291.0,496.25 292.0,496.00 293.0,495.51 294.0,494.71 295.0,493.60 296.0,492.51 297.0,491.88 298.0,491.94 299.0,492.15 300.0,492.06 301.0,491.55 302.0,490.48 303.0,489.44 304.0,488.76 305.0,488.59 306.0,489.72 307.0,491.63 308.0,493.40 309.0,494.79 310.0,495.70 311.0,496.14 312.0,496.31" fill="none" stroke="#78966a" stroke-width="0.75"/>
<polygon points="288.0,505.40 288.0,505.34 289.0,505.25 290.0,505.07 291.0,504.78 292.0,504.33 293.0,503.71 294.0,503.12 295.0,502.55 296.0,501.99 297.0,501.61 298.0,501.15 299.0,500.53 300.0,499.91 301.0,499.50 302.0,499.15 303.0,498.93 304.0,499.29 305.0,500.16 306.0,500.98 307.0,501.70 308.0,502.69 309.0,503.61 310.0,504.20 311.0,504.62 312.0,504.94 312.0,505.40" fill="#fbe9d2" fill-opacity="0.5" stroke="none"/>
<polyline points="288.0,505.34 289.0,505.25 290.0,505.07 291.0,504.78 292.0,504.33 293.0,503.71 294.0,503.12 295.0,502.55 296.0,501.99 297.0,501.61 298.0,501.15 299.0,500.53 300.0,499.91 301.0,499.50 302.0,499.15 303.0,498.93 304.0,499.29 305.0,500.16 306.0,500.98 307.0,501.70 308.0,502.69 309.0,503.61 310.0,504.20 311.0,504.62 312.0,504.94" fill="none" stroke="#f0b878" stroke-width="0.75"/>
<polygon points="288.0,514.40 288.0,514.37 289.0,514.30 290.0,514.12 291.0,513.75 292.0,513.00 293.0,511.68 294.0,509.71 295.0,507.26 296.0,505.04 297.0,503.56 298.0,502.61 299.0,502.34 300.0,503.56 301.0,505.82 302.0,508.29 303.0,510.65 304.0,512.35 305.0,513.35 306.0,513.91 307.0,514.20 308.0,514.33 308.0,514.40" fill="#f5d3c6" fill-opacity="0.5" stroke="none"/>
<polyline points="288.0,514.37 289.0,514.30 290.0,514.12 291.0,513.75 292.0,513.00 293.0,511.68 294.0,509.71 295.0,507.26 296.0,505.04 297.0,503.56 298.0,502.61 299.0,502.34 300.0,503.56 301.0,505.82 302.0,508.29 303.0,510.65 304.0,512.35 305.0,513.35 306.0,513.91 307.0,514.20 308.0,514.33" fill="none" stroke="#c25a3a" stroke-width="0.75"/>
<polygon points="286.0,523.40 286.0,523.37 287.0,523.31 288.0,523.15 289.0,522.80 290.0,522.05 291.0,520.65 292.0,518.81 293.0,516.52 294.0,513.36 295.0,510.73 296.0,509.63 297.0,509.61 298.0,510.68 299.0,513.07 300.0,515.92 301.0,518.36 302.0,520.27 303.0,521.77 304.0,522.69 305.0,523.12 306.0,523.29 307.0,523.36 307.0,523.40" fill="#d3def5" fill-opacity="0.5" stroke="none"/>
<polyline points="286.0,523.37 287.0,523.31 288.0,523.15 289.0,522.80 290.0,522.05 291.0,520.65 292.0,518.81 293.0,516.52 294.0,513.36 295.0,510.73 296.0,509.63 297.0,509.61 298.0,510.68 299.0,513.07 300.0,515.92 301.0,518.36 302.0,520.27 303.0,521.77 304.0,522.69 305.0,523.12 306.0,523.29 307.0,523.36" fill="none" stroke="#7896d2" stroke-width="0.75"/>
<rect x="249.50" y="460.00" width="63.80" height="64.50" fill="none" stroke="#666" stroke-width="0.8"/>
<text x="276.00" y="476.80" font-size="7.3" font-weight="bold" text-anchor="end">49500</text>
<text x="276.00" y="485.80" font-size="7.3" font-weight="bold" text-anchor="end">50100</text>
<text x="276.00" y="494.80" font-size="7.3" font-weight="bold" text-anchor="end">27700</text>
<text x="276.00" y="503.80" font-size="7.3" font-weight="bold" text-anchor="end">21700</text>
<text x="276.00" y="512.80" font-size="7.3" font-weight="bold" text-anchor="end">9941</text>
<text x="276.00" y="521.80" font-size="7.3" font-weight="bold" text-anchor="end">7089</text>
<text x="285.00" y="541.80" font-size="9.2" font-weight="bold" text-anchor="middle" stroke="#000" stroke-width="0.28">cyt LC</text>
<text x="257.2" y="530.0" font-size="4.2" fill="#666" text-anchor="middle" font-weight="normal">0</text>
<line x1="257.2" y1="524.5" x2="257.2" y2="523.3" stroke="#777" stroke-width="0.5"/>
<text x="272.5" y="530.0" font-size="4.2" fill="#666" text-anchor="middle" font-weight="normal">10²</text>
<line x1="272.5" y1="524.5" x2="272.5" y2="523.3" stroke="#777" stroke-width="0.5"/>
<text x="286.5" y="530.0" font-size="4.2" fill="#666" text-anchor="middle" font-weight="normal">10³</text>
<line x1="286.5" y1="524.5" x2="286.5" y2="523.3" stroke="#777" stroke-width="0.5"/>
<text x="299.3" y="530.0" font-size="4.2" fill="#666" text-anchor="middle" font-weight="normal">10⁴</text>
<line x1="299.3" y1="524.5" x2="299.3" y2="523.3" stroke="#777" stroke-width="0.5"/>
<text x="310.7" y="530.0" font-size="4.2" fill="#666" text-anchor="middle" font-weight="normal">10⁵</text>
<line x1="310.7" y1="524.5" x2="310.7" y2="523.3" stroke="#777" stroke-width="0.5"/>
<line x1="316.7" y1="478.40" x2="380.8" y2="478.40" stroke="#d8d8d8" stroke-width="0.6"/>
<line x1="316.7" y1="487.40" x2="380.8" y2="487.40" stroke="#d8d8d8" stroke-width="0.6"/>
<line x1="316.7" y1="496.40" x2="380.8" y2="496.40" stroke="#d8d8d8" stroke-width="0.6"/>
<line x1="316.7" y1="505.40" x2="380.8" y2="505.40" stroke="#d8d8d8" stroke-width="0.6"/>
<line x1="316.7" y1="514.40" x2="380.8" y2="514.40" stroke="#d8d8d8" stroke-width="0.6"/>
<line x1="316.7" y1="523.40" x2="380.8" y2="523.40" stroke="#d8d8d8" stroke-width="0.6"/>
<polygon points="339.2,478.40 339.2,478.37 340.2,478.31 341.2,478.18 342.2,477.88 343.2,477.31 344.2,476.20 345.2,474.37 346.2,472.33 347.2,470.13 348.2,467.77 349.2,466.28 350.2,466.35 351.2,467.79 352.2,470.05 353.2,472.58 354.2,474.80 355.2,476.40 356.2,477.41 357.2,477.97 358.2,478.22 359.2,478.33 359.2,478.40" fill="#d6daee" fill-opacity="0.5" stroke="none"/>
<polyline points="339.2,478.37 340.2,478.31 341.2,478.18 342.2,477.88 343.2,477.31 344.2,476.20 345.2,474.37 346.2,472.33 347.2,470.13 348.2,467.77 349.2,466.28 350.2,466.35 351.2,467.79 352.2,470.05 353.2,472.58 354.2,474.80 355.2,476.40 356.2,477.41 357.2,477.97 358.2,478.22 359.2,478.33" fill="none" stroke="#6a78a8" stroke-width="0.75"/>
<polygon points="340.2,487.40 340.2,487.34 341.2,487.22 342.2,486.91 343.2,486.18 344.2,484.77 345.2,482.56 346.2,479.58 347.2,476.60 348.2,473.94 349.2,472.09 350.2,473.26 351.2,476.44 352.2,479.68 353.2,482.77 354.2,484.90 355.2,486.20 356.2,486.91 357.2,487.22 358.2,487.34 358.2,487.40" fill="#f2d6f2" fill-opacity="0.5" stroke="none"/>
<polyline points="340.2,487.34 341.2,487.22 342.2,486.91 343.2,486.18 344.2,484.77 345.2,482.56 346.2,479.58 347.2,476.60 348.2,473.94 349.2,472.09 350.2,473.26 351.2,476.44 352.2,479.68 353.2,482.77 354.2,484.90 355.2,486.20 356.2,486.91 357.2,487.22 358.2,487.34" fill="none" stroke="#c27ac4" stroke-width="0.75"/>
<polygon points="341.2,496.40 341.2,496.32 342.2,496.14 343.2,495.66 344.2,494.68 345.2,492.93 346.2,489.99 347.2,486.69 348.2,484.40 349.2,483.59 350.2,484.98 351.2,487.56 352.2,490.58 353.2,493.07 354.2,494.65 355.2,495.66 356.2,496.15 357.2,496.32 357.2,496.40" fill="#dcead6" fill-opacity="0.5" stroke="none"/>
<polyline points="341.2,496.32 342.2,496.14 343.2,495.66 344.2,494.68 345.2,492.93 346.2,489.99 347.2,486.69 348.2,484.40 349.2,483.59 350.2,484.98 351.2,487.56 352.2,490.58 353.2,493.07 354.2,494.65 355.2,495.66 356.2,496.15 357.2,496.32" fill="none" stroke="#78966a" stroke-width="0.75"/>
<polygon points="339.2,505.40 339.2,505.35 340.2,505.24 341.2,504.94 342.2,504.31 343.2,503.08 344.2,500.73 345.2,497.25 346.2,493.36 347.2,490.48 348.2,489.76 349.2,489.17 350.2,490.01 351.2,493.69 352.2,497.55 353.2,500.70 354.2,502.94 355.2,504.24 356.2,504.92 357.2,505.23 358.2,505.35 358.2,505.40" fill="#fbe9d2" fill-opacity="0.5" stroke="none"/>
<polyline points="339.2,505.35 340.2,505.24 341.2,504.94 342.2,504.31 343.2,503.08 344.2,500.73 345.2,497.25 346.2,493.36 347.2,490.48 348.2,489.76 349.2,489.17 350.2,490.01 351.2,493.69 352.2,497.55 353.2,500.70 354.2,502.94 355.2,504.24 356.2,504.92 357.2,505.23 358.2,505.35" fill="none" stroke="#f0b878" stroke-width="0.75"/>
<polygon points="322.2,514.40 322.2,514.36 323.2,514.30 324.2,514.16 325.2,513.89 326.2,513.35 327.2,512.35 328.2,510.83 329.2,508.81 330.2,506.35 331.2,503.60 332.2,500.74 333.2,498.55 334.2,497.98 335.2,498.65 336.2,500.16 337.2,502.78 338.2,505.70 339.2,508.36 340.2,510.61 341.2,512.17 342.2,513.10 343.2,513.72 344.2,514.10 345.2,514.28 346.2,514.35 346.2,514.40" fill="#f5d3c6" fill-opacity="0.5" stroke="none"/>
<polyline points="322.2,514.36 323.2,514.30 324.2,514.16 325.2,513.89 326.2,513.35 327.2,512.35 328.2,510.83 329.2,508.81 330.2,506.35 331.2,503.60 332.2,500.74 333.2,498.55 334.2,497.98 335.2,498.65 336.2,500.16 337.2,502.78 338.2,505.70 339.2,508.36 340.2,510.61 341.2,512.17 342.2,513.10 343.2,513.72 344.2,514.10 345.2,514.28 346.2,514.35" fill="none" stroke="#c25a3a" stroke-width="0.75"/>
<polygon points="319.2,523.40 319.2,523.33 320.2,523.22 321.2,523.01 322.2,522.63 323.2,521.94 324.2,520.71 325.2,519.13 326.2,517.19 327.2,514.72 328.2,512.58 329.2,510.20 330.2,507.52 331.2,507.46 332.2,509.85 333.2,512.08 334.2,514.00 335.2,516.43 336.2,518.98 337.2,520.70 338.2,521.82 339.2,522.59 340.2,523.02 341.2,523.24 342.2,523.34 342.2,523.40" fill="#d3def5" fill-opacity="0.5" stroke="none"/>
<polyline points="319.2,523.33 320.2,523.22 321.2,523.01 322.2,522.63 323.2,521.94 324.2,520.71 325.2,519.13 326.2,517.19 327.2,514.72 328.2,512.58 329.2,510.20 330.2,507.52 331.2,507.46 332.2,509.85 333.2,512.08 334.2,514.00 335.2,516.43 336.2,518.98 337.2,520.70 338.2,521.82 339.2,522.59 340.2,523.02 341.2,523.24 342.2,523.34" fill="none" stroke="#7896d2" stroke-width="0.75"/>
<rect x="316.70" y="460.00" width="64.10" height="64.50" fill="none" stroke="#666" stroke-width="0.8"/>
<text x="376.50" y="476.80" font-size="7.3" font-weight="bold" text-anchor="end">871</text>
<text x="376.50" y="485.80" font-size="7.3" font-weight="bold" text-anchor="end">667</text>
<text x="376.50" y="494.80" font-size="7.3" font-weight="bold" text-anchor="end">985</text>
<text x="376.50" y="503.80" font-size="7.3" font-weight="bold" text-anchor="end">732</text>
<text x="376.50" y="512.80" font-size="7.3" font-weight="bold" text-anchor="end">66</text>
<text x="376.50" y="521.80" font-size="7.3" font-weight="bold" text-anchor="end">21</text>
<text x="350.50" y="541.80" font-size="9.2" font-weight="bold" text-anchor="middle" stroke="#000" stroke-width="0.28">CD319</text>
<text x="324.4" y="530.0" font-size="4.2" fill="#666" text-anchor="middle" font-weight="normal">0</text>
<line x1="324.4" y1="524.5" x2="324.4" y2="523.3" stroke="#777" stroke-width="0.5"/>
<text x="339.8" y="530.0" font-size="4.2" fill="#666" text-anchor="middle" font-weight="normal">10²</text>
<line x1="339.8" y1="524.5" x2="339.8" y2="523.3" stroke="#777" stroke-width="0.5"/>
<text x="353.9" y="530.0" font-size="4.2" fill="#666" text-anchor="middle" font-weight="normal">10³</text>
<line x1="353.9" y1="524.5" x2="353.9" y2="523.3" stroke="#777" stroke-width="0.5"/>
<text x="366.7" y="530.0" font-size="4.2" fill="#666" text-anchor="middle" font-weight="normal">10⁴</text>
<line x1="366.7" y1="524.5" x2="366.7" y2="523.3" stroke="#777" stroke-width="0.5"/>
<text x="378.2" y="530.0" font-size="4.2" fill="#666" text-anchor="middle" font-weight="normal">10⁵</text>
<line x1="378.2" y1="524.5" x2="378.2" y2="523.3" stroke="#777" stroke-width="0.5"/>
<line x1="382.7" y1="478.40" x2="447.3" y2="478.40" stroke="#d8d8d8" stroke-width="0.6"/>
<line x1="382.7" y1="487.40" x2="447.3" y2="487.40" stroke="#d8d8d8" stroke-width="0.6"/>
<line x1="382.7" y1="496.40" x2="447.3" y2="496.40" stroke="#d8d8d8" stroke-width="0.6"/>
<line x1="382.7" y1="505.40" x2="447.3" y2="505.40" stroke="#d8d8d8" stroke-width="0.6"/>
<line x1="382.7" y1="514.40" x2="447.3" y2="514.40" stroke="#d8d8d8" stroke-width="0.6"/>
<line x1="382.7" y1="523.40" x2="447.3" y2="523.40" stroke="#d8d8d8" stroke-width="0.6"/>
<polygon points="398.2,478.40 398.2,478.33 399.2,478.27 400.2,478.18 401.2,478.07 402.2,477.89 403.2,477.70 404.2,477.52 405.2,477.31 406.2,477.07 407.2,476.91 408.2,476.84 409.2,476.80 410.2,476.68 411.2,476.39 412.2,475.85 413.2,475.23 414.2,474.33 415.2,472.93 416.2,471.84 417.2,471.38 418.2,470.87 419.2,470.07 420.2,469.41 421.2,469.66 422.2,471.60 423.2,474.18 424.2,476.38 425.2,477.68 426.2,478.20 427.2,478.36 427.2,478.40" fill="#d6daee" fill-opacity="0.5" stroke="none"/>
<polyline points="398.2,478.33 399.2,478.27 400.2,478.18 401.2,478.07 402.2,477.89 403.2,477.70 404.2,477.52 405.2,477.31 406.2,477.07 407.2,476.91 408.2,476.84 409.2,476.80 410.2,476.68 411.2,476.39 412.2,475.85 413.2,475.23 414.2,474.33 415.2,472.93 416.2,471.84 417.2,471.38 418.2,470.87 419.2,470.07 420.2,469.41 421.2,469.66 422.2,471.60 423.2,474.18 424.2,476.38 425.2,477.68 426.2,478.20 427.2,478.36" fill="none" stroke="#6a78a8" stroke-width="0.75"/>
<polygon points="394.2,487.40 394.2,487.35 395.2,487.29 396.2,487.20 397.2,487.10 398.2,486.97 399.2,486.77 400.2,486.48 401.2,486.16 402.2,485.87 403.2,485.59 404.2,485.39 405.2,485.37 406.2,485.52 407.2,485.70 408.2,485.83 409.2,485.92 410.2,485.80 411.2,485.37 412.2,484.59 413.2,483.23 414.2,481.25 415.2,478.96 416.2,476.72 417.2,475.40 418.2,475.34 419.2,476.40 420.2,477.86 421.2,479.42 422.2,481.28 423.2,482.98 424.2,484.43 425.2,485.69 426.2,486.55 427.2,487.02 428.2,487.24 429.2,487.35 429.2,487.40" fill="#f2d6f2" fill-opacity="0.5" stroke="none"/>
<polyline points="394.2,487.35 395.2,487.29 396.2,487.20 397.2,487.10 398.2,486.97 399.2,486.77 400.2,486.48 401.2,486.16 402.2,485.87 403.2,485.59 404.2,485.39 405.2,485.37 406.2,485.52 407.2,485.70 408.2,485.83 409.2,485.92 410.2,485.80 411.2,485.37 412.2,484.59 413.2,483.23 414.2,481.25 415.2,478.96 416.2,476.72 417.2,475.40 418.2,475.34 419.2,476.40 420.2,477.86 421.2,479.42 422.2,481.28 423.2,482.98 424.2,484.43 425.2,485.69 426.2,486.55 427.2,487.02 428.2,487.24 429.2,487.35" fill="none" stroke="#c27ac4" stroke-width="0.75"/>
<polygon points="405.2,496.40 405.2,496.35 406.2,496.29 407.2,496.18 408.2,495.96 409.2,495.59 410.2,495.09 411.2,494.38 412.2,493.44 413.2,492.29 414.2,490.90 415.2,489.53 416.2,488.41 417.2,487.61 418.2,487.63 419.2,488.40 420.2,489.22 421.2,489.99 422.2,491.12 423.2,492.38 424.2,493.47 425.2,494.51 426.2,495.31 427.2,495.78 428.2,496.06 429.2,496.23 430.2,496.31 431.2,496.36 431.2,496.40" fill="#dcead6" fill-opacity="0.5" stroke="none"/>
<polyline points="405.2,496.35 406.2,496.29 407.2,496.18 408.2,495.96 409.2,495.59 410.2,495.09 411.2,494.38 412.2,493.44 413.2,492.29 414.2,490.90 415.2,489.53 416.2,488.41 417.2,487.61 418.2,487.63 419.2,488.40 420.2,489.22 421.2,489.99 422.2,491.12 423.2,492.38 424.2,493.47 425.2,494.51 426.2,495.31 427.2,495.78 428.2,496.06 429.2,496.23 430.2,496.31 431.2,496.36" fill="none" stroke="#78966a" stroke-width="0.75"/>
<polygon points="394.2,505.40 394.2,505.35 395.2,505.30 396.2,505.23 397.2,505.10 398.2,504.93 399.2,504.72 400.2,504.49 401.2,504.20 402.2,503.85 403.2,503.58 404.2,503.39 405.2,503.22 406.2,503.02 407.2,502.80 408.2,502.49 409.2,501.94 410.2,501.02 411.2,499.59 412.2,497.79 413.2,495.86 414.2,494.11 415.2,493.00 416.2,492.58 417.2,492.50 418.2,493.31 419.2,495.27 420.2,497.18 421.2,498.83 422.2,500.62 423.2,502.22 424.2,503.35 425.2,504.20 426.2,504.75 427.2,505.04 428.2,505.21 429.2,505.31 430.2,505.36 430.2,505.40" fill="#fbe9d2" fill-opacity="0.5" stroke="none"/>
<polyline points="394.2,505.35 395.2,505.30 396.2,505.23 397.2,505.10 398.2,504.93 399.2,504.72 400.2,504.49 401.2,504.20 402.2,503.85 403.2,503.58 404.2,503.39 405.2,503.22 406.2,503.02 407.2,502.80 408.2,502.49 409.2,501.94 410.2,501.02 411.2,499.59 412.2,497.79 413.2,495.86 414.2,494.11 415.2,493.00 416.2,492.58 417.2,492.50 418.2,493.31 419.2,495.27 420.2,497.18 421.2,498.83 422.2,500.62 423.2,502.22 424.2,503.35 425.2,504.20 426.2,504.75 427.2,505.04 428.2,505.21 429.2,505.31 430.2,505.36" fill="none" stroke="#f0b878" stroke-width="0.75"/>
<polygon points="407.2,514.40 407.2,514.37 408.2,514.32 409.2,514.21 410.2,514.01 411.2,513.70 412.2,513.17 413.2,512.24 414.2,510.89 415.2,509.19 416.2,506.88 417.2,504.21 418.2,501.76 419.2,499.61 420.2,498.55 421.2,498.59 422.2,498.92 423.2,499.94 424.2,502.13 425.2,504.54 426.2,507.05 427.2,509.37 428.2,510.93 429.2,512.10 430.2,513.09 431.2,513.70 432.2,514.03 433.2,514.21 434.2,514.31 435.2,514.36 435.2,514.40" fill="#f5d3c6" fill-opacity="0.5" stroke="none"/>
<polyline points="407.2,514.37 408.2,514.32 409.2,514.21 410.2,514.01 411.2,513.70 412.2,513.17 413.2,512.24 414.2,510.89 415.2,509.19 416.2,506.88 417.2,504.21 418.2,501.76 419.2,499.61 420.2,498.55 421.2,498.59 422.2,498.92 423.2,499.94 424.2,502.13 425.2,504.54 426.2,507.05 427.2,509.37 428.2,510.93 429.2,512.10 430.2,513.09 431.2,513.70 432.2,514.03 433.2,514.21 434.2,514.31 435.2,514.36" fill="none" stroke="#c25a3a" stroke-width="0.75"/>
<polygon points="408.2,523.40 408.2,523.33 409.2,523.21 410.2,522.98 411.2,522.54 412.2,521.65 413.2,520.35 414.2,518.59 415.2,516.27 416.2,513.91 417.2,511.08 418.2,507.96 419.2,506.67 420.2,507.26 421.2,509.20 422.2,511.67 423.2,514.15 424.2,516.88 425.2,519.23 426.2,521.01 427.2,522.07 428.2,522.67 429.2,523.06 430.2,523.25 431.2,523.33 431.2,523.40" fill="#d3def5" fill-opacity="0.5" stroke="none"/>
<polyline points="408.2,523.33 409.2,523.21 410.2,522.98 411.2,522.54 412.2,521.65 413.2,520.35 414.2,518.59 415.2,516.27 416.2,513.91 417.2,511.08 418.2,507.96 419.2,506.67 420.2,507.26 421.2,509.20 422.2,511.67 423.2,514.15 424.2,516.88 425.2,519.23 426.2,521.01 427.2,522.07 428.2,522.67 429.2,523.06 430.2,523.25 431.2,523.33" fill="none" stroke="#7896d2" stroke-width="0.75"/>
<rect x="382.70" y="460.00" width="64.60" height="64.50" fill="none" stroke="#666" stroke-width="0.8"/>
<text x="399.30" y="476.80" font-size="7.3" font-weight="bold" text-anchor="end">909</text>
<text x="399.30" y="485.80" font-size="7.3" font-weight="bold" text-anchor="end">627</text>
<text x="399.30" y="494.80" font-size="7.3" font-weight="bold" text-anchor="end">1118</text>
<text x="399.30" y="503.80" font-size="7.3" font-weight="bold" text-anchor="end">515</text>
<text x="399.30" y="512.80" font-size="7.3" font-weight="bold" text-anchor="end">1721</text>
<text x="399.30" y="521.80" font-size="7.3" font-weight="bold" text-anchor="end">968</text>
<text x="415.80" y="541.80" font-size="9.2" font-weight="bold" text-anchor="middle" stroke="#000" stroke-width="0.28">HLA-DR</text>
<text x="390.5" y="530.0" font-size="4.2" fill="#666" text-anchor="middle" font-weight="normal">0</text>
<line x1="390.5" y1="524.5" x2="390.5" y2="523.3" stroke="#777" stroke-width="0.5"/>
<text x="406.0" y="530.0" font-size="4.2" fill="#666" text-anchor="middle" font-weight="normal">10²</text>
<line x1="406.0" y1="524.5" x2="406.0" y2="523.3" stroke="#777" stroke-width="0.5"/>
<text x="420.2" y="530.0" font-size="4.2" fill="#666" text-anchor="middle" font-weight="normal">10³</text>
<line x1="420.2" y1="524.5" x2="420.2" y2="523.3" stroke="#777" stroke-width="0.5"/>
<text x="433.1" y="530.0" font-size="4.2" fill="#666" text-anchor="middle" font-weight="normal">10⁴</text>
<line x1="433.1" y1="524.5" x2="433.1" y2="523.3" stroke="#777" stroke-width="0.5"/>
<text x="444.7" y="530.0" font-size="4.2" fill="#666" text-anchor="middle" font-weight="normal">10⁵</text>
<line x1="444.7" y1="524.5" x2="444.7" y2="523.3" stroke="#777" stroke-width="0.5"/>
<line x1="450.0" y1="478.40" x2="514.6" y2="478.40" stroke="#d8d8d8" stroke-width="0.6"/>
<line x1="450.0" y1="487.40" x2="514.6" y2="487.40" stroke="#d8d8d8" stroke-width="0.6"/>
<line x1="450.0" y1="496.40" x2="514.6" y2="496.40" stroke="#d8d8d8" stroke-width="0.6"/>
<line x1="450.0" y1="505.40" x2="514.6" y2="505.40" stroke="#d8d8d8" stroke-width="0.6"/>
<line x1="450.0" y1="514.40" x2="514.6" y2="514.40" stroke="#d8d8d8" stroke-width="0.6"/>
<line x1="450.0" y1="523.40" x2="514.6" y2="523.40" stroke="#d8d8d8" stroke-width="0.6"/>
<polygon points="451.5,478.40 451.5,478.33 452.5,478.27 453.5,478.16 454.5,477.97 455.5,477.65 456.5,476.94 457.5,475.37 458.5,473.03 459.5,471.04 460.5,470.69 461.5,471.24 462.5,471.82 463.5,471.98 464.5,471.44 465.5,470.56 466.5,470.41 467.5,471.00 468.5,471.73 469.5,472.73 470.5,474.08 471.5,475.47 472.5,476.54 473.5,477.07 474.5,477.19 475.5,477.10 476.5,476.97 477.5,476.90 478.5,476.88 479.5,476.95 480.5,477.06 481.5,477.18 482.5,477.39 483.5,477.59 484.5,477.77 485.5,477.95 486.5,478.06 487.5,478.16 488.5,478.24 489.5,478.29 490.5,478.33 490.5,478.40" fill="#d6daee" fill-opacity="0.5" stroke="none"/>
<polyline points="451.5,478.33 452.5,478.27 453.5,478.16 454.5,477.97 455.5,477.65 456.5,476.94 457.5,475.37 458.5,473.03 459.5,471.04 460.5,470.69 461.5,471.24 462.5,471.82 463.5,471.98 464.5,471.44 465.5,470.56 466.5,470.41 467.5,471.00 468.5,471.73 469.5,472.73 470.5,474.08 471.5,475.47 472.5,476.54 473.5,477.07 474.5,477.19 475.5,477.10 476.5,476.97 477.5,476.90 478.5,476.88 479.5,476.95 480.5,477.06 481.5,477.18 482.5,477.39 483.5,477.59 484.5,477.77 485.5,477.95 486.5,478.06 487.5,478.16 488.5,478.24 489.5,478.29 490.5,478.33" fill="none" stroke="#6a78a8" stroke-width="0.75"/>
<polygon points="455.5,487.40 455.5,487.37 456.5,487.26 457.5,486.90 458.5,486.06 459.5,484.62 460.5,482.45 461.5,480.31 462.5,479.74 463.5,480.49 464.5,481.38 465.5,481.34 466.5,480.53 467.5,480.37 468.5,480.85 469.5,481.75 470.5,483.10 471.5,484.16 472.5,484.88 473.5,485.52 474.5,486.05 475.5,486.51 476.5,486.93 477.5,487.18 478.5,487.29 479.5,487.35 479.5,487.40" fill="#f2d6f2" fill-opacity="0.5" stroke="none"/>
<polyline points="455.5,487.37 456.5,487.26 457.5,486.90 458.5,486.06 459.5,484.62 460.5,482.45 461.5,480.31 462.5,479.74 463.5,480.49 464.5,481.38 465.5,481.34 466.5,480.53 467.5,480.37 468.5,480.85 469.5,481.75 470.5,483.10 471.5,484.16 472.5,484.88 473.5,485.52 474.5,486.05 475.5,486.51 476.5,486.93 477.5,487.18 478.5,487.29 479.5,487.35" fill="none" stroke="#c27ac4" stroke-width="0.75"/>
<polygon points="450.5,496.40 450.5,496.36 451.5,496.26 452.5,496.00 453.5,495.44 454.5,494.58 455.5,493.41 456.5,492.07 457.5,491.10 458.5,490.52 459.5,490.08 460.5,489.94 461.5,490.17 462.5,490.13 463.5,489.81 464.5,489.82 465.5,489.84 466.5,489.68 467.5,489.78 468.5,489.89 469.5,489.81 470.5,490.18 471.5,490.76 472.5,490.99 473.5,491.38 474.5,492.16 475.5,492.91 476.5,493.40 477.5,493.69 478.5,494.06 479.5,494.44 480.5,494.55 481.5,494.59 482.5,494.82 483.5,495.06 484.5,495.28 485.5,495.58 486.5,495.86 487.5,496.06 488.5,496.19 489.5,496.28 490.5,496.34 490.5,496.40" fill="#dcead6" fill-opacity="0.5" stroke="none"/>
<polyline points="450.5,496.36 451.5,496.26 452.5,496.00 453.5,495.44 454.5,494.58 455.5,493.41 456.5,492.07 457.5,491.10 458.5,490.52 459.5,490.08 460.5,489.94 461.5,490.17 462.5,490.13 463.5,489.81 464.5,489.82 465.5,489.84 466.5,489.68 467.5,489.78 468.5,489.89 469.5,489.81 470.5,490.18 471.5,490.76 472.5,490.99 473.5,491.38 474.5,492.16 475.5,492.91 476.5,493.40 477.5,493.69 478.5,494.06 479.5,494.44 480.5,494.55 481.5,494.59 482.5,494.82 483.5,495.06 484.5,495.28 485.5,495.58 486.5,495.86 487.5,496.06 488.5,496.19 489.5,496.28 490.5,496.34" fill="none" stroke="#78966a" stroke-width="0.75"/>
<polygon points="450.5,505.40 450.5,505.23 451.5,505.10 452.5,504.92 453.5,504.65 454.5,504.27 455.5,503.69 456.5,502.87 457.5,501.94 458.5,500.86 459.5,499.52 460.5,498.28 461.5,497.57 462.5,497.28 463.5,496.88 464.5,496.33 465.5,496.02 466.5,496.64 467.5,497.76 468.5,498.76 469.5,499.81 470.5,500.88 471.5,501.86 472.5,502.63 473.5,503.29 474.5,503.90 475.5,504.44 476.5,504.81 477.5,505.05 478.5,505.20 479.5,505.29 480.5,505.34 480.5,505.40" fill="#fbe9d2" fill-opacity="0.5" stroke="none"/>
<polyline points="450.5,505.23 451.5,505.10 452.5,504.92 453.5,504.65 454.5,504.27 455.5,503.69 456.5,502.87 457.5,501.94 458.5,500.86 459.5,499.52 460.5,498.28 461.5,497.57 462.5,497.28 463.5,496.88 464.5,496.33 465.5,496.02 466.5,496.64 467.5,497.76 468.5,498.76 469.5,499.81 470.5,500.88 471.5,501.86 472.5,502.63 473.5,503.29 474.5,503.90 475.5,504.44 476.5,504.81 477.5,505.05 478.5,505.20 479.5,505.29 480.5,505.34" fill="none" stroke="#f0b878" stroke-width="0.75"/>
<polygon points="469.5,514.40 469.5,514.37 470.5,514.32 471.5,514.20 472.5,513.98 473.5,513.55 474.5,512.73 475.5,511.52 476.5,509.82 477.5,507.46 478.5,505.03 479.5,502.63 480.5,500.50 481.5,499.00 482.5,499.47 483.5,501.64 484.5,503.38 485.5,504.99 486.5,507.02 487.5,508.71 488.5,510.13 489.5,511.44 490.5,512.36 491.5,513.04 492.5,513.59 493.5,513.98 494.5,514.20 495.5,514.31 496.5,514.36 496.5,514.40" fill="#f5d3c6" fill-opacity="0.5" stroke="none"/>
<polyline points="469.5,514.37 470.5,514.32 471.5,514.20 472.5,513.98 473.5,513.55 474.5,512.73 475.5,511.52 476.5,509.82 477.5,507.46 478.5,505.03 479.5,502.63 480.5,500.50 481.5,499.00 482.5,499.47 483.5,501.64 484.5,503.38 485.5,504.99 486.5,507.02 487.5,508.71 488.5,510.13 489.5,511.44 490.5,512.36 491.5,513.04 492.5,513.59 493.5,513.98 494.5,514.20 495.5,514.31 496.5,514.36" fill="none" stroke="#c25a3a" stroke-width="0.75"/>
<polygon points="471.5,523.40 471.5,523.33 472.5,523.19 473.5,522.81 474.5,521.97 475.5,520.36 476.5,517.78 477.5,514.94 478.5,512.40 479.5,509.09 480.5,507.19 481.5,508.59 482.5,511.42 483.5,514.78 484.5,518.21 485.5,520.66 486.5,522.11 487.5,522.90 488.5,523.24 489.5,523.35 489.5,523.40" fill="#d3def5" fill-opacity="0.5" stroke="none"/>
<polyline points="471.5,523.33 472.5,523.19 473.5,522.81 474.5,521.97 475.5,520.36 476.5,517.78 477.5,514.94 478.5,512.40 479.5,509.09 480.5,507.19 481.5,508.59 482.5,511.42 483.5,514.78 484.5,518.21 485.5,520.66 486.5,522.11 487.5,522.90 488.5,523.24 489.5,523.35" fill="none" stroke="#7896d2" stroke-width="0.75"/>
<rect x="450.00" y="460.00" width="64.60" height="64.50" fill="none" stroke="#666" stroke-width="0.8"/>
<text x="512.00" y="476.80" font-size="7.3" font-weight="bold" text-anchor="end">41</text>
<text x="512.00" y="485.80" font-size="7.3" font-weight="bold" text-anchor="end">20</text>
<text x="512.00" y="494.80" font-size="7.3" font-weight="bold" text-anchor="end">65</text>
<text x="512.00" y="503.80" font-size="7.3" font-weight="bold" text-anchor="end">29</text>
<text x="512.00" y="512.80" font-size="7.3" font-weight="bold" text-anchor="end">806</text>
<text x="512.00" y="521.80" font-size="7.3" font-weight="bold" text-anchor="end">568</text>
<text x="483.00" y="541.80" font-size="9.2" font-weight="bold" text-anchor="middle" stroke="#000" stroke-width="0.28">CD20</text>
<text x="457.8" y="530.0" font-size="4.2" fill="#666" text-anchor="middle" font-weight="normal">0</text>
<line x1="457.8" y1="524.5" x2="457.8" y2="523.3" stroke="#777" stroke-width="0.5"/>
<text x="473.3" y="530.0" font-size="4.2" fill="#666" text-anchor="middle" font-weight="normal">10²</text>
<line x1="473.3" y1="524.5" x2="473.3" y2="523.3" stroke="#777" stroke-width="0.5"/>
<text x="487.5" y="530.0" font-size="4.2" fill="#666" text-anchor="middle" font-weight="normal">10³</text>
<line x1="487.5" y1="524.5" x2="487.5" y2="523.3" stroke="#777" stroke-width="0.5"/>
<text x="500.4" y="530.0" font-size="4.2" fill="#666" text-anchor="middle" font-weight="normal">10⁴</text>
<line x1="500.4" y1="524.5" x2="500.4" y2="523.3" stroke="#777" stroke-width="0.5"/>
<text x="512.0" y="530.0" font-size="4.2" fill="#666" text-anchor="middle" font-weight="normal">10⁵</text>
<line x1="512.0" y1="524.5" x2="512.0" y2="523.3" stroke="#777" stroke-width="0.5"/>
<text x="4.00" y="328.40" font-size="13.5" text-anchor="start" fill="#000" stroke="#000" stroke-width="0.28" font-weight="bold">C</text>
<text x="106.50" y="332.50" font-size="9.3" text-anchor="middle" fill="#000" stroke="#000" stroke-width="0.28" font-weight="bold">Normal BM, gated on</text>
<text x="105.60" y="344.30" font-size="9.3" text-anchor="middle" fill="#000" stroke="#000" stroke-width="0.28" font-weight="bold">CD2-CD3-CD14-CD16-GPA-</text>
<text x="27.8" y="118.0" font-size="4.2" fill="#666" text-anchor="end" font-weight="normal">0</text>
<line x1="29.6" y1="116.8" x2="30.9" y2="116.8" stroke="#777" stroke-width="0.5"/>
<text x="27.8" y="108.1" font-size="4.2" fill="#666" text-anchor="end" font-weight="normal">10²</text>
<line x1="29.6" y1="106.9" x2="30.9" y2="106.9" stroke="#777" stroke-width="0.5"/>
<text x="27.8" y="95.1" font-size="4.2" fill="#666" text-anchor="end" font-weight="normal">10³</text>
<line x1="29.6" y1="93.9" x2="30.9" y2="93.9" stroke="#777" stroke-width="0.5"/>
<text x="27.8" y="80.5" font-size="4.2" fill="#666" text-anchor="end" font-weight="normal">10⁴</text>
<line x1="29.6" y1="79.3" x2="30.9" y2="79.3" stroke="#777" stroke-width="0.5"/>
<text x="27.8" y="66.0" font-size="4.2" fill="#666" text-anchor="end" font-weight="normal">10⁵</text>
<line x1="29.6" y1="64.8" x2="30.9" y2="64.8" stroke="#777" stroke-width="0.5"/>
<text x="37.2" y="143.0" font-size="4.2" fill="#666" text-anchor="middle" font-weight="normal">0</text>
<line x1="37.2" y1="134.4" x2="37.2" y2="133.1" stroke="#777" stroke-width="0.5"/>
<text x="52.4" y="143.0" font-size="4.2" fill="#666" text-anchor="middle" font-weight="normal">10²</text>
<line x1="52.4" y1="134.4" x2="52.4" y2="133.1" stroke="#777" stroke-width="0.5"/>
<text x="68.4" y="143.0" font-size="4.2" fill="#666" text-anchor="middle" font-weight="normal">10³</text>
<line x1="68.4" y1="134.4" x2="68.4" y2="133.1" stroke="#777" stroke-width="0.5"/>
<text x="83.6" y="143.0" font-size="4.2" fill="#666" text-anchor="middle" font-weight="normal">10⁴</text>
<line x1="83.6" y1="134.4" x2="83.6" y2="133.1" stroke="#777" stroke-width="0.5"/>
<text x="99.5" y="143.0" font-size="4.2" fill="#666" text-anchor="middle" font-weight="normal">10⁵</text>
<line x1="99.5" y1="134.4" x2="99.5" y2="133.1" stroke="#777" stroke-width="0.5"/>
<text x="137.8" y="77.5" font-size="4.2" fill="#666" text-anchor="end" font-weight="normal">0</text>
<line x1="139.6" y1="76.3" x2="140.9" y2="76.3" stroke="#777" stroke-width="0.5"/>
<text x="137.8" y="67.7" font-size="4.2" fill="#666" text-anchor="end" font-weight="normal">10²</text>
<line x1="139.6" y1="66.5" x2="140.9" y2="66.5" stroke="#777" stroke-width="0.5"/>
<text x="137.8" y="54.9" font-size="4.2" fill="#666" text-anchor="end" font-weight="normal">10³</text>
<line x1="139.6" y1="53.7" x2="140.9" y2="53.7" stroke="#777" stroke-width="0.5"/>
<text x="137.8" y="40.5" font-size="4.2" fill="#666" text-anchor="end" font-weight="normal">10⁴</text>
<line x1="139.6" y1="39.3" x2="140.9" y2="39.3" stroke="#777" stroke-width="0.5"/>
<text x="137.8" y="26.2" font-size="4.2" fill="#666" text-anchor="end" font-weight="normal">10⁵</text>
<line x1="139.6" y1="25.0" x2="140.9" y2="25.0" stroke="#777" stroke-width="0.5"/>
<text x="147.3" y="102.3" font-size="4.2" fill="#666" text-anchor="middle" font-weight="normal">0</text>
<line x1="147.3" y1="93.7" x2="147.3" y2="92.4" stroke="#777" stroke-width="0.5"/>
<text x="162.6" y="102.3" font-size="4.2" fill="#666" text-anchor="middle" font-weight="normal">10²</text>
<line x1="162.6" y1="93.7" x2="162.6" y2="92.4" stroke="#777" stroke-width="0.5"/>
<text x="178.7" y="102.3" font-size="4.2" fill="#666" text-anchor="middle" font-weight="normal">10³</text>
<line x1="178.7" y1="93.7" x2="178.7" y2="92.4" stroke="#777" stroke-width="0.5"/>
<text x="194.0" y="102.3" font-size="4.2" fill="#666" text-anchor="middle" font-weight="normal">10⁴</text>
<line x1="194.0" y1="93.7" x2="194.0" y2="92.4" stroke="#777" stroke-width="0.5"/>
<text x="210.1" y="102.3" font-size="4.2" fill="#666" text-anchor="middle" font-weight="normal">10⁵</text>
<line x1="210.1" y1="93.7" x2="210.1" y2="92.4" stroke="#777" stroke-width="0.5"/>
<text x="137.2" y="168.0" font-size="4.2" fill="#666" text-anchor="end" font-weight="normal">0</text>
<line x1="139.0" y1="166.8" x2="140.3" y2="166.8" stroke="#777" stroke-width="0.5"/>
<text x="137.2" y="158.0" font-size="4.2" fill="#666" text-anchor="end" font-weight="normal">10²</text>
<line x1="139.0" y1="156.8" x2="140.3" y2="156.8" stroke="#777" stroke-width="0.5"/>
<text x="137.2" y="144.9" font-size="4.2" fill="#666" text-anchor="end" font-weight="normal">10³</text>
<line x1="139.0" y1="143.7" x2="140.3" y2="143.7" stroke="#777" stroke-width="0.5"/>
<text x="137.2" y="130.3" font-size="4.2" fill="#666" text-anchor="end" font-weight="normal">10⁴</text>
<line x1="139.0" y1="129.1" x2="140.3" y2="129.1" stroke="#777" stroke-width="0.5"/>
<text x="137.2" y="115.6" font-size="4.2" fill="#666" text-anchor="end" font-weight="normal">10⁵</text>
<line x1="139.0" y1="114.4" x2="140.3" y2="114.4" stroke="#777" stroke-width="0.5"/>
<text x="146.6" y="193.1" font-size="4.2" fill="#666" text-anchor="middle" font-weight="normal">0</text>
<line x1="146.6" y1="184.5" x2="146.6" y2="183.2" stroke="#777" stroke-width="0.5"/>
<text x="161.8" y="193.1" font-size="4.2" fill="#666" text-anchor="middle" font-weight="normal">10²</text>
<line x1="161.8" y1="184.5" x2="161.8" y2="183.2" stroke="#777" stroke-width="0.5"/>
<text x="177.8" y="193.1" font-size="4.2" fill="#666" text-anchor="middle" font-weight="normal">10³</text>
<line x1="177.8" y1="184.5" x2="177.8" y2="183.2" stroke="#777" stroke-width="0.5"/>
<text x="193.0" y="193.1" font-size="4.2" fill="#666" text-anchor="middle" font-weight="normal">10⁴</text>
<line x1="193.0" y1="184.5" x2="193.0" y2="183.2" stroke="#777" stroke-width="0.5"/>
<text x="208.9" y="193.1" font-size="4.2" fill="#666" text-anchor="middle" font-weight="normal">10⁵</text>
<line x1="208.9" y1="184.5" x2="208.9" y2="183.2" stroke="#777" stroke-width="0.5"/>
<text x="243.9" y="77.5" font-size="4.2" fill="#666" text-anchor="end" font-weight="normal">0</text>
<line x1="245.7" y1="76.3" x2="247.0" y2="76.3" stroke="#777" stroke-width="0.5"/>
<text x="243.9" y="67.7" font-size="4.2" fill="#666" text-anchor="end" font-weight="normal">10²</text>
<line x1="245.7" y1="66.5" x2="247.0" y2="66.5" stroke="#777" stroke-width="0.5"/>
<text x="243.9" y="54.9" font-size="4.2" fill="#666" text-anchor="end" font-weight="normal">10³</text>
<line x1="245.7" y1="53.7" x2="247.0" y2="53.7" stroke="#777" stroke-width="0.5"/>
<text x="243.9" y="40.5" font-size="4.2" fill="#666" text-anchor="end" font-weight="normal">10⁴</text>
<line x1="245.7" y1="39.3" x2="247.0" y2="39.3" stroke="#777" stroke-width="0.5"/>
<text x="243.9" y="26.2" font-size="4.2" fill="#666" text-anchor="end" font-weight="normal">10⁵</text>
<line x1="245.7" y1="25.0" x2="247.0" y2="25.0" stroke="#777" stroke-width="0.5"/>
<text x="253.2" y="102.3" font-size="4.2" fill="#666" text-anchor="middle" font-weight="normal">0</text>
<line x1="253.2" y1="93.7" x2="253.2" y2="92.4" stroke="#777" stroke-width="0.5"/>
<text x="268.3" y="102.3" font-size="4.2" fill="#666" text-anchor="middle" font-weight="normal">10²</text>
<line x1="268.3" y1="93.7" x2="268.3" y2="92.4" stroke="#777" stroke-width="0.5"/>
<text x="284.2" y="102.3" font-size="4.2" fill="#666" text-anchor="middle" font-weight="normal">10³</text>
<line x1="284.2" y1="93.7" x2="284.2" y2="92.4" stroke="#777" stroke-width="0.5"/>
<text x="299.3" y="102.3" font-size="4.2" fill="#666" text-anchor="middle" font-weight="normal">10⁴</text>
<line x1="299.3" y1="93.7" x2="299.3" y2="92.4" stroke="#777" stroke-width="0.5"/>
<text x="315.2" y="102.3" font-size="4.2" fill="#666" text-anchor="middle" font-weight="normal">10⁵</text>
<line x1="315.2" y1="93.7" x2="315.2" y2="92.4" stroke="#777" stroke-width="0.5"/>
<text x="243.9" y="168.2" font-size="4.2" fill="#666" text-anchor="end" font-weight="normal">0</text>
<line x1="245.7" y1="167.0" x2="247.0" y2="167.0" stroke="#777" stroke-width="0.5"/>
<text x="243.9" y="158.1" font-size="4.2" fill="#666" text-anchor="end" font-weight="normal">10²</text>
<line x1="245.7" y1="156.9" x2="247.0" y2="156.9" stroke="#777" stroke-width="0.5"/>
<text x="243.9" y="144.9" font-size="4.2" fill="#666" text-anchor="end" font-weight="normal">10³</text>
<line x1="245.7" y1="143.7" x2="247.0" y2="143.7" stroke="#777" stroke-width="0.5"/>
<text x="243.9" y="130.2" font-size="4.2" fill="#666" text-anchor="end" font-weight="normal">10⁴</text>
<line x1="245.7" y1="129.0" x2="247.0" y2="129.0" stroke="#777" stroke-width="0.5"/>
<text x="243.9" y="115.5" font-size="4.2" fill="#666" text-anchor="end" font-weight="normal">10⁵</text>
<line x1="245.7" y1="114.3" x2="247.0" y2="114.3" stroke="#777" stroke-width="0.5"/>
<text x="253.3" y="193.4" font-size="4.2" fill="#666" text-anchor="middle" font-weight="normal">0</text>
<line x1="253.3" y1="184.8" x2="253.3" y2="183.5" stroke="#777" stroke-width="0.5"/>
<text x="268.6" y="193.4" font-size="4.2" fill="#666" text-anchor="middle" font-weight="normal">10²</text>
<line x1="268.6" y1="184.8" x2="268.6" y2="183.5" stroke="#777" stroke-width="0.5"/>
<text x="284.7" y="193.4" font-size="4.2" fill="#666" text-anchor="middle" font-weight="normal">10³</text>
<line x1="284.7" y1="184.8" x2="284.7" y2="183.5" stroke="#777" stroke-width="0.5"/>
<text x="300.0" y="193.4" font-size="4.2" fill="#666" text-anchor="middle" font-weight="normal">10⁴</text>
<line x1="300.0" y1="184.8" x2="300.0" y2="183.5" stroke="#777" stroke-width="0.5"/>
<text x="316.1" y="193.4" font-size="4.2" fill="#666" text-anchor="middle" font-weight="normal">10⁵</text>
<line x1="316.1" y1="184.8" x2="316.1" y2="183.5" stroke="#777" stroke-width="0.5"/>
<text x="345.2" y="78.1" font-size="4.2" fill="#666" text-anchor="end" font-weight="normal">0</text>
<line x1="347.0" y1="76.9" x2="348.3" y2="76.9" stroke="#777" stroke-width="0.5"/>
<text x="345.2" y="68.2" font-size="4.2" fill="#666" text-anchor="end" font-weight="normal">10²</text>
<line x1="347.0" y1="67.0" x2="348.3" y2="67.0" stroke="#777" stroke-width="0.5"/>
<text x="345.2" y="55.2" font-size="4.2" fill="#666" text-anchor="end" font-weight="normal">10³</text>
<line x1="347.0" y1="54.0" x2="348.3" y2="54.0" stroke="#777" stroke-width="0.5"/>
<text x="345.2" y="40.6" font-size="4.2" fill="#666" text-anchor="end" font-weight="normal">10⁴</text>
<line x1="347.0" y1="39.4" x2="348.3" y2="39.4" stroke="#777" stroke-width="0.5"/>
<text x="345.2" y="26.1" font-size="4.2" fill="#666" text-anchor="end" font-weight="normal">10⁵</text>
<line x1="347.0" y1="24.9" x2="348.3" y2="24.9" stroke="#777" stroke-width="0.5"/>
<text x="354.8" y="103.1" font-size="4.2" fill="#666" text-anchor="middle" font-weight="normal">0</text>
<line x1="354.8" y1="94.5" x2="354.8" y2="93.2" stroke="#777" stroke-width="0.5"/>
<text x="370.2" y="103.1" font-size="4.2" fill="#666" text-anchor="middle" font-weight="normal">10²</text>
<line x1="370.2" y1="94.5" x2="370.2" y2="93.2" stroke="#777" stroke-width="0.5"/>
<text x="386.5" y="103.1" font-size="4.2" fill="#666" text-anchor="middle" font-weight="normal">10³</text>
<line x1="386.5" y1="94.5" x2="386.5" y2="93.2" stroke="#777" stroke-width="0.5"/>
<text x="402.0" y="103.1" font-size="4.2" fill="#666" text-anchor="middle" font-weight="normal">10⁴</text>
<line x1="402.0" y1="94.5" x2="402.0" y2="93.2" stroke="#777" stroke-width="0.5"/>
<text x="418.3" y="103.1" font-size="4.2" fill="#666" text-anchor="middle" font-weight="normal">10⁵</text>
<line x1="418.3" y1="94.5" x2="418.3" y2="93.2" stroke="#777" stroke-width="0.5"/>
<text x="345.2" y="167.5" font-size="4.2" fill="#666" text-anchor="end" font-weight="normal">0</text>
<line x1="347.0" y1="166.3" x2="348.3" y2="166.3" stroke="#777" stroke-width="0.5"/>
<text x="345.2" y="157.5" font-size="4.2" fill="#666" text-anchor="end" font-weight="normal">10²</text>
<line x1="347.0" y1="156.3" x2="348.3" y2="156.3" stroke="#777" stroke-width="0.5"/>
<text x="345.2" y="144.4" font-size="4.2" fill="#666" text-anchor="end" font-weight="normal">10³</text>
<line x1="347.0" y1="143.2" x2="348.3" y2="143.2" stroke="#777" stroke-width="0.5"/>
<text x="345.2" y="129.8" font-size="4.2" fill="#666" text-anchor="end" font-weight="normal">10⁴</text>
<line x1="347.0" y1="128.6" x2="348.3" y2="128.6" stroke="#777" stroke-width="0.5"/>
<text x="345.2" y="115.1" font-size="4.2" fill="#666" text-anchor="end" font-weight="normal">10⁵</text>
<line x1="347.0" y1="113.9" x2="348.3" y2="113.9" stroke="#777" stroke-width="0.5"/>
<text x="354.8" y="192.6" font-size="4.2" fill="#666" text-anchor="middle" font-weight="normal">0</text>
<line x1="354.8" y1="184.0" x2="354.8" y2="182.7" stroke="#777" stroke-width="0.5"/>
<text x="370.2" y="192.6" font-size="4.2" fill="#666" text-anchor="middle" font-weight="normal">10²</text>
<line x1="370.2" y1="184.0" x2="370.2" y2="182.7" stroke="#777" stroke-width="0.5"/>
<text x="386.5" y="192.6" font-size="4.2" fill="#666" text-anchor="middle" font-weight="normal">10³</text>
<line x1="386.5" y1="184.0" x2="386.5" y2="182.7" stroke="#777" stroke-width="0.5"/>
<text x="402.0" y="192.6" font-size="4.2" fill="#666" text-anchor="middle" font-weight="normal">10⁴</text>
<line x1="402.0" y1="184.0" x2="402.0" y2="182.7" stroke="#777" stroke-width="0.5"/>
<text x="418.3" y="192.6" font-size="4.2" fill="#666" text-anchor="middle" font-weight="normal">10⁵</text>
<line x1="418.3" y1="184.0" x2="418.3" y2="182.7" stroke="#777" stroke-width="0.5"/>
<text x="72.4" y="406.6" font-size="4.2" fill="#666" text-anchor="end" font-weight="normal">0</text>
<line x1="74.2" y1="405.4" x2="75.5" y2="405.4" stroke="#777" stroke-width="0.5"/>
<text x="72.4" y="396.8" font-size="4.2" fill="#666" text-anchor="end" font-weight="normal">10²</text>
<line x1="74.2" y1="395.6" x2="75.5" y2="395.6" stroke="#777" stroke-width="0.5"/>
<text x="72.4" y="383.9" font-size="4.2" fill="#666" text-anchor="end" font-weight="normal">10³</text>
<line x1="74.2" y1="382.7" x2="75.5" y2="382.7" stroke="#777" stroke-width="0.5"/>
<text x="72.4" y="369.6" font-size="4.2" fill="#666" text-anchor="end" font-weight="normal">10⁴</text>
<line x1="74.2" y1="368.4" x2="75.5" y2="368.4" stroke="#777" stroke-width="0.5"/>
<text x="72.4" y="355.2" font-size="4.2" fill="#666" text-anchor="end" font-weight="normal">10⁵</text>
<line x1="74.2" y1="354.0" x2="75.5" y2="354.0" stroke="#777" stroke-width="0.5"/>
<text x="81.7" y="431.4" font-size="4.2" fill="#666" text-anchor="middle" font-weight="normal">0</text>
<line x1="81.7" y1="422.8" x2="81.7" y2="421.5" stroke="#777" stroke-width="0.5"/>
<text x="96.5" y="431.4" font-size="4.2" fill="#666" text-anchor="middle" font-weight="normal">10²</text>
<line x1="96.5" y1="422.8" x2="96.5" y2="421.5" stroke="#777" stroke-width="0.5"/>
<text x="112.2" y="431.4" font-size="4.2" fill="#666" text-anchor="middle" font-weight="normal">10³</text>
<line x1="112.2" y1="422.8" x2="112.2" y2="421.5" stroke="#777" stroke-width="0.5"/>
<text x="127.1" y="431.4" font-size="4.2" fill="#666" text-anchor="middle" font-weight="normal">10⁴</text>
<line x1="127.1" y1="422.8" x2="127.1" y2="421.5" stroke="#777" stroke-width="0.5"/>
<text x="142.7" y="431.4" font-size="4.2" fill="#666" text-anchor="middle" font-weight="normal">10⁵</text>
<line x1="142.7" y1="422.8" x2="142.7" y2="421.5" stroke="#777" stroke-width="0.5"/>
<text x="197.8" y="407.0" font-size="4.2" fill="#666" text-anchor="end" font-weight="normal">0</text>
<line x1="199.6" y1="405.8" x2="200.9" y2="405.8" stroke="#777" stroke-width="0.5"/>
<text x="197.8" y="396.9" font-size="4.2" fill="#666" text-anchor="end" font-weight="normal">10²</text>
<line x1="199.6" y1="395.7" x2="200.9" y2="395.7" stroke="#777" stroke-width="0.5"/>
<text x="197.8" y="383.7" font-size="4.2" fill="#666" text-anchor="end" font-weight="normal">10³</text>
<line x1="199.6" y1="382.5" x2="200.9" y2="382.5" stroke="#777" stroke-width="0.5"/>
<text x="197.8" y="368.9" font-size="4.2" fill="#666" text-anchor="end" font-weight="normal">10⁴</text>
<line x1="199.6" y1="367.7" x2="200.9" y2="367.7" stroke="#777" stroke-width="0.5"/>
<text x="197.8" y="354.1" font-size="4.2" fill="#666" text-anchor="end" font-weight="normal">10⁵</text>
<line x1="199.6" y1="352.9" x2="200.9" y2="352.9" stroke="#777" stroke-width="0.5"/>
<text x="207.3" y="432.3" font-size="4.2" fill="#666" text-anchor="middle" font-weight="normal">0</text>
<line x1="207.3" y1="423.7" x2="207.3" y2="422.4" stroke="#777" stroke-width="0.5"/>
<text x="222.8" y="432.3" font-size="4.2" fill="#666" text-anchor="middle" font-weight="normal">10²</text>
<line x1="222.8" y1="423.7" x2="222.8" y2="422.4" stroke="#777" stroke-width="0.5"/>
<text x="239.0" y="432.3" font-size="4.2" fill="#666" text-anchor="middle" font-weight="normal">10³</text>
<line x1="239.0" y1="423.7" x2="239.0" y2="422.4" stroke="#777" stroke-width="0.5"/>
<text x="254.5" y="432.3" font-size="4.2" fill="#666" text-anchor="middle" font-weight="normal">10⁴</text>
<line x1="254.5" y1="423.7" x2="254.5" y2="422.4" stroke="#777" stroke-width="0.5"/>
<text x="270.7" y="432.3" font-size="4.2" fill="#666" text-anchor="middle" font-weight="normal">10⁵</text>
<line x1="270.7" y1="423.7" x2="270.7" y2="422.4" stroke="#777" stroke-width="0.5"/>
<text x="295.7" y="406.8" font-size="4.2" fill="#666" text-anchor="end" font-weight="normal">0</text>
<line x1="297.5" y1="405.6" x2="298.8" y2="405.6" stroke="#777" stroke-width="0.5"/>
<text x="295.7" y="397.0" font-size="4.2" fill="#666" text-anchor="end" font-weight="normal">10²</text>
<line x1="297.5" y1="395.8" x2="298.8" y2="395.8" stroke="#777" stroke-width="0.5"/>
<text x="295.7" y="384.2" font-size="4.2" fill="#666" text-anchor="end" font-weight="normal">10³</text>
<line x1="297.5" y1="383.0" x2="298.8" y2="383.0" stroke="#777" stroke-width="0.5"/>
<text x="295.7" y="369.8" font-size="4.2" fill="#666" text-anchor="end" font-weight="normal">10⁴</text>
<line x1="297.5" y1="368.6" x2="298.8" y2="368.6" stroke="#777" stroke-width="0.5"/>
<text x="295.7" y="355.5" font-size="4.2" fill="#666" text-anchor="end" font-weight="normal">10⁵</text>
<line x1="297.5" y1="354.3" x2="298.8" y2="354.3" stroke="#777" stroke-width="0.5"/>
<text x="305.1" y="431.6" font-size="4.2" fill="#666" text-anchor="middle" font-weight="normal">0</text>
<line x1="305.1" y1="423.0" x2="305.1" y2="421.7" stroke="#777" stroke-width="0.5"/>
<text x="320.1" y="431.6" font-size="4.2" fill="#666" text-anchor="middle" font-weight="normal">10²</text>
<line x1="320.1" y1="423.0" x2="320.1" y2="421.7" stroke="#777" stroke-width="0.5"/>
<text x="336.0" y="431.6" font-size="4.2" fill="#666" text-anchor="middle" font-weight="normal">10³</text>
<line x1="336.0" y1="423.0" x2="336.0" y2="421.7" stroke="#777" stroke-width="0.5"/>
<text x="351.1" y="431.6" font-size="4.2" fill="#666" text-anchor="middle" font-weight="normal">10⁴</text>
<line x1="351.1" y1="423.0" x2="351.1" y2="421.7" stroke="#777" stroke-width="0.5"/>
<text x="367.0" y="431.6" font-size="4.2" fill="#666" text-anchor="middle" font-weight="normal">10⁵</text>
<line x1="367.0" y1="423.0" x2="367.0" y2="421.7" stroke="#777" stroke-width="0.5"/>
<path fill="#9090e0" fill-opacity="0.8" d="M158.0 136.9h1.0v1.0h-1.0zM156.8 129.2h1.0v1.0h-1.0zM156.0 128.6h1.0v1.0h-1.0zM158.3 143.7h1.0v1.0h-1.0zM155.8 131.0h1.0v1.0h-1.0zM160.2 137.3h1.0v1.0h-1.0zM158.5 129.0h1.0v1.0h-1.0zM157.9 139.5h1.0v1.0h-1.0zM152.0 132.0h1.0v1.0h-1.0zM149.4 126.6h1.0v1.0h-1.0zM149.7 133.5h1.0v1.0h-1.0zM152.3 136.8h1.0v1.0h-1.0zM158.7 133.8h1.0v1.0h-1.0zM146.7 131.5h1.0v1.0h-1.0zM157.8 135.7h1.0v1.0h-1.0zM151.1 131.9h1.0v1.0h-1.0zM153.6 129.7h1.0v1.0h-1.0zM162.8 129.8h1.0v1.0h-1.0zM157.9 140.7h1.0v1.0h-1.0zM155.4 134.3h1.0v1.0h-1.0zM158.5 135.4h1.0v1.0h-1.0zM152.5 135.5h1.0v1.0h-1.0zM164.1 124.9h1.0v1.0h-1.0zM161.9 135.8h1.0v1.0h-1.0zM155.1 148.0h1.0v1.0h-1.0zM161.4 127.2h1.0v1.0h-1.0zM158.3 138.7h1.0v1.0h-1.0zM157.2 139.4h1.0v1.0h-1.0zM157.7 139.3h1.0v1.0h-1.0zM164.5 130.6h1.0v1.0h-1.0zM158.9 132.0h1.0v1.0h-1.0zM158.6 127.3h1.0v1.0h-1.0zM155.4 133.7h1.0v1.0h-1.0zM162.0 142.4h1.0v1.0h-1.0zM152.0 129.8h1.0v1.0h-1.0zM160.9 122.0h1.0v1.0h-1.0zM155.9 134.4h1.0v1.0h-1.0zM163.7 139.5h1.0v1.0h-1.0zM156.5 132.6h1.0v1.0h-1.0zM156.9 144.9h1.0v1.0h-1.0zM156.1 133.0h1.0v1.0h-1.0zM159.6 134.2h1.0v1.0h-1.0zM157.1 127.8h1.0v1.0h-1.0zM157.9 132.1h1.0v1.0h-1.0zM163.2 139.2h1.0v1.0h-1.0zM157.9 139.3h1.0v1.0h-1.0zM156.5 141.8h1.0v1.0h-1.0zM158.0 138.8h1.0v1.0h-1.0zM152.2 137.3h1.0v1.0h-1.0zM150.4 121.8h1.0v1.0h-1.0zM156.6 129.2h1.0v1.0h-1.0zM158.7 149.6h1.0v1.0h-1.0zM154.3 130.9h1.0v1.0h-1.0zM158.9 138.2h1.0v1.0h-1.0zM157.2 133.7h1.0v1.0h-1.0zM161.2 138.4h1.0v1.0h-1.0zM153.3 134.5h1.0v1.0h-1.0zM158.2 128.1h1.0v1.0h-1.0zM159.2 129.4h1.0v1.0h-1.0zM162.4 136.3h1.0v1.0h-1.0zM158.4 131.2h1.0v1.0h-1.0zM157.5 122.0h1.0v1.0h-1.0zM152.9 137.4h1.0v1.0h-1.0zM148.4 140.5h1.0v1.0h-1.0zM150.1 139.9h1.0v1.0h-1.0zM154.2 140.1h1.0v1.0h-1.0zM158.6 125.0h1.0v1.0h-1.0zM163.6 144.4h1.0v1.0h-1.0zM157.7 133.2h1.0v1.0h-1.0zM157.3 128.7h1.0v1.0h-1.0zM162.9 131.5h1.0v1.0h-1.0zM157.8 129.8h1.0v1.0h-1.0zM155.2 126.7h1.0v1.0h-1.0zM163.7 134.0h1.0v1.0h-1.0zM162.3 135.1h1.0v1.0h-1.0zM154.9 132.9h1.0v1.0h-1.0zM155.5 135.1h1.0v1.0h-1.0zM156.3 133.1h1.0v1.0h-1.0zM151.8 129.8h1.0v1.0h-1.0zM165.4 130.6h1.0v1.0h-1.0zM153.3 137.2h1.0v1.0h-1.0zM164.3 125.5h1.0v1.0h-1.0zM157.1 130.9h1.0v1.0h-1.0zM150.1 139.8h1.0v1.0h-1.0zM157.9 135.5h1.0v1.0h-1.0zM154.6 138.0h1.0v1.0h-1.0zM155.6 134.1h1.0v1.0h-1.0zM153.0 127.1h1.0v1.0h-1.0zM164.0 131.7h1.0v1.0h-1.0zM159.3 134.8h1.0v1.0h-1.0zM156.0 131.7h1.0v1.0h-1.0zM160.8 133.0h1.0v1.0h-1.0zM157.3 135.1h1.0v1.0h-1.0zM163.3 139.4h1.0v1.0h-1.0zM159.7 131.3h1.0v1.0h-1.0zM151.8 141.2h1.0v1.0h-1.0zM162.3 134.1h1.0v1.0h-1.0zM160.4 140.1h1.0v1.0h-1.0zM161.7 141.0h1.0v1.0h-1.0zM155.9 144.8h1.0v1.0h-1.0z"/>
<path fill="#9c9ce6" fill-opacity="0.8" d="M183.8 164.3h1.0v1.0h-1.0zM199.4 164.3h1.0v1.0h-1.0zM211.9 166.6h1.0v1.0h-1.0zM184.7 154.6h1.0v1.0h-1.0zM202.4 157.1h1.0v1.0h-1.0zM194.9 164.2h1.0v1.0h-1.0zM180.2 153.0h1.0v1.0h-1.0zM197.3 161.2h1.0v1.0h-1.0zM192.8 161.1h1.0v1.0h-1.0zM187.3 155.2h1.0v1.0h-1.0zM193.5 157.3h1.0v1.0h-1.0zM180.2 162.9h1.0v1.0h-1.0zM194.4 162.5h1.0v1.0h-1.0zM186.1 158.5h1.0v1.0h-1.0zM186.0 157.6h1.0v1.0h-1.0zM196.8 158.0h1.0v1.0h-1.0zM198.2 162.3h1.0v1.0h-1.0zM213.2 155.7h1.0v1.0h-1.0zM203.0 160.7h1.0v1.0h-1.0zM194.9 155.5h1.0v1.0h-1.0zM190.9 163.8h1.0v1.0h-1.0zM194.3 161.3h1.0v1.0h-1.0zM192.4 165.4h1.0v1.0h-1.0zM194.8 152.6h1.0v1.0h-1.0zM188.8 153.5h1.0v1.0h-1.0zM165.7 159.0h1.0v1.0h-1.0zM207.0 161.2h1.0v1.0h-1.0zM184.4 157.4h1.0v1.0h-1.0zM205.2 161.6h1.0v1.0h-1.0zM195.4 160.8h1.0v1.0h-1.0zM195.3 164.1h1.0v1.0h-1.0zM200.0 161.8h1.0v1.0h-1.0zM185.6 162.9h1.0v1.0h-1.0zM188.8 165.2h1.0v1.0h-1.0zM183.6 160.5h1.0v1.0h-1.0zM194.9 156.0h1.0v1.0h-1.0zM210.5 166.5h1.0v1.0h-1.0zM190.8 163.9h1.0v1.0h-1.0zM198.4 151.1h1.0v1.0h-1.0zM197.3 160.8h1.0v1.0h-1.0zM195.7 156.9h1.0v1.0h-1.0zM192.6 160.3h1.0v1.0h-1.0zM205.7 162.3h1.0v1.0h-1.0zM195.0 166.8h1.0v1.0h-1.0zM190.0 159.5h1.0v1.0h-1.0zM178.6 167.0h1.0v1.0h-1.0zM203.7 164.5h1.0v1.0h-1.0zM201.0 161.4h1.0v1.0h-1.0zM196.9 160.0h1.0v1.0h-1.0zM193.2 161.2h1.0v1.0h-1.0zM208.6 163.1h1.0v1.0h-1.0zM194.5 158.8h1.0v1.0h-1.0zM189.3 167.1h1.0v1.0h-1.0zM199.6 161.3h1.0v1.0h-1.0zM191.9 156.8h1.0v1.0h-1.0zM194.4 164.3h1.0v1.0h-1.0zM191.5 160.1h1.0v1.0h-1.0zM193.0 161.4h1.0v1.0h-1.0zM180.7 160.1h1.0v1.0h-1.0zM187.3 164.4h1.0v1.0h-1.0zM188.1 163.2h1.0v1.0h-1.0zM208.7 159.8h1.0v1.0h-1.0zM189.6 161.7h1.0v1.0h-1.0zM195.0 157.2h1.0v1.0h-1.0zM199.1 168.7h1.0v1.0h-1.0zM192.7 160.2h1.0v1.0h-1.0zM185.6 162.2h1.0v1.0h-1.0zM183.8 156.8h1.0v1.0h-1.0zM206.5 157.6h1.0v1.0h-1.0zM204.7 166.8h1.0v1.0h-1.0zM197.3 163.1h1.0v1.0h-1.0zM212.6 160.3h1.0v1.0h-1.0zM189.7 155.9h1.0v1.0h-1.0zM195.4 166.6h1.0v1.0h-1.0zM203.6 157.4h1.0v1.0h-1.0zM187.3 159.1h1.0v1.0h-1.0zM197.6 160.2h1.0v1.0h-1.0zM196.9 162.1h1.0v1.0h-1.0zM192.3 160.8h1.0v1.0h-1.0zM196.9 160.7h1.0v1.0h-1.0zM199.5 168.1h1.0v1.0h-1.0zM200.3 161.2h1.0v1.0h-1.0zM179.8 162.5h1.0v1.0h-1.0zM177.5 155.6h1.0v1.0h-1.0zM202.7 163.7h1.0v1.0h-1.0zM193.7 154.5h1.0v1.0h-1.0zM191.7 158.4h1.0v1.0h-1.0zM200.7 169.6h1.0v1.0h-1.0zM197.0 158.0h1.0v1.0h-1.0zM184.5 160.8h1.0v1.0h-1.0zM193.4 156.6h1.0v1.0h-1.0zM196.0 156.6h1.0v1.0h-1.0zM205.0 165.0h1.0v1.0h-1.0zM204.8 159.2h1.0v1.0h-1.0zM199.6 160.5h1.0v1.0h-1.0zM191.5 159.7h1.0v1.0h-1.0zM183.3 155.5h1.0v1.0h-1.0zM202.1 160.3h1.0v1.0h-1.0zM196.9 164.8h1.0v1.0h-1.0zM179.4 158.0h1.0v1.0h-1.0z"/>
<path fill="#8080e0" fill-opacity="0.8" d="M286.9 62.7h1.0v1.0h-1.0zM284.1 67.2h1.0v1.0h-1.0zM287.1 51.5h1.0v1.0h-1.0zM281.3 65.6h1.0v1.0h-1.0zM288.3 46.7h1.0v1.0h-1.0zM292.7 64.2h1.0v1.0h-1.0zM292.7 57.3h1.0v1.0h-1.0zM284.5 52.1h1.0v1.0h-1.0zM298.7 58.8h1.0v1.0h-1.0zM293.9 55.5h1.0v1.0h-1.0zM286.8 48.3h1.0v1.0h-1.0zM284.1 66.9h1.0v1.0h-1.0zM279.7 67.5h1.0v1.0h-1.0zM287.7 52.7h1.0v1.0h-1.0zM283.5 56.8h1.0v1.0h-1.0zM285.8 56.2h1.0v1.0h-1.0zM281.9 57.9h1.0v1.0h-1.0zM280.9 51.0h1.0v1.0h-1.0zM285.8 66.2h1.0v1.0h-1.0zM278.4 60.0h1.0v1.0h-1.0zM282.8 53.2h1.0v1.0h-1.0zM290.3 56.4h1.0v1.0h-1.0zM293.5 54.5h1.0v1.0h-1.0zM287.9 58.4h1.0v1.0h-1.0zM282.2 64.1h1.0v1.0h-1.0zM285.2 64.2h1.0v1.0h-1.0zM285.8 52.4h1.0v1.0h-1.0zM285.5 60.4h1.0v1.0h-1.0zM290.8 53.7h1.0v1.0h-1.0zM285.8 47.9h1.0v1.0h-1.0zM289.3 52.4h1.0v1.0h-1.0zM277.0 59.6h1.0v1.0h-1.0zM291.5 49.3h1.0v1.0h-1.0zM280.6 54.8h1.0v1.0h-1.0zM280.4 62.7h1.0v1.0h-1.0zM282.0 54.9h1.0v1.0h-1.0zM288.9 54.7h1.0v1.0h-1.0zM288.2 53.2h1.0v1.0h-1.0zM279.9 47.2h1.0v1.0h-1.0zM295.3 57.8h1.0v1.0h-1.0zM287.2 59.8h1.0v1.0h-1.0zM286.8 60.3h1.0v1.0h-1.0zM295.5 52.7h1.0v1.0h-1.0zM278.2 52.9h1.0v1.0h-1.0zM279.3 65.2h1.0v1.0h-1.0zM290.1 53.3h1.0v1.0h-1.0zM279.0 57.5h1.0v1.0h-1.0zM293.0 40.3h1.0v1.0h-1.0zM288.6 52.5h1.0v1.0h-1.0zM291.2 52.5h1.0v1.0h-1.0zM284.6 49.5h1.0v1.0h-1.0zM281.1 69.7h1.0v1.0h-1.0zM290.1 57.2h1.0v1.0h-1.0zM281.6 46.7h1.0v1.0h-1.0zM284.0 59.8h1.0v1.0h-1.0zM285.6 59.3h1.0v1.0h-1.0zM280.4 59.5h1.0v1.0h-1.0zM285.8 69.0h1.0v1.0h-1.0zM295.3 59.0h1.0v1.0h-1.0zM282.2 59.5h1.0v1.0h-1.0z"/>
<path fill="#2c2cc8" d="M294.2 124.5h1.2v1.2h-1.2zM296.7 123.3h1.2v1.2h-1.2zM299.8 127.1h1.2v1.2h-1.2zM298.2 126.8h1.2v1.2h-1.2zM293.7 123.7h1.2v1.2h-1.2zM295.9 125.3h1.2v1.2h-1.2zM298.1 127.5h1.2v1.2h-1.2zM290.7 127.8h1.2v1.2h-1.2zM290.8 125.0h1.2v1.2h-1.2zM295.6 119.2h1.2v1.2h-1.2zM297.4 128.1h1.2v1.2h-1.2zM296.3 125.8h1.2v1.2h-1.2zM295.3 123.6h1.2v1.2h-1.2zM295.8 125.3h1.2v1.2h-1.2zM297.4 122.7h1.2v1.2h-1.2zM298.1 128.1h1.2v1.2h-1.2zM296.3 125.7h1.2v1.2h-1.2zM299.5 120.8h1.2v1.2h-1.2zM299.1 128.5h1.2v1.2h-1.2zM298.3 129.0h1.2v1.2h-1.2zM294.0 126.5h1.2v1.2h-1.2zM299.9 129.2h1.2v1.2h-1.2zM298.0 121.4h1.2v1.2h-1.2zM299.5 132.2h1.2v1.2h-1.2zM301.6 128.4h1.2v1.2h-1.2zM289.8 131.3h1.2v1.2h-1.2zM296.3 117.4h1.2v1.2h-1.2zM298.7 121.5h1.2v1.2h-1.2zM291.0 125.0h1.2v1.2h-1.2zM302.9 126.0h1.2v1.2h-1.2zM298.2 134.5h1.2v1.2h-1.2zM304.3 127.1h1.2v1.2h-1.2zM295.9 122.5h1.2v1.2h-1.2zM293.8 129.2h1.2v1.2h-1.2zM298.8 127.9h1.2v1.2h-1.2zM301.6 124.4h1.2v1.2h-1.2zM296.7 130.4h1.2v1.2h-1.2zM299.7 131.8h1.2v1.2h-1.2zM298.8 126.3h1.2v1.2h-1.2zM298.7 123.5h1.2v1.2h-1.2zM289.5 129.8h1.2v1.2h-1.2zM296.7 128.7h1.2v1.2h-1.2zM289.2 126.0h1.2v1.2h-1.2zM294.2 124.0h1.2v1.2h-1.2zM286.6 126.2h1.2v1.2h-1.2zM301.1 129.0h1.2v1.2h-1.2zM294.2 127.4h1.2v1.2h-1.2zM300.5 116.5h1.2v1.2h-1.2zM296.4 129.7h1.2v1.2h-1.2zM300.1 134.3h1.2v1.2h-1.2zM302.2 128.8h1.2v1.2h-1.2zM298.4 130.6h1.2v1.2h-1.2zM294.5 127.3h1.2v1.2h-1.2zM301.2 135.3h1.2v1.2h-1.2zM296.3 127.3h1.2v1.2h-1.2zM297.9 132.9h1.2v1.2h-1.2zM296.9 133.4h1.2v1.2h-1.2zM292.6 126.8h1.2v1.2h-1.2zM296.1 130.6h1.2v1.2h-1.2zM301.8 121.5h1.2v1.2h-1.2zM292.8 128.8h1.2v1.2h-1.2zM294.0 121.4h1.2v1.2h-1.2zM301.8 129.5h1.2v1.2h-1.2zM299.3 125.6h1.2v1.2h-1.2zM301.7 126.5h1.2v1.2h-1.2zM302.0 123.9h1.2v1.2h-1.2zM293.1 128.3h1.2v1.2h-1.2zM293.8 130.2h1.2v1.2h-1.2zM298.2 123.8h1.2v1.2h-1.2zM297.3 126.1h1.2v1.2h-1.2zM301.2 125.0h1.2v1.2h-1.2zM295.0 132.3h1.2v1.2h-1.2zM307.3 135.5h1.2v1.2h-1.2zM297.3 128.4h1.2v1.2h-1.2zM304.1 127.0h1.2v1.2h-1.2zM292.5 128.0h1.2v1.2h-1.2zM299.1 124.2h1.2v1.2h-1.2zM289.4 121.8h1.2v1.2h-1.2zM300.1 124.5h1.2v1.2h-1.2zM296.3 128.4h1.2v1.2h-1.2zM299.8 126.2h1.2v1.2h-1.2zM299.3 123.9h1.2v1.2h-1.2zM295.3 123.4h1.2v1.2h-1.2zM302.2 127.4h1.2v1.2h-1.2zM293.6 126.1h1.2v1.2h-1.2zM296.0 130.3h1.2v1.2h-1.2zM289.7 123.4h1.2v1.2h-1.2zM295.3 137.6h1.2v1.2h-1.2zM301.4 127.1h1.2v1.2h-1.2zM300.3 135.7h1.2v1.2h-1.2zM295.9 126.0h1.2v1.2h-1.2zM302.6 129.5h1.2v1.2h-1.2zM300.1 125.5h1.2v1.2h-1.2zM305.9 134.3h1.2v1.2h-1.2zM299.6 130.2h1.2v1.2h-1.2zM287.7 130.1h1.2v1.2h-1.2zM296.1 129.2h1.2v1.2h-1.2zM300.1 126.1h1.2v1.2h-1.2zM289.2 129.0h1.2v1.2h-1.2zM293.6 126.2h1.2v1.2h-1.2zM294.2 126.1h1.2v1.2h-1.2zM286.4 132.4h1.2v1.2h-1.2zM298.2 131.9h1.2v1.2h-1.2zM306.1 127.6h1.2v1.2h-1.2zM288.7 123.9h1.2v1.2h-1.2zM291.4 125.5h1.2v1.2h-1.2zM297.4 119.5h1.2v1.2h-1.2zM298.6 121.5h1.2v1.2h-1.2zM298.4 127.1h1.2v1.2h-1.2zM295.6 127.2h1.2v1.2h-1.2zM294.5 125.1h1.2v1.2h-1.2zM289.3 127.4h1.2v1.2h-1.2zM305.5 135.4h1.2v1.2h-1.2zM303.1 130.3h1.2v1.2h-1.2zM293.9 133.3h1.2v1.2h-1.2zM296.7 127.2h1.2v1.2h-1.2zM295.7 127.9h1.2v1.2h-1.2zM295.0 127.2h1.2v1.2h-1.2zM292.0 126.0h1.2v1.2h-1.2zM307.5 127.2h1.2v1.2h-1.2zM295.9 129.6h1.2v1.2h-1.2zM300.3 123.0h1.2v1.2h-1.2zM296.0 131.2h1.2v1.2h-1.2zM298.2 128.0h1.2v1.2h-1.2zM304.1 124.8h1.2v1.2h-1.2zM297.4 125.4h1.2v1.2h-1.2zM303.9 119.7h1.2v1.2h-1.2zM293.9 125.4h1.2v1.2h-1.2zM300.1 129.9h1.2v1.2h-1.2zM303.4 121.2h1.2v1.2h-1.2zM300.5 126.3h1.2v1.2h-1.2zM293.9 129.7h1.2v1.2h-1.2zM292.8 119.2h1.2v1.2h-1.2zM295.3 121.5h1.2v1.2h-1.2zM294.0 129.0h1.2v1.2h-1.2zM298.4 133.8h1.2v1.2h-1.2zM296.1 121.4h1.2v1.2h-1.2zM293.5 123.8h1.2v1.2h-1.2zM291.4 129.2h1.2v1.2h-1.2zM294.0 119.6h1.2v1.2h-1.2zM300.2 127.1h1.2v1.2h-1.2zM298.6 127.9h1.2v1.2h-1.2zM299.9 127.7h1.2v1.2h-1.2zM302.7 129.2h1.2v1.2h-1.2zM298.8 129.1h1.2v1.2h-1.2zM290.3 126.8h1.2v1.2h-1.2zM295.8 128.3h1.2v1.2h-1.2zM290.8 134.0h1.2v1.2h-1.2zM297.5 122.7h1.2v1.2h-1.2zM289.1 126.4h1.2v1.2h-1.2zM296.6 124.6h1.2v1.2h-1.2zM297.4 124.9h1.2v1.2h-1.2zM299.5 124.6h1.2v1.2h-1.2zM296.8 131.4h1.2v1.2h-1.2zM308.8 123.5h1.2v1.2h-1.2zM294.9 124.1h1.2v1.2h-1.2zM300.6 122.9h1.2v1.2h-1.2zM294.8 127.4h1.2v1.2h-1.2zM292.5 123.7h1.2v1.2h-1.2zM294.8 119.1h1.2v1.2h-1.2zM275.2 126.8h1.2v1.2h-1.2zM281.6 127.4h1.2v1.2h-1.2zM273.9 126.6h1.2v1.2h-1.2zM284.2 129.7h1.2v1.2h-1.2zM280.7 125.3h1.2v1.2h-1.2zM283.5 126.3h1.2v1.2h-1.2zM276.3 125.6h1.2v1.2h-1.2zM286.8 128.7h1.2v1.2h-1.2zM285.6 126.6h1.2v1.2h-1.2zM284.8 126.2h1.2v1.2h-1.2zM280.4 135.5h1.2v1.2h-1.2zM284.1 126.5h1.2v1.2h-1.2zM280.7 129.0h1.2v1.2h-1.2zM285.8 126.5h1.2v1.2h-1.2zM274.0 127.2h1.2v1.2h-1.2zM281.1 128.3h1.2v1.2h-1.2zM286.3 129.0h1.2v1.2h-1.2zM284.3 124.7h1.2v1.2h-1.2zM284.5 134.3h1.2v1.2h-1.2zM284.1 128.8h1.2v1.2h-1.2zM281.6 133.4h1.2v1.2h-1.2zM277.3 127.7h1.2v1.2h-1.2zM282.8 130.2h1.2v1.2h-1.2zM279.3 128.9h1.2v1.2h-1.2zM279.9 128.4h1.2v1.2h-1.2zM260.6 132.3h1.2v1.2h-1.2zM260.9 138.0h1.2v1.2h-1.2zM258.3 134.8h1.2v1.2h-1.2zM262.9 132.5h1.2v1.2h-1.2zM261.5 132.5h1.2v1.2h-1.2zM264.2 142.0h1.2v1.2h-1.2zM266.7 134.9h1.2v1.2h-1.2zM263.1 135.8h1.2v1.2h-1.2zM261.3 139.8h1.2v1.2h-1.2zM257.3 138.5h1.2v1.2h-1.2zM260.9 139.4h1.2v1.2h-1.2zM261.5 133.6h1.2v1.2h-1.2zM261.8 137.6h1.2v1.2h-1.2zM261.1 136.9h1.2v1.2h-1.2zM259.5 129.5h1.2v1.2h-1.2zM263.5 137.5h1.2v1.2h-1.2zM261.4 135.7h1.2v1.2h-1.2zM263.9 134.2h1.2v1.2h-1.2zM259.0 135.0h1.2v1.2h-1.2zM264.3 131.6h1.2v1.2h-1.2zM264.3 133.7h1.2v1.2h-1.2zM257.9 139.0h1.2v1.2h-1.2zM260.7 131.9h1.2v1.2h-1.2zM260.0 138.1h1.2v1.2h-1.2zM264.3 134.3h1.2v1.2h-1.2zM262.1 137.5h1.2v1.2h-1.2zM259.2 136.5h1.2v1.2h-1.2zM260.9 134.0h1.2v1.2h-1.2zM259.6 135.7h1.2v1.2h-1.2zM261.1 133.9h1.2v1.2h-1.2zM259.8 138.6h1.2v1.2h-1.2zM261.6 138.0h1.2v1.2h-1.2zM264.4 137.1h1.2v1.2h-1.2zM267.4 133.2h1.2v1.2h-1.2zM263.3 134.6h1.2v1.2h-1.2zM266.2 140.3h1.2v1.2h-1.2zM255.5 132.8h1.2v1.2h-1.2zM262.9 137.7h1.2v1.2h-1.2zM263.1 135.3h1.2v1.2h-1.2zM262.3 137.3h1.2v1.2h-1.2zM260.8 138.4h1.2v1.2h-1.2zM254.7 137.3h1.2v1.2h-1.2zM258.1 138.2h1.2v1.2h-1.2zM260.4 133.0h1.2v1.2h-1.2zM262.0 132.9h1.2v1.2h-1.2zM258.4 131.1h1.2v1.2h-1.2zM260.9 136.9h1.2v1.2h-1.2zM263.9 135.1h1.2v1.2h-1.2zM263.9 135.6h1.2v1.2h-1.2zM260.7 137.1h1.2v1.2h-1.2zM264.0 134.5h1.2v1.2h-1.2zM260.3 135.0h1.2v1.2h-1.2zM261.2 133.0h1.2v1.2h-1.2zM263.9 134.4h1.2v1.2h-1.2zM262.3 133.2h1.2v1.2h-1.2zM262.0 136.6h1.2v1.2h-1.2zM259.8 141.2h1.2v1.2h-1.2zM262.0 140.5h1.2v1.2h-1.2zM263.7 133.6h1.2v1.2h-1.2zM259.9 136.7h1.2v1.2h-1.2zM261.2 135.6h1.2v1.2h-1.2zM260.2 130.4h1.2v1.2h-1.2zM260.4 129.3h1.2v1.2h-1.2zM262.0 133.5h1.2v1.2h-1.2zM259.0 134.9h1.2v1.2h-1.2zM261.8 131.5h1.2v1.2h-1.2zM256.1 132.5h1.2v1.2h-1.2zM255.3 132.8h1.2v1.2h-1.2zM265.5 132.5h1.2v1.2h-1.2zM262.8 131.7h1.2v1.2h-1.2zM261.8 134.6h1.2v1.2h-1.2zM260.8 137.1h1.2v1.2h-1.2zM265.9 136.0h1.2v1.2h-1.2zM261.3 132.8h1.2v1.2h-1.2zM262.6 134.8h1.2v1.2h-1.2zM288.0 170.8h1.2v1.2h-1.2zM293.4 162.1h1.2v1.2h-1.2zM281.2 175.0h1.2v1.2h-1.2zM280.9 167.4h1.2v1.2h-1.2zM281.4 164.8h1.2v1.2h-1.2zM283.7 182.0h1.2v1.2h-1.2zM289.9 166.0h1.2v1.2h-1.2zM277.8 169.2h1.2v1.2h-1.2zM289.0 167.3h1.2v1.2h-1.2zM278.9 175.0h1.2v1.2h-1.2zM288.2 169.3h1.2v1.2h-1.2zM276.3 164.0h1.2v1.2h-1.2zM278.8 161.0h1.2v1.2h-1.2zM287.5 168.2h1.2v1.2h-1.2zM285.9 179.4h1.2v1.2h-1.2zM290.0 165.8h1.2v1.2h-1.2zM288.2 176.2h1.2v1.2h-1.2zM278.5 166.7h1.2v1.2h-1.2zM282.3 163.8h1.2v1.2h-1.2zM291.8 160.2h1.2v1.2h-1.2zM276.4 169.8h1.2v1.2h-1.2zM281.6 171.7h1.2v1.2h-1.2zM284.6 170.0h1.2v1.2h-1.2zM289.8 161.4h1.2v1.2h-1.2zM283.0 167.8h1.2v1.2h-1.2zM283.8 172.0h1.2v1.2h-1.2zM277.5 168.1h1.2v1.2h-1.2zM287.8 172.6h1.2v1.2h-1.2zM278.9 180.2h1.2v1.2h-1.2zM296.9 164.4h1.2v1.2h-1.2zM284.8 182.3h1.2v1.2h-1.2zM287.7 172.0h1.2v1.2h-1.2zM281.8 168.6h1.2v1.2h-1.2zM281.7 168.5h1.2v1.2h-1.2zM287.5 169.2h1.2v1.2h-1.2zM280.4 165.6h1.2v1.2h-1.2zM282.7 167.0h1.2v1.2h-1.2zM281.9 175.7h1.2v1.2h-1.2zM285.2 173.3h1.2v1.2h-1.2zM285.1 171.3h1.2v1.2h-1.2zM282.2 169.6h1.2v1.2h-1.2zM287.6 166.1h1.2v1.2h-1.2zM291.0 171.2h1.2v1.2h-1.2zM278.5 168.8h1.2v1.2h-1.2zM278.9 171.7h1.2v1.2h-1.2zM278.7 176.1h1.2v1.2h-1.2zM278.3 160.8h1.2v1.2h-1.2zM278.6 162.0h1.2v1.2h-1.2zM282.8 175.8h1.2v1.2h-1.2zM286.9 165.0h1.2v1.2h-1.2zM278.4 179.0h1.2v1.2h-1.2zM284.9 171.0h1.2v1.2h-1.2zM289.3 182.0h1.2v1.2h-1.2zM290.8 171.6h1.2v1.2h-1.2zM285.1 173.8h1.2v1.2h-1.2zM279.3 166.2h1.2v1.2h-1.2zM283.3 166.7h1.2v1.2h-1.2zM282.6 171.4h1.2v1.2h-1.2zM297.0 167.2h1.2v1.2h-1.2zM282.3 170.3h1.2v1.2h-1.2zM285.6 175.7h1.2v1.2h-1.2zM280.1 167.3h1.2v1.2h-1.2zM273.2 166.8h1.2v1.2h-1.2zM286.2 171.2h1.2v1.2h-1.2zM276.9 169.3h1.2v1.2h-1.2zM265.5 150.3h1.2v1.2h-1.2zM278.5 164.2h1.2v1.2h-1.2zM268.1 159.4h1.2v1.2h-1.2zM294.8 157.0h1.2v1.2h-1.2zM257.7 122.8h1.2v1.2h-1.2zM263.1 134.2h1.2v1.2h-1.2zM257.7 173.8h1.2v1.2h-1.2zM285.3 127.4h1.2v1.2h-1.2zM266.9 152.0h1.2v1.2h-1.2zM293.6 123.0h1.2v1.2h-1.2zM293.3 176.4h1.2v1.2h-1.2zM295.2 130.3h1.2v1.2h-1.2zM265.3 144.6h1.2v1.2h-1.2zM254.0 152.8h1.2v1.2h-1.2zM271.1 163.1h1.2v1.2h-1.2zM296.4 176.2h1.2v1.2h-1.2zM287.6 164.2h1.2v1.2h-1.2zM256.6 140.8h1.2v1.2h-1.2zM284.9 124.5h1.2v1.2h-1.2zM294.4 162.4h1.2v1.2h-1.2zM296.6 178.4h1.2v1.2h-1.2zM285.5 121.0h1.2v1.2h-1.2zM292.0 166.5h1.2v1.2h-1.2zM291.0 130.6h1.2v1.2h-1.2zM269.8 147.6h1.2v1.2h-1.2zM258.4 151.4h1.2v1.2h-1.2zM286.0 156.9h1.2v1.2h-1.2zM260.0 179.4h1.2v1.2h-1.2zM270.9 161.2h1.2v1.2h-1.2zM297.8 143.5h1.2v1.2h-1.2zM278.6 162.9h1.2v1.2h-1.2zM277.0 148.0h1.2v1.2h-1.2zM295.7 144.8h1.2v1.2h-1.2zM266.5 141.9h1.2v1.2h-1.2zM298.0 149.6h1.2v1.2h-1.2zM294.1 136.9h1.2v1.2h-1.2zM270.0 134.5h1.2v1.2h-1.2zM268.4 128.9h1.2v1.2h-1.2zM259.6 146.4h1.2v1.2h-1.2zM294.3 137.6h1.2v1.2h-1.2zM262.2 170.2h1.2v1.2h-1.2zM254.4 170.9h1.2v1.2h-1.2zM293.2 140.6h1.2v1.2h-1.2zM280.3 157.1h1.2v1.2h-1.2zM283.6 174.1h1.2v1.2h-1.2zM286.3 141.5h1.2v1.2h-1.2zM255.9 153.3h1.2v1.2h-1.2zM258.0 146.6h1.2v1.2h-1.2zM276.0 159.0h1.2v1.2h-1.2zM256.2 177.6h1.2v1.2h-1.2z"/>
<path fill="#2626c4" d="M388.7 83.1h1.25v1.25h-1.25zM389.5 76.8h1.25v1.25h-1.25zM388.7 76.6h1.25v1.25h-1.25zM390.6 76.5h1.25v1.25h-1.25zM393.8 75.1h1.25v1.25h-1.25zM388.9 74.7h1.25v1.25h-1.25zM402.9 66.7h1.25v1.25h-1.25zM394.8 74.4h1.25v1.25h-1.25zM403.1 51.3h1.25v1.25h-1.25zM403.7 61.9h1.25v1.25h-1.25zM388.7 42.7h1.25v1.25h-1.25zM402.7 51.8h1.25v1.25h-1.25zM391.1 73.5h1.25v1.25h-1.25zM403.1 61.9h1.25v1.25h-1.25zM402.9 62.6h1.25v1.25h-1.25zM382.0 48.6h1.25v1.25h-1.25zM398.3 46.0h1.25v1.25h-1.25zM389.4 72.4h1.25v1.25h-1.25zM380.1 58.0h1.25v1.25h-1.25zM390.3 72.5h1.25v1.25h-1.25zM387.7 71.7h1.25v1.25h-1.25zM388.4 44.1h1.25v1.25h-1.25zM394.2 72.0h1.25v1.25h-1.25zM392.3 43.8h1.25v1.25h-1.25zM395.1 71.3h1.25v1.25h-1.25zM393.6 71.7h1.25v1.25h-1.25zM400.1 49.8h1.25v1.25h-1.25zM388.7 71.2h1.25v1.25h-1.25zM388.1 70.8h1.25v1.25h-1.25zM401.6 54.1h1.25v1.25h-1.25zM401.7 60.7h1.25v1.25h-1.25zM391.6 71.1h1.25v1.25h-1.25zM390.7 70.9h1.25v1.25h-1.25zM400.2 64.5h1.25v1.25h-1.25zM398.4 48.6h1.25v1.25h-1.25zM399.8 65.1h1.25v1.25h-1.25zM397.7 67.9h1.25v1.25h-1.25zM400.9 61.8h1.25v1.25h-1.25zM387.9 69.6h1.25v1.25h-1.25zM388.4 69.6h1.25v1.25h-1.25zM389.0 46.2h1.25v1.25h-1.25zM386.9 68.6h1.25v1.25h-1.25zM384.1 50.6h1.25v1.25h-1.25zM397.8 66.7h1.25v1.25h-1.25zM383.4 63.6h1.25v1.25h-1.25zM389.7 69.6h1.25v1.25h-1.25zM385.0 66.2h1.25v1.25h-1.25zM385.7 49.0h1.25v1.25h-1.25zM388.6 69.0h1.25v1.25h-1.25zM384.3 64.9h1.25v1.25h-1.25zM388.9 68.9h1.25v1.25h-1.25zM396.6 67.3h1.25v1.25h-1.25zM386.8 67.5h1.25v1.25h-1.25zM386.3 67.0h1.25v1.25h-1.25zM399.3 53.0h1.25v1.25h-1.25zM382.8 57.0h1.25v1.25h-1.25zM388.9 68.5h1.25v1.25h-1.25zM398.9 63.5h1.25v1.25h-1.25zM398.3 51.7h1.25v1.25h-1.25zM384.7 64.1h1.25v1.25h-1.25zM389.0 68.2h1.25v1.25h-1.25zM392.6 47.5h1.25v1.25h-1.25zM389.4 47.8h1.25v1.25h-1.25zM386.2 66.0h1.25v1.25h-1.25zM398.8 62.7h1.25v1.25h-1.25zM394.0 48.2h1.25v1.25h-1.25zM386.4 50.1h1.25v1.25h-1.25zM393.7 67.8h1.25v1.25h-1.25zM397.6 51.3h1.25v1.25h-1.25zM396.1 66.3h1.25v1.25h-1.25zM384.5 62.9h1.25v1.25h-1.25zM398.3 52.9h1.25v1.25h-1.25zM386.8 66.1h1.25v1.25h-1.25zM386.1 65.3h1.25v1.25h-1.25zM385.9 51.0h1.25v1.25h-1.25zM398.3 53.3h1.25v1.25h-1.25zM393.3 48.5h1.25v1.25h-1.25zM389.8 48.5h1.25v1.25h-1.25zM392.2 67.7h1.25v1.25h-1.25zM386.5 50.8h1.25v1.25h-1.25zM398.8 56.1h1.25v1.25h-1.25zM384.2 56.0h1.25v1.25h-1.25zM389.0 66.8h1.25v1.25h-1.25zM389.2 66.9h1.25v1.25h-1.25zM394.9 66.2h1.25v1.25h-1.25zM385.6 52.6h1.25v1.25h-1.25zM387.3 65.4h1.25v1.25h-1.25zM389.1 66.6h1.25v1.25h-1.25zM392.0 67.0h1.25v1.25h-1.25zM385.4 53.5h1.25v1.25h-1.25zM385.1 54.3h1.25v1.25h-1.25zM386.8 64.4h1.25v1.25h-1.25zM387.4 65.0h1.25v1.25h-1.25zM392.0 66.7h1.25v1.25h-1.25zM398.2 59.6h1.25v1.25h-1.25zM395.4 50.9h1.25v1.25h-1.25zM395.6 64.8h1.25v1.25h-1.25zM388.5 65.6h1.25v1.25h-1.25zM398.2 57.9h1.25v1.25h-1.25zM395.4 51.2h1.25v1.25h-1.25zM393.5 50.0h1.25v1.25h-1.25zM392.2 66.3h1.25v1.25h-1.25zM387.8 64.8h1.25v1.25h-1.25zM390.0 66.1h1.25v1.25h-1.25zM388.2 50.9h1.25v1.25h-1.25zM392.2 49.8h1.25v1.25h-1.25zM389.6 50.2h1.25v1.25h-1.25zM393.4 65.7h1.25v1.25h-1.25zM397.5 60.3h1.25v1.25h-1.25zM387.6 51.7h1.25v1.25h-1.25zM397.0 54.3h1.25v1.25h-1.25zM392.6 50.2h1.25v1.25h-1.25zM396.9 61.0h1.25v1.25h-1.25zM396.8 61.2h1.25v1.25h-1.25zM387.4 63.3h1.25v1.25h-1.25zM390.3 50.7h1.25v1.25h-1.25zM386.5 61.6h1.25v1.25h-1.25zM386.5 61.4h1.25v1.25h-1.25zM393.2 64.9h1.25v1.25h-1.25zM396.9 59.8h1.25v1.25h-1.25zM392.2 65.0h1.25v1.25h-1.25zM391.2 65.0h1.25v1.25h-1.25zM386.2 56.8h1.25v1.25h-1.25zM387.8 53.0h1.25v1.25h-1.25zM386.3 59.6h1.25v1.25h-1.25zM386.3 57.0h1.25v1.25h-1.25zM391.3 64.6h1.25v1.25h-1.25zM387.4 62.1h1.25v1.25h-1.25zM396.7 58.4h1.25v1.25h-1.25zM390.8 64.5h1.25v1.25h-1.25zM386.8 55.5h1.25v1.25h-1.25zM391.5 51.6h1.25v1.25h-1.25zM394.6 62.9h1.25v1.25h-1.25zM388.6 63.0h1.25v1.25h-1.25zM387.4 60.9h1.25v1.25h-1.25zM393.0 63.7h1.25v1.25h-1.25zM387.2 55.8h1.25v1.25h-1.25zM391.2 52.3h1.25v1.25h-1.25zM387.1 58.9h1.25v1.25h-1.25zM391.1 63.7h1.25v1.25h-1.25zM388.4 61.9h1.25v1.25h-1.25zM391.9 52.5h1.25v1.25h-1.25zM395.7 58.8h1.25v1.25h-1.25zM393.3 53.1h1.25v1.25h-1.25zM393.3 53.2h1.25v1.25h-1.25zM390.9 52.7h1.25v1.25h-1.25zM395.7 58.0h1.25v1.25h-1.25zM392.9 53.0h1.25v1.25h-1.25zM395.0 55.3h1.25v1.25h-1.25zM387.6 59.6h1.25v1.25h-1.25zM392.6 53.0h1.25v1.25h-1.25zM388.5 54.5h1.25v1.25h-1.25zM392.7 62.9h1.25v1.25h-1.25zM389.4 62.1h1.25v1.25h-1.25zM388.7 61.4h1.25v1.25h-1.25zM389.4 62.1h1.25v1.25h-1.25zM393.3 62.2h1.25v1.25h-1.25zM394.3 54.8h1.25v1.25h-1.25zM390.1 62.4h1.25v1.25h-1.25zM388.9 61.4h1.25v1.25h-1.25zM392.3 62.6h1.25v1.25h-1.25zM389.7 62.1h1.25v1.25h-1.25zM388.1 56.1h1.25v1.25h-1.25zM394.1 54.8h1.25v1.25h-1.25zM389.9 62.1h1.25v1.25h-1.25zM394.7 56.0h1.25v1.25h-1.25zM388.9 55.0h1.25v1.25h-1.25zM390.3 62.1h1.25v1.25h-1.25zM392.3 62.2h1.25v1.25h-1.25zM388.2 59.2h1.25v1.25h-1.25zM393.8 61.2h1.25v1.25h-1.25zM388.3 59.2h1.25v1.25h-1.25zM391.3 62.3h1.25v1.25h-1.25zM393.7 61.2h1.25v1.25h-1.25zM390.4 61.9h1.25v1.25h-1.25z"/>
<path fill="#3468e8" d="M388.8 59.8h1.25v1.25h-1.25zM391.8 54.1h1.25v1.25h-1.25zM394.5 57.4h1.25v1.25h-1.25zM388.5 58.1h1.25v1.25h-1.25zM394.3 57.2h1.25v1.25h-1.25zM394.4 58.1h1.25v1.25h-1.25zM390.0 55.2h1.25v1.25h-1.25zM391.5 61.3h1.25v1.25h-1.25zM391.1 61.1h1.25v1.25h-1.25zM393.3 60.1h1.25v1.25h-1.25z"/>
<path fill="#4aa8d8" d="M390.2 55.5h1.25v1.25h-1.25zM389.2 57.8h1.25v1.25h-1.25zM390.2 60.3h1.25v1.25h-1.25zM393.5 59.2h1.25v1.25h-1.25zM389.4 57.1h1.25v1.25h-1.25zM390.6 55.6h1.25v1.25h-1.25zM392.0 55.5h1.25v1.25h-1.25zM391.9 60.5h1.25v1.25h-1.25zM392.9 59.7h1.25v1.25h-1.25zM392.3 60.2h1.25v1.25h-1.25zM389.8 56.9h1.25v1.25h-1.25zM392.8 59.5h1.25v1.25h-1.25zM393.1 57.4h1.25v1.25h-1.25zM390.6 56.2h1.25v1.25h-1.25z"/>
<path fill="#78b860" d="M390.6 58.6h1.25v1.25h-1.25z"/>
<path fill="#d8c030" d="M391.1 56.9h1.25v1.25h-1.25zM391.6 56.8h1.25v1.25h-1.25zM390.9 58.8h1.25v1.25h-1.25zM390.8 57.4h1.25v1.25h-1.25zM391.9 59.0h1.25v1.25h-1.25zM391.8 57.1h1.25v1.25h-1.25zM391.4 57.1h1.25v1.25h-1.25zM391.3 57.3h1.25v1.25h-1.25zM391.7 57.4h1.25v1.25h-1.25zM391.3 58.6h1.25v1.25h-1.25z"/>
<path fill="#8888c8" d="M358.9 62.6h1.0v1.0h-1.0zM358.5 68.6h1.0v1.0h-1.0zM372.4 79.0h1.0v1.0h-1.0zM355.0 74.8h1.0v1.0h-1.0zM357.3 60.0h1.0v1.0h-1.0zM365.7 60.8h1.0v1.0h-1.0zM360.1 59.5h1.0v1.0h-1.0zM358.2 53.4h1.0v1.0h-1.0zM361.7 78.3h1.0v1.0h-1.0z"/>
<path fill="#2a2ad2" d="M388.7 144.4h1.25v1.25h-1.25zM394.2 147.5h1.25v1.25h-1.25zM394.2 147.6h1.25v1.25h-1.25zM393.8 148.4h1.25v1.25h-1.25zM395.4 142.9h1.25v1.25h-1.25zM396.5 143.2h1.25v1.25h-1.25zM390.4 142.9h1.25v1.25h-1.25zM391.7 148.1h1.25v1.25h-1.25zM388.2 149.7h1.25v1.25h-1.25zM393.1 145.6h1.25v1.25h-1.25zM384.1 149.4h1.25v1.25h-1.25zM392.5 142.3h1.25v1.25h-1.25zM388.2 139.2h1.25v1.25h-1.25zM392.7 142.5h1.25v1.25h-1.25zM391.6 139.1h1.25v1.25h-1.25zM393.4 143.6h1.25v1.25h-1.25zM392.8 141.6h1.25v1.25h-1.25zM392.8 152.5h1.25v1.25h-1.25zM387.7 145.2h1.25v1.25h-1.25zM389.1 143.4h1.25v1.25h-1.25zM398.0 147.7h1.25v1.25h-1.25zM386.6 142.4h1.25v1.25h-1.25zM397.0 146.2h1.25v1.25h-1.25zM395.9 146.9h1.25v1.25h-1.25zM388.4 146.7h1.25v1.25h-1.25zM384.8 144.4h1.25v1.25h-1.25zM393.7 141.9h1.25v1.25h-1.25zM399.1 141.4h1.25v1.25h-1.25zM390.6 148.8h1.25v1.25h-1.25zM398.2 143.3h1.25v1.25h-1.25zM388.1 148.8h1.25v1.25h-1.25zM395.3 141.6h1.25v1.25h-1.25zM390.5 149.6h1.25v1.25h-1.25zM390.3 142.4h1.25v1.25h-1.25zM389.1 144.3h1.25v1.25h-1.25zM392.6 145.2h1.25v1.25h-1.25zM396.4 145.2h1.25v1.25h-1.25zM387.0 149.5h1.25v1.25h-1.25zM395.1 145.0h1.25v1.25h-1.25zM394.1 142.1h1.25v1.25h-1.25zM389.8 149.7h1.25v1.25h-1.25zM384.8 141.9h1.25v1.25h-1.25zM393.8 141.7h1.25v1.25h-1.25zM388.4 142.4h1.25v1.25h-1.25zM385.4 145.0h1.25v1.25h-1.25zM390.9 147.1h1.25v1.25h-1.25zM385.1 151.8h1.25v1.25h-1.25zM386.0 145.0h1.25v1.25h-1.25zM393.6 144.0h1.25v1.25h-1.25zM389.2 153.2h1.25v1.25h-1.25zM389.0 147.8h1.25v1.25h-1.25zM394.3 148.8h1.25v1.25h-1.25zM391.5 149.0h1.25v1.25h-1.25zM390.7 149.8h1.25v1.25h-1.25zM388.4 146.0h1.25v1.25h-1.25zM398.2 142.7h1.25v1.25h-1.25zM395.2 151.1h1.25v1.25h-1.25zM391.5 142.7h1.25v1.25h-1.25zM392.1 141.0h1.25v1.25h-1.25zM397.0 146.5h1.25v1.25h-1.25zM388.7 145.0h1.25v1.25h-1.25zM392.1 145.2h1.25v1.25h-1.25zM389.1 148.8h1.25v1.25h-1.25zM384.1 148.3h1.25v1.25h-1.25zM389.8 145.6h1.25v1.25h-1.25zM390.7 141.7h1.25v1.25h-1.25zM393.2 143.9h1.25v1.25h-1.25zM387.3 143.2h1.25v1.25h-1.25zM388.1 148.7h1.25v1.25h-1.25zM388.4 147.5h1.25v1.25h-1.25zM396.5 146.2h1.25v1.25h-1.25zM396.2 141.8h1.25v1.25h-1.25zM389.5 150.2h1.25v1.25h-1.25zM394.2 147.8h1.25v1.25h-1.25zM393.3 148.6h1.25v1.25h-1.25zM395.4 145.8h1.25v1.25h-1.25zM393.8 145.6h1.25v1.25h-1.25zM392.6 145.6h1.25v1.25h-1.25zM394.0 142.3h1.25v1.25h-1.25zM397.1 141.9h1.25v1.25h-1.25zM394.6 143.4h1.25v1.25h-1.25zM393.7 151.2h1.25v1.25h-1.25zM388.6 142.8h1.25v1.25h-1.25zM388.7 146.0h1.25v1.25h-1.25zM398.9 141.9h1.25v1.25h-1.25zM393.1 141.1h1.25v1.25h-1.25zM393.7 146.6h1.25v1.25h-1.25zM396.4 140.3h1.25v1.25h-1.25zM393.9 145.1h1.25v1.25h-1.25zM388.1 147.4h1.25v1.25h-1.25zM387.1 140.0h1.25v1.25h-1.25zM394.3 145.8h1.25v1.25h-1.25zM388.0 142.9h1.25v1.25h-1.25zM396.8 143.4h1.25v1.25h-1.25zM397.0 147.2h1.25v1.25h-1.25zM391.0 148.6h1.25v1.25h-1.25zM390.6 145.8h1.25v1.25h-1.25zM391.2 145.7h1.25v1.25h-1.25zM395.4 143.7h1.25v1.25h-1.25zM390.6 145.1h1.25v1.25h-1.25zM391.3 142.5h1.25v1.25h-1.25zM389.8 146.3h1.25v1.25h-1.25zM389.5 146.3h1.25v1.25h-1.25zM392.5 151.9h1.25v1.25h-1.25zM396.5 144.1h1.25v1.25h-1.25zM394.6 151.3h1.25v1.25h-1.25zM392.4 144.7h1.25v1.25h-1.25zM393.0 145.7h1.25v1.25h-1.25zM396.1 142.8h1.25v1.25h-1.25zM397.1 139.2h1.25v1.25h-1.25zM392.3 141.6h1.25v1.25h-1.25zM397.0 141.2h1.25v1.25h-1.25zM392.7 148.0h1.25v1.25h-1.25zM394.0 140.2h1.25v1.25h-1.25zM388.3 142.5h1.25v1.25h-1.25zM391.8 145.0h1.25v1.25h-1.25zM389.3 144.4h1.25v1.25h-1.25zM389.1 144.3h1.25v1.25h-1.25zM395.5 148.4h1.25v1.25h-1.25zM385.0 148.9h1.25v1.25h-1.25zM390.9 147.6h1.25v1.25h-1.25zM388.1 146.9h1.25v1.25h-1.25zM389.1 149.3h1.25v1.25h-1.25zM391.6 144.9h1.25v1.25h-1.25zM392.3 144.2h1.25v1.25h-1.25zM387.3 150.0h1.25v1.25h-1.25zM392.2 144.6h1.25v1.25h-1.25zM396.6 146.8h1.25v1.25h-1.25zM386.7 145.5h1.25v1.25h-1.25zM398.7 146.2h1.25v1.25h-1.25zM387.3 143.8h1.25v1.25h-1.25zM388.7 145.4h1.25v1.25h-1.25zM386.3 148.6h1.25v1.25h-1.25zM385.5 144.8h1.25v1.25h-1.25zM393.5 142.0h1.25v1.25h-1.25zM392.2 147.3h1.25v1.25h-1.25zM393.7 143.1h1.25v1.25h-1.25zM390.4 143.3h1.25v1.25h-1.25zM398.2 143.9h1.25v1.25h-1.25zM387.9 147.6h1.25v1.25h-1.25zM394.6 145.4h1.25v1.25h-1.25zM399.6 145.6h1.25v1.25h-1.25zM389.6 146.3h1.25v1.25h-1.25zM387.7 148.6h1.25v1.25h-1.25zM396.1 152.2h1.25v1.25h-1.25zM388.7 139.9h1.25v1.25h-1.25zM389.5 147.1h1.25v1.25h-1.25zM386.1 145.6h1.25v1.25h-1.25zM390.8 147.1h1.25v1.25h-1.25zM389.6 143.5h1.25v1.25h-1.25zM391.0 152.8h1.25v1.25h-1.25zM387.7 147.7h1.25v1.25h-1.25zM387.0 159.9h1.25v1.25h-1.25zM384.8 155.6h1.25v1.25h-1.25zM390.9 153.7h1.25v1.25h-1.25zM389.6 149.3h1.25v1.25h-1.25zM392.4 162.6h1.25v1.25h-1.25zM389.6 145.5h1.25v1.25h-1.25zM386.3 161.9h1.25v1.25h-1.25zM393.5 157.8h1.25v1.25h-1.25zM392.2 152.4h1.25v1.25h-1.25zM388.5 156.0h1.25v1.25h-1.25zM390.1 146.8h1.25v1.25h-1.25zM391.4 163.9h1.25v1.25h-1.25zM386.0 147.9h1.25v1.25h-1.25zM389.9 152.1h1.25v1.25h-1.25zM382.8 160.9h1.25v1.25h-1.25zM389.4 153.1h1.25v1.25h-1.25zM394.5 156.8h1.25v1.25h-1.25zM387.0 156.6h1.25v1.25h-1.25zM386.3 151.4h1.25v1.25h-1.25zM390.0 152.7h1.25v1.25h-1.25zM387.8 166.0h1.25v1.25h-1.25zM391.2 160.8h1.25v1.25h-1.25zM390.4 158.9h1.25v1.25h-1.25zM392.8 155.9h1.25v1.25h-1.25zM393.8 150.3h1.25v1.25h-1.25zM388.3 147.7h1.25v1.25h-1.25zM388.1 159.1h1.25v1.25h-1.25zM392.8 152.0h1.25v1.25h-1.25zM389.0 153.8h1.25v1.25h-1.25zM387.1 148.9h1.25v1.25h-1.25zM389.2 145.6h1.25v1.25h-1.25zM389.3 156.1h1.25v1.25h-1.25zM387.3 149.9h1.25v1.25h-1.25zM385.4 167.2h1.25v1.25h-1.25zM385.5 165.3h1.25v1.25h-1.25zM390.6 153.8h1.25v1.25h-1.25zM386.0 162.3h1.25v1.25h-1.25zM393.5 150.4h1.25v1.25h-1.25zM388.2 162.3h1.25v1.25h-1.25zM389.9 168.0h1.25v1.25h-1.25zM387.5 159.3h1.25v1.25h-1.25zM385.7 168.6h1.25v1.25h-1.25zM387.1 142.8h1.25v1.25h-1.25zM388.7 155.2h1.25v1.25h-1.25zM394.0 154.0h1.25v1.25h-1.25zM389.0 159.6h1.25v1.25h-1.25zM393.1 155.6h1.25v1.25h-1.25zM391.7 159.1h1.25v1.25h-1.25zM369.5 149.4h1.25v1.25h-1.25zM363.2 152.0h1.25v1.25h-1.25zM373.1 163.2h1.25v1.25h-1.25z"/>
<path fill="#a0a0e0" fill-opacity="0.9" d="M228.3 370.1h1.0v1.0h-1.0zM228.0 381.8h1.0v1.0h-1.0zM220.4 373.2h1.0v1.0h-1.0zM219.6 379.4h1.0v1.0h-1.0zM225.5 378.4h1.0v1.0h-1.0zM227.0 374.2h1.0v1.0h-1.0zM222.4 369.2h1.0v1.0h-1.0zM225.6 377.8h1.0v1.0h-1.0zM218.5 382.8h1.0v1.0h-1.0zM225.1 362.9h1.0v1.0h-1.0zM221.2 369.7h1.0v1.0h-1.0zM227.4 389.4h1.0v1.0h-1.0zM217.9 377.4h1.0v1.0h-1.0zM219.5 378.8h1.0v1.0h-1.0zM224.9 383.4h1.0v1.0h-1.0zM215.1 384.9h1.0v1.0h-1.0zM215.4 378.4h1.0v1.0h-1.0zM228.0 380.6h1.0v1.0h-1.0zM215.4 373.5h1.0v1.0h-1.0zM218.2 376.7h1.0v1.0h-1.0zM227.9 370.5h1.0v1.0h-1.0zM223.8 380.0h1.0v1.0h-1.0zM224.3 379.3h1.0v1.0h-1.0zM230.1 379.4h1.0v1.0h-1.0zM226.1 379.8h1.0v1.0h-1.0zM231.8 367.5h1.0v1.0h-1.0zM228.7 375.7h1.0v1.0h-1.0zM219.3 372.2h1.0v1.0h-1.0zM209.8 375.1h1.0v1.0h-1.0zM216.9 379.5h1.0v1.0h-1.0zM212.2 384.2h1.0v1.0h-1.0zM222.6 375.8h1.0v1.0h-1.0zM216.7 373.1h1.0v1.0h-1.0zM214.2 374.3h1.0v1.0h-1.0zM221.0 376.1h1.0v1.0h-1.0zM212.5 375.7h1.0v1.0h-1.0zM215.6 377.8h1.0v1.0h-1.0zM232.2 380.1h1.0v1.0h-1.0zM219.1 368.9h1.0v1.0h-1.0zM212.5 368.6h1.0v1.0h-1.0zM225.4 373.2h1.0v1.0h-1.0zM221.4 373.9h1.0v1.0h-1.0zM221.5 384.0h1.0v1.0h-1.0zM216.9 375.3h1.0v1.0h-1.0zM216.2 381.4h1.0v1.0h-1.0zM214.8 371.3h1.0v1.0h-1.0zM212.7 370.0h1.0v1.0h-1.0zM223.8 389.8h1.0v1.0h-1.0zM215.0 381.8h1.0v1.0h-1.0zM222.5 371.5h1.0v1.0h-1.0zM219.3 375.8h1.0v1.0h-1.0zM216.9 386.7h1.0v1.0h-1.0zM209.6 378.9h1.0v1.0h-1.0zM223.0 374.1h1.0v1.0h-1.0zM221.9 381.4h1.0v1.0h-1.0zM221.9 379.1h1.0v1.0h-1.0zM225.2 366.8h1.0v1.0h-1.0zM229.9 388.4h1.0v1.0h-1.0zM226.9 382.1h1.0v1.0h-1.0zM212.6 376.4h1.0v1.0h-1.0zM216.1 374.1h1.0v1.0h-1.0zM226.8 373.0h1.0v1.0h-1.0zM220.2 367.5h1.0v1.0h-1.0zM220.0 377.5h1.0v1.0h-1.0zM216.8 373.4h1.0v1.0h-1.0zM232.3 371.0h1.0v1.0h-1.0zM214.7 373.0h1.0v1.0h-1.0zM228.2 387.5h1.0v1.0h-1.0zM223.0 373.4h1.0v1.0h-1.0zM218.4 382.3h1.0v1.0h-1.0z"/>
<path fill="#a8a8e4" fill-opacity="0.9" d="M241.4 384.3h1.0v1.0h-1.0zM253.1 377.4h1.0v1.0h-1.0zM249.2 380.7h1.0v1.0h-1.0zM253.8 371.7h1.0v1.0h-1.0zM251.9 375.1h1.0v1.0h-1.0zM242.2 377.5h1.0v1.0h-1.0zM244.9 372.1h1.0v1.0h-1.0zM238.0 372.3h1.0v1.0h-1.0zM253.3 386.8h1.0v1.0h-1.0zM249.3 382.9h1.0v1.0h-1.0zM243.4 376.6h1.0v1.0h-1.0zM247.4 371.6h1.0v1.0h-1.0zM241.1 377.5h1.0v1.0h-1.0zM244.4 371.7h1.0v1.0h-1.0zM247.9 375.7h1.0v1.0h-1.0zM251.1 377.0h1.0v1.0h-1.0zM244.5 377.6h1.0v1.0h-1.0zM245.1 373.7h1.0v1.0h-1.0zM244.0 380.7h1.0v1.0h-1.0zM249.2 383.4h1.0v1.0h-1.0zM237.5 375.0h1.0v1.0h-1.0zM243.9 377.9h1.0v1.0h-1.0zM243.7 374.4h1.0v1.0h-1.0zM249.9 377.9h1.0v1.0h-1.0zM240.2 383.7h1.0v1.0h-1.0zM251.0 374.1h1.0v1.0h-1.0zM250.2 373.3h1.0v1.0h-1.0zM251.6 375.9h1.0v1.0h-1.0zM242.0 375.1h1.0v1.0h-1.0zM242.2 378.0h1.0v1.0h-1.0zM246.9 377.2h1.0v1.0h-1.0zM243.2 358.7h1.0v1.0h-1.0zM246.5 367.5h1.0v1.0h-1.0zM247.2 382.7h1.0v1.0h-1.0zM247.4 375.1h1.0v1.0h-1.0zM245.1 376.3h1.0v1.0h-1.0zM243.3 374.1h1.0v1.0h-1.0zM241.4 382.9h1.0v1.0h-1.0zM245.9 381.8h1.0v1.0h-1.0zM244.7 377.4h1.0v1.0h-1.0zM245.1 379.3h1.0v1.0h-1.0zM250.1 378.2h1.0v1.0h-1.0zM242.6 373.1h1.0v1.0h-1.0zM254.3 375.6h1.0v1.0h-1.0zM244.5 384.3h1.0v1.0h-1.0zM251.4 379.7h1.0v1.0h-1.0zM244.0 388.8h1.0v1.0h-1.0zM248.0 379.7h1.0v1.0h-1.0zM245.1 369.9h1.0v1.0h-1.0zM239.3 379.0h1.0v1.0h-1.0zM248.0 375.8h1.0v1.0h-1.0zM240.1 369.8h1.0v1.0h-1.0zM244.4 369.7h1.0v1.0h-1.0zM250.5 382.8h1.0v1.0h-1.0zM260.1 381.4h1.0v1.0h-1.0z"/>
<path fill="#6a6ad2" fill-opacity="0.75" d="M219.7 389.6h1.0v1.0h-1.0zM204.0 391.0h1.0v1.0h-1.0zM222.0 398.8h1.0v1.0h-1.0zM226.4 396.9h1.0v1.0h-1.0zM224.2 397.3h1.0v1.0h-1.0zM231.0 388.7h1.0v1.0h-1.0zM220.5 387.1h1.0v1.0h-1.0zM231.9 400.5h1.0v1.0h-1.0zM227.1 388.0h1.0v1.0h-1.0zM224.0 392.8h1.0v1.0h-1.0zM223.4 393.1h1.0v1.0h-1.0zM225.9 392.0h1.0v1.0h-1.0zM227.7 395.2h1.0v1.0h-1.0zM221.4 393.4h1.0v1.0h-1.0zM220.6 398.1h1.0v1.0h-1.0zM221.5 395.5h1.0v1.0h-1.0zM220.8 386.6h1.0v1.0h-1.0zM228.0 388.7h1.0v1.0h-1.0zM226.7 396.1h1.0v1.0h-1.0zM213.9 389.3h1.0v1.0h-1.0zM220.2 389.9h1.0v1.0h-1.0zM216.5 397.7h1.0v1.0h-1.0zM221.7 395.9h1.0v1.0h-1.0zM220.6 395.5h1.0v1.0h-1.0zM218.9 393.9h1.0v1.0h-1.0zM226.2 394.2h1.0v1.0h-1.0zM220.5 388.6h1.0v1.0h-1.0zM223.9 395.7h1.0v1.0h-1.0zM221.6 390.2h1.0v1.0h-1.0zM226.0 406.4h1.0v1.0h-1.0zM221.3 395.7h1.0v1.0h-1.0zM225.1 381.2h1.0v1.0h-1.0zM223.7 390.5h1.0v1.0h-1.0zM230.6 392.7h1.0v1.0h-1.0zM218.7 392.9h1.0v1.0h-1.0zM223.9 391.2h1.0v1.0h-1.0zM222.7 387.2h1.0v1.0h-1.0zM221.8 397.9h1.0v1.0h-1.0zM233.8 397.5h1.0v1.0h-1.0zM224.5 399.9h1.0v1.0h-1.0zM228.6 402.3h1.0v1.0h-1.0zM229.0 393.4h1.0v1.0h-1.0zM224.4 394.9h1.0v1.0h-1.0zM224.7 395.0h1.0v1.0h-1.0zM218.7 383.5h1.0v1.0h-1.0zM219.3 383.9h1.0v1.0h-1.0zM223.4 394.0h1.0v1.0h-1.0zM213.8 397.4h1.0v1.0h-1.0zM227.8 394.5h1.0v1.0h-1.0zM232.2 403.4h1.0v1.0h-1.0zM216.4 399.2h1.0v1.0h-1.0zM225.4 396.1h1.0v1.0h-1.0zM228.1 390.4h1.0v1.0h-1.0zM219.7 389.9h1.0v1.0h-1.0zM218.8 393.5h1.0v1.0h-1.0zM215.0 388.8h1.0v1.0h-1.0zM226.2 393.6h1.0v1.0h-1.0zM225.1 384.6h1.0v1.0h-1.0zM218.7 391.2h1.0v1.0h-1.0zM223.2 391.1h1.0v1.0h-1.0zM228.1 393.7h1.0v1.0h-1.0zM223.1 394.1h1.0v1.0h-1.0zM226.9 391.6h1.0v1.0h-1.0zM229.2 396.3h1.0v1.0h-1.0zM223.8 394.2h1.0v1.0h-1.0zM225.9 399.1h1.0v1.0h-1.0zM228.2 395.9h1.0v1.0h-1.0zM227.8 394.6h1.0v1.0h-1.0zM229.9 393.9h1.0v1.0h-1.0zM211.6 400.7h1.0v1.0h-1.0zM223.6 388.1h1.0v1.0h-1.0zM221.9 389.6h1.0v1.0h-1.0zM234.6 396.5h1.0v1.0h-1.0zM214.4 396.7h1.0v1.0h-1.0zM220.8 403.6h1.0v1.0h-1.0zM217.2 382.8h1.0v1.0h-1.0zM223.4 392.3h1.0v1.0h-1.0zM220.7 383.3h1.0v1.0h-1.0zM225.3 402.4h1.0v1.0h-1.0zM212.5 399.9h1.0v1.0h-1.0zM219.9 405.7h1.0v1.0h-1.0zM225.4 393.1h1.0v1.0h-1.0zM229.1 396.6h1.0v1.0h-1.0zM219.7 397.6h1.0v1.0h-1.0zM220.2 385.1h1.0v1.0h-1.0zM234.2 392.3h1.0v1.0h-1.0zM219.7 395.7h1.0v1.0h-1.0zM214.4 387.2h1.0v1.0h-1.0zM220.3 391.4h1.0v1.0h-1.0zM223.4 399.6h1.0v1.0h-1.0zM220.4 396.5h1.0v1.0h-1.0zM226.3 388.6h1.0v1.0h-1.0zM224.3 389.3h1.0v1.0h-1.0zM228.9 396.3h1.0v1.0h-1.0zM223.1 387.3h1.0v1.0h-1.0zM223.6 390.2h1.0v1.0h-1.0zM226.9 393.4h1.0v1.0h-1.0zM218.5 398.6h1.0v1.0h-1.0zM227.0 391.0h1.0v1.0h-1.0zM229.4 392.5h1.0v1.0h-1.0zM221.3 394.6h1.0v1.0h-1.0zM218.9 391.8h1.0v1.0h-1.0zM222.1 401.7h1.0v1.0h-1.0zM231.2 392.7h1.0v1.0h-1.0zM231.9 393.8h1.0v1.0h-1.0zM225.1 398.4h1.0v1.0h-1.0zM224.6 406.1h1.0v1.0h-1.0zM224.3 388.0h1.0v1.0h-1.0zM230.2 391.9h1.0v1.0h-1.0zM221.3 379.0h1.0v1.0h-1.0zM228.5 398.1h1.0v1.0h-1.0zM227.4 398.9h1.0v1.0h-1.0zM232.3 393.8h1.0v1.0h-1.0zM228.2 390.3h1.0v1.0h-1.0zM221.1 399.3h1.0v1.0h-1.0zM225.2 387.3h1.0v1.0h-1.0zM225.0 393.1h1.0v1.0h-1.0zM218.5 396.2h1.0v1.0h-1.0zM220.8 386.1h1.0v1.0h-1.0zM216.9 402.8h1.0v1.0h-1.0zM214.7 395.1h1.0v1.0h-1.0zM226.4 397.2h1.0v1.0h-1.0zM216.3 392.4h1.0v1.0h-1.0zM223.8 398.0h1.0v1.0h-1.0zM219.5 388.2h1.0v1.0h-1.0zM228.5 399.5h1.0v1.0h-1.0zM225.0 391.0h1.0v1.0h-1.0zM225.2 394.5h1.0v1.0h-1.0zM227.6 387.8h1.0v1.0h-1.0zM223.6 393.2h1.0v1.0h-1.0zM216.9 395.1h1.0v1.0h-1.0zM223.2 391.9h1.0v1.0h-1.0zM225.2 386.9h1.0v1.0h-1.0zM222.7 396.2h1.0v1.0h-1.0zM224.6 399.4h1.0v1.0h-1.0zM216.4 386.5h1.0v1.0h-1.0zM224.3 396.3h1.0v1.0h-1.0zM234.7 397.1h1.0v1.0h-1.0zM218.2 398.0h1.0v1.0h-1.0zM218.3 386.6h1.0v1.0h-1.0zM237.4 395.6h1.0v1.0h-1.0zM226.9 396.8h1.0v1.0h-1.0zM233.0 395.4h1.0v1.0h-1.0zM229.7 388.9h1.0v1.0h-1.0zM215.3 401.1h1.0v1.0h-1.0zM231.1 396.6h1.0v1.0h-1.0zM224.2 394.8h1.0v1.0h-1.0zM219.2 401.7h1.0v1.0h-1.0zM226.6 396.5h1.0v1.0h-1.0zM225.1 399.2h1.0v1.0h-1.0zM225.8 397.7h1.0v1.0h-1.0zM216.6 396.6h1.0v1.0h-1.0zM235.0 391.4h1.0v1.0h-1.0zM222.3 398.5h1.0v1.0h-1.0zM228.3 397.1h1.0v1.0h-1.0zM214.1 396.5h1.0v1.0h-1.0zM216.5 389.9h1.0v1.0h-1.0zM226.0 392.5h1.0v1.0h-1.0zM227.5 409.7h1.0v1.0h-1.0zM227.3 397.6h1.0v1.0h-1.0zM218.1 390.8h1.0v1.0h-1.0zM217.1 391.3h1.0v1.0h-1.0zM217.0 390.7h1.0v1.0h-1.0zM221.9 389.0h1.0v1.0h-1.0zM215.2 387.2h1.0v1.0h-1.0zM225.5 394.3h1.0v1.0h-1.0zM228.6 399.2h1.0v1.0h-1.0zM221.1 397.4h1.0v1.0h-1.0zM215.1 405.4h1.0v1.0h-1.0zM229.6 392.9h1.0v1.0h-1.0z"/>
<path fill="#2626c4" d="M257.0 384.6h1.2v1.2h-1.2zM260.1 401.1h1.2v1.2h-1.2zM253.1 408.0h1.2v1.2h-1.2zM230.0 389.8h1.2v1.2h-1.2zM233.9 386.0h1.2v1.2h-1.2zM228.8 395.8h1.2v1.2h-1.2zM229.4 393.3h1.2v1.2h-1.2zM240.2 408.8h1.2v1.2h-1.2zM230.3 400.6h1.2v1.2h-1.2zM257.1 396.1h1.2v1.2h-1.2zM231.7 402.1h1.2v1.2h-1.2zM236.4 406.4h1.2v1.2h-1.2zM230.3 397.1h1.2v1.2h-1.2zM245.4 407.9h1.2v1.2h-1.2zM252.5 388.3h1.2v1.2h-1.2zM254.5 402.4h1.2v1.2h-1.2zM254.9 391.6h1.2v1.2h-1.2zM245.5 407.5h1.2v1.2h-1.2zM236.3 405.3h1.2v1.2h-1.2zM255.4 396.6h1.2v1.2h-1.2zM253.8 391.5h1.2v1.2h-1.2zM231.9 396.8h1.2v1.2h-1.2zM232.3 394.1h1.2v1.2h-1.2zM253.0 391.0h1.2v1.2h-1.2zM254.8 397.6h1.2v1.2h-1.2zM234.7 390.2h1.2v1.2h-1.2zM237.4 404.9h1.2v1.2h-1.2zM252.7 390.8h1.2v1.2h-1.2zM233.0 393.0h1.2v1.2h-1.2zM232.6 395.1h1.2v1.2h-1.2zM251.0 403.7h1.2v1.2h-1.2zM241.6 406.1h1.2v1.2h-1.2zM254.3 396.1h1.2v1.2h-1.2zM241.0 405.8h1.2v1.2h-1.2zM251.6 390.2h1.2v1.2h-1.2zM244.9 387.1h1.2v1.2h-1.2zM243.4 405.9h1.2v1.2h-1.2zM243.7 405.9h1.2v1.2h-1.2zM241.0 405.6h1.2v1.2h-1.2zM233.8 392.9h1.2v1.2h-1.2zM254.0 397.0h1.2v1.2h-1.2zM233.6 399.6h1.2v1.2h-1.2zM241.1 387.5h1.2v1.2h-1.2zM243.5 387.3h1.2v1.2h-1.2zM253.3 393.4h1.2v1.2h-1.2zM253.4 393.8h1.2v1.2h-1.2zM238.0 388.7h1.2v1.2h-1.2zM251.6 391.2h1.2v1.2h-1.2zM236.4 390.1h1.2v1.2h-1.2zM244.4 405.3h1.2v1.2h-1.2zM239.2 404.4h1.2v1.2h-1.2zM246.6 388.2h1.2v1.2h-1.2zM246.7 404.6h1.2v1.2h-1.2zM236.0 402.0h1.2v1.2h-1.2zM247.4 388.7h1.2v1.2h-1.2zM234.5 393.7h1.2v1.2h-1.2zM246.2 388.4h1.2v1.2h-1.2zM249.6 402.8h1.2v1.2h-1.2zM234.9 393.1h1.2v1.2h-1.2zM249.7 402.7h1.2v1.2h-1.2zM251.2 401.2h1.2v1.2h-1.2zM236.2 391.4h1.2v1.2h-1.2zM245.2 404.6h1.2v1.2h-1.2zM247.1 388.9h1.2v1.2h-1.2zM236.5 391.1h1.2v1.2h-1.2zM234.3 397.0h1.2v1.2h-1.2zM252.1 399.3h1.2v1.2h-1.2zM236.3 401.6h1.2v1.2h-1.2zM235.3 400.1h1.2v1.2h-1.2zM235.2 393.2h1.2v1.2h-1.2zM251.1 400.8h1.2v1.2h-1.2zM238.6 389.8h1.2v1.2h-1.2zM251.9 399.1h1.2v1.2h-1.2zM237.7 402.5h1.2v1.2h-1.2zM251.3 392.7h1.2v1.2h-1.2zM251.8 399.3h1.2v1.2h-1.2zM252.3 396.6h1.2v1.2h-1.2zM236.3 392.1h1.2v1.2h-1.2zM243.6 388.8h1.2v1.2h-1.2zM236.7 401.4h1.2v1.2h-1.2zM240.3 403.6h1.2v1.2h-1.2zM240.3 389.4h1.2v1.2h-1.2zM243.3 404.2h1.2v1.2h-1.2zM248.2 390.0h1.2v1.2h-1.2zM250.4 401.1h1.2v1.2h-1.2zM245.8 403.8h1.2v1.2h-1.2zM237.1 391.5h1.2v1.2h-1.2zM235.2 397.8h1.2v1.2h-1.2zM241.5 403.7h1.2v1.2h-1.2zM251.6 395.0h1.2v1.2h-1.2zM235.9 393.6h1.2v1.2h-1.2zM250.5 400.3h1.2v1.2h-1.2zM251.7 395.9h1.2v1.2h-1.2zM249.5 401.2h1.2v1.2h-1.2zM241.8 403.5h1.2v1.2h-1.2zM249.2 391.6h1.2v1.2h-1.2zM250.5 399.8h1.2v1.2h-1.2zM235.6 396.3h1.2v1.2h-1.2zM251.0 394.6h1.2v1.2h-1.2zM251.1 398.0h1.2v1.2h-1.2zM236.8 399.9h1.2v1.2h-1.2zM248.0 390.9h1.2v1.2h-1.2zM239.2 390.8h1.2v1.2h-1.2zM243.0 389.7h1.2v1.2h-1.2zM242.1 389.8h1.2v1.2h-1.2zM240.5 402.7h1.2v1.2h-1.2zM248.5 401.6h1.2v1.2h-1.2zM241.1 402.9h1.2v1.2h-1.2zM250.9 398.1h1.2v1.2h-1.2zM250.1 393.3h1.2v1.2h-1.2zM241.8 390.0h1.2v1.2h-1.2zM247.0 390.6h1.2v1.2h-1.2zM239.7 402.2h1.2v1.2h-1.2zM244.8 390.0h1.2v1.2h-1.2zM240.3 390.5h1.2v1.2h-1.2zM249.7 392.8h1.2v1.2h-1.2zM236.3 395.1h1.2v1.2h-1.2zM236.1 396.1h1.2v1.2h-1.2zM250.8 397.4h1.2v1.2h-1.2zM250.6 397.9h1.2v1.2h-1.2zM248.6 401.0h1.2v1.2h-1.2zM247.7 391.3h1.2v1.2h-1.2zM238.9 401.4h1.2v1.2h-1.2zM237.3 393.5h1.2v1.2h-1.2zM244.4 390.3h1.2v1.2h-1.2zM236.5 397.2h1.2v1.2h-1.2zM246.7 391.0h1.2v1.2h-1.2zM239.2 391.7h1.2v1.2h-1.2zM245.9 390.8h1.2v1.2h-1.2zM238.5 392.3h1.2v1.2h-1.2zM250.4 396.2h1.2v1.2h-1.2zM249.4 393.6h1.2v1.2h-1.2zM245.3 402.2h1.2v1.2h-1.2zM242.6 402.4h1.2v1.2h-1.2zM241.1 402.0h1.2v1.2h-1.2zM237.6 393.7h1.2v1.2h-1.2zM239.2 392.0h1.2v1.2h-1.2zM239.1 400.9h1.2v1.2h-1.2zM242.1 390.8h1.2v1.2h-1.2zM237.2 398.4h1.2v1.2h-1.2zM248.7 392.9h1.2v1.2h-1.2zM239.7 391.7h1.2v1.2h-1.2zM237.4 394.3h1.2v1.2h-1.2zM238.3 400.0h1.2v1.2h-1.2zM240.9 391.2h1.2v1.2h-1.2zM249.6 398.5h1.2v1.2h-1.2zM237.6 394.1h1.2v1.2h-1.2zM237.9 393.6h1.2v1.2h-1.2zM237.5 398.2h1.2v1.2h-1.2zM248.9 393.5h1.2v1.2h-1.2zM249.4 394.3h1.2v1.2h-1.2zM248.9 393.5h1.2v1.2h-1.2zM249.6 398.1h1.2v1.2h-1.2zM245.9 391.3h1.2v1.2h-1.2zM242.3 402.0h1.2v1.2h-1.2zM248.5 393.3h1.2v1.2h-1.2zM240.3 391.8h1.2v1.2h-1.2zM249.6 397.5h1.2v1.2h-1.2zM238.3 393.6h1.2v1.2h-1.2zM249.1 398.7h1.2v1.2h-1.2zM242.8 391.1h1.2v1.2h-1.2zM237.7 398.2h1.2v1.2h-1.2zM248.4 399.7h1.2v1.2h-1.2zM237.7 394.8h1.2v1.2h-1.2zM246.6 401.1h1.2v1.2h-1.2zM247.7 392.7h1.2v1.2h-1.2zM238.5 393.5h1.2v1.2h-1.2zM239.7 400.6h1.2v1.2h-1.2zM244.0 391.2h1.2v1.2h-1.2zM245.8 391.7h1.2v1.2h-1.2zM246.9 400.7h1.2v1.2h-1.2zM239.7 400.5h1.2v1.2h-1.2zM246.0 401.2h1.2v1.2h-1.2zM239.6 400.3h1.2v1.2h-1.2zM237.7 396.0h1.2v1.2h-1.2zM247.3 400.3h1.2v1.2h-1.2zM247.6 392.9h1.2v1.2h-1.2zM241.3 391.8h1.2v1.2h-1.2zM246.5 400.8h1.2v1.2h-1.2zM249.2 396.4h1.2v1.2h-1.2zM245.9 391.9h1.2v1.2h-1.2zM249.0 397.7h1.2v1.2h-1.2zM246.2 400.9h1.2v1.2h-1.2zM238.3 394.5h1.2v1.2h-1.2zM238.0 397.6h1.2v1.2h-1.2zM239.1 393.3h1.2v1.2h-1.2zM238.1 397.8h1.2v1.2h-1.2zM237.9 396.0h1.2v1.2h-1.2zM246.4 400.7h1.2v1.2h-1.2zM243.0 401.4h1.2v1.2h-1.2zM240.9 400.9h1.2v1.2h-1.2zM244.9 391.7h1.2v1.2h-1.2zM241.7 401.1h1.2v1.2h-1.2zM247.6 399.7h1.2v1.2h-1.2zM238.1 397.0h1.2v1.2h-1.2zM245.9 392.2h1.2v1.2h-1.2zM248.7 398.0h1.2v1.2h-1.2zM248.6 398.1h1.2v1.2h-1.2zM242.1 401.1h1.2v1.2h-1.2zM244.6 391.9h1.2v1.2h-1.2zM241.5 392.1h1.2v1.2h-1.2zM239.7 399.8h1.2v1.2h-1.2zM238.2 395.9h1.2v1.2h-1.2zM238.2 396.7h1.2v1.2h-1.2zM239.5 393.5h1.2v1.2h-1.2zM242.6 401.1h1.2v1.2h-1.2zM247.9 394.0h1.2v1.2h-1.2zM248.2 398.6h1.2v1.2h-1.2zM243.0 401.1h1.2v1.2h-1.2zM243.2 391.9h1.2v1.2h-1.2zM248.7 396.5h1.2v1.2h-1.2zM244.2 392.0h1.2v1.2h-1.2zM243.4 401.0h1.2v1.2h-1.2zM240.9 392.6h1.2v1.2h-1.2zM248.6 396.3h1.2v1.2h-1.2zM244.4 392.1h1.2v1.2h-1.2zM245.4 392.4h1.2v1.2h-1.2zM238.5 396.3h1.2v1.2h-1.2zM245.4 400.6h1.2v1.2h-1.2zM248.3 395.5h1.2v1.2h-1.2zM248.4 396.9h1.2v1.2h-1.2zM240.5 393.1h1.2v1.2h-1.2zM240.4 399.8h1.2v1.2h-1.2zM247.0 393.6h1.2v1.2h-1.2zM239.1 394.9h1.2v1.2h-1.2zM248.1 395.4h1.2v1.2h-1.2zM238.8 395.7h1.2v1.2h-1.2zM239.6 398.8h1.2v1.2h-1.2zM240.9 393.1h1.2v1.2h-1.2zM241.3 392.9h1.2v1.2h-1.2zM238.9 396.3h1.2v1.2h-1.2zM243.8 400.5h1.2v1.2h-1.2zM247.5 394.6h1.2v1.2h-1.2zM239.8 398.8h1.2v1.2h-1.2zM243.0 400.4h1.2v1.2h-1.2z"/>
<path fill="#3468e8" d="M244.0 392.8h1.2v1.2h-1.2zM246.2 399.2h1.2v1.2h-1.2zM246.0 399.4h1.2v1.2h-1.2zM239.4 396.2h1.2v1.2h-1.2zM247.4 395.5h1.2v1.2h-1.2zM246.9 394.6h1.2v1.2h-1.2zM241.7 393.3h1.2v1.2h-1.2zM239.6 395.9h1.2v1.2h-1.2zM242.2 399.8h1.2v1.2h-1.2zM241.7 399.6h1.2v1.2h-1.2zM241.6 393.5h1.2v1.2h-1.2zM247.4 396.8h1.2v1.2h-1.2zM242.3 393.2h1.2v1.2h-1.2zM246.7 398.3h1.2v1.2h-1.2zM244.5 393.2h1.2v1.2h-1.2zM242.2 393.3h1.2v1.2h-1.2zM242.3 393.3h1.2v1.2h-1.2zM247.3 396.2h1.2v1.2h-1.2zM243.4 399.8h1.2v1.2h-1.2zM242.9 399.8h1.2v1.2h-1.2zM239.9 397.2h1.2v1.2h-1.2zM243.9 393.2h1.2v1.2h-1.2zM245.2 393.6h1.2v1.2h-1.2zM246.1 394.2h1.2v1.2h-1.2zM242.9 393.3h1.2v1.2h-1.2zM241.3 398.9h1.2v1.2h-1.2zM240.0 395.8h1.2v1.2h-1.2zM243.8 393.4h1.2v1.2h-1.2zM244.1 393.5h1.2v1.2h-1.2zM245.0 399.3h1.2v1.2h-1.2zM246.9 396.9h1.2v1.2h-1.2zM246.9 395.8h1.2v1.2h-1.2zM246.0 394.4h1.2v1.2h-1.2zM244.9 399.2h1.2v1.2h-1.2zM243.6 399.5h1.2v1.2h-1.2zM246.4 398.0h1.2v1.2h-1.2zM246.3 394.9h1.2v1.2h-1.2zM240.3 395.7h1.2v1.2h-1.2zM246.7 395.8h1.2v1.2h-1.2zM246.0 394.7h1.2v1.2h-1.2z"/>
<path fill="#4aa8d8" d="M246.7 396.4h1.2v1.2h-1.2zM246.7 396.6h1.2v1.2h-1.2zM243.9 393.7h1.2v1.2h-1.2zM246.6 396.7h1.2v1.2h-1.2zM244.4 393.9h1.2v1.2h-1.2zM246.4 397.5h1.2v1.2h-1.2zM246.4 397.2h1.2v1.2h-1.2zM246.3 395.5h1.2v1.2h-1.2zM240.7 395.9h1.2v1.2h-1.2zM246.1 395.5h1.2v1.2h-1.2zM243.0 399.0h1.2v1.2h-1.2zM246.3 396.9h1.2v1.2h-1.2zM246.2 396.1h1.2v1.2h-1.2z"/>
<path fill="#78b860" d="M245.3 394.8h1.2v1.2h-1.2zM242.1 398.4h1.2v1.2h-1.2zM243.0 394.3h1.2v1.2h-1.2zM244.3 394.4h1.2v1.2h-1.2zM241.1 395.9h1.2v1.2h-1.2zM246.0 396.4h1.2v1.2h-1.2zM245.1 398.2h1.2v1.2h-1.2zM241.5 395.2h1.2v1.2h-1.2zM245.9 396.7h1.2v1.2h-1.2zM243.8 398.6h1.2v1.2h-1.2zM244.0 394.5h1.2v1.2h-1.2zM244.5 398.3h1.2v1.2h-1.2zM242.4 398.1h1.2v1.2h-1.2zM245.7 396.6h1.2v1.2h-1.2zM243.1 394.6h1.2v1.2h-1.2zM242.3 395.0h1.2v1.2h-1.2zM244.2 398.2h1.2v1.2h-1.2z"/>
<path fill="#d8c030" d="M245.5 396.4h1.2v1.2h-1.2zM244.0 398.1h1.2v1.2h-1.2zM242.0 395.6h1.2v1.2h-1.2zM244.6 395.2h1.2v1.2h-1.2zM242.2 395.4h1.2v1.2h-1.2zM242.5 397.7h1.2v1.2h-1.2zM244.8 395.5h1.2v1.2h-1.2zM244.7 397.5h1.2v1.2h-1.2zM243.8 395.1h1.2v1.2h-1.2zM243.8 397.9h1.2v1.2h-1.2z"/>
<path fill="#e89020" d="M244.8 396.3h1.2v1.2h-1.2zM244.8 396.5h1.2v1.2h-1.2zM243.6 395.3h1.2v1.2h-1.2zM243.3 395.4h1.2v1.2h-1.2zM243.4 397.7h1.2v1.2h-1.2zM244.2 395.6h1.2v1.2h-1.2zM244.3 397.3h1.2v1.2h-1.2zM243.2 395.5h1.2v1.2h-1.2zM244.0 395.6h1.2v1.2h-1.2zM243.1 395.6h1.2v1.2h-1.2zM243.5 397.3h1.2v1.2h-1.2zM243.0 396.2h1.2v1.2h-1.2zM243.5 397.0h1.2v1.2h-1.2zM243.4 396.7h1.2v1.2h-1.2zM243.7 396.6h1.2v1.2h-1.2z"/>
<path fill="#2626c4" d="M352.2 373.9h1.2v1.2h-1.2zM340.2 348.2h1.2v1.2h-1.2zM330.1 380.3h1.2v1.2h-1.2zM334.4 355.5h1.2v1.2h-1.2zM347.8 376.6h1.2v1.2h-1.2zM333.2 382.0h1.2v1.2h-1.2zM355.3 361.4h1.2v1.2h-1.2zM353.7 351.0h1.2v1.2h-1.2zM355.2 360.2h1.2v1.2h-1.2zM328.8 373.4h1.2v1.2h-1.2zM331.8 361.3h1.2v1.2h-1.2zM331.9 379.6h1.2v1.2h-1.2zM353.7 354.8h1.2v1.2h-1.2zM349.1 349.8h1.2v1.2h-1.2zM331.9 363.1h1.2v1.2h-1.2zM340.7 379.3h1.2v1.2h-1.2zM330.7 366.9h1.2v1.2h-1.2zM342.1 378.6h1.2v1.2h-1.2zM331.1 376.0h1.2v1.2h-1.2zM352.9 363.8h1.2v1.2h-1.2zM332.6 362.4h1.2v1.2h-1.2zM353.2 356.9h1.2v1.2h-1.2zM332.8 362.4h1.2v1.2h-1.2zM342.7 351.7h1.2v1.2h-1.2zM331.4 374.9h1.2v1.2h-1.2zM335.5 378.7h1.2v1.2h-1.2zM344.2 351.4h1.2v1.2h-1.2zM331.2 372.2h1.2v1.2h-1.2zM332.4 364.2h1.2v1.2h-1.2zM352.1 355.2h1.2v1.2h-1.2zM350.2 352.6h1.2v1.2h-1.2zM343.6 376.3h1.2v1.2h-1.2zM333.9 377.3h1.2v1.2h-1.2zM349.4 352.5h1.2v1.2h-1.2zM333.4 362.6h1.2v1.2h-1.2zM352.4 359.1h1.2v1.2h-1.2zM332.1 373.7h1.2v1.2h-1.2zM336.1 377.9h1.2v1.2h-1.2zM352.0 356.8h1.2v1.2h-1.2zM332.2 366.8h1.2v1.2h-1.2zM348.0 371.0h1.2v1.2h-1.2zM351.4 356.5h1.2v1.2h-1.2zM351.4 363.3h1.2v1.2h-1.2zM340.2 377.0h1.2v1.2h-1.2zM350.0 354.2h1.2v1.2h-1.2zM340.4 376.9h1.2v1.2h-1.2zM344.1 353.0h1.2v1.2h-1.2zM341.2 376.6h1.2v1.2h-1.2zM350.4 365.9h1.2v1.2h-1.2zM334.1 363.2h1.2v1.2h-1.2zM333.6 364.5h1.2v1.2h-1.2zM336.9 376.8h1.2v1.2h-1.2zM332.9 372.5h1.2v1.2h-1.2zM350.6 356.0h1.2v1.2h-1.2zM337.2 376.8h1.2v1.2h-1.2zM333.0 367.3h1.2v1.2h-1.2zM346.9 353.5h1.2v1.2h-1.2zM350.9 362.3h1.2v1.2h-1.2zM339.2 356.5h1.2v1.2h-1.2zM334.0 364.7h1.2v1.2h-1.2zM346.7 353.8h1.2v1.2h-1.2zM341.1 355.4h1.2v1.2h-1.2zM346.2 371.5h1.2v1.2h-1.2zM334.6 374.2h1.2v1.2h-1.2zM335.9 361.1h1.2v1.2h-1.2zM350.5 362.1h1.2v1.2h-1.2zM343.9 354.3h1.2v1.2h-1.2zM339.1 357.2h1.2v1.2h-1.2zM337.5 375.8h1.2v1.2h-1.2zM349.4 365.8h1.2v1.2h-1.2zM349.8 364.3h1.2v1.2h-1.2zM338.3 375.6h1.2v1.2h-1.2zM341.3 375.0h1.2v1.2h-1.2zM344.7 372.7h1.2v1.2h-1.2zM350.2 359.7h1.2v1.2h-1.2zM334.2 372.0h1.2v1.2h-1.2zM341.1 374.9h1.2v1.2h-1.2zM343.0 355.2h1.2v1.2h-1.2zM350.0 359.9h1.2v1.2h-1.2zM346.4 355.0h1.2v1.2h-1.2zM349.5 364.0h1.2v1.2h-1.2zM345.2 371.5h1.2v1.2h-1.2zM342.1 373.9h1.2v1.2h-1.2zM347.7 355.9h1.2v1.2h-1.2zM345.8 355.2h1.2v1.2h-1.2zM349.6 360.3h1.2v1.2h-1.2zM335.6 363.6h1.2v1.2h-1.2zM338.6 358.9h1.2v1.2h-1.2zM342.1 356.2h1.2v1.2h-1.2zM335.2 372.3h1.2v1.2h-1.2zM334.7 367.2h1.2v1.2h-1.2zM349.3 363.0h1.2v1.2h-1.2zM336.3 362.5h1.2v1.2h-1.2zM349.4 361.6h1.2v1.2h-1.2zM342.6 356.1h1.2v1.2h-1.2zM346.6 355.9h1.2v1.2h-1.2zM346.4 355.8h1.2v1.2h-1.2zM348.6 365.3h1.2v1.2h-1.2zM334.7 367.9h1.2v1.2h-1.2zM341.6 356.7h1.2v1.2h-1.2zM340.7 357.4h1.2v1.2h-1.2zM336.6 362.2h1.2v1.2h-1.2zM334.8 369.8h1.2v1.2h-1.2zM337.3 361.1h1.2v1.2h-1.2zM335.9 364.0h1.2v1.2h-1.2zM337.8 360.7h1.2v1.2h-1.2zM335.0 367.7h1.2v1.2h-1.2zM348.0 357.8h1.2v1.2h-1.2zM342.4 372.8h1.2v1.2h-1.2zM335.5 371.2h1.2v1.2h-1.2zM337.3 373.3h1.2v1.2h-1.2zM344.6 356.3h1.2v1.2h-1.2zM341.7 357.3h1.2v1.2h-1.2zM342.5 372.4h1.2v1.2h-1.2zM339.8 358.9h1.2v1.2h-1.2zM346.2 368.6h1.2v1.2h-1.2zM347.2 357.6h1.2v1.2h-1.2zM336.4 371.9h1.2v1.2h-1.2zM345.9 356.8h1.2v1.2h-1.2zM338.6 360.3h1.2v1.2h-1.2zM337.9 373.1h1.2v1.2h-1.2zM335.7 370.4h1.2v1.2h-1.2zM345.8 369.1h1.2v1.2h-1.2zM335.8 370.5h1.2v1.2h-1.2zM335.6 367.7h1.2v1.2h-1.2zM342.9 357.2h1.2v1.2h-1.2zM344.7 370.1h1.2v1.2h-1.2zM342.3 372.1h1.2v1.2h-1.2zM337.2 362.9h1.2v1.2h-1.2zM340.2 372.9h1.2v1.2h-1.2zM336.2 370.9h1.2v1.2h-1.2zM348.2 362.6h1.2v1.2h-1.2zM346.8 367.1h1.2v1.2h-1.2zM336.4 371.0h1.2v1.2h-1.2zM346.9 358.1h1.2v1.2h-1.2zM341.0 372.5h1.2v1.2h-1.2zM347.5 365.1h1.2v1.2h-1.2zM347.6 359.5h1.2v1.2h-1.2zM336.5 365.2h1.2v1.2h-1.2zM346.2 367.7h1.2v1.2h-1.2zM337.2 363.4h1.2v1.2h-1.2zM347.0 366.1h1.2v1.2h-1.2zM336.3 369.6h1.2v1.2h-1.2zM336.3 369.1h1.2v1.2h-1.2zM345.2 357.7h1.2v1.2h-1.2zM338.0 371.8h1.2v1.2h-1.2zM336.8 365.0h1.2v1.2h-1.2zM345.8 358.1h1.2v1.2h-1.2zM347.6 362.0h1.2v1.2h-1.2zM337.7 371.4h1.2v1.2h-1.2zM341.0 371.9h1.2v1.2h-1.2zM346.7 359.0h1.2v1.2h-1.2zM346.4 366.5h1.2v1.2h-1.2zM336.5 366.9h1.2v1.2h-1.2zM339.7 371.9h1.2v1.2h-1.2zM336.7 368.9h1.2v1.2h-1.2zM342.7 358.5h1.2v1.2h-1.2zM338.0 363.2h1.2v1.2h-1.2zM347.1 360.6h1.2v1.2h-1.2zM339.5 361.0h1.2v1.2h-1.2zM347.2 362.5h1.2v1.2h-1.2zM337.2 365.2h1.2v1.2h-1.2zM345.7 367.3h1.2v1.2h-1.2zM347.0 360.7h1.2v1.2h-1.2zM338.9 361.9h1.2v1.2h-1.2zM345.6 358.9h1.2v1.2h-1.2zM341.3 359.6h1.2v1.2h-1.2zM342.2 370.7h1.2v1.2h-1.2zM337.8 364.2h1.2v1.2h-1.2zM343.5 358.7h1.2v1.2h-1.2zM346.5 360.2h1.2v1.2h-1.2zM339.9 371.3h1.2v1.2h-1.2zM345.3 367.4h1.2v1.2h-1.2zM344.8 368.1h1.2v1.2h-1.2zM345.2 367.4h1.2v1.2h-1.2zM344.2 368.7h1.2v1.2h-1.2zM341.4 359.9h1.2v1.2h-1.2zM342.1 370.4h1.2v1.2h-1.2zM345.7 366.5h1.2v1.2h-1.2zM341.6 359.8h1.2v1.2h-1.2zM346.7 362.8h1.2v1.2h-1.2zM341.4 370.7h1.2v1.2h-1.2zM337.3 367.0h1.2v1.2h-1.2zM345.7 366.4h1.2v1.2h-1.2zM340.5 360.8h1.2v1.2h-1.2zM341.4 370.5h1.2v1.2h-1.2zM337.9 365.0h1.2v1.2h-1.2zM343.9 359.4h1.2v1.2h-1.2zM346.2 364.1h1.2v1.2h-1.2zM341.2 360.4h1.2v1.2h-1.2zM344.2 368.2h1.2v1.2h-1.2zM339.5 370.5h1.2v1.2h-1.2zM338.1 369.3h1.2v1.2h-1.2zM339.4 362.4h1.2v1.2h-1.2zM337.8 368.1h1.2v1.2h-1.2zM345.7 365.4h1.2v1.2h-1.2zM346.2 362.2h1.2v1.2h-1.2zM339.3 362.7h1.2v1.2h-1.2zM341.2 360.7h1.2v1.2h-1.2zM338.4 369.1h1.2v1.2h-1.2zM346.0 361.9h1.2v1.2h-1.2z"/>
<path fill="#3468e8" d="M339.4 370.0h1.2v1.2h-1.2zM345.8 364.6h1.2v1.2h-1.2zM345.9 364.3h1.2v1.2h-1.2zM344.8 360.4h1.2v1.2h-1.2zM338.2 366.4h1.2v1.2h-1.2zM343.2 368.4h1.2v1.2h-1.2zM342.4 369.1h1.2v1.2h-1.2zM342.2 360.6h1.2v1.2h-1.2zM342.8 368.6h1.2v1.2h-1.2zM341.0 369.6h1.2v1.2h-1.2zM338.4 367.2h1.2v1.2h-1.2zM344.4 360.7h1.2v1.2h-1.2zM339.1 368.9h1.2v1.2h-1.2zM345.2 361.8h1.2v1.2h-1.2zM344.6 360.9h1.2v1.2h-1.2zM345.1 361.6h1.2v1.2h-1.2zM338.6 366.3h1.2v1.2h-1.2zM339.5 363.5h1.2v1.2h-1.2zM345.4 362.6h1.2v1.2h-1.2zM341.5 369.1h1.2v1.2h-1.2zM338.7 366.6h1.2v1.2h-1.2zM340.4 362.5h1.2v1.2h-1.2z"/>
<path fill="#4aa8d8" d="M345.1 362.8h1.2v1.2h-1.2zM341.4 361.7h1.2v1.2h-1.2zM344.5 361.5h1.2v1.2h-1.2zM339.3 368.3h1.2v1.2h-1.2zM343.1 367.8h1.2v1.2h-1.2zM341.7 368.8h1.2v1.2h-1.2zM343.8 366.9h1.2v1.2h-1.2zM342.7 361.1h1.2v1.2h-1.2zM344.8 364.7h1.2v1.2h-1.2zM339.4 368.1h1.2v1.2h-1.2zM339.0 366.3h1.2v1.2h-1.2zM339.3 365.3h1.2v1.2h-1.2zM339.2 367.3h1.2v1.2h-1.2zM341.6 368.5h1.2v1.2h-1.2zM344.5 365.2h1.2v1.2h-1.2zM342.1 368.2h1.2v1.2h-1.2zM340.3 363.4h1.2v1.2h-1.2zM339.7 367.8h1.2v1.2h-1.2zM344.7 364.0h1.2v1.2h-1.2zM344.6 363.6h1.2v1.2h-1.2zM341.9 368.1h1.2v1.2h-1.2zM344.3 362.3h1.2v1.2h-1.2zM344.6 363.2h1.2v1.2h-1.2zM339.5 366.8h1.2v1.2h-1.2z"/>
<path fill="#78b860" d="M339.5 365.7h1.2v1.2h-1.2zM344.4 362.8h1.2v1.2h-1.2zM343.9 365.7h1.2v1.2h-1.2zM344.0 365.3h1.2v1.2h-1.2zM341.3 362.8h1.2v1.2h-1.2zM340.0 364.9h1.2v1.2h-1.2zM343.6 365.9h1.2v1.2h-1.2zM343.8 362.5h1.2v1.2h-1.2zM343.8 362.5h1.2v1.2h-1.2zM342.0 362.4h1.2v1.2h-1.2zM340.1 364.7h1.2v1.2h-1.2zM340.3 364.4h1.2v1.2h-1.2zM343.4 366.1h1.2v1.2h-1.2z"/>
<path fill="#d8c030" d="M340.2 367.0h1.2v1.2h-1.2zM340.0 366.3h1.2v1.2h-1.2zM342.9 362.5h1.2v1.2h-1.2zM343.8 363.5h1.2v1.2h-1.2zM340.8 367.2h1.2v1.2h-1.2zM340.4 365.6h1.2v1.2h-1.2zM341.7 366.9h1.2v1.2h-1.2zM341.3 363.8h1.2v1.2h-1.2zM341.9 366.8h1.2v1.2h-1.2z"/>
<path fill="#e89020" d="M341.9 366.7h1.2v1.2h-1.2zM341.7 366.6h1.2v1.2h-1.2zM341.7 366.5h1.2v1.2h-1.2zM342.5 363.9h1.2v1.2h-1.2zM341.3 365.5h1.2v1.2h-1.2zM342.7 364.3h1.2v1.2h-1.2zM342.6 365.0h1.2v1.2h-1.2zM342.3 365.6h1.2v1.2h-1.2zM342.6 364.7h1.2v1.2h-1.2zM342.2 365.1h1.2v1.2h-1.2z"/>
<path fill="#2626c4" d="M356.9 366.2h1.2v1.2h-1.2zM350.6 372.0h1.2v1.2h-1.2zM353.1 370.6h1.2v1.2h-1.2zM367.4 392.3h1.2v1.2h-1.2zM348.3 383.8h1.2v1.2h-1.2zM355.5 390.2h1.2v1.2h-1.2zM364.4 391.5h1.2v1.2h-1.2zM350.0 385.1h1.2v1.2h-1.2zM348.9 379.7h1.2v1.2h-1.2zM369.4 370.8h1.2v1.2h-1.2zM350.9 386.0h1.2v1.2h-1.2zM351.0 375.2h1.2v1.2h-1.2zM354.3 388.6h1.2v1.2h-1.2zM357.5 390.1h1.2v1.2h-1.2zM369.3 389.8h1.2v1.2h-1.2zM353.1 373.3h1.2v1.2h-1.2zM368.9 371.2h1.2v1.2h-1.2zM360.5 390.5h1.2v1.2h-1.2zM363.2 390.7h1.2v1.2h-1.2zM363.8 370.4h1.2v1.2h-1.2zM369.8 389.0h1.2v1.2h-1.2zM354.2 373.8h1.2v1.2h-1.2zM350.8 381.8h1.2v1.2h-1.2zM359.6 371.5h1.2v1.2h-1.2zM367.3 371.7h1.2v1.2h-1.2zM371.4 373.7h1.2v1.2h-1.2zM353.2 375.0h1.2v1.2h-1.2zM364.4 371.4h1.2v1.2h-1.2zM364.2 371.4h1.2v1.2h-1.2zM352.1 384.2h1.2v1.2h-1.2zM357.8 372.3h1.2v1.2h-1.2zM356.9 373.0h1.2v1.2h-1.2zM355.7 373.8h1.2v1.2h-1.2zM352.9 376.3h1.2v1.2h-1.2zM364.6 389.2h1.2v1.2h-1.2zM360.1 372.2h1.2v1.2h-1.2zM351.9 380.7h1.2v1.2h-1.2zM351.9 379.8h1.2v1.2h-1.2zM369.9 373.8h1.2v1.2h-1.2zM369.2 373.5h1.2v1.2h-1.2zM364.6 388.8h1.2v1.2h-1.2zM354.7 386.0h1.2v1.2h-1.2zM354.4 375.4h1.2v1.2h-1.2zM352.6 378.1h1.2v1.2h-1.2zM357.9 373.3h1.2v1.2h-1.2zM361.1 388.5h1.2v1.2h-1.2zM369.1 386.9h1.2v1.2h-1.2zM364.9 372.7h1.2v1.2h-1.2zM367.1 373.3h1.2v1.2h-1.2zM359.1 373.2h1.2v1.2h-1.2zM365.1 388.1h1.2v1.2h-1.2zM361.8 388.2h1.2v1.2h-1.2zM368.8 386.8h1.2v1.2h-1.2zM353.4 382.7h1.2v1.2h-1.2zM357.6 386.8h1.2v1.2h-1.2zM359.0 387.3h1.2v1.2h-1.2zM368.5 374.4h1.2v1.2h-1.2zM357.1 386.3h1.2v1.2h-1.2zM360.9 373.3h1.2v1.2h-1.2zM368.3 374.4h1.2v1.2h-1.2zM364.3 387.7h1.2v1.2h-1.2zM358.8 374.0h1.2v1.2h-1.2zM371.6 383.2h1.2v1.2h-1.2zM371.7 382.7h1.2v1.2h-1.2zM366.1 373.9h1.2v1.2h-1.2zM370.5 384.4h1.2v1.2h-1.2zM363.5 387.5h1.2v1.2h-1.2zM354.3 382.3h1.2v1.2h-1.2zM362.8 387.4h1.2v1.2h-1.2zM371.1 377.5h1.2v1.2h-1.2zM356.1 376.1h1.2v1.2h-1.2zM358.6 386.5h1.2v1.2h-1.2zM368.2 386.1h1.2v1.2h-1.2zM362.0 373.8h1.2v1.2h-1.2zM354.7 378.3h1.2v1.2h-1.2zM370.3 376.7h1.2v1.2h-1.2zM363.3 387.2h1.2v1.2h-1.2zM354.4 380.7h1.2v1.2h-1.2zM371.3 378.9h1.2v1.2h-1.2zM355.1 383.0h1.2v1.2h-1.2zM354.5 379.8h1.2v1.2h-1.2zM363.3 374.0h1.2v1.2h-1.2zM354.5 380.4h1.2v1.2h-1.2zM355.0 382.6h1.2v1.2h-1.2zM360.7 386.8h1.2v1.2h-1.2zM368.6 375.6h1.2v1.2h-1.2zM364.6 386.8h1.2v1.2h-1.2zM362.4 374.1h1.2v1.2h-1.2zM357.9 375.4h1.2v1.2h-1.2zM370.8 382.8h1.2v1.2h-1.2zM362.0 386.8h1.2v1.2h-1.2zM355.3 378.2h1.2v1.2h-1.2zM356.8 384.7h1.2v1.2h-1.2zM356.9 376.3h1.2v1.2h-1.2zM358.7 385.9h1.2v1.2h-1.2zM357.7 385.3h1.2v1.2h-1.2zM367.5 385.7h1.2v1.2h-1.2zM360.2 374.7h1.2v1.2h-1.2zM367.9 375.6h1.2v1.2h-1.2zM355.0 380.0h1.2v1.2h-1.2zM367.5 385.4h1.2v1.2h-1.2zM370.7 379.4h1.2v1.2h-1.2zM356.4 383.6h1.2v1.2h-1.2zM362.6 374.7h1.2v1.2h-1.2zM359.7 385.7h1.2v1.2h-1.2zM362.5 374.8h1.2v1.2h-1.2zM355.6 380.8h1.2v1.2h-1.2zM368.9 383.9h1.2v1.2h-1.2zM368.5 376.7h1.2v1.2h-1.2zM370.3 380.4h1.2v1.2h-1.2zM356.1 378.8h1.2v1.2h-1.2zM364.8 375.1h1.2v1.2h-1.2zM369.4 378.0h1.2v1.2h-1.2zM367.5 376.3h1.2v1.2h-1.2zM357.6 384.0h1.2v1.2h-1.2zM362.9 375.1h1.2v1.2h-1.2zM369.8 381.8h1.2v1.2h-1.2zM359.7 375.8h1.2v1.2h-1.2zM360.2 385.4h1.2v1.2h-1.2zM356.1 381.0h1.2v1.2h-1.2zM356.1 380.8h1.2v1.2h-1.2zM369.7 379.3h1.2v1.2h-1.2zM358.7 384.6h1.2v1.2h-1.2zM365.6 375.6h1.2v1.2h-1.2zM356.2 381.0h1.2v1.2h-1.2zM364.5 385.6h1.2v1.2h-1.2zM356.6 378.8h1.2v1.2h-1.2zM360.2 375.8h1.2v1.2h-1.2zM364.5 385.6h1.2v1.2h-1.2zM360.4 375.7h1.2v1.2h-1.2zM368.2 377.2h1.2v1.2h-1.2zM369.4 379.0h1.2v1.2h-1.2zM365.1 385.4h1.2v1.2h-1.2zM362.9 375.4h1.2v1.2h-1.2zM368.3 377.4h1.2v1.2h-1.2zM360.2 375.9h1.2v1.2h-1.2zM369.1 378.7h1.2v1.2h-1.2zM364.6 385.3h1.2v1.2h-1.2zM367.2 384.3h1.2v1.2h-1.2zM357.4 378.0h1.2v1.2h-1.2zM358.3 383.9h1.2v1.2h-1.2zM362.0 385.4h1.2v1.2h-1.2zM357.3 378.4h1.2v1.2h-1.2zM367.0 376.8h1.2v1.2h-1.2zM369.2 379.7h1.2v1.2h-1.2zM362.1 375.7h1.2v1.2h-1.2zM356.8 381.3h1.2v1.2h-1.2zM363.3 385.3h1.2v1.2h-1.2zM366.5 376.5h1.2v1.2h-1.2zM364.3 375.8h1.2v1.2h-1.2zM357.7 378.0h1.2v1.2h-1.2zM357.9 377.7h1.2v1.2h-1.2zM356.9 379.6h1.2v1.2h-1.2zM362.9 375.8h1.2v1.2h-1.2zM357.0 381.6h1.2v1.2h-1.2zM364.7 376.0h1.2v1.2h-1.2zM368.5 382.3h1.2v1.2h-1.2zM368.9 381.3h1.2v1.2h-1.2zM358.0 382.8h1.2v1.2h-1.2zM365.8 376.5h1.2v1.2h-1.2zM368.8 379.8h1.2v1.2h-1.2zM358.3 383.2h1.2v1.2h-1.2zM368.1 382.6h1.2v1.2h-1.2zM363.7 384.9h1.2v1.2h-1.2zM365.2 384.6h1.2v1.2h-1.2zM357.9 378.4h1.2v1.2h-1.2zM363.1 384.9h1.2v1.2h-1.2zM359.1 383.7h1.2v1.2h-1.2zM362.8 384.8h1.2v1.2h-1.2zM363.2 376.2h1.2v1.2h-1.2zM357.9 379.0h1.2v1.2h-1.2zM367.9 378.5h1.2v1.2h-1.2zM363.6 384.7h1.2v1.2h-1.2zM364.8 384.4h1.2v1.2h-1.2zM361.1 376.6h1.2v1.2h-1.2zM368.2 379.4h1.2v1.2h-1.2zM367.4 378.1h1.2v1.2h-1.2zM366.0 383.8h1.2v1.2h-1.2zM366.8 383.2h1.2v1.2h-1.2zM367.1 378.1h1.2v1.2h-1.2zM358.0 381.4h1.2v1.2h-1.2zM363.7 376.7h1.2v1.2h-1.2zM367.4 382.5h1.2v1.2h-1.2zM364.3 376.8h1.2v1.2h-1.2zM358.0 380.5h1.2v1.2h-1.2zM362.0 376.8h1.2v1.2h-1.2zM366.9 382.8h1.2v1.2h-1.2zM366.8 382.9h1.2v1.2h-1.2zM367.8 381.2h1.2v1.2h-1.2z"/>
<path fill="#3468e8" d="M366.6 383.0h1.2v1.2h-1.2zM365.6 383.6h1.2v1.2h-1.2zM365.1 383.7h1.2v1.2h-1.2zM360.6 383.6h1.2v1.2h-1.2zM359.4 378.3h1.2v1.2h-1.2zM363.8 384.0h1.2v1.2h-1.2zM367.3 379.2h1.2v1.2h-1.2zM359.8 383.0h1.2v1.2h-1.2zM367.3 379.4h1.2v1.2h-1.2zM365.0 383.6h1.2v1.2h-1.2zM367.4 381.3h1.2v1.2h-1.2zM366.2 378.1h1.2v1.2h-1.2zM365.1 377.5h1.2v1.2h-1.2zM360.7 383.3h1.2v1.2h-1.2zM362.6 383.8h1.2v1.2h-1.2zM358.8 381.1h1.2v1.2h-1.2zM365.1 383.4h1.2v1.2h-1.2zM364.5 377.4h1.2v1.2h-1.2zM361.5 377.4h1.2v1.2h-1.2zM363.5 383.7h1.2v1.2h-1.2zM358.9 381.3h1.2v1.2h-1.2zM362.4 377.5h1.2v1.2h-1.2zM366.8 381.5h1.2v1.2h-1.2zM366.2 382.3h1.2v1.2h-1.2zM359.3 379.5h1.2v1.2h-1.2zM359.2 381.1h1.2v1.2h-1.2zM360.0 382.4h1.2v1.2h-1.2zM365.9 382.4h1.2v1.2h-1.2zM365.3 382.8h1.2v1.2h-1.2z"/>
<path fill="#4aa8d8" d="M362.7 377.6h1.2v1.2h-1.2zM360.3 382.4h1.2v1.2h-1.2zM360.5 382.6h1.2v1.2h-1.2zM362.6 383.3h1.2v1.2h-1.2zM360.6 382.6h1.2v1.2h-1.2zM360.7 382.6h1.2v1.2h-1.2zM364.0 377.9h1.2v1.2h-1.2zM359.5 380.7h1.2v1.2h-1.2zM359.6 380.7h1.2v1.2h-1.2zM361.8 383.0h1.2v1.2h-1.2zM366.4 380.3h1.2v1.2h-1.2zM361.2 382.7h1.2v1.2h-1.2zM362.4 378.0h1.2v1.2h-1.2zM364.7 378.4h1.2v1.2h-1.2zM365.5 382.0h1.2v1.2h-1.2zM366.2 380.2h1.2v1.2h-1.2zM360.2 379.5h1.2v1.2h-1.2zM366.1 380.5h1.2v1.2h-1.2zM366.0 380.0h1.2v1.2h-1.2zM360.2 381.5h1.2v1.2h-1.2z"/>
<path fill="#78b860" d="M361.2 382.3h1.2v1.2h-1.2zM360.4 379.3h1.2v1.2h-1.2zM362.9 382.8h1.2v1.2h-1.2zM360.9 382.0h1.2v1.2h-1.2zM361.7 378.6h1.2v1.2h-1.2zM365.2 381.8h1.2v1.2h-1.2zM365.1 379.2h1.2v1.2h-1.2zM362.1 378.6h1.2v1.2h-1.2zM364.8 381.9h1.2v1.2h-1.2zM360.6 379.8h1.2v1.2h-1.2zM364.2 382.2h1.2v1.2h-1.2z"/>
<path fill="#d8c030" d="M364.2 378.9h1.2v1.2h-1.2zM365.1 381.2h1.2v1.2h-1.2zM360.7 380.6h1.2v1.2h-1.2zM362.3 379.0h1.2v1.2h-1.2zM364.6 381.5h1.2v1.2h-1.2zM361.7 381.7h1.2v1.2h-1.2zM361.1 380.5h1.2v1.2h-1.2zM364.7 380.0h1.2v1.2h-1.2zM363.0 381.8h1.2v1.2h-1.2z"/>
<path fill="#e89020" d="M363.8 379.5h1.2v1.2h-1.2zM362.6 379.4h1.2v1.2h-1.2zM362.4 381.4h1.2v1.2h-1.2zM362.0 380.6h1.2v1.2h-1.2zM363.0 379.8h1.2v1.2h-1.2zM362.9 379.8h1.2v1.2h-1.2zM362.2 380.5h1.2v1.2h-1.2zM363.1 380.1h1.2v1.2h-1.2z"/>
<rect x="74.20" y="347.20" width="74.50" height="75.60" fill="none" stroke="#555" stroke-width="0.8"/>
<rect x="199.60" y="345.90" width="77.30" height="77.80" fill="none" stroke="#555" stroke-width="0.8"/>
<rect x="297.50" y="347.50" width="75.50" height="75.50" fill="none" stroke="#555" stroke-width="0.8"/>
<polygon points="118.70,354.20 144.00,354.20 144.00,391.30 125.50,391.30 118.70,376.00" fill="none" stroke="#333" stroke-width="0.8"/>
<text x="116.50" y="361.00" font-size="8" text-anchor="end" fill="#000" stroke="#000" stroke-width="0.28" font-weight="bold">1.8%</text>
<line x1="140.00" y1="367.20" x2="161.50" y2="367.20" stroke="#000" stroke-width="0.9"/>
<polygon points="165.50,367.20 159.50,364.60 159.50,369.80" fill="#000"/>
<text x="64.20" y="412.80" font-size="9.3" text-anchor="middle" fill="#000" stroke="#000" stroke-width="0.28" font-weight="bold" transform="rotate(-90 64.2 412.8)">CD27</text>
<polyline points="61.30,426.00 61.30,438.80 72.50,438.80" fill="none" stroke="#000" stroke-width="1.15"/>
<text x="74.00" y="441.80" font-size="9.3" text-anchor="start" fill="#000" stroke="#000" stroke-width="0.28" font-weight="bold">CD38</text>
<text x="232.50" y="340.00" font-size="9.3" text-anchor="start" fill="#000" stroke="#000" stroke-width="0.28" font-weight="bold">gated on CD27hiCD38hi</text>
<rect x="210.6" y="343.6" width="149.4" height="1.6" fill="#111"/>
<rect x="200.40" y="347.50" width="33.90" height="39.40" fill="none" stroke="#4a5a8a" stroke-width="1.2"/>
<rect x="234.30" y="347.50" width="37.00" height="39.40" fill="none" stroke="#6a7a40" stroke-width="1.2"/>
<rect x="199.90" y="387.80" width="31.20" height="34.60" fill="none" stroke="#84397f" stroke-width="1.6"/>
<rect x="231.10" y="387.80" width="42.30" height="34.60" fill="none" stroke="#c9a736" stroke-width="1.5"/>
<text x="209.80" y="359.00" font-size="8" text-anchor="start" fill="#000" stroke="#000" stroke-width="0.28" font-weight="bold">7.4%</text>
<text x="243.70" y="361.00" font-size="8" text-anchor="start" fill="#000" stroke="#000" stroke-width="0.28" font-weight="bold">4.2%</text>
<text x="204.30" y="417.80" font-size="8" text-anchor="start" fill="#000" stroke="#000" stroke-width="0.28" font-weight="bold">19.4%</text>
<text x="248.20" y="419.70" font-size="8" text-anchor="start" fill="#000" stroke="#000" stroke-width="0.28" font-weight="bold">69.1%</text>
<text x="189.80" y="410.20" font-size="9.3" text-anchor="middle" fill="#000" stroke="#000" stroke-width="0.28" font-weight="bold" transform="rotate(-90 189.8 410.2)">CD138</text>
<polyline points="187.70,425.30 187.70,438.20 201.30,438.20" fill="none" stroke="#000" stroke-width="1.15"/>
<text x="202.00" y="441.20" font-size="9.3" text-anchor="start" fill="#000" stroke="#000" stroke-width="0.28" font-weight="bold">CD19</text>
<polygon points="314.50,349.50 365.00,349.50 336.00,388.75 314.50,388.75" fill="none" stroke="#333" stroke-width="0.8"/>
<polygon points="338.75,396.00 338.75,388.50 370.00,348.50 371.50,348.50 371.50,396.00" fill="none" stroke="#333" stroke-width="0.8"/>
<text x="297.30" y="369.60" font-size="8.1" text-anchor="start" fill="#000" stroke="#000" stroke-width="0.28" font-weight="bold">59%</text>
<text x="348.80" y="403.80" font-size="8.1" text-anchor="start" fill="#000" stroke="#000" stroke-width="0.28" font-weight="bold">41%</text>
<text x="289.50" y="406.20" font-size="9.3" text-anchor="middle" fill="#000" stroke="#000" stroke-width="0.28" font-weight="bold" transform="rotate(-90 289.5 406.2)">cyt κ LC</text>
<polyline points="284.60,424.70 284.60,439.20 297.30,439.20" fill="none" stroke="#000" stroke-width="1.15"/>
<text x="299.50" y="441.00" font-size="9.3" text-anchor="start" fill="#000" stroke="#000" stroke-width="0.28" font-weight="bold">cyt λ LC</text>
<text x="4.20" y="473.40" font-size="13.5" text-anchor="start" fill="#000" stroke="#000" stroke-width="0.28" font-weight="bold">D</text>
<text transform="translate(112.30 477.60) scale(1.0 1.15)" font-size="8.15" text-anchor="end" fill="#5a6e96" stroke="#5a6e96" stroke-width="0.28" font-weight="bold">CD19-CD138+ PC</text>
<text transform="translate(112.30 486.80) scale(1.0 1.15)" font-size="8.15" text-anchor="end" fill="#b05aa8" stroke="#b05aa8" stroke-width="0.28" font-weight="bold">CD19-CD138- Pre-PC</text>
<text transform="translate(112.30 496.00) scale(1.0 1.15)" font-size="8.15" text-anchor="end" fill="#4e5e40" stroke="#4e5e40" stroke-width="0.28" font-weight="bold">CD19+CD138+ PC</text>
<text transform="translate(112.30 505.20) scale(1.0 1.15)" font-size="8.15" text-anchor="end" fill="#e0aa68" stroke="#e0aa68" stroke-width="0.28" font-weight="bold">CD19+CD138- PBL</text>
<text transform="translate(112.30 514.40) scale(1.0 1.15)" font-size="8.15" text-anchor="end" fill="#a02828" stroke="#a02828" stroke-width="0.28" font-weight="bold">CD19+CD27+CD38- memory</text>
<text transform="translate(112.30 523.60) scale(1.0 1.15)" font-size="8.15" text-anchor="end" fill="#6e8ec8" stroke="#6e8ec8" stroke-width="0.28" font-weight="bold">CD19+CD27-CD38- naive</text>
</svg></body></html>
